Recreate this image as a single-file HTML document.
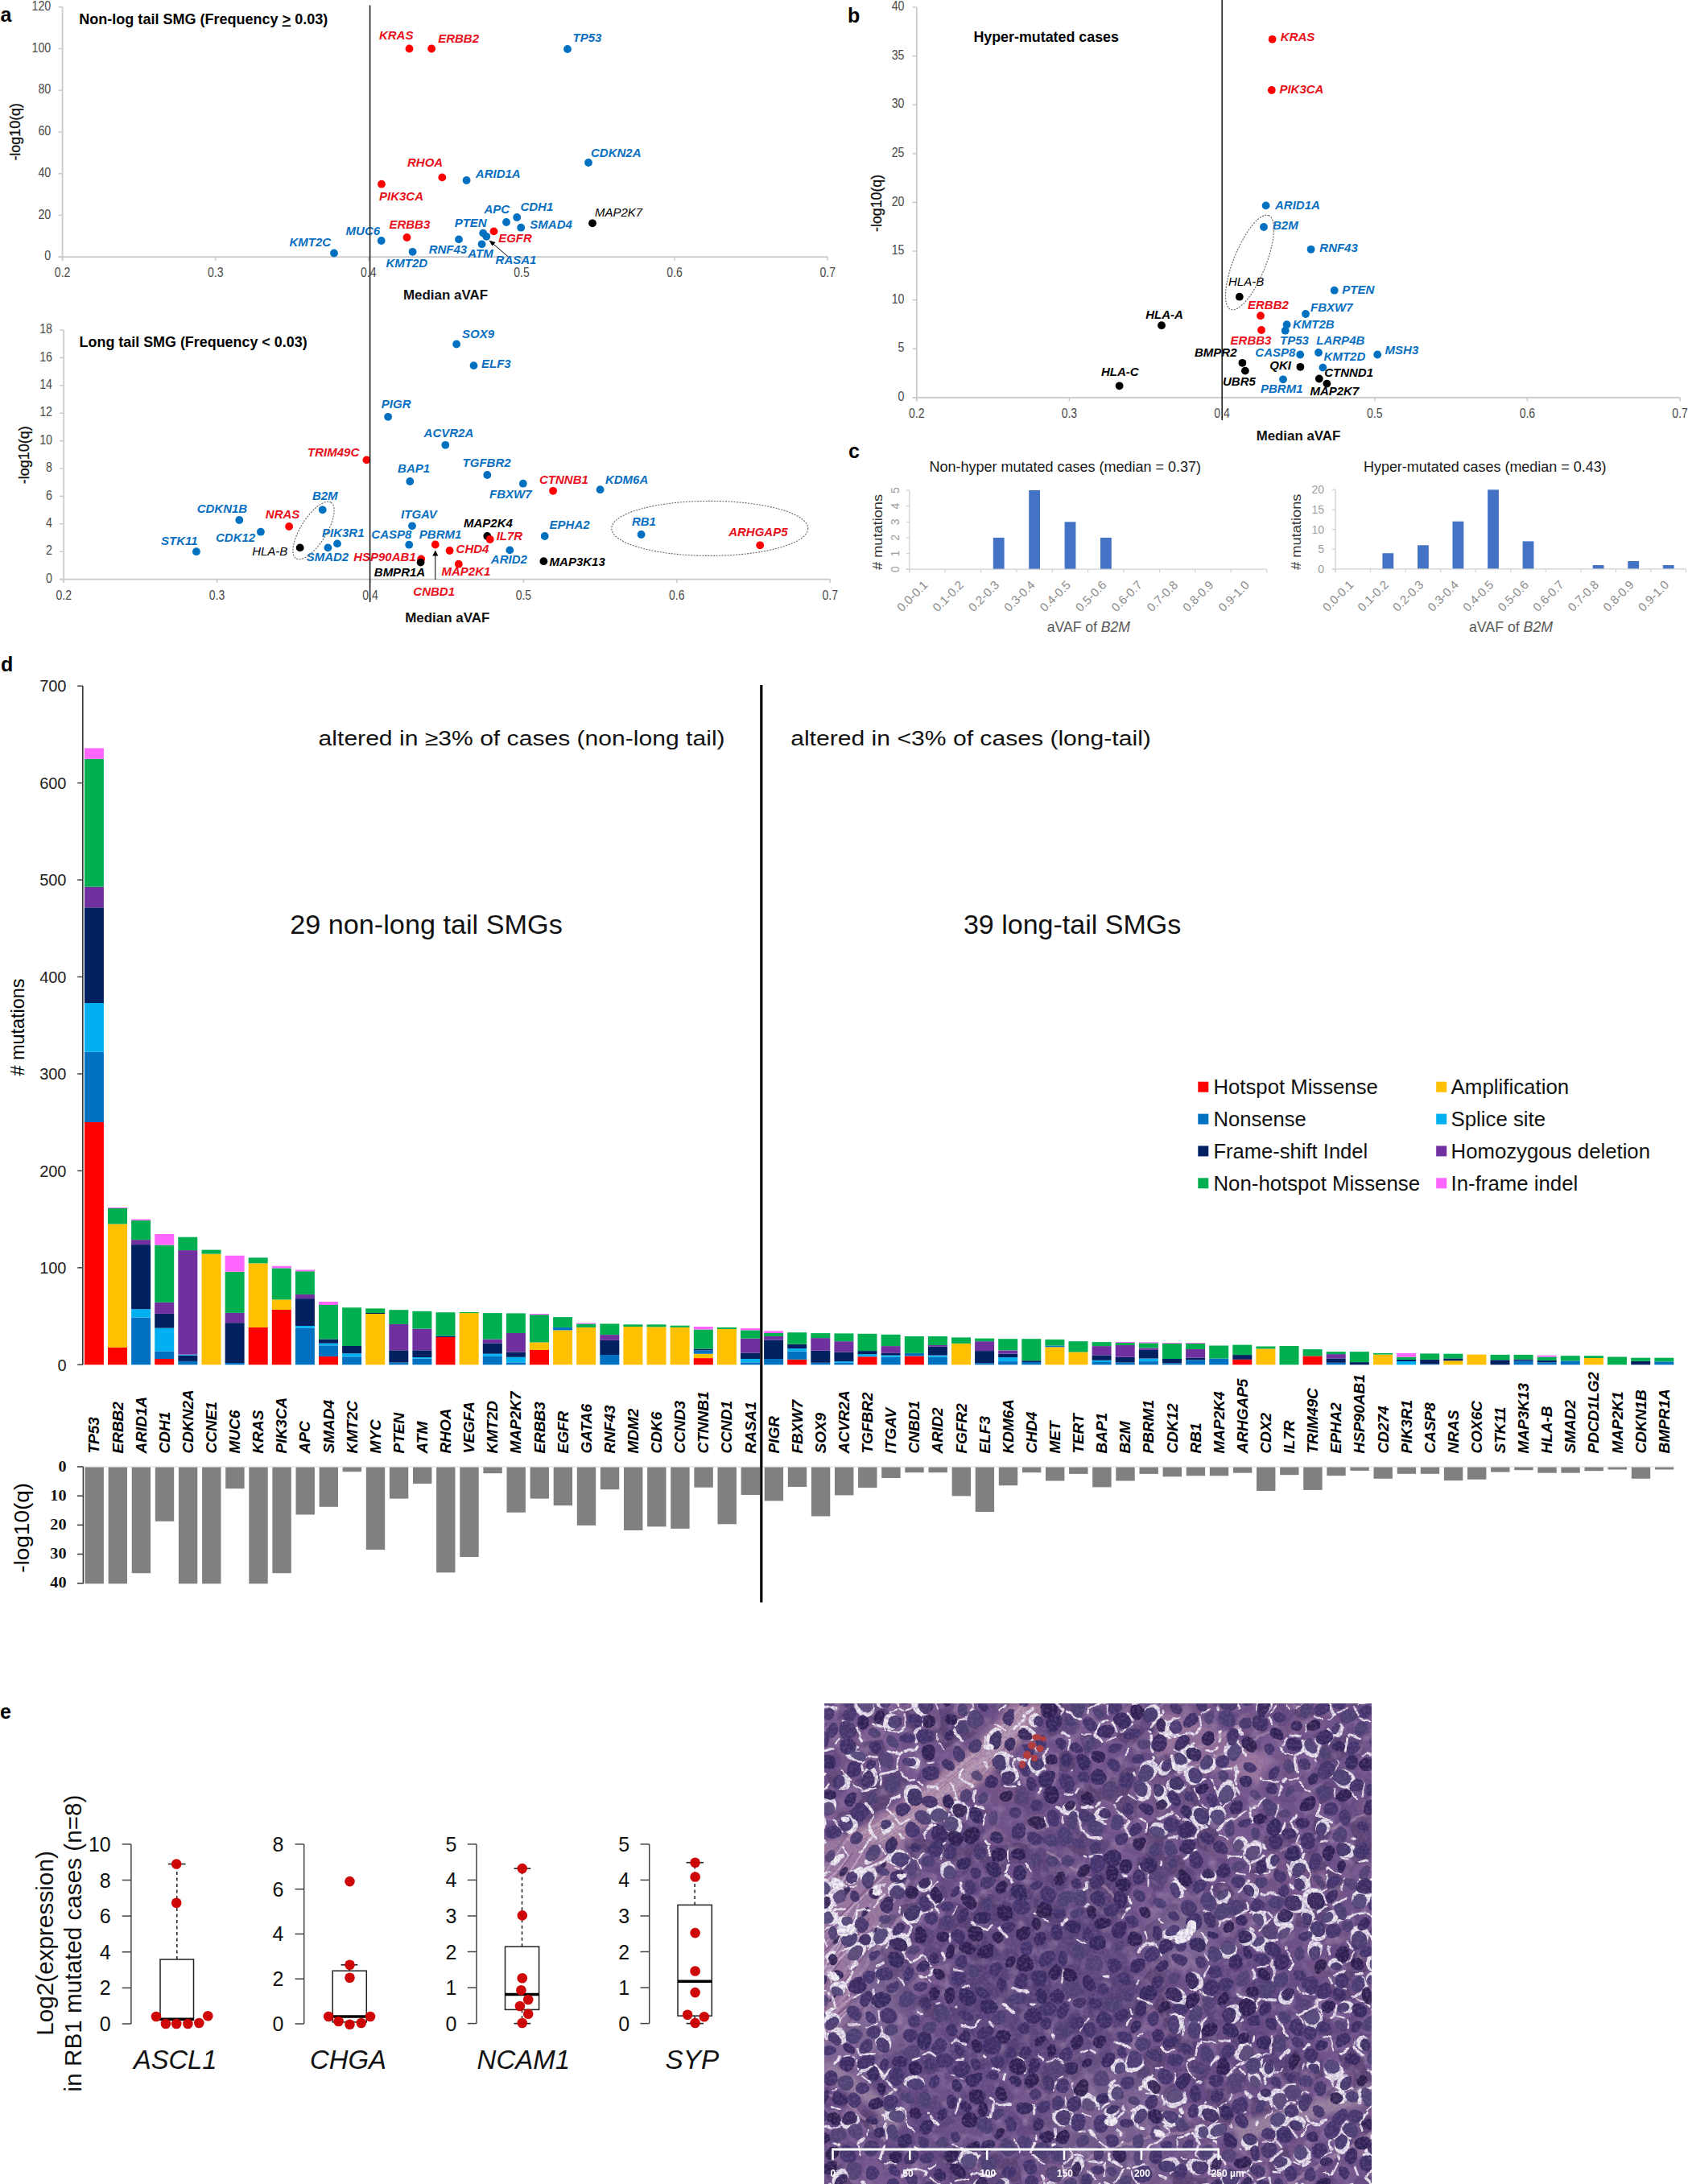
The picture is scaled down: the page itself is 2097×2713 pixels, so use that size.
<!DOCTYPE html>
<html><head><meta charset="utf-8"><title>Figure</title>
<style>
html,body{margin:0;padding:0;background:#fff;}
body{width:2097px;height:2713px;overflow:hidden;}
svg{display:block;}
</style></head><body>
<svg width="2097" height="2713" viewBox="0 0 2097 2713" font-family='"Liberation Sans", Arial, sans-serif'>
<rect width="2097" height="2713" fill="#fff"/>
<line x1="77.6" y1="8.8" x2="77.6" y2="323.6" stroke="#c8c8c8" stroke-width="1.7"/>
<line x1="72.6" y1="319.1" x2="77.6" y2="319.1" stroke="#c8c8c8" stroke-width="1.5"/>
<text x="63.2" y="323.3" font-size="16" fill="#4a4a4a" text-anchor="end" textLength="7.9" lengthAdjust="spacingAndGlyphs">0</text>
<line x1="72.6" y1="267.4" x2="77.6" y2="267.4" stroke="#c8c8c8" stroke-width="1.5"/>
<text x="63.2" y="271.6" font-size="16" fill="#4a4a4a" text-anchor="end" textLength="15.8" lengthAdjust="spacingAndGlyphs">20</text>
<line x1="72.6" y1="215.7" x2="77.6" y2="215.7" stroke="#c8c8c8" stroke-width="1.5"/>
<text x="63.2" y="219.9" font-size="16" fill="#4a4a4a" text-anchor="end" textLength="15.8" lengthAdjust="spacingAndGlyphs">40</text>
<line x1="72.6" y1="163.9" x2="77.6" y2="163.9" stroke="#c8c8c8" stroke-width="1.5"/>
<text x="63.2" y="168.1" font-size="16" fill="#4a4a4a" text-anchor="end" textLength="15.8" lengthAdjust="spacingAndGlyphs">60</text>
<line x1="72.6" y1="112.2" x2="77.6" y2="112.2" stroke="#c8c8c8" stroke-width="1.5"/>
<text x="63.2" y="116.4" font-size="16" fill="#4a4a4a" text-anchor="end" textLength="15.8" lengthAdjust="spacingAndGlyphs">80</text>
<line x1="72.6" y1="60.5" x2="77.6" y2="60.5" stroke="#c8c8c8" stroke-width="1.5"/>
<text x="63.2" y="64.7" font-size="16" fill="#4a4a4a" text-anchor="end" textLength="23.7" lengthAdjust="spacingAndGlyphs">100</text>
<line x1="72.6" y1="8.8" x2="77.6" y2="8.8" stroke="#c8c8c8" stroke-width="1.5"/>
<text x="63.2" y="13" font-size="16" fill="#4a4a4a" text-anchor="end" textLength="23.7" lengthAdjust="spacingAndGlyphs">120</text>
<line x1="72.6" y1="319.1" x2="1028.2" y2="319.1" stroke="#c8c8c8" stroke-width="1.7"/>
<line x1="77.6" y1="319.1" x2="77.6" y2="323.6" stroke="#c8c8c8" stroke-width="1.5"/>
<text x="77.6" y="343.8" font-size="16" fill="#4a4a4a" text-anchor="middle" textLength="19.5" lengthAdjust="spacingAndGlyphs">0.2</text>
<line x1="267.7" y1="319.1" x2="267.7" y2="323.6" stroke="#c8c8c8" stroke-width="1.5"/>
<text x="267.7" y="343.8" font-size="16" fill="#4a4a4a" text-anchor="middle" textLength="19.5" lengthAdjust="spacingAndGlyphs">0.3</text>
<line x1="457.8" y1="319.1" x2="457.8" y2="323.6" stroke="#c8c8c8" stroke-width="1.5"/>
<text x="457.8" y="343.8" font-size="16" fill="#4a4a4a" text-anchor="middle" textLength="19.5" lengthAdjust="spacingAndGlyphs">0.4</text>
<line x1="648" y1="319.1" x2="648" y2="323.6" stroke="#c8c8c8" stroke-width="1.5"/>
<text x="648" y="343.8" font-size="16" fill="#4a4a4a" text-anchor="middle" textLength="19.5" lengthAdjust="spacingAndGlyphs">0.5</text>
<line x1="838.1" y1="319.1" x2="838.1" y2="323.6" stroke="#c8c8c8" stroke-width="1.5"/>
<text x="838.1" y="343.8" font-size="16" fill="#4a4a4a" text-anchor="middle" textLength="19.5" lengthAdjust="spacingAndGlyphs">0.6</text>
<line x1="1028.2" y1="319.1" x2="1028.2" y2="323.6" stroke="#c8c8c8" stroke-width="1.5"/>
<text x="1028.2" y="343.8" font-size="16" fill="#4a4a4a" text-anchor="middle" textLength="19.5" lengthAdjust="spacingAndGlyphs">0.7</text>
<text x="98.3" y="30.3" font-size="17.5" fill="#000" font-weight="bold" textLength="309" lengthAdjust="spacingAndGlyphs">Non-log tail SMG (Frequency <tspan text-decoration="underline">&gt;</tspan> 0.03)</text>
<text x="25" y="163.8" font-size="17.5" fill="#111" text-anchor="middle" textLength="71.6" lengthAdjust="spacingAndGlyphs" transform="rotate(-90 25 163.8)" stroke="#111" stroke-width="0.3">-log10(q)</text>
<text x="500.9" y="372" font-size="17" fill="#111" font-weight="bold" textLength="105.2" lengthAdjust="spacingAndGlyphs">Median aVAF</text>
<text x="0.5" y="26.5" font-size="25" fill="#000" font-weight="bold">a</text>
<circle cx="508.5" cy="60.5" r="4.9" fill="#ff0000"/>
<text x="470.9" y="48.8" font-size="15" fill="#e8101a" font-weight="bold" font-style="italic">KRAS</text>
<circle cx="536.1" cy="60.5" r="4.9" fill="#ff0000"/>
<text x="544.2" y="52.7" font-size="15" fill="#e8101a" font-weight="bold" font-style="italic">ERBB2</text>
<circle cx="705" cy="61" r="4.9" fill="#0070c0"/>
<text x="711.6" y="52" font-size="15" fill="#0a6fbf" font-weight="bold" font-style="italic">TP53</text>
<circle cx="731" cy="202" r="4.9" fill="#0070c0"/>
<text x="734" y="194.8" font-size="15" fill="#0a6fbf" font-weight="bold" font-style="italic">CDKN2A</text>
<circle cx="549.3" cy="220.4" r="4.9" fill="#ff0000"/>
<text x="506" y="207.3" font-size="15" fill="#e8101a" font-weight="bold" font-style="italic">RHOA</text>
<circle cx="579.6" cy="224" r="4.9" fill="#0070c0"/>
<text x="590.8" y="220.9" font-size="15" fill="#0a6fbf" font-weight="bold" font-style="italic">ARID1A</text>
<circle cx="474" cy="228.7" r="4.9" fill="#ff0000"/>
<text x="471" y="248.8" font-size="15" fill="#e8101a" font-weight="bold" font-style="italic">PIK3CA</text>
<circle cx="629" cy="276" r="4.9" fill="#0070c0"/>
<text x="601.4" y="265.4" font-size="15" fill="#0a6fbf" font-weight="bold" font-style="italic">APC</text>
<circle cx="642.2" cy="270" r="4.9" fill="#0070c0"/>
<text x="646.4" y="261.8" font-size="15" fill="#0a6fbf" font-weight="bold" font-style="italic">CDH1</text>
<circle cx="647.2" cy="282.7" r="4.9" fill="#0070c0"/>
<text x="658.3" y="284.4" font-size="15" fill="#0a6fbf" font-weight="bold" font-style="italic">SMAD4</text>
<circle cx="736" cy="277.3" r="4.9" fill="#000000"/>
<text x="738.9" y="269" font-size="15" fill="#000" font-style="italic">MAP2K7</text>
<circle cx="600.2" cy="289.6" r="4.9" fill="#0070c0"/>
<circle cx="604.3" cy="293.8" r="4.9" fill="#0070c0"/>
<text x="564.7" y="282" font-size="15" fill="#0a6fbf" font-weight="bold" font-style="italic">PTEN</text>
<circle cx="613.5" cy="287.4" r="4.9" fill="#ff0000"/>
<text x="619.2" y="301" font-size="15" fill="#e8101a" font-weight="bold" font-style="italic">EGFR</text>
<circle cx="505.5" cy="295" r="4.9" fill="#ff0000"/>
<text x="483.4" y="284.4" font-size="15" fill="#e8101a" font-weight="bold" font-style="italic">ERBB3</text>
<circle cx="473.7" cy="299" r="4.9" fill="#0070c0"/>
<text x="429.6" y="291.5" font-size="15" fill="#0a6fbf" font-weight="bold" font-style="italic">MUC6</text>
<circle cx="570" cy="297.4" r="4.9" fill="#0070c0"/>
<text x="532.7" y="315.2" font-size="15" fill="#0a6fbf" font-weight="bold" font-style="italic">RNF43</text>
<circle cx="598.6" cy="303.3" r="4.9" fill="#0070c0"/>
<text x="581.3" y="320.4" font-size="15" fill="#0a6fbf" font-weight="bold" font-style="italic">ATM</text>
<text x="615.6" y="328.2" font-size="15" fill="#0a6fbf" font-weight="bold" font-style="italic">RASA1</text>
<circle cx="512.6" cy="312.8" r="4.9" fill="#0070c0"/>
<text x="479.4" y="331.8" font-size="15" fill="#0a6fbf" font-weight="bold" font-style="italic">KMT2D</text>
<circle cx="415" cy="314.5" r="4.9" fill="#0070c0"/>
<text x="359.5" y="306" font-size="15" fill="#0a6fbf" font-weight="bold" font-style="italic">KMT2C</text>
<line x1="631" y1="318.7" x2="611" y2="301.5" stroke="#000" stroke-width="1"/>
<polygon points="607.5,298.5 615.5,301 611.5,305.5" fill="#000"/>
<line x1="79.2" y1="410" x2="79.2" y2="724.1" stroke="#c8c8c8" stroke-width="1.7"/>
<line x1="74.2" y1="719.6" x2="79.2" y2="719.6" stroke="#c8c8c8" stroke-width="1.5"/>
<text x="65" y="723.8" font-size="16" fill="#4a4a4a" text-anchor="end" textLength="7.9" lengthAdjust="spacingAndGlyphs">0</text>
<line x1="74.2" y1="685.2" x2="79.2" y2="685.2" stroke="#c8c8c8" stroke-width="1.5"/>
<text x="65" y="689.4" font-size="16" fill="#4a4a4a" text-anchor="end" textLength="7.9" lengthAdjust="spacingAndGlyphs">2</text>
<line x1="74.2" y1="650.8" x2="79.2" y2="650.8" stroke="#c8c8c8" stroke-width="1.5"/>
<text x="65" y="655" font-size="16" fill="#4a4a4a" text-anchor="end" textLength="7.9" lengthAdjust="spacingAndGlyphs">4</text>
<line x1="74.2" y1="616.4" x2="79.2" y2="616.4" stroke="#c8c8c8" stroke-width="1.5"/>
<text x="65" y="620.6" font-size="16" fill="#4a4a4a" text-anchor="end" textLength="7.9" lengthAdjust="spacingAndGlyphs">6</text>
<line x1="74.2" y1="582" x2="79.2" y2="582" stroke="#c8c8c8" stroke-width="1.5"/>
<text x="65" y="586.2" font-size="16" fill="#4a4a4a" text-anchor="end" textLength="7.9" lengthAdjust="spacingAndGlyphs">8</text>
<line x1="74.2" y1="547.6" x2="79.2" y2="547.6" stroke="#c8c8c8" stroke-width="1.5"/>
<text x="65" y="551.8" font-size="16" fill="#4a4a4a" text-anchor="end" textLength="15.8" lengthAdjust="spacingAndGlyphs">10</text>
<line x1="74.2" y1="513.2" x2="79.2" y2="513.2" stroke="#c8c8c8" stroke-width="1.5"/>
<text x="65" y="517.4" font-size="16" fill="#4a4a4a" text-anchor="end" textLength="15.8" lengthAdjust="spacingAndGlyphs">12</text>
<line x1="74.2" y1="478.8" x2="79.2" y2="478.8" stroke="#c8c8c8" stroke-width="1.5"/>
<text x="65" y="483" font-size="16" fill="#4a4a4a" text-anchor="end" textLength="15.8" lengthAdjust="spacingAndGlyphs">14</text>
<line x1="74.2" y1="444.4" x2="79.2" y2="444.4" stroke="#c8c8c8" stroke-width="1.5"/>
<text x="65" y="448.6" font-size="16" fill="#4a4a4a" text-anchor="end" textLength="15.8" lengthAdjust="spacingAndGlyphs">16</text>
<line x1="74.2" y1="410" x2="79.2" y2="410" stroke="#c8c8c8" stroke-width="1.5"/>
<text x="65" y="414.2" font-size="16" fill="#4a4a4a" text-anchor="end" textLength="15.8" lengthAdjust="spacingAndGlyphs">18</text>
<line x1="74.2" y1="719.6" x2="1031.2" y2="719.6" stroke="#c8c8c8" stroke-width="1.7"/>
<line x1="79.2" y1="719.6" x2="79.2" y2="724.1" stroke="#c8c8c8" stroke-width="1.5"/>
<text x="79.2" y="745" font-size="16" fill="#4a4a4a" text-anchor="middle" textLength="19.5" lengthAdjust="spacingAndGlyphs">0.2</text>
<line x1="269.6" y1="719.6" x2="269.6" y2="724.1" stroke="#c8c8c8" stroke-width="1.5"/>
<text x="269.6" y="745" font-size="16" fill="#4a4a4a" text-anchor="middle" textLength="19.5" lengthAdjust="spacingAndGlyphs">0.3</text>
<line x1="460" y1="719.6" x2="460" y2="724.1" stroke="#c8c8c8" stroke-width="1.5"/>
<text x="460" y="745" font-size="16" fill="#4a4a4a" text-anchor="middle" textLength="19.5" lengthAdjust="spacingAndGlyphs">0.4</text>
<line x1="650.4" y1="719.6" x2="650.4" y2="724.1" stroke="#c8c8c8" stroke-width="1.5"/>
<text x="650.4" y="745" font-size="16" fill="#4a4a4a" text-anchor="middle" textLength="19.5" lengthAdjust="spacingAndGlyphs">0.5</text>
<line x1="840.8" y1="719.6" x2="840.8" y2="724.1" stroke="#c8c8c8" stroke-width="1.5"/>
<text x="840.8" y="745" font-size="16" fill="#4a4a4a" text-anchor="middle" textLength="19.5" lengthAdjust="spacingAndGlyphs">0.6</text>
<line x1="1031.2" y1="719.6" x2="1031.2" y2="724.1" stroke="#c8c8c8" stroke-width="1.5"/>
<text x="1031.2" y="745" font-size="16" fill="#4a4a4a" text-anchor="middle" textLength="19.5" lengthAdjust="spacingAndGlyphs">0.7</text>
<text x="98.6" y="431.2" font-size="17.5" fill="#000" font-weight="bold" textLength="283" lengthAdjust="spacingAndGlyphs">Long tail SMG (Frequency &lt; 0.03)</text>
<text x="36" y="565.3" font-size="17.5" fill="#111" text-anchor="middle" textLength="72" lengthAdjust="spacingAndGlyphs" transform="rotate(-90 36 565.3)" stroke="#111" stroke-width="0.3">-log10(q)</text>
<text x="503.2" y="773.2" font-size="17" fill="#111" font-weight="bold" textLength="105.2" lengthAdjust="spacingAndGlyphs">Median aVAF</text>
<circle cx="243.9" cy="685.2" r="4.9" fill="#0070c0"/>
<text x="200" y="677.3" font-size="15" fill="#0a6fbf" font-weight="bold" font-style="italic">STK11</text>
<circle cx="297.3" cy="646" r="4.9" fill="#0070c0"/>
<text x="244.7" y="636.5" font-size="15" fill="#0a6fbf" font-weight="bold" font-style="italic">CDKN1B</text>
<circle cx="323.9" cy="660.7" r="4.9" fill="#0070c0"/>
<text x="268" y="672.7" font-size="15" fill="#0a6fbf" font-weight="bold" font-style="italic">CDK12</text>
<circle cx="359.1" cy="654" r="4.9" fill="#ff0000"/>
<text x="329.8" y="644" font-size="15" fill="#e8101a" font-weight="bold" font-style="italic">NRAS</text>
<circle cx="400.7" cy="633.3" r="4.9" fill="#0070c0"/>
<text x="387.9" y="620.5" font-size="15" fill="#0a6fbf" font-weight="bold" font-style="italic">B2M</text>
<circle cx="372.7" cy="680.4" r="4.9" fill="#000000"/>
<text x="313.2" y="689.8" font-size="15" fill="#000" font-style="italic">HLA-B</text>
<circle cx="407.4" cy="680.4" r="4.9" fill="#0070c0"/>
<text x="380.7" y="697.2" font-size="15" fill="#0a6fbf" font-weight="bold" font-style="italic">SMAD2</text>
<circle cx="419" cy="675.4" r="4.9" fill="#0070c0"/>
<text x="400" y="666.6" font-size="15" fill="#0a6fbf" font-weight="bold" font-style="italic">PIK3R1</text>
<circle cx="455.4" cy="571.4" r="4.9" fill="#ff0000"/>
<text x="382.1" y="566.6" font-size="15" fill="#e8101a" font-weight="bold" font-style="italic">TRIM49C</text>
<circle cx="567.1" cy="427.5" r="4.9" fill="#0070c0"/>
<text x="574.1" y="420" font-size="15" fill="#0a6fbf" font-weight="bold" font-style="italic">SOX9</text>
<circle cx="588.5" cy="454.1" r="4.9" fill="#0070c0"/>
<text x="598" y="457.3" font-size="15" fill="#0a6fbf" font-weight="bold" font-style="italic">ELF3</text>
<circle cx="482.1" cy="517.8" r="4.9" fill="#0070c0"/>
<text x="473.8" y="506.6" font-size="15" fill="#0a6fbf" font-weight="bold" font-style="italic">PIGR</text>
<circle cx="553.3" cy="552.8" r="4.9" fill="#0070c0"/>
<text x="526.6" y="542.6" font-size="15" fill="#0a6fbf" font-weight="bold" font-style="italic">ACVR2A</text>
<circle cx="509.3" cy="598" r="4.9" fill="#0070c0"/>
<text x="494.1" y="587.4" font-size="15" fill="#0a6fbf" font-weight="bold" font-style="italic">BAP1</text>
<circle cx="605.3" cy="590" r="4.9" fill="#0070c0"/>
<text x="574.6" y="580" font-size="15" fill="#0a6fbf" font-weight="bold" font-style="italic">TGFBR2</text>
<circle cx="649.8" cy="600.7" r="4.9" fill="#0070c0"/>
<text x="608" y="618.6" font-size="15" fill="#0a6fbf" font-weight="bold" font-style="italic">FBXW7</text>
<circle cx="687.1" cy="609.8" r="4.9" fill="#ff0000"/>
<text x="670" y="600.5" font-size="15" fill="#e8101a" font-weight="bold" font-style="italic">CTNNB1</text>
<circle cx="745.6" cy="608.2" r="4.9" fill="#0070c0"/>
<text x="751.9" y="601.3" font-size="15" fill="#0a6fbf" font-weight="bold" font-style="italic">KDM6A</text>
<circle cx="512" cy="653.3" r="4.9" fill="#0070c0"/>
<text x="498.1" y="643.9" font-size="15" fill="#0a6fbf" font-weight="bold" font-style="italic">ITGAV</text>
<circle cx="605.3" cy="666" r="4.9" fill="#000000"/>
<text x="576" y="654.6" font-size="15" fill="#000" font-weight="bold" font-style="italic">MAP2K4</text>
<circle cx="608.7" cy="670" r="4.9" fill="#ff0000"/>
<text x="616.7" y="671.1" font-size="15" fill="#e8101a" font-weight="bold" font-style="italic">IL7R</text>
<circle cx="676.7" cy="666" r="4.9" fill="#0070c0"/>
<text x="682.6" y="657.3" font-size="15" fill="#0a6fbf" font-weight="bold" font-style="italic">EPHA2</text>
<circle cx="796.6" cy="664" r="4.9" fill="#0070c0"/>
<text x="784.9" y="652.8" font-size="15" fill="#0a6fbf" font-weight="bold" font-style="italic">RB1</text>
<circle cx="944.2" cy="677.3" r="4.9" fill="#ff0000"/>
<text x="905.2" y="665.6" font-size="15" fill="#e8101a" font-weight="bold" font-style="italic">ARHGAP5</text>
<circle cx="508.2" cy="676.7" r="4.9" fill="#0070c0"/>
<text x="461.3" y="668.7" font-size="15" fill="#0a6fbf" font-weight="bold" font-style="italic">CASP8</text>
<text x="520.8" y="668.7" font-size="15" fill="#0a6fbf" font-weight="bold" font-style="italic">PBRM1</text>
<circle cx="540.8" cy="676.5" r="4.9" fill="#ff0000"/>
<text x="513.3" y="740.4" font-size="15" fill="#e8101a" font-weight="bold" font-style="italic">CNBD1</text>
<circle cx="558.6" cy="684" r="4.9" fill="#ff0000"/>
<text x="566.6" y="687.4" font-size="15" fill="#e8101a" font-weight="bold" font-style="italic">CHD4</text>
<circle cx="633.3" cy="683.4" r="4.9" fill="#0070c0"/>
<text x="609.8" y="699.9" font-size="15" fill="#0a6fbf" font-weight="bold" font-style="italic">ARID2</text>
<circle cx="523.2" cy="694.4" r="4.9" fill="#ff0000"/>
<text x="439.2" y="697.2" font-size="15" fill="#e8101a" font-weight="bold" font-style="italic">HSP90AB1</text>
<circle cx="522.6" cy="698.6" r="4.9" fill="#000000"/>
<text x="464.8" y="715.9" font-size="15" fill="#000" font-weight="bold" font-style="italic">BMPR1A</text>
<circle cx="569.8" cy="700.7" r="4.9" fill="#ff0000"/>
<text x="548.5" y="715.4" font-size="15" fill="#e8101a" font-weight="bold" font-style="italic">MAP2K1</text>
<circle cx="675.4" cy="697.2" r="4.9" fill="#000000"/>
<text x="682.6" y="702.6" font-size="15" fill="#000" font-weight="bold" font-style="italic">MAP3K13</text>
<line x1="540.8" y1="720" x2="540.8" y2="689" stroke="#000" stroke-width="1"/>
<polygon points="540.8,683.5 537.3,690.5 544.3,690.5" fill="#000"/>
<ellipse cx="389.5" cy="659" rx="41" ry="16" fill="none" stroke="#666" stroke-width="1.1" stroke-dasharray="2,1.5" transform="rotate(-58 389.5 659)"/>
<ellipse cx="881.8" cy="656.4" rx="122" ry="34" fill="none" stroke="#666" stroke-width="1.1" stroke-dasharray="2,1.5"/>
<line x1="459.6" y1="6.5" x2="459.6" y2="748" stroke="#222" stroke-width="1.6"/>
<line x1="1138.8" y1="9" x2="1138.8" y2="498.3" stroke="#c8c8c8" stroke-width="1.7"/>
<line x1="1133.8" y1="493.8" x2="1138.8" y2="493.8" stroke="#c8c8c8" stroke-width="1.5"/>
<text x="1123.5" y="498" font-size="16" fill="#4a4a4a" text-anchor="end" textLength="7.9" lengthAdjust="spacingAndGlyphs">0</text>
<line x1="1133.8" y1="433.2" x2="1138.8" y2="433.2" stroke="#c8c8c8" stroke-width="1.5"/>
<text x="1123.5" y="437.4" font-size="16" fill="#4a4a4a" text-anchor="end" textLength="7.9" lengthAdjust="spacingAndGlyphs">5</text>
<line x1="1133.8" y1="372.6" x2="1138.8" y2="372.6" stroke="#c8c8c8" stroke-width="1.5"/>
<text x="1123.5" y="376.8" font-size="16" fill="#4a4a4a" text-anchor="end" textLength="15.8" lengthAdjust="spacingAndGlyphs">10</text>
<line x1="1133.8" y1="312" x2="1138.8" y2="312" stroke="#c8c8c8" stroke-width="1.5"/>
<text x="1123.5" y="316.2" font-size="16" fill="#4a4a4a" text-anchor="end" textLength="15.8" lengthAdjust="spacingAndGlyphs">15</text>
<line x1="1133.8" y1="251.4" x2="1138.8" y2="251.4" stroke="#c8c8c8" stroke-width="1.5"/>
<text x="1123.5" y="255.6" font-size="16" fill="#4a4a4a" text-anchor="end" textLength="15.8" lengthAdjust="spacingAndGlyphs">20</text>
<line x1="1133.8" y1="190.8" x2="1138.8" y2="190.8" stroke="#c8c8c8" stroke-width="1.5"/>
<text x="1123.5" y="195" font-size="16" fill="#4a4a4a" text-anchor="end" textLength="15.8" lengthAdjust="spacingAndGlyphs">25</text>
<line x1="1133.8" y1="130.2" x2="1138.8" y2="130.2" stroke="#c8c8c8" stroke-width="1.5"/>
<text x="1123.5" y="134.4" font-size="16" fill="#4a4a4a" text-anchor="end" textLength="15.8" lengthAdjust="spacingAndGlyphs">30</text>
<line x1="1133.8" y1="69.6" x2="1138.8" y2="69.6" stroke="#c8c8c8" stroke-width="1.5"/>
<text x="1123.5" y="73.8" font-size="16" fill="#4a4a4a" text-anchor="end" textLength="15.8" lengthAdjust="spacingAndGlyphs">35</text>
<line x1="1133.8" y1="9" x2="1138.8" y2="9" stroke="#c8c8c8" stroke-width="1.5"/>
<text x="1123.5" y="13.2" font-size="16" fill="#4a4a4a" text-anchor="end" textLength="15.8" lengthAdjust="spacingAndGlyphs">40</text>
<line x1="1133.8" y1="493.8" x2="2087" y2="493.8" stroke="#c8c8c8" stroke-width="1.7"/>
<line x1="1138.8" y1="493.8" x2="1138.8" y2="498.3" stroke="#c8c8c8" stroke-width="1.5"/>
<text x="1138.8" y="519.3" font-size="16" fill="#4a4a4a" text-anchor="middle" textLength="19.5" lengthAdjust="spacingAndGlyphs">0.2</text>
<line x1="1328.4" y1="493.8" x2="1328.4" y2="498.3" stroke="#c8c8c8" stroke-width="1.5"/>
<text x="1328.4" y="519.3" font-size="16" fill="#4a4a4a" text-anchor="middle" textLength="19.5" lengthAdjust="spacingAndGlyphs">0.3</text>
<line x1="1518.1" y1="493.8" x2="1518.1" y2="498.3" stroke="#c8c8c8" stroke-width="1.5"/>
<text x="1518.1" y="519.3" font-size="16" fill="#4a4a4a" text-anchor="middle" textLength="19.5" lengthAdjust="spacingAndGlyphs">0.4</text>
<line x1="1707.7" y1="493.8" x2="1707.7" y2="498.3" stroke="#c8c8c8" stroke-width="1.5"/>
<text x="1707.7" y="519.3" font-size="16" fill="#4a4a4a" text-anchor="middle" textLength="19.5" lengthAdjust="spacingAndGlyphs">0.5</text>
<line x1="1897.4" y1="493.8" x2="1897.4" y2="498.3" stroke="#c8c8c8" stroke-width="1.5"/>
<text x="1897.4" y="519.3" font-size="16" fill="#4a4a4a" text-anchor="middle" textLength="19.5" lengthAdjust="spacingAndGlyphs">0.6</text>
<line x1="2087" y1="493.8" x2="2087" y2="498.3" stroke="#c8c8c8" stroke-width="1.5"/>
<text x="2087" y="519.3" font-size="16" fill="#4a4a4a" text-anchor="middle" textLength="19.5" lengthAdjust="spacingAndGlyphs">0.7</text>
<text x="1053" y="27.5" font-size="25" fill="#000" font-weight="bold">b</text>
<text x="1209.4" y="52" font-size="17.5" fill="#000" font-weight="bold" textLength="180.6" lengthAdjust="spacingAndGlyphs">Hyper-mutated cases</text>
<text x="1094.8" y="252.4" font-size="17.5" fill="#111" text-anchor="middle" textLength="71.1" lengthAdjust="spacingAndGlyphs" transform="rotate(-90 1094.8 252.4)" stroke="#111" stroke-width="0.3">-log10(q)</text>
<text x="1560.7" y="547.3" font-size="17" fill="#111" font-weight="bold" textLength="104.5" lengthAdjust="spacingAndGlyphs">Median aVAF</text>
<circle cx="1580.6" cy="48.8" r="4.9" fill="#ff0000"/>
<text x="1590.8" y="51.2" font-size="15" fill="#e8101a" font-weight="bold" font-style="italic">KRAS</text>
<circle cx="1579.8" cy="112" r="4.9" fill="#ff0000"/>
<text x="1589.4" y="116" font-size="15" fill="#e8101a" font-weight="bold" font-style="italic">PIK3CA</text>
<circle cx="1572.6" cy="255.4" r="4.9" fill="#0070c0"/>
<text x="1584" y="260" font-size="15" fill="#0a6fbf" font-weight="bold" font-style="italic">ARID1A</text>
<circle cx="1570" cy="282" r="4.9" fill="#0070c0"/>
<text x="1581" y="285.3" font-size="15" fill="#0a6fbf" font-weight="bold" font-style="italic">B2M</text>
<circle cx="1628.6" cy="309.8" r="4.9" fill="#0070c0"/>
<text x="1639.3" y="313.2" font-size="15" fill="#0a6fbf" font-weight="bold" font-style="italic">RNF43</text>
<circle cx="1539.8" cy="368.7" r="4.9" fill="#000000"/>
<text x="1526" y="354.6" font-size="15" fill="#000" font-style="italic">HLA-B</text>
<circle cx="1657.7" cy="360.7" r="4.9" fill="#0070c0"/>
<text x="1667.3" y="364.7" font-size="15" fill="#0a6fbf" font-weight="bold" font-style="italic">PTEN</text>
<circle cx="1566" cy="392.2" r="4.9" fill="#ff0000"/>
<text x="1550" y="383.9" font-size="15" fill="#e8101a" font-weight="bold" font-style="italic">ERBB2</text>
<circle cx="1622" cy="390" r="4.9" fill="#0070c0"/>
<text x="1628" y="386.6" font-size="15" fill="#0a6fbf" font-weight="bold" font-style="italic">FBXW7</text>
<circle cx="1598.6" cy="403.2" r="4.9" fill="#0070c0"/>
<circle cx="1596.7" cy="410.7" r="4.9" fill="#0070c0"/>
<text x="1606" y="408" font-size="15" fill="#0a6fbf" font-weight="bold" font-style="italic">KMT2B</text>
<circle cx="1567" cy="410" r="4.9" fill="#ff0000"/>
<text x="1528.6" y="427.9" font-size="15" fill="#e8101a" font-weight="bold" font-style="italic">ERBB3</text>
<text x="1590" y="427.9" font-size="15" fill="#0a6fbf" font-weight="bold" font-style="italic">TP53</text>
<circle cx="1638" cy="438" r="4.9" fill="#0070c0"/>
<text x="1635.3" y="427.9" font-size="15" fill="#0a6fbf" font-weight="bold" font-style="italic">LARP4B</text>
<circle cx="1711.2" cy="440.5" r="4.9" fill="#0070c0"/>
<text x="1720.6" y="439.9" font-size="15" fill="#0a6fbf" font-weight="bold" font-style="italic">MSH3</text>
<circle cx="1615.2" cy="440.5" r="4.9" fill="#0070c0"/>
<text x="1559.3" y="442.5" font-size="15" fill="#0a6fbf" font-weight="bold" font-style="italic">CASP8</text>
<circle cx="1643.4" cy="456.6" r="4.9" fill="#0070c0"/>
<text x="1644.6" y="447.9" font-size="15" fill="#0a6fbf" font-weight="bold" font-style="italic">KMT2D</text>
<circle cx="1443" cy="404.2" r="4.9" fill="#000000"/>
<text x="1423.2" y="395.9" font-size="15" fill="#000" font-weight="bold" font-style="italic">HLA-A</text>
<circle cx="1390.6" cy="479.3" r="4.9" fill="#000000"/>
<text x="1368" y="467.3" font-size="15" fill="#000" font-weight="bold" font-style="italic">HLA-C</text>
<circle cx="1543.4" cy="450.8" r="4.9" fill="#000000"/>
<text x="1484" y="442.6" font-size="15" fill="#000" font-weight="bold" font-style="italic">BMPR2</text>
<circle cx="1546.9" cy="460.6" r="4.9" fill="#000000"/>
<text x="1519" y="478.5" font-size="15" fill="#000" font-weight="bold" font-style="italic">UBR5</text>
<circle cx="1615.4" cy="455.8" r="4.9" fill="#000000"/>
<text x="1577.3" y="458.8" font-size="15" fill="#000" font-weight="bold" font-style="italic">QKI</text>
<circle cx="1594" cy="471.3" r="4.9" fill="#0070c0"/>
<text x="1566" y="488" font-size="15" fill="#0a6fbf" font-weight="bold" font-style="italic">PBRM1</text>
<circle cx="1638.8" cy="470.5" r="4.9" fill="#000000"/>
<text x="1645.2" y="467.8" font-size="15" fill="#000" font-weight="bold" font-style="italic">CTNND1</text>
<circle cx="1648.4" cy="476.6" r="4.9" fill="#000000"/>
<text x="1627.4" y="491.3" font-size="15" fill="#000" font-weight="bold" font-style="italic">MAP2K7</text>
<ellipse cx="1552.5" cy="326" rx="63" ry="20" fill="none" stroke="#666" stroke-width="1.1" stroke-dasharray="2,1.5" transform="rotate(-68 1552.5 326)"/>
<line x1="1518.2" y1="0" x2="1518.2" y2="522" stroke="#222" stroke-width="1.6"/>
<text x="1054" y="568.5" font-size="25" fill="#000" font-weight="bold">c</text>
<rect x="1233.8" y="667.9" width="13.8" height="39.3" fill="#4472c4"/>
<rect x="1278.2" y="609" width="13.8" height="98.2" fill="#4472c4"/>
<rect x="1322.6" y="648.3" width="13.8" height="58.9" fill="#4472c4"/>
<rect x="1367" y="667.9" width="13.8" height="39.3" fill="#4472c4"/>
<line x1="1129.8" y1="609" x2="1129.8" y2="711.2" stroke="#d0d0d0" stroke-width="1.3"/>
<line x1="1125.8" y1="707.2" x2="1573.6" y2="707.2" stroke="#d0d0d0" stroke-width="1.3"/>
<line x1="1125.8" y1="707.2" x2="1129.8" y2="707.2" stroke="#d0d0d0" stroke-width="1.2"/>
<text x="1112" y="707.2" font-size="14" fill="#a0a0a0" text-anchor="middle" transform="rotate(-90 1112 707.2)" dy="5">0</text>
<line x1="1125.8" y1="687.6" x2="1129.8" y2="687.6" stroke="#d0d0d0" stroke-width="1.2"/>
<text x="1112" y="687.6" font-size="14" fill="#a0a0a0" text-anchor="middle" transform="rotate(-90 1112 687.6)" dy="5">1</text>
<line x1="1125.8" y1="667.9" x2="1129.8" y2="667.9" stroke="#d0d0d0" stroke-width="1.2"/>
<text x="1112" y="667.9" font-size="14" fill="#a0a0a0" text-anchor="middle" transform="rotate(-90 1112 667.9)" dy="5">2</text>
<line x1="1125.8" y1="648.3" x2="1129.8" y2="648.3" stroke="#d0d0d0" stroke-width="1.2"/>
<text x="1112" y="648.3" font-size="14" fill="#a0a0a0" text-anchor="middle" transform="rotate(-90 1112 648.3)" dy="5">3</text>
<line x1="1125.8" y1="628.6" x2="1129.8" y2="628.6" stroke="#d0d0d0" stroke-width="1.2"/>
<text x="1112" y="628.6" font-size="14" fill="#a0a0a0" text-anchor="middle" transform="rotate(-90 1112 628.6)" dy="5">4</text>
<line x1="1125.8" y1="609" x2="1129.8" y2="609" stroke="#d0d0d0" stroke-width="1.2"/>
<text x="1112" y="609" font-size="14" fill="#a0a0a0" text-anchor="middle" transform="rotate(-90 1112 609)" dy="5">5</text>
<line x1="1129.8" y1="707.2" x2="1129.8" y2="711.2" stroke="#d0d0d0" stroke-width="1.2"/>
<line x1="1174.2" y1="707.2" x2="1174.2" y2="711.2" stroke="#d0d0d0" stroke-width="1.2"/>
<line x1="1218.6" y1="707.2" x2="1218.6" y2="711.2" stroke="#d0d0d0" stroke-width="1.2"/>
<line x1="1262.9" y1="707.2" x2="1262.9" y2="711.2" stroke="#d0d0d0" stroke-width="1.2"/>
<line x1="1307.3" y1="707.2" x2="1307.3" y2="711.2" stroke="#d0d0d0" stroke-width="1.2"/>
<line x1="1351.7" y1="707.2" x2="1351.7" y2="711.2" stroke="#d0d0d0" stroke-width="1.2"/>
<line x1="1396.1" y1="707.2" x2="1396.1" y2="711.2" stroke="#d0d0d0" stroke-width="1.2"/>
<line x1="1440.5" y1="707.2" x2="1440.5" y2="711.2" stroke="#d0d0d0" stroke-width="1.2"/>
<line x1="1484.8" y1="707.2" x2="1484.8" y2="711.2" stroke="#d0d0d0" stroke-width="1.2"/>
<line x1="1529.2" y1="707.2" x2="1529.2" y2="711.2" stroke="#d0d0d0" stroke-width="1.2"/>
<line x1="1573.6" y1="707.2" x2="1573.6" y2="711.2" stroke="#d0d0d0" stroke-width="1.2"/>
<text x="1153.5" y="727.7" font-size="15" fill="#8c8c8c" text-anchor="end" transform="rotate(-45 1153.5 727.7)">0.0-0.1</text>
<text x="1197.9" y="727.7" font-size="15" fill="#8c8c8c" text-anchor="end" transform="rotate(-45 1197.9 727.7)">0.1-0.2</text>
<text x="1242.2" y="727.7" font-size="15" fill="#8c8c8c" text-anchor="end" transform="rotate(-45 1242.2 727.7)">0.2-0.3</text>
<text x="1286.6" y="727.7" font-size="15" fill="#8c8c8c" text-anchor="end" transform="rotate(-45 1286.6 727.7)">0.3-0.4</text>
<text x="1331" y="727.7" font-size="15" fill="#8c8c8c" text-anchor="end" transform="rotate(-45 1331 727.7)">0.4-0.5</text>
<text x="1375.4" y="727.7" font-size="15" fill="#8c8c8c" text-anchor="end" transform="rotate(-45 1375.4 727.7)">0.5-0.6</text>
<text x="1419.8" y="727.7" font-size="15" fill="#8c8c8c" text-anchor="end" transform="rotate(-45 1419.8 727.7)">0.6-0.7</text>
<text x="1464.1" y="727.7" font-size="15" fill="#8c8c8c" text-anchor="end" transform="rotate(-45 1464.1 727.7)">0.7-0.8</text>
<text x="1508.5" y="727.7" font-size="15" fill="#8c8c8c" text-anchor="end" transform="rotate(-45 1508.5 727.7)">0.8-0.9</text>
<text x="1552.9" y="727.7" font-size="15" fill="#8c8c8c" text-anchor="end" transform="rotate(-45 1552.9 727.7)">0.9-1.0</text>
<text x="1154.5" y="586.2" font-size="17.5" fill="#1a1a1a" textLength="337.5" lengthAdjust="spacingAndGlyphs">Non-hyper mutated cases (median = 0.37)</text>
<text x="1095.5" y="661" font-size="17" fill="#333" text-anchor="middle" textLength="94" lengthAdjust="spacingAndGlyphs" transform="rotate(-90 1095.5 661)"># mutations</text>
<text x="1300.7" y="784.7" font-size="18" fill="#595959" textLength="103.3" lengthAdjust="spacingAndGlyphs">aVAF of <tspan font-style="italic">B2M</tspan></text>
<rect x="1717.4" y="687.2" width="13.8" height="19.7" fill="#4472c4"/>
<rect x="1761" y="677.3" width="13.8" height="29.6" fill="#4472c4"/>
<rect x="1804.5" y="647.7" width="13.8" height="59.2" fill="#4472c4"/>
<rect x="1848.1" y="608.3" width="13.8" height="98.6" fill="#4472c4"/>
<rect x="1891.6" y="672.4" width="13.8" height="34.5" fill="#4472c4"/>
<rect x="1978.7" y="702" width="13.8" height="4.9" fill="#4472c4"/>
<rect x="2022.3" y="697" width="13.8" height="9.9" fill="#4472c4"/>
<rect x="2065.8" y="702" width="13.8" height="4.9" fill="#4472c4"/>
<line x1="1659" y1="608.3" x2="1659" y2="710.9" stroke="#d0d0d0" stroke-width="1.3"/>
<line x1="1655" y1="706.9" x2="2094.5" y2="706.9" stroke="#d0d0d0" stroke-width="1.3"/>
<line x1="1655" y1="706.9" x2="1659" y2="706.9" stroke="#d0d0d0" stroke-width="1.2"/>
<text x="1645" y="711.9" font-size="14" fill="#a0a0a0" text-anchor="end">0</text>
<line x1="1655" y1="682.2" x2="1659" y2="682.2" stroke="#d0d0d0" stroke-width="1.2"/>
<text x="1645" y="687.2" font-size="14" fill="#a0a0a0" text-anchor="end">5</text>
<line x1="1655" y1="657.6" x2="1659" y2="657.6" stroke="#d0d0d0" stroke-width="1.2"/>
<text x="1645" y="662.6" font-size="14" fill="#a0a0a0" text-anchor="end">10</text>
<line x1="1655" y1="633" x2="1659" y2="633" stroke="#d0d0d0" stroke-width="1.2"/>
<text x="1645" y="638" font-size="14" fill="#a0a0a0" text-anchor="end">15</text>
<line x1="1655" y1="608.3" x2="1659" y2="608.3" stroke="#d0d0d0" stroke-width="1.2"/>
<text x="1645" y="613.3" font-size="14" fill="#a0a0a0" text-anchor="end">20</text>
<line x1="1659" y1="706.9" x2="1659" y2="710.9" stroke="#d0d0d0" stroke-width="1.2"/>
<line x1="1702.5" y1="706.9" x2="1702.5" y2="710.9" stroke="#d0d0d0" stroke-width="1.2"/>
<line x1="1746.1" y1="706.9" x2="1746.1" y2="710.9" stroke="#d0d0d0" stroke-width="1.2"/>
<line x1="1789.7" y1="706.9" x2="1789.7" y2="710.9" stroke="#d0d0d0" stroke-width="1.2"/>
<line x1="1833.2" y1="706.9" x2="1833.2" y2="710.9" stroke="#d0d0d0" stroke-width="1.2"/>
<line x1="1876.8" y1="706.9" x2="1876.8" y2="710.9" stroke="#d0d0d0" stroke-width="1.2"/>
<line x1="1920.3" y1="706.9" x2="1920.3" y2="710.9" stroke="#d0d0d0" stroke-width="1.2"/>
<line x1="1963.8" y1="706.9" x2="1963.8" y2="710.9" stroke="#d0d0d0" stroke-width="1.2"/>
<line x1="2007.4" y1="706.9" x2="2007.4" y2="710.9" stroke="#d0d0d0" stroke-width="1.2"/>
<line x1="2050.9" y1="706.9" x2="2050.9" y2="710.9" stroke="#d0d0d0" stroke-width="1.2"/>
<line x1="2094.5" y1="706.9" x2="2094.5" y2="710.9" stroke="#d0d0d0" stroke-width="1.2"/>
<text x="1682.3" y="727.4" font-size="15" fill="#8c8c8c" text-anchor="end" transform="rotate(-45 1682.3 727.4)">0.0-0.1</text>
<text x="1725.8" y="727.4" font-size="15" fill="#8c8c8c" text-anchor="end" transform="rotate(-45 1725.8 727.4)">0.1-0.2</text>
<text x="1769.4" y="727.4" font-size="15" fill="#8c8c8c" text-anchor="end" transform="rotate(-45 1769.4 727.4)">0.2-0.3</text>
<text x="1812.9" y="727.4" font-size="15" fill="#8c8c8c" text-anchor="end" transform="rotate(-45 1812.9 727.4)">0.3-0.4</text>
<text x="1856.5" y="727.4" font-size="15" fill="#8c8c8c" text-anchor="end" transform="rotate(-45 1856.5 727.4)">0.4-0.5</text>
<text x="1900" y="727.4" font-size="15" fill="#8c8c8c" text-anchor="end" transform="rotate(-45 1900 727.4)">0.5-0.6</text>
<text x="1943.6" y="727.4" font-size="15" fill="#8c8c8c" text-anchor="end" transform="rotate(-45 1943.6 727.4)">0.6-0.7</text>
<text x="1987.1" y="727.4" font-size="15" fill="#8c8c8c" text-anchor="end" transform="rotate(-45 1987.1 727.4)">0.7-0.8</text>
<text x="2030.7" y="727.4" font-size="15" fill="#8c8c8c" text-anchor="end" transform="rotate(-45 2030.7 727.4)">0.8-0.9</text>
<text x="2074.2" y="727.4" font-size="15" fill="#8c8c8c" text-anchor="end" transform="rotate(-45 2074.2 727.4)">0.9-1.0</text>
<text x="1694" y="586.2" font-size="17.5" fill="#1a1a1a" textLength="301.6" lengthAdjust="spacingAndGlyphs">Hyper-mutated cases (median = 0.43)</text>
<text x="1616" y="660.8" font-size="17" fill="#333" text-anchor="middle" textLength="94.5" lengthAdjust="spacingAndGlyphs" transform="rotate(-90 1616 660.8)"># mutations</text>
<text x="1825" y="785" font-size="18" fill="#595959" textLength="104" lengthAdjust="spacingAndGlyphs">aVAF of <tspan font-style="italic">B2M</tspan></text>
<text x="1" y="834" font-size="25" fill="#000" font-weight="bold">d</text>
<line x1="102.8" y1="852.1" x2="102.8" y2="1695.3" stroke="#333" stroke-width="1.6"/>
<line x1="96.2" y1="1695.3" x2="102.8" y2="1695.3" stroke="#444" stroke-width="1.5"/>
<text x="82.5" y="1702.5" font-size="20" fill="#222" text-anchor="end">0</text>
<line x1="96.2" y1="1574.8" x2="102.8" y2="1574.8" stroke="#444" stroke-width="1.5"/>
<text x="82.5" y="1582" font-size="20" fill="#222" text-anchor="end">100</text>
<line x1="96.2" y1="1454.4" x2="102.8" y2="1454.4" stroke="#444" stroke-width="1.5"/>
<text x="82.5" y="1461.6" font-size="20" fill="#222" text-anchor="end">200</text>
<line x1="96.2" y1="1334" x2="102.8" y2="1334" stroke="#444" stroke-width="1.5"/>
<text x="82.5" y="1341.2" font-size="20" fill="#222" text-anchor="end">300</text>
<line x1="96.2" y1="1213.5" x2="102.8" y2="1213.5" stroke="#444" stroke-width="1.5"/>
<text x="82.5" y="1220.7" font-size="20" fill="#222" text-anchor="end">400</text>
<line x1="96.2" y1="1093" x2="102.8" y2="1093" stroke="#444" stroke-width="1.5"/>
<text x="82.5" y="1100.2" font-size="20" fill="#222" text-anchor="end">500</text>
<line x1="96.2" y1="972.6" x2="102.8" y2="972.6" stroke="#444" stroke-width="1.5"/>
<text x="82.5" y="979.8" font-size="20" fill="#222" text-anchor="end">600</text>
<line x1="96.2" y1="852.1" x2="102.8" y2="852.1" stroke="#444" stroke-width="1.5"/>
<text x="82.5" y="859.4" font-size="20" fill="#222" text-anchor="end">700</text>
<text x="30.3" y="1276" font-size="24" fill="#000" text-anchor="middle" textLength="121" lengthAdjust="spacingAndGlyphs" transform="rotate(-90 30.3 1276)"># mutations</text>
<rect x="104.9" y="1394" width="24" height="301.3" fill="#ff0000"/>
<rect x="104.9" y="1306.6" width="24" height="87.4" fill="#0070c0"/>
<rect x="104.9" y="1246" width="24" height="60.6" fill="#00b0f0"/>
<rect x="104.9" y="1127.3" width="24" height="118.7" fill="#002060"/>
<rect x="104.9" y="1101.5" width="24" height="25.8" fill="#7030a0"/>
<rect x="104.9" y="942.8" width="24" height="158.7" fill="#00b050"/>
<rect x="104.9" y="929.4" width="24" height="13.4" fill="#ff66ff"/>
<text x="123.4" y="1805.5" font-size="19" fill="#000" font-weight="bold" font-style="italic" transform="rotate(-90 123.4 1805.5)">TP53</text>
<rect x="105.5" y="1822.4" width="23.4" height="144.9" fill="#808080"/>
<rect x="134" y="1673.9" width="24" height="21.4" fill="#ff0000"/>
<rect x="134" y="1520.5" width="24" height="153.4" fill="#ffc000"/>
<rect x="134" y="1501" width="24" height="19.5" fill="#00b050"/>
<rect x="134" y="1500" width="24" height="1" fill="#ff66ff"/>
<text x="152.5" y="1805.5" font-size="19" fill="#000" font-weight="bold" font-style="italic" transform="rotate(-90 152.5 1805.5)">ERBB2</text>
<rect x="134.6" y="1822.4" width="23.4" height="144.9" fill="#808080"/>
<rect x="163.1" y="1636.6" width="24" height="58.7" fill="#0070c0"/>
<rect x="163.1" y="1626.2" width="24" height="10.4" fill="#00b0f0"/>
<rect x="163.1" y="1546.1" width="24" height="80.1" fill="#002060"/>
<rect x="163.1" y="1540.1" width="24" height="6" fill="#7030a0"/>
<rect x="163.1" y="1516.1" width="24" height="24" fill="#00b050"/>
<rect x="163.1" y="1514.6" width="24" height="1.5" fill="#ff66ff"/>
<text x="181.6" y="1805.5" font-size="19" fill="#000" font-weight="bold" font-style="italic" transform="rotate(-90 181.6 1805.5)">ARID1A</text>
<rect x="163.7" y="1822.4" width="23.4" height="131.8" fill="#808080"/>
<rect x="192.2" y="1688" width="24" height="7.3" fill="#ff0000"/>
<rect x="192.2" y="1678.4" width="24" height="9.6" fill="#0070c0"/>
<rect x="192.2" y="1649.7" width="24" height="28.7" fill="#00b0f0"/>
<rect x="192.2" y="1631.9" width="24" height="17.8" fill="#002060"/>
<rect x="192.2" y="1617.8" width="24" height="14.1" fill="#7030a0"/>
<rect x="192.2" y="1546.6" width="24" height="71.2" fill="#00b050"/>
<rect x="192.2" y="1533" width="24" height="13.6" fill="#ff66ff"/>
<text x="210.7" y="1805.5" font-size="19" fill="#000" font-weight="bold" font-style="italic" transform="rotate(-90 210.7 1805.5)">CDH1</text>
<rect x="192.8" y="1822.4" width="23.4" height="67.4" fill="#808080"/>
<rect x="221.3" y="1690.9" width="24" height="4.4" fill="#0070c0"/>
<rect x="221.3" y="1683.6" width="24" height="7.3" fill="#002060"/>
<rect x="221.3" y="1682.6" width="24" height="1" fill="#00b0f0"/>
<rect x="221.3" y="1553.1" width="24" height="129.5" fill="#7030a0"/>
<rect x="221.3" y="1536.7" width="24" height="16.4" fill="#00b050"/>
<text x="239.8" y="1805.5" font-size="19" fill="#000" font-weight="bold" font-style="italic" transform="rotate(-90 239.8 1805.5)">CDKN2A</text>
<rect x="221.9" y="1822.4" width="23.4" height="144.9" fill="#808080"/>
<rect x="250.5" y="1557.6" width="24" height="137.7" fill="#ffc000"/>
<rect x="250.5" y="1552.6" width="24" height="5" fill="#00b050"/>
<text x="269" y="1805.5" font-size="19" fill="#000" font-weight="bold" font-style="italic" transform="rotate(-90 269 1805.5)">CCNE1</text>
<rect x="251.1" y="1822.4" width="23.4" height="144.9" fill="#808080"/>
<rect x="279.6" y="1693" width="24" height="2.3" fill="#0070c0"/>
<rect x="279.6" y="1643.2" width="24" height="49.8" fill="#002060"/>
<rect x="279.6" y="1630.9" width="24" height="12.3" fill="#7030a0"/>
<rect x="279.6" y="1579.7" width="24" height="51.2" fill="#00b050"/>
<rect x="279.6" y="1559.7" width="24" height="20" fill="#ff66ff"/>
<text x="298.1" y="1805.5" font-size="19" fill="#000" font-weight="bold" font-style="italic" transform="rotate(-90 298.1 1805.5)">MUC6</text>
<rect x="280.2" y="1822.4" width="23.4" height="26.8" fill="#808080"/>
<rect x="308.7" y="1648.9" width="24" height="46.4" fill="#ff0000"/>
<rect x="308.7" y="1569.3" width="24" height="79.6" fill="#ffc000"/>
<rect x="308.7" y="1562.3" width="24" height="7" fill="#00b050"/>
<text x="327.2" y="1805.5" font-size="19" fill="#000" font-weight="bold" font-style="italic" transform="rotate(-90 327.2 1805.5)">KRAS</text>
<rect x="309.3" y="1822.4" width="23.4" height="144.9" fill="#808080"/>
<rect x="337.8" y="1627" width="24" height="68.3" fill="#ff0000"/>
<rect x="337.8" y="1614.4" width="24" height="12.6" fill="#ffc000"/>
<rect x="337.8" y="1575.3" width="24" height="39.1" fill="#00b050"/>
<rect x="337.8" y="1572.7" width="24" height="2.6" fill="#ff66ff"/>
<text x="356.3" y="1805.5" font-size="19" fill="#000" font-weight="bold" font-style="italic" transform="rotate(-90 356.3 1805.5)">PIK3CA</text>
<rect x="338.4" y="1822.4" width="23.4" height="131.8" fill="#808080"/>
<rect x="366.9" y="1649.7" width="24" height="45.6" fill="#0070c0"/>
<rect x="366.9" y="1647" width="24" height="2.7" fill="#00b0f0"/>
<rect x="366.9" y="1613.1" width="24" height="33.9" fill="#002060"/>
<rect x="366.9" y="1607.9" width="24" height="5.2" fill="#7030a0"/>
<rect x="366.9" y="1579.2" width="24" height="28.7" fill="#00b050"/>
<rect x="366.9" y="1577.4" width="24" height="1.8" fill="#ff66ff"/>
<text x="385.4" y="1805.5" font-size="19" fill="#000" font-weight="bold" font-style="italic" transform="rotate(-90 385.4 1805.5)">APC</text>
<rect x="367.5" y="1822.4" width="23.4" height="59.1" fill="#808080"/>
<rect x="396" y="1684.9" width="24" height="10.4" fill="#ff0000"/>
<rect x="396" y="1671.3" width="24" height="13.6" fill="#0070c0"/>
<rect x="396" y="1668.7" width="24" height="2.6" fill="#00b0f0"/>
<rect x="396" y="1663.5" width="24" height="5.2" fill="#002060"/>
<rect x="396" y="1621" width="24" height="42.5" fill="#00b050"/>
<rect x="396" y="1617" width="24" height="4" fill="#ff66ff"/>
<text x="414.5" y="1805.5" font-size="19" fill="#000" font-weight="bold" font-style="italic" transform="rotate(-90 414.5 1805.5)">SMAD4</text>
<rect x="396.6" y="1822.4" width="23.4" height="49.4" fill="#808080"/>
<rect x="425.1" y="1685.3" width="24" height="10" fill="#0070c0"/>
<rect x="425.1" y="1681.2" width="24" height="4.1" fill="#00b0f0"/>
<rect x="425.1" y="1672" width="24" height="9.2" fill="#002060"/>
<rect x="425.1" y="1624.3" width="24" height="47.7" fill="#00b050"/>
<text x="443.6" y="1805.5" font-size="19" fill="#000" font-weight="bold" font-style="italic" transform="rotate(-90 443.6 1805.5)">KMT2C</text>
<rect x="425.7" y="1822.4" width="23.4" height="5.8" fill="#808080"/>
<rect x="454.2" y="1632" width="24" height="63.3" fill="#ffc000"/>
<rect x="454.2" y="1631" width="24" height="1" fill="#002060"/>
<rect x="454.2" y="1625.4" width="24" height="5.6" fill="#00b050"/>
<text x="472.7" y="1805.5" font-size="19" fill="#000" font-weight="bold" font-style="italic" transform="rotate(-90 472.7 1805.5)">MYC</text>
<rect x="454.8" y="1822.4" width="23.4" height="102.7" fill="#808080"/>
<rect x="483.3" y="1692.4" width="24" height="2.9" fill="#0070c0"/>
<rect x="483.3" y="1677.3" width="24" height="15.1" fill="#002060"/>
<rect x="483.3" y="1645" width="24" height="32.3" fill="#7030a0"/>
<rect x="483.3" y="1627.2" width="24" height="17.8" fill="#00b050"/>
<text x="501.8" y="1805.5" font-size="19" fill="#000" font-weight="bold" font-style="italic" transform="rotate(-90 501.8 1805.5)">PTEN</text>
<rect x="483.9" y="1822.4" width="23.4" height="39.2" fill="#808080"/>
<rect x="512.4" y="1687.6" width="24" height="7.7" fill="#0070c0"/>
<rect x="512.4" y="1686" width="24" height="1.6" fill="#00b0f0"/>
<rect x="512.4" y="1677.3" width="24" height="8.7" fill="#002060"/>
<rect x="512.4" y="1650.6" width="24" height="26.7" fill="#7030a0"/>
<rect x="512.4" y="1628.8" width="24" height="21.8" fill="#00b050"/>
<text x="530.9" y="1805.5" font-size="19" fill="#000" font-weight="bold" font-style="italic" transform="rotate(-90 530.9 1805.5)">ATM</text>
<rect x="513" y="1822.4" width="23.4" height="20.7" fill="#808080"/>
<rect x="541.5" y="1661" width="24" height="34.3" fill="#ff0000"/>
<rect x="541.5" y="1659.5" width="24" height="1.5" fill="#002060"/>
<rect x="541.5" y="1630.2" width="24" height="29.3" fill="#00b050"/>
<text x="560" y="1805.5" font-size="19" fill="#000" font-weight="bold" font-style="italic" transform="rotate(-90 560 1805.5)">RHOA</text>
<rect x="542.1" y="1822.4" width="23.4" height="131" fill="#808080"/>
<rect x="570.7" y="1631.1" width="24" height="64.2" fill="#ffc000"/>
<rect x="570.7" y="1630" width="24" height="1.1" fill="#00b050"/>
<text x="589.2" y="1805.5" font-size="19" fill="#000" font-weight="bold" font-style="italic" transform="rotate(-90 589.2 1805.5)">VEGFA</text>
<rect x="571.3" y="1822.4" width="23.4" height="111.6" fill="#808080"/>
<rect x="599.8" y="1684.9" width="24" height="10.4" fill="#0070c0"/>
<rect x="599.8" y="1681.7" width="24" height="3.2" fill="#00b0f0"/>
<rect x="599.8" y="1668.4" width="24" height="13.3" fill="#002060"/>
<rect x="599.8" y="1663.6" width="24" height="4.8" fill="#7030a0"/>
<rect x="599.8" y="1631.1" width="24" height="32.5" fill="#00b050"/>
<text x="618.3" y="1805.5" font-size="19" fill="#000" font-weight="bold" font-style="italic" transform="rotate(-90 618.3 1805.5)">KMT2D</text>
<rect x="600.4" y="1822.4" width="23.4" height="7.8" fill="#808080"/>
<rect x="628.9" y="1692.4" width="24" height="2.9" fill="#0070c0"/>
<rect x="628.9" y="1685.8" width="24" height="6.6" fill="#00b0f0"/>
<rect x="628.9" y="1679.4" width="24" height="6.4" fill="#002060"/>
<rect x="628.9" y="1656" width="24" height="23.4" fill="#7030a0"/>
<rect x="628.9" y="1631.4" width="24" height="24.6" fill="#00b050"/>
<text x="647.4" y="1805.5" font-size="19" fill="#000" font-weight="bold" font-style="italic" transform="rotate(-90 647.4 1805.5)">MAP2K7</text>
<rect x="629.5" y="1822.4" width="23.4" height="56.4" fill="#808080"/>
<rect x="658" y="1677" width="24" height="18.3" fill="#ff0000"/>
<rect x="658" y="1667.5" width="24" height="9.5" fill="#ffc000"/>
<rect x="658" y="1633.2" width="24" height="34.3" fill="#00b050"/>
<rect x="658" y="1632" width="24" height="1.2" fill="#ff66ff"/>
<text x="676.5" y="1805.5" font-size="19" fill="#000" font-weight="bold" font-style="italic" transform="rotate(-90 676.5 1805.5)">ERBB3</text>
<rect x="658.6" y="1822.4" width="23.4" height="39.2" fill="#808080"/>
<rect x="687.1" y="1652.4" width="24" height="42.9" fill="#ffc000"/>
<rect x="687.1" y="1648.9" width="24" height="3.5" fill="#0070c0"/>
<rect x="687.1" y="1636.1" width="24" height="12.8" fill="#00b050"/>
<text x="705.6" y="1805.5" font-size="19" fill="#000" font-weight="bold" font-style="italic" transform="rotate(-90 705.6 1805.5)">EGFR</text>
<rect x="687.7" y="1822.4" width="23.4" height="47.8" fill="#808080"/>
<rect x="716.2" y="1648.9" width="24" height="46.4" fill="#ffc000"/>
<rect x="716.2" y="1644.4" width="24" height="4.5" fill="#00b050"/>
<rect x="716.2" y="1643.4" width="24" height="1" fill="#ff66ff"/>
<text x="734.7" y="1805.5" font-size="19" fill="#000" font-weight="bold" font-style="italic" transform="rotate(-90 734.7 1805.5)">GATA6</text>
<rect x="716.8" y="1822.4" width="23.4" height="72.5" fill="#808080"/>
<rect x="745.3" y="1683" width="24" height="12.3" fill="#0070c0"/>
<rect x="745.3" y="1664.9" width="24" height="18.1" fill="#002060"/>
<rect x="745.3" y="1658.1" width="24" height="6.8" fill="#7030a0"/>
<rect x="745.3" y="1644.4" width="24" height="13.7" fill="#00b050"/>
<text x="763.8" y="1805.5" font-size="19" fill="#000" font-weight="bold" font-style="italic" transform="rotate(-90 763.8 1805.5)">RNF43</text>
<rect x="745.9" y="1822.4" width="23.4" height="27.8" fill="#808080"/>
<rect x="774.4" y="1648" width="24" height="47.3" fill="#ffc000"/>
<rect x="774.4" y="1645.3" width="24" height="2.7" fill="#00b050"/>
<text x="792.9" y="1805.5" font-size="19" fill="#000" font-weight="bold" font-style="italic" transform="rotate(-90 792.9 1805.5)">MDM2</text>
<rect x="775" y="1822.4" width="23.4" height="78.6" fill="#808080"/>
<rect x="803.5" y="1648.3" width="24" height="47" fill="#ffc000"/>
<rect x="803.5" y="1645.3" width="24" height="3" fill="#00b050"/>
<text x="822" y="1805.5" font-size="19" fill="#000" font-weight="bold" font-style="italic" transform="rotate(-90 822 1805.5)">CDK6</text>
<rect x="804.1" y="1822.4" width="23.4" height="74" fill="#808080"/>
<rect x="832.6" y="1648.9" width="24" height="46.4" fill="#ffc000"/>
<rect x="832.6" y="1646.7" width="24" height="2.2" fill="#00b050"/>
<text x="851.1" y="1805.5" font-size="19" fill="#000" font-weight="bold" font-style="italic" transform="rotate(-90 851.1 1805.5)">CCND3</text>
<rect x="833.2" y="1822.4" width="23.4" height="76.5" fill="#808080"/>
<rect x="861.8" y="1687.1" width="24" height="8.2" fill="#ff0000"/>
<rect x="861.8" y="1681.7" width="24" height="5.4" fill="#ffc000"/>
<rect x="861.8" y="1677.3" width="24" height="4.4" fill="#0070c0"/>
<rect x="861.8" y="1675.5" width="24" height="1.8" fill="#002060"/>
<rect x="861.8" y="1651.5" width="24" height="24" fill="#00b050"/>
<rect x="861.8" y="1648" width="24" height="3.5" fill="#ff66ff"/>
<text x="880.3" y="1805.5" font-size="19" fill="#000" font-weight="bold" font-style="italic" transform="rotate(-90 880.3 1805.5)">CTNNB1</text>
<rect x="862.4" y="1822.4" width="23.4" height="25.3" fill="#808080"/>
<rect x="890.9" y="1651" width="24" height="44.3" fill="#ffc000"/>
<rect x="890.9" y="1648.9" width="24" height="2.1" fill="#00b050"/>
<text x="909.4" y="1805.5" font-size="19" fill="#000" font-weight="bold" font-style="italic" transform="rotate(-90 909.4 1805.5)">CCND1</text>
<rect x="891.5" y="1822.4" width="23.4" height="70.9" fill="#808080"/>
<rect x="920" y="1692.4" width="24" height="2.9" fill="#0070c0"/>
<rect x="920" y="1688" width="24" height="4.4" fill="#00b0f0"/>
<rect x="920" y="1680.5" width="24" height="7.5" fill="#002060"/>
<rect x="920" y="1662.7" width="24" height="17.8" fill="#7030a0"/>
<rect x="920" y="1652.4" width="24" height="10.3" fill="#00b050"/>
<rect x="920" y="1650.1" width="24" height="2.3" fill="#ff66ff"/>
<text x="938.5" y="1805.5" font-size="19" fill="#000" font-weight="bold" font-style="italic" transform="rotate(-90 938.5 1805.5)">RASA1</text>
<rect x="920.6" y="1822.4" width="23.4" height="34.6" fill="#808080"/>
<rect x="949.1" y="1688" width="24" height="7.3" fill="#0070c0"/>
<rect x="949.1" y="1664.5" width="24" height="23.5" fill="#002060"/>
<rect x="949.1" y="1660" width="24" height="4.5" fill="#7030a0"/>
<rect x="949.1" y="1656" width="24" height="4" fill="#00b050"/>
<rect x="949.1" y="1653.3" width="24" height="2.7" fill="#ff66ff"/>
<text x="967.6" y="1805.5" font-size="19" fill="#000" font-weight="bold" font-style="italic" transform="rotate(-90 967.6 1805.5)">PIGR</text>
<rect x="949.7" y="1822.4" width="23.4" height="42" fill="#808080"/>
<rect x="978.2" y="1688.8" width="24" height="6.5" fill="#ff0000"/>
<rect x="978.2" y="1678.6" width="24" height="10.2" fill="#0070c0"/>
<rect x="978.2" y="1675.1" width="24" height="3.5" fill="#00b0f0"/>
<rect x="978.2" y="1669.7" width="24" height="5.4" fill="#002060"/>
<rect x="978.2" y="1655.2" width="24" height="14.5" fill="#00b050"/>
<text x="996.7" y="1805.5" font-size="19" fill="#000" font-weight="bold" font-style="italic" transform="rotate(-90 996.7 1805.5)">FBXW7</text>
<rect x="978.8" y="1822.4" width="23.4" height="24.6" fill="#808080"/>
<rect x="1007.3" y="1692.8" width="24" height="2.5" fill="#0070c0"/>
<rect x="1007.3" y="1677.7" width="24" height="15.1" fill="#002060"/>
<rect x="1007.3" y="1662.1" width="24" height="15.6" fill="#7030a0"/>
<rect x="1007.3" y="1656.1" width="24" height="6" fill="#00b050"/>
<text x="1025.8" y="1805.5" font-size="19" fill="#000" font-weight="bold" font-style="italic" transform="rotate(-90 1025.8 1805.5)">SOX9</text>
<rect x="1007.9" y="1822.4" width="23.4" height="61.1" fill="#808080"/>
<rect x="1036.4" y="1692.8" width="24" height="2.5" fill="#0070c0"/>
<rect x="1036.4" y="1691.1" width="24" height="1.7" fill="#00b0f0"/>
<rect x="1036.4" y="1679.5" width="24" height="11.6" fill="#002060"/>
<rect x="1036.4" y="1666.2" width="24" height="13.3" fill="#7030a0"/>
<rect x="1036.4" y="1656.4" width="24" height="9.8" fill="#00b050"/>
<text x="1054.9" y="1805.5" font-size="19" fill="#000" font-weight="bold" font-style="italic" transform="rotate(-90 1054.9 1805.5)">ACVR2A</text>
<rect x="1037" y="1822.4" width="23.4" height="35" fill="#808080"/>
<rect x="1065.5" y="1685.2" width="24" height="10.1" fill="#ff0000"/>
<rect x="1065.5" y="1682.2" width="24" height="3" fill="#00b0f0"/>
<rect x="1065.5" y="1678.1" width="24" height="4.1" fill="#002060"/>
<rect x="1065.5" y="1656.8" width="24" height="21.3" fill="#00b050"/>
<text x="1084" y="1805.5" font-size="19" fill="#000" font-weight="bold" font-style="italic" transform="rotate(-90 1084 1805.5)">TGFBR2</text>
<rect x="1066.1" y="1822.4" width="23.4" height="25.7" fill="#808080"/>
<rect x="1094.6" y="1685.7" width="24" height="9.6" fill="#0070c0"/>
<rect x="1094.6" y="1683.6" width="24" height="2.1" fill="#00b0f0"/>
<rect x="1094.6" y="1680.9" width="24" height="2.7" fill="#002060"/>
<rect x="1094.6" y="1672.1" width="24" height="8.8" fill="#7030a0"/>
<rect x="1094.6" y="1657.8" width="24" height="14.3" fill="#00b050"/>
<text x="1113.1" y="1805.5" font-size="19" fill="#000" font-weight="bold" font-style="italic" transform="rotate(-90 1113.1 1805.5)">ITGAV</text>
<rect x="1095.2" y="1822.4" width="23.4" height="13.6" fill="#808080"/>
<rect x="1123.8" y="1684.5" width="24" height="10.8" fill="#ff0000"/>
<rect x="1123.8" y="1680.9" width="24" height="3.6" fill="#0070c0"/>
<rect x="1123.8" y="1660" width="24" height="20.9" fill="#00b050"/>
<text x="1142.2" y="1805.5" font-size="19" fill="#000" font-weight="bold" font-style="italic" transform="rotate(-90 1142.2 1805.5)">CNBD1</text>
<rect x="1124.3" y="1822.4" width="23.4" height="6.8" fill="#808080"/>
<rect x="1152.9" y="1685.7" width="24" height="9.6" fill="#0070c0"/>
<rect x="1152.9" y="1683.6" width="24" height="2.1" fill="#00b0f0"/>
<rect x="1152.9" y="1672.8" width="24" height="10.8" fill="#002060"/>
<rect x="1152.9" y="1671" width="24" height="1.8" fill="#7030a0"/>
<rect x="1152.9" y="1660" width="24" height="11" fill="#00b050"/>
<text x="1171.4" y="1805.5" font-size="19" fill="#000" font-weight="bold" font-style="italic" transform="rotate(-90 1171.4 1805.5)">ARID2</text>
<rect x="1153.5" y="1822.4" width="23.4" height="6.8" fill="#808080"/>
<rect x="1182" y="1668.9" width="24" height="26.4" fill="#ffc000"/>
<rect x="1182" y="1661.4" width="24" height="7.5" fill="#00b050"/>
<text x="1200.5" y="1805.5" font-size="19" fill="#000" font-weight="bold" font-style="italic" transform="rotate(-90 1200.5 1805.5)">FGFR2</text>
<rect x="1182.6" y="1822.4" width="23.4" height="36" fill="#808080"/>
<rect x="1211.1" y="1693.2" width="24" height="2.1" fill="#0070c0"/>
<rect x="1211.1" y="1678.1" width="24" height="15.1" fill="#002060"/>
<rect x="1211.1" y="1666.2" width="24" height="11.9" fill="#7030a0"/>
<rect x="1211.1" y="1662.6" width="24" height="3.6" fill="#00b050"/>
<text x="1229.6" y="1805.5" font-size="19" fill="#000" font-weight="bold" font-style="italic" transform="rotate(-90 1229.6 1805.5)">ELF3</text>
<rect x="1211.7" y="1822.4" width="23.4" height="55.6" fill="#808080"/>
<rect x="1240.2" y="1691.1" width="24" height="4.2" fill="#0070c0"/>
<rect x="1240.2" y="1686.1" width="24" height="5" fill="#00b0f0"/>
<rect x="1240.2" y="1681.7" width="24" height="4.4" fill="#002060"/>
<rect x="1240.2" y="1677.4" width="24" height="4.3" fill="#7030a0"/>
<rect x="1240.2" y="1663.2" width="24" height="14.2" fill="#00b050"/>
<text x="1258.7" y="1805.5" font-size="19" fill="#000" font-weight="bold" font-style="italic" transform="rotate(-90 1258.7 1805.5)">KDM6A</text>
<rect x="1240.8" y="1822.4" width="23.4" height="22.9" fill="#808080"/>
<rect x="1269.3" y="1692" width="24" height="3.3" fill="#0070c0"/>
<rect x="1269.3" y="1690.2" width="24" height="1.8" fill="#002060"/>
<rect x="1269.3" y="1663.2" width="24" height="27" fill="#00b050"/>
<text x="1287.8" y="1805.5" font-size="19" fill="#000" font-weight="bold" font-style="italic" transform="rotate(-90 1287.8 1805.5)">CHD4</text>
<rect x="1269.9" y="1822.4" width="23.4" height="6.8" fill="#808080"/>
<rect x="1298.4" y="1673.3" width="24" height="22" fill="#ffc000"/>
<rect x="1298.4" y="1671.5" width="24" height="1.8" fill="#0070c0"/>
<rect x="1298.4" y="1663.9" width="24" height="7.6" fill="#00b050"/>
<text x="1316.9" y="1805.5" font-size="19" fill="#000" font-weight="bold" font-style="italic" transform="rotate(-90 1316.9 1805.5)">MET</text>
<rect x="1299" y="1822.4" width="23.4" height="17.1" fill="#808080"/>
<rect x="1327.5" y="1679.5" width="24" height="15.8" fill="#ffc000"/>
<rect x="1327.5" y="1666.2" width="24" height="13.3" fill="#00b050"/>
<text x="1346" y="1805.5" font-size="19" fill="#000" font-weight="bold" font-style="italic" transform="rotate(-90 1346 1805.5)">TERT</text>
<rect x="1328.1" y="1822.4" width="23.4" height="8.5" fill="#808080"/>
<rect x="1356.6" y="1692" width="24" height="3.3" fill="#0070c0"/>
<rect x="1356.6" y="1689.8" width="24" height="2.2" fill="#00b0f0"/>
<rect x="1356.6" y="1683.4" width="24" height="6.4" fill="#002060"/>
<rect x="1356.6" y="1672.1" width="24" height="11.3" fill="#7030a0"/>
<rect x="1356.6" y="1667.1" width="24" height="5" fill="#00b050"/>
<text x="1375.1" y="1805.5" font-size="19" fill="#000" font-weight="bold" font-style="italic" transform="rotate(-90 1375.1 1805.5)">BAP1</text>
<rect x="1357.2" y="1822.4" width="23.4" height="25" fill="#808080"/>
<rect x="1385.7" y="1692.3" width="24" height="3" fill="#0070c0"/>
<rect x="1385.7" y="1685.7" width="24" height="6.6" fill="#002060"/>
<rect x="1385.7" y="1671" width="24" height="14.7" fill="#7030a0"/>
<rect x="1385.7" y="1668" width="24" height="3" fill="#00b050"/>
<rect x="1385.7" y="1667" width="24" height="1" fill="#ff66ff"/>
<text x="1404.2" y="1805.5" font-size="19" fill="#000" font-weight="bold" font-style="italic" transform="rotate(-90 1404.2 1805.5)">B2M</text>
<rect x="1386.3" y="1822.4" width="23.4" height="17.1" fill="#808080"/>
<rect x="1414.9" y="1691.1" width="24" height="4.2" fill="#0070c0"/>
<rect x="1414.9" y="1687.5" width="24" height="3.6" fill="#00b0f0"/>
<rect x="1414.9" y="1676.9" width="24" height="10.6" fill="#002060"/>
<rect x="1414.9" y="1674.5" width="24" height="2.4" fill="#7030a0"/>
<rect x="1414.9" y="1668.3" width="24" height="6.2" fill="#00b050"/>
<rect x="1414.9" y="1667.3" width="24" height="1" fill="#ff66ff"/>
<text x="1433.4" y="1805.5" font-size="19" fill="#000" font-weight="bold" font-style="italic" transform="rotate(-90 1433.4 1805.5)">PBRM1</text>
<rect x="1415.5" y="1822.4" width="23.4" height="8.5" fill="#808080"/>
<rect x="1444" y="1693.4" width="24" height="1.9" fill="#0070c0"/>
<rect x="1444" y="1688" width="24" height="5.4" fill="#002060"/>
<rect x="1444" y="1668.9" width="24" height="19.1" fill="#00b050"/>
<rect x="1444" y="1668" width="24" height="0.9" fill="#ff66ff"/>
<text x="1462.5" y="1805.5" font-size="19" fill="#000" font-weight="bold" font-style="italic" transform="rotate(-90 1462.5 1805.5)">CDK12</text>
<rect x="1444.6" y="1822.4" width="23.4" height="11.9" fill="#808080"/>
<rect x="1473.1" y="1689.3" width="24" height="6" fill="#0070c0"/>
<rect x="1473.1" y="1686.6" width="24" height="2.7" fill="#002060"/>
<rect x="1473.1" y="1676" width="24" height="10.6" fill="#7030a0"/>
<rect x="1473.1" y="1668.9" width="24" height="7.1" fill="#00b050"/>
<rect x="1473.1" y="1668" width="24" height="0.9" fill="#ff66ff"/>
<text x="1491.6" y="1805.5" font-size="19" fill="#000" font-weight="bold" font-style="italic" transform="rotate(-90 1491.6 1805.5)">RB1</text>
<rect x="1473.7" y="1822.4" width="23.4" height="10.9" fill="#808080"/>
<rect x="1502.2" y="1687.5" width="24" height="7.8" fill="#0070c0"/>
<rect x="1502.2" y="1671.5" width="24" height="16" fill="#00b050"/>
<text x="1520.7" y="1805.5" font-size="19" fill="#000" font-weight="bold" font-style="italic" transform="rotate(-90 1520.7 1805.5)">MAP2K4</text>
<rect x="1502.8" y="1822.4" width="23.4" height="10.9" fill="#808080"/>
<rect x="1531.3" y="1688.8" width="24" height="6.5" fill="#ff0000"/>
<rect x="1531.3" y="1683.1" width="24" height="5.7" fill="#002060"/>
<rect x="1531.3" y="1670.6" width="24" height="12.5" fill="#00b050"/>
<text x="1549.8" y="1805.5" font-size="19" fill="#000" font-weight="bold" font-style="italic" transform="rotate(-90 1549.8 1805.5)">ARHGAP5</text>
<rect x="1531.9" y="1822.4" width="23.4" height="7.3" fill="#808080"/>
<rect x="1560.4" y="1675.5" width="24" height="19.8" fill="#ffc000"/>
<rect x="1560.4" y="1672.5" width="24" height="3" fill="#00b050"/>
<text x="1578.9" y="1805.5" font-size="19" fill="#000" font-weight="bold" font-style="italic" transform="rotate(-90 1578.9 1805.5)">CDX2</text>
<rect x="1561" y="1822.4" width="23.4" height="29.6" fill="#808080"/>
<rect x="1589.5" y="1672" width="24" height="23.3" fill="#00b050"/>
<text x="1608" y="1805.5" font-size="19" fill="#000" font-weight="bold" font-style="italic" transform="rotate(-90 1608 1805.5)">IL7R</text>
<rect x="1590.1" y="1822.4" width="23.4" height="9.8" fill="#808080"/>
<rect x="1618.6" y="1684.4" width="24" height="10.9" fill="#ff0000"/>
<rect x="1618.6" y="1676.1" width="24" height="8.3" fill="#00b050"/>
<text x="1637.1" y="1805.5" font-size="19" fill="#000" font-weight="bold" font-style="italic" transform="rotate(-90 1637.1 1805.5)">TRIM49C</text>
<rect x="1619.2" y="1822.4" width="23.4" height="28.5" fill="#808080"/>
<rect x="1647.7" y="1692.8" width="24" height="2.5" fill="#0070c0"/>
<rect x="1647.7" y="1687.4" width="24" height="5.4" fill="#002060"/>
<rect x="1647.7" y="1682.1" width="24" height="5.3" fill="#7030a0"/>
<rect x="1647.7" y="1679.1" width="24" height="3" fill="#00b050"/>
<text x="1666.2" y="1805.5" font-size="19" fill="#000" font-weight="bold" font-style="italic" transform="rotate(-90 1666.2 1805.5)">EPHA2</text>
<rect x="1648.3" y="1822.4" width="23.4" height="10.8" fill="#808080"/>
<rect x="1676.8" y="1692.1" width="24" height="3.2" fill="#002060"/>
<rect x="1676.8" y="1679.1" width="24" height="13" fill="#00b050"/>
<text x="1695.3" y="1805.5" font-size="19" fill="#000" font-weight="bold" font-style="italic" transform="rotate(-90 1695.3 1805.5)">HSP90AB1</text>
<rect x="1677.4" y="1822.4" width="23.4" height="4.5" fill="#808080"/>
<rect x="1706" y="1682.6" width="24" height="12.7" fill="#ffc000"/>
<rect x="1706" y="1680.9" width="24" height="1.7" fill="#00b050"/>
<text x="1724.5" y="1805.5" font-size="19" fill="#000" font-weight="bold" font-style="italic" transform="rotate(-90 1724.5 1805.5)">CD274</text>
<rect x="1706.5" y="1822.4" width="23.4" height="14.4" fill="#808080"/>
<rect x="1735.1" y="1691" width="24" height="4.3" fill="#00b0f0"/>
<rect x="1735.1" y="1688.9" width="24" height="2.1" fill="#002060"/>
<rect x="1735.1" y="1685.7" width="24" height="3.2" fill="#00b050"/>
<rect x="1735.1" y="1680.9" width="24" height="4.8" fill="#ff66ff"/>
<text x="1753.6" y="1805.5" font-size="19" fill="#000" font-weight="bold" font-style="italic" transform="rotate(-90 1753.6 1805.5)">PIK3R1</text>
<rect x="1735.7" y="1822.4" width="23.4" height="8.4" fill="#808080"/>
<rect x="1764.2" y="1694.5" width="24" height="0.8" fill="#0070c0"/>
<rect x="1764.2" y="1688.9" width="24" height="5.6" fill="#002060"/>
<rect x="1764.2" y="1681.4" width="24" height="7.5" fill="#00b050"/>
<text x="1782.7" y="1805.5" font-size="19" fill="#000" font-weight="bold" font-style="italic" transform="rotate(-90 1782.7 1805.5)">CASP8</text>
<rect x="1764.8" y="1822.4" width="23.4" height="8.4" fill="#808080"/>
<rect x="1793.3" y="1690.3" width="24" height="5" fill="#ffc000"/>
<rect x="1793.3" y="1687.4" width="24" height="2.9" fill="#002060"/>
<rect x="1793.3" y="1681.7" width="24" height="5.7" fill="#00b050"/>
<text x="1811.8" y="1805.5" font-size="19" fill="#000" font-weight="bold" font-style="italic" transform="rotate(-90 1811.8 1805.5)">NRAS</text>
<rect x="1793.9" y="1822.4" width="23.4" height="16.8" fill="#808080"/>
<rect x="1822.4" y="1682.6" width="24" height="12.7" fill="#ffc000"/>
<text x="1840.9" y="1805.5" font-size="19" fill="#000" font-weight="bold" font-style="italic" transform="rotate(-90 1840.9 1805.5)">COX6C</text>
<rect x="1823" y="1822.4" width="23.4" height="15.4" fill="#808080"/>
<rect x="1851.5" y="1689.3" width="24" height="6" fill="#002060"/>
<rect x="1851.5" y="1682.9" width="24" height="6.4" fill="#00b050"/>
<text x="1870" y="1805.5" font-size="19" fill="#000" font-weight="bold" font-style="italic" transform="rotate(-90 1870 1805.5)">STK11</text>
<rect x="1852.1" y="1822.4" width="23.4" height="6.2" fill="#808080"/>
<rect x="1880.6" y="1690.4" width="24" height="4.9" fill="#0070c0"/>
<rect x="1880.6" y="1688.5" width="24" height="1.9" fill="#002060"/>
<rect x="1880.6" y="1682.9" width="24" height="5.6" fill="#00b050"/>
<text x="1899.1" y="1805.5" font-size="19" fill="#000" font-weight="bold" font-style="italic" transform="rotate(-90 1899.1 1805.5)">MAP3K13</text>
<rect x="1881.2" y="1822.4" width="23.4" height="3.8" fill="#808080"/>
<rect x="1909.7" y="1692.3" width="24" height="3" fill="#0070c0"/>
<rect x="1909.7" y="1689.9" width="24" height="2.4" fill="#002060"/>
<rect x="1909.7" y="1685.5" width="24" height="4.4" fill="#00b050"/>
<rect x="1909.7" y="1683.7" width="24" height="1.8" fill="#ff66ff"/>
<text x="1928.2" y="1805.5" font-size="19" fill="#000" font-weight="bold" font-style="italic" transform="rotate(-90 1928.2 1805.5)">HLA-B</text>
<rect x="1910.3" y="1822.4" width="23.4" height="7.3" fill="#808080"/>
<rect x="1938.8" y="1690.4" width="24" height="4.9" fill="#0070c0"/>
<rect x="1938.8" y="1684.2" width="24" height="6.2" fill="#00b050"/>
<text x="1957.3" y="1805.5" font-size="19" fill="#000" font-weight="bold" font-style="italic" transform="rotate(-90 1957.3 1805.5)">SMAD2</text>
<rect x="1939.4" y="1822.4" width="23.4" height="7.3" fill="#808080"/>
<rect x="1967.9" y="1687" width="24" height="8.3" fill="#ffc000"/>
<rect x="1967.9" y="1684.2" width="24" height="2.8" fill="#00b050"/>
<text x="1986.4" y="1805.5" font-size="19" fill="#000" font-weight="bold" font-style="italic" transform="rotate(-90 1986.4 1805.5)">PDCD1LG2</text>
<rect x="1968.5" y="1822.4" width="23.4" height="4.8" fill="#808080"/>
<rect x="1997" y="1685.5" width="24" height="9.8" fill="#00b050"/>
<text x="2015.5" y="1805.5" font-size="19" fill="#000" font-weight="bold" font-style="italic" transform="rotate(-90 2015.5 1805.5)">MAP2K1</text>
<rect x="1997.6" y="1822.4" width="23.4" height="3.1" fill="#808080"/>
<rect x="2026.2" y="1690.8" width="24" height="4.5" fill="#002060"/>
<rect x="2026.2" y="1686.7" width="24" height="4.1" fill="#00b050"/>
<text x="2044.7" y="1805.5" font-size="19" fill="#000" font-weight="bold" font-style="italic" transform="rotate(-90 2044.7 1805.5)">CDKN1B</text>
<rect x="2026.8" y="1822.4" width="23.4" height="14.4" fill="#808080"/>
<rect x="2055.3" y="1691.4" width="24" height="3.9" fill="#0070c0"/>
<rect x="2055.3" y="1686.7" width="24" height="4.7" fill="#00b050"/>
<text x="2073.8" y="1805.5" font-size="19" fill="#000" font-weight="bold" font-style="italic" transform="rotate(-90 2073.8 1805.5)">BMPR1A</text>
<rect x="2055.9" y="1822.4" width="23.4" height="3.1" fill="#808080"/>
<line x1="103.4" y1="1822" x2="103.4" y2="1967.3" stroke="#333" stroke-width="1.5"/>
<line x1="103.4" y1="1822" x2="2080" y2="1822" stroke="#d8d8d8" stroke-width="1"/>
<line x1="96" y1="1822" x2="103.4" y2="1822" stroke="#333" stroke-width="1.5"/>
<text x="82.5" y="1827.5" font-size="18.5" fill="#111" font-weight="bold" text-anchor="end" textLength="10" lengthAdjust="spacingAndGlyphs" font-family='"Liberation Serif", "Times New Roman", serif'>0</text>
<line x1="96" y1="1858.2" x2="103.4" y2="1858.2" stroke="#333" stroke-width="1.5"/>
<text x="82.5" y="1863.7" font-size="18.5" fill="#111" font-weight="bold" text-anchor="end" textLength="20.2" lengthAdjust="spacingAndGlyphs" font-family='"Liberation Serif", "Times New Roman", serif'>10</text>
<line x1="96" y1="1894.4" x2="103.4" y2="1894.4" stroke="#333" stroke-width="1.5"/>
<text x="82.5" y="1899.9" font-size="18.5" fill="#111" font-weight="bold" text-anchor="end" textLength="20.2" lengthAdjust="spacingAndGlyphs" font-family='"Liberation Serif", "Times New Roman", serif'>20</text>
<line x1="96" y1="1930.6" x2="103.4" y2="1930.6" stroke="#333" stroke-width="1.5"/>
<text x="82.5" y="1936.1" font-size="18.5" fill="#111" font-weight="bold" text-anchor="end" textLength="20.2" lengthAdjust="spacingAndGlyphs" font-family='"Liberation Serif", "Times New Roman", serif'>30</text>
<line x1="96" y1="1966.8" x2="103.4" y2="1966.8" stroke="#333" stroke-width="1.5"/>
<text x="82.5" y="1972.3" font-size="18.5" fill="#111" font-weight="bold" text-anchor="end" textLength="20.2" lengthAdjust="spacingAndGlyphs" font-family='"Liberation Serif", "Times New Roman", serif'>40</text>
<text x="36" y="1897.8" font-size="25" fill="#000" text-anchor="middle" textLength="112" lengthAdjust="spacingAndGlyphs" transform="rotate(-90 36 1897.8)">-log10(q)</text>
<line x1="945.8" y1="851" x2="945.8" y2="1990.5" stroke="#000" stroke-width="3.2"/>
<text x="395.6" y="926.1" font-size="26" fill="#111" textLength="505" lengthAdjust="spacingAndGlyphs">altered in ≥3% of cases (non-long tail)</text>
<text x="982.2" y="926.1" font-size="26" fill="#111" textLength="447.7" lengthAdjust="spacingAndGlyphs">altered in &lt;3% of cases (long-tail)</text>
<text x="360.2" y="1159.8" font-size="33" fill="#111" textLength="338.6" lengthAdjust="spacingAndGlyphs">29 non-long tail SMGs</text>
<text x="1196.9" y="1159.8" font-size="33" fill="#111" textLength="270.4" lengthAdjust="spacingAndGlyphs">39 long-tail SMGs</text>
<rect x="1488.3" y="1343.7" width="13" height="13" fill="#ff0000"/>
<text x="1507.5" y="1359" font-size="25" fill="#111" textLength="204.3" lengthAdjust="spacingAndGlyphs">Hotspot Missense</text>
<rect x="1488.3" y="1383.6" width="13" height="13" fill="#0070c0"/>
<text x="1507.5" y="1398.9" font-size="25" fill="#111" textLength="115.3" lengthAdjust="spacingAndGlyphs">Nonsense</text>
<rect x="1488.3" y="1423.4" width="13" height="13" fill="#002060"/>
<text x="1507.5" y="1438.7" font-size="25" fill="#111" textLength="191.7" lengthAdjust="spacingAndGlyphs">Frame-shift Indel</text>
<rect x="1488.3" y="1463.3" width="13" height="13" fill="#00b050"/>
<text x="1507.5" y="1478.6" font-size="25" fill="#111" textLength="256.5" lengthAdjust="spacingAndGlyphs">Non-hotspot Missense</text>
<rect x="1784.2" y="1343.7" width="13" height="13" fill="#ffc000"/>
<text x="1802.6" y="1359" font-size="25" fill="#111" textLength="146.6" lengthAdjust="spacingAndGlyphs">Amplification</text>
<rect x="1784.2" y="1383.6" width="13" height="13" fill="#00b0f0"/>
<text x="1802.6" y="1398.9" font-size="25" fill="#111" textLength="117.5" lengthAdjust="spacingAndGlyphs">Splice site</text>
<rect x="1784.2" y="1423.4" width="13" height="13" fill="#7030a0"/>
<text x="1802.6" y="1438.7" font-size="25" fill="#111" textLength="247.4" lengthAdjust="spacingAndGlyphs">Homozygous deletion</text>
<rect x="1784.2" y="1463.3" width="13" height="13" fill="#ff66ff"/>
<text x="1802.6" y="1478.6" font-size="25" fill="#111" textLength="157.7" lengthAdjust="spacingAndGlyphs">In-frame indel</text>
<text x="0" y="2134.8" font-size="25" fill="#000" font-weight="bold">e</text>
<text x="66" y="2414" font-size="30" fill="#111" text-anchor="middle" textLength="229.6" lengthAdjust="spacingAndGlyphs" transform="rotate(-90 66 2414)">Log2(expression)</text>
<text x="101" y="2414" font-size="30" fill="#111" text-anchor="middle" textLength="368.8" lengthAdjust="spacingAndGlyphs" transform="rotate(-90 101 2414)">in RB1 mutated cases (n=8)</text>
<line x1="162.9" y1="2290.9" x2="162.9" y2="2514" stroke="#444" stroke-width="1.5"/>
<line x1="151.7" y1="2514" x2="162.9" y2="2514" stroke="#444" stroke-width="1.5"/>
<text x="137.7" y="2523" font-size="25" fill="#111" text-anchor="end">0</text>
<line x1="151.7" y1="2469.4" x2="162.9" y2="2469.4" stroke="#444" stroke-width="1.5"/>
<text x="137.7" y="2478.4" font-size="25" fill="#111" text-anchor="end">2</text>
<line x1="151.7" y1="2424.8" x2="162.9" y2="2424.8" stroke="#444" stroke-width="1.5"/>
<text x="137.7" y="2433.8" font-size="25" fill="#111" text-anchor="end">4</text>
<line x1="151.7" y1="2380.1" x2="162.9" y2="2380.1" stroke="#444" stroke-width="1.5"/>
<text x="137.7" y="2389.1" font-size="25" fill="#111" text-anchor="end">6</text>
<line x1="151.7" y1="2335.5" x2="162.9" y2="2335.5" stroke="#444" stroke-width="1.5"/>
<text x="137.7" y="2344.5" font-size="25" fill="#111" text-anchor="end">8</text>
<line x1="151.7" y1="2290.9" x2="162.9" y2="2290.9" stroke="#444" stroke-width="1.5"/>
<text x="137.7" y="2299.9" font-size="25" fill="#111" text-anchor="end">10</text>
<line x1="219.8" y1="2434" x2="219.8" y2="2315.5" stroke="#222" stroke-width="1.5" stroke-dasharray="4,3.5"/>
<line x1="208.8" y1="2315.5" x2="230.5" y2="2315.5" stroke="#222" stroke-width="1.6"/>
<rect x="199" y="2434" width="41.5" height="75.5" fill="none" stroke="#222" stroke-width="1.5"/>
<line x1="199" y1="2508.3" x2="240.5" y2="2508.3" stroke="#000" stroke-width="3.4"/>
<circle cx="219.2" cy="2315.5" r="6.3" fill="#cc0000" fill-opacity="0.97"/>
<circle cx="219.2" cy="2363.8" r="6.3" fill="#cc0000" fill-opacity="0.97"/>
<circle cx="194" cy="2505" r="6.3" fill="#cc0000" fill-opacity="0.97"/>
<circle cx="205.9" cy="2514" r="6.3" fill="#cc0000" fill-opacity="0.97"/>
<circle cx="219.2" cy="2514" r="6.3" fill="#cc0000" fill-opacity="0.97"/>
<circle cx="233.4" cy="2514" r="6.3" fill="#cc0000" fill-opacity="0.97"/>
<circle cx="247.3" cy="2513" r="6.3" fill="#cc0000" fill-opacity="0.97"/>
<circle cx="258.3" cy="2504.2" r="6.3" fill="#cc0000" fill-opacity="0.97"/>
<text x="165.9" y="2570.3" font-size="34" fill="#111" font-style="italic" textLength="103.6" lengthAdjust="spacingAndGlyphs">ASCL1</text>
<line x1="377.7" y1="2290.9" x2="377.7" y2="2514" stroke="#444" stroke-width="1.5"/>
<line x1="366.5" y1="2514" x2="377.7" y2="2514" stroke="#444" stroke-width="1.5"/>
<text x="352.5" y="2523" font-size="25" fill="#111" text-anchor="end">0</text>
<line x1="366.5" y1="2458.2" x2="377.7" y2="2458.2" stroke="#444" stroke-width="1.5"/>
<text x="352.5" y="2467.2" font-size="25" fill="#111" text-anchor="end">2</text>
<line x1="366.5" y1="2402.4" x2="377.7" y2="2402.4" stroke="#444" stroke-width="1.5"/>
<text x="352.5" y="2411.4" font-size="25" fill="#111" text-anchor="end">4</text>
<line x1="366.5" y1="2346.7" x2="377.7" y2="2346.7" stroke="#444" stroke-width="1.5"/>
<text x="352.5" y="2355.7" font-size="25" fill="#111" text-anchor="end">6</text>
<line x1="366.5" y1="2290.9" x2="377.7" y2="2290.9" stroke="#444" stroke-width="1.5"/>
<text x="352.5" y="2299.9" font-size="25" fill="#111" text-anchor="end">8</text>
<line x1="434.2" y1="2448.2" x2="434.2" y2="2440.8" stroke="#222" stroke-width="1.5" stroke-dasharray="4,3.5"/>
<line x1="423.6" y1="2440.8" x2="444.3" y2="2440.8" stroke="#222" stroke-width="1.6"/>
<rect x="413.2" y="2448.2" width="42.1" height="63.7" fill="none" stroke="#222" stroke-width="1.5"/>
<line x1="413.2" y1="2505" x2="455.3" y2="2505" stroke="#000" stroke-width="3.4"/>
<circle cx="434.5" cy="2337.1" r="6.3" fill="#cc0000" fill-opacity="0.97"/>
<circle cx="434.5" cy="2440.8" r="6.3" fill="#cc0000" fill-opacity="0.97"/>
<circle cx="434.5" cy="2456.8" r="6.3" fill="#cc0000" fill-opacity="0.97"/>
<circle cx="408.2" cy="2505" r="6.3" fill="#cc0000" fill-opacity="0.97"/>
<circle cx="420.6" cy="2511" r="6.3" fill="#cc0000" fill-opacity="0.97"/>
<circle cx="434.5" cy="2514.8" r="6.3" fill="#cc0000" fill-opacity="0.97"/>
<circle cx="448.8" cy="2513" r="6.3" fill="#cc0000" fill-opacity="0.97"/>
<circle cx="460" cy="2505" r="6.3" fill="#cc0000" fill-opacity="0.97"/>
<text x="385" y="2570.3" font-size="34" fill="#111" font-style="italic" textLength="94.9" lengthAdjust="spacingAndGlyphs">CHGA</text>
<line x1="592" y1="2290.9" x2="592" y2="2513.6" stroke="#444" stroke-width="1.5"/>
<line x1="580.8" y1="2513.6" x2="592" y2="2513.6" stroke="#444" stroke-width="1.5"/>
<text x="567.4" y="2522.6" font-size="25" fill="#111" text-anchor="end">0</text>
<line x1="580.8" y1="2469.1" x2="592" y2="2469.1" stroke="#444" stroke-width="1.5"/>
<text x="567.4" y="2478.1" font-size="25" fill="#111" text-anchor="end">1</text>
<line x1="580.8" y1="2424.5" x2="592" y2="2424.5" stroke="#444" stroke-width="1.5"/>
<text x="567.4" y="2433.5" font-size="25" fill="#111" text-anchor="end">2</text>
<line x1="580.8" y1="2380" x2="592" y2="2380" stroke="#444" stroke-width="1.5"/>
<text x="567.4" y="2389" font-size="25" fill="#111" text-anchor="end">3</text>
<line x1="580.8" y1="2335.4" x2="592" y2="2335.4" stroke="#444" stroke-width="1.5"/>
<text x="567.4" y="2344.4" font-size="25" fill="#111" text-anchor="end">4</text>
<line x1="580.8" y1="2290.9" x2="592" y2="2290.9" stroke="#444" stroke-width="1.5"/>
<text x="567.4" y="2299.9" font-size="25" fill="#111" text-anchor="end">5</text>
<line x1="648.5" y1="2418.2" x2="648.5" y2="2321.1" stroke="#222" stroke-width="1.5" stroke-dasharray="4,3.5"/>
<line x1="638.5" y1="2321.1" x2="659.2" y2="2321.1" stroke="#222" stroke-width="1.6"/>
<line x1="648.5" y1="2496.4" x2="648.5" y2="2513.6" stroke="#222" stroke-width="1.5" stroke-dasharray="4,3.5"/>
<line x1="638.5" y1="2513.6" x2="659.2" y2="2513.6" stroke="#222" stroke-width="1.6"/>
<rect x="627.5" y="2418.2" width="42.1" height="78.2" fill="none" stroke="#222" stroke-width="1.5"/>
<line x1="627.5" y1="2477.5" x2="669.6" y2="2477.5" stroke="#000" stroke-width="3.4"/>
<circle cx="648.8" cy="2321.1" r="6.3" fill="#cc0000" fill-opacity="0.97"/>
<circle cx="648.8" cy="2379.4" r="6.3" fill="#cc0000" fill-opacity="0.97"/>
<circle cx="648.8" cy="2457.3" r="6.3" fill="#cc0000" fill-opacity="0.97"/>
<circle cx="647.4" cy="2472.2" r="6.3" fill="#cc0000" fill-opacity="0.97"/>
<circle cx="656.2" cy="2484" r="6.3" fill="#cc0000" fill-opacity="0.97"/>
<circle cx="645.9" cy="2492" r="6.3" fill="#cc0000" fill-opacity="0.97"/>
<circle cx="656.2" cy="2501.8" r="6.3" fill="#cc0000" fill-opacity="0.97"/>
<circle cx="648.8" cy="2513" r="6.3" fill="#cc0000" fill-opacity="0.97"/>
<text x="592.6" y="2570.3" font-size="34" fill="#111" font-style="italic" textLength="115.4" lengthAdjust="spacingAndGlyphs">NCAM1</text>
<line x1="806.7" y1="2290.9" x2="806.7" y2="2513.6" stroke="#444" stroke-width="1.5"/>
<line x1="795.5" y1="2513.6" x2="806.7" y2="2513.6" stroke="#444" stroke-width="1.5"/>
<text x="782.1" y="2522.6" font-size="25" fill="#111" text-anchor="end">0</text>
<line x1="795.5" y1="2469.1" x2="806.7" y2="2469.1" stroke="#444" stroke-width="1.5"/>
<text x="782.1" y="2478.1" font-size="25" fill="#111" text-anchor="end">1</text>
<line x1="795.5" y1="2424.5" x2="806.7" y2="2424.5" stroke="#444" stroke-width="1.5"/>
<text x="782.1" y="2433.5" font-size="25" fill="#111" text-anchor="end">2</text>
<line x1="795.5" y1="2380" x2="806.7" y2="2380" stroke="#444" stroke-width="1.5"/>
<text x="782.1" y="2389" font-size="25" fill="#111" text-anchor="end">3</text>
<line x1="795.5" y1="2335.4" x2="806.7" y2="2335.4" stroke="#444" stroke-width="1.5"/>
<text x="782.1" y="2344.4" font-size="25" fill="#111" text-anchor="end">4</text>
<line x1="795.5" y1="2290.9" x2="806.7" y2="2290.9" stroke="#444" stroke-width="1.5"/>
<text x="782.1" y="2299.9" font-size="25" fill="#111" text-anchor="end">5</text>
<line x1="863.1" y1="2366.4" x2="863.1" y2="2313.7" stroke="#222" stroke-width="1.5" stroke-dasharray="4,3.5"/>
<line x1="852.6" y1="2313.7" x2="874" y2="2313.7" stroke="#222" stroke-width="1.6"/>
<line x1="863.1" y1="2504.1" x2="863.1" y2="2513.6" stroke="#222" stroke-width="1.5" stroke-dasharray="4,3.5"/>
<line x1="852.6" y1="2513.6" x2="874" y2="2513.6" stroke="#222" stroke-width="1.6"/>
<rect x="842" y="2366.4" width="42.3" height="137.7" fill="none" stroke="#222" stroke-width="1.5"/>
<line x1="842" y1="2461.2" x2="884.3" y2="2461.2" stroke="#000" stroke-width="3.4"/>
<circle cx="863.6" cy="2313.7" r="6.3" fill="#cc0000" fill-opacity="0.97"/>
<circle cx="863.6" cy="2331.5" r="6.3" fill="#cc0000" fill-opacity="0.97"/>
<circle cx="863.6" cy="2401.1" r="6.3" fill="#cc0000" fill-opacity="0.97"/>
<circle cx="863.6" cy="2448.5" r="6.3" fill="#cc0000" fill-opacity="0.97"/>
<circle cx="863.6" cy="2475.1" r="6.3" fill="#cc0000" fill-opacity="0.97"/>
<circle cx="854.1" cy="2502.7" r="6.3" fill="#cc0000" fill-opacity="0.97"/>
<circle cx="874.8" cy="2505.3" r="6.3" fill="#cc0000" fill-opacity="0.97"/>
<circle cx="863.6" cy="2513" r="6.3" fill="#cc0000" fill-opacity="0.97"/>
<text x="826.6" y="2570.3" font-size="34" fill="#111" font-style="italic" textLength="66.6" lengthAdjust="spacingAndGlyphs">SYP</text>
<defs><clipPath id="hclip"><rect x="1024" y="2116" width="680" height="597"/></clipPath><filter id="grain" x="0" y="0" width="100%" height="100%"><feTurbulence type="fractalNoise" baseFrequency="0.3" numOctaves="2" seed="5" result="t"/><feColorMatrix in="t" type="matrix" values="0 0 0 0 0.2  0 0 0 0 0.12  0 0 0 0 0.35  2.4 0 0 0 -1.0"/></filter><filter id="grainp" x="0" y="0" width="100%" height="100%"><feTurbulence type="fractalNoise" baseFrequency="0.06" numOctaves="3" seed="8" result="t"/><feColorMatrix in="t" type="matrix" values="0 0 0 0 0.62  0 0 0 0 0.45  0 0 0 0 0.62  0 3.0 0 0 -1.45"/></filter><filter id="wob" x="-5%" y="-5%" width="110%" height="110%"><feTurbulence type="fractalNoise" baseFrequency="0.05" numOctaves="1" seed="4" result="n"/><feDisplacementMap in="SourceGraphic" in2="n" scale="8" xChannelSelector="R" yChannelSelector="G" result="d"/><feGaussianBlur in="d" stdDeviation="0.6"/></filter><filter id="wob2" x="-5%" y="-5%" width="110%" height="110%"><feTurbulence type="fractalNoise" baseFrequency="0.08" numOctaves="2" seed="6" result="n"/><feDisplacementMap in="SourceGraphic" in2="n" scale="6" xChannelSelector="R" yChannelSelector="G" result="d"/><feGaussianBlur in="d" stdDeviation="0.5"/></filter><filter id="b07"><feGaussianBlur stdDeviation="0.7"/></filter><filter id="b3"><feGaussianBlur stdDeviation="3"/></filter><filter id="b10"><feGaussianBlur stdDeviation="14"/></filter></defs>
<g clip-path="url(#hclip)">
<rect x="1024" y="2116" width="680" height="597" fill="#634a80"/>
<g filter="url(#wob)"><path d="M1319,2465 L1340,2460 L1345,2447 L1342,2442 L1335,2439 L1321,2445 L1318,2464 Z" fill="#5c4478"/><path d="M1671,2409 L1662,2387 L1662,2387 L1682,2378 L1682,2378 L1684,2398 L1672,2410 Z" fill="#6e5186"/><path d="M1357,2476 L1367,2454 L1370,2453 L1379,2457 L1386,2472 L1386,2474 L1372,2483 Z" fill="#654a80"/><path d="M1150,2418 L1130,2408 L1122,2426 L1129,2437 L1132,2438 L1146,2429 Z" fill="#77588c"/><path d="M1467,2619 L1447,2614 L1444,2603 L1447,2595 L1458,2590 L1471,2598 L1472,2612 Z" fill="#5a4272"/><path d="M1578,2551 L1581,2529 L1594,2524 L1600,2529 L1602,2547 L1591,2557 Z" fill="#5a4272"/><path d="M1015,2725 L1030,2712 L1044,2723 L1019,2764 Z" fill="#77588c"/><path d="M1710,2530 L1719,2521 L1714,2503 L1705,2498 L1693,2508 L1696,2526 Z" fill="#77588c"/><path d="M1433,2183 L1452,2177 L1461,2200 L1446,2209 L1440,2207 L1432,2187 Z" fill="#5a4272"/><path d="M1061,2217 L1043,2197 L1028,2205 L1029,2216 L1045,2228 Z" fill="#5a4272"/><path d="M1166,2125 L1167,2125 L1183,2122 L1191,2111 L1182,2098 L1162,2104 L1161,2110 Z" fill="#654a80"/><path d="M1327,2383 L1346,2388 L1347,2388 L1347,2368 L1333,2365 L1327,2370 Z" fill="#77588c"/><path d="M1607,2440 L1624,2440 L1625,2438 L1623,2418 L1607,2413 L1599,2419 L1598,2421 Z" fill="#6e5186"/><path d="M1456,2410 L1473,2400 L1478,2403 L1476,2425 L1460,2424 Z" fill="#654a80"/><path d="M1494,2397 L1491,2375 L1471,2381 L1468,2390 L1473,2400 L1478,2403 L1491,2400 Z" fill="#5a4272"/><path d="M1526,2308 L1528,2307 L1526,2286 L1514,2279 L1500,2301 L1503,2308 L1510,2311 Z" fill="#735284"/><path d="M1173,2290 L1174,2289 L1178,2276 L1171,2266 L1158,2266 L1151,2273 L1149,2282 L1150,2284 Z" fill="#6e5186"/><path d="M1053,2599 L1039,2594 L1044,2575 L1065,2577 L1059,2596 Z" fill="#77588c"/><path d="M1285,2626 L1274,2637 L1274,2642 L1286,2653 L1307,2639 L1305,2631 Z" fill="#5c4478"/><path d="M1294,2701 L1268,2702 L1266,2708 L1274,2721 L1294,2723 L1298,2712 Z" fill="#77588c"/><path d="M1159,2669 L1142,2672 L1142,2693 L1150,2699 L1168,2686 L1167,2676 Z" fill="#654a80"/><path d="M1355,2722 L1352,2766 L1331,2723 L1341,2714 Z" fill="#5c4478"/><path d="M1287,2152 L1271,2137 L1273,2130 L1286,2121 L1300,2134 L1298,2151 Z" fill="#654a80"/><path d="M1193,2136 L1184,2146 L1193,2163 L1197,2164 L1212,2152 L1200,2136 Z" fill="#5a4272"/><path d="M1255,2712 L1238,2700 L1230,2704 L1231,2723 L1241,2728 L1249,2725 Z" fill="#5c4478"/><path d="M1540,2165 L1547,2181 L1562,2181 L1567,2158 L1557,2153 L1545,2156 Z" fill="#654a80"/><path d="M1184,2146 L1169,2145 L1164,2151 L1164,2163 L1173,2174 L1174,2174 L1193,2163 Z" fill="#5a4272"/><path d="M1051,2618 L1053,2599 L1039,2594 L1033,2596 L1032,2617 L1044,2621 Z" fill="#654a80"/><path d="M1129,2468 L1125,2468 L1113,2453 L1114,2450 L1129,2437 L1132,2438 L1141,2455 Z" fill="#5c4478"/><path d="M1332,2200 L1316,2201 L1312,2217 L1321,2229 L1336,2228 L1340,2222 Z" fill="#654a80"/><path d="M1517,2168 L1516,2170 L1536,2193 L1547,2181 L1540,2165 Z" fill="#654a80"/><path d="M1472,2177 L1454,2174 L1454,2159 L1475,2152 L1483,2155 L1485,2163 Z" fill="#5a4272"/><path d="M1291,2228 L1303,2244 L1313,2243 L1321,2229 L1312,2217 L1294,2222 Z" fill="#6e5186"/><path d="M1206,2705 L1182,2711 L1178,2717 L1191,2731 L1208,2725 Z" fill="#654a80"/><path d="M1599,2291 L1590,2278 L1574,2280 L1569,2291 L1573,2299 L1592,2300 Z" fill="#5a4272"/><path d="M1640,2242 L1657,2234 L1659,2221 L1652,2214 L1646,2213 L1629,2226 Z" fill="#5a4272"/><path d="M1199,2601 L1195,2603 L1172,2597 L1175,2578 L1179,2577 L1198,2583 L1202,2595 Z" fill="#6e5186"/><path d="M1223,2274 L1250,2268 L1255,2289 L1253,2292 L1230,2294 L1223,2285 Z" fill="#735284"/><path d="M1068,2158 L1043,2159 L1042,2137 L1062,2141 L1068,2155 Z" fill="#735284"/><path d="M1427,2233 L1414,2237 L1413,2257 L1425,2264 L1437,2259 L1431,2235 Z" fill="#77588c"/><path d="M1442,2317 L1426,2328 L1427,2343 L1431,2348 L1443,2347 L1455,2332 Z" fill="#5c4478"/><path d="M1341,2714 L1331,2723 L1323,2722 L1317,2711 L1323,2700 L1340,2705 Z" fill="#6e5186"/><path d="M1357,2476 L1367,2454 L1345,2447 L1340,2460 L1347,2476 L1352,2478 Z" fill="#6e5186"/><path d="M1612,2210 L1613,2209 L1634,2195 L1646,2213 L1629,2226 L1620,2224 Z" fill="#6e5186"/><path d="M1122,2672 L1121,2688 L1096,2688 L1093,2684 L1100,2665 L1101,2664 L1110,2664 Z" fill="#5c4478"/><path d="M1603,2264 L1612,2251 L1608,2241 L1591,2237 L1583,2256 L1596,2266 Z" fill="#6e5186"/><path d="M1125,2573 L1130,2560 L1144,2556 L1149,2577 L1147,2580 L1127,2579 Z" fill="#654a80"/><path d="M1688,2203 L1697,2207 L1697,2209 L1692,2233 L1687,2236 L1673,2219 L1681,2204 Z" fill="#6e5186"/><path d="M1680,2659 L1692,2648 L1703,2653 L1705,2660 L1695,2675 L1693,2676 L1679,2665 Z" fill="#735284"/><path d="M1456,2364 L1440,2382 L1426,2363 L1431,2348 L1443,2347 Z" fill="#654a80"/><path d="M1079,2128 L1069,2127 L1063,2120 L1067,2104 L1077,2097 L1087,2107 L1088,2118 Z" fill="#77588c"/><path d="M1707,2261 L1687,2253 L1684,2243 L1687,2236 L1692,2233 L1709,2235 L1716,2243 Z" fill="#735284"/><path d="M1512,2274 L1503,2269 L1504,2248 L1519,2243 L1520,2244 L1528,2258 Z" fill="#6e5186"/><path d="M1615,2475 L1605,2492 L1589,2490 L1585,2485 L1588,2472 L1605,2464 L1613,2468 Z" fill="#6e5186"/><path d="M1196,2197 L1192,2209 L1213,2220 L1216,2220 L1229,2198 L1222,2186 L1208,2187 Z" fill="#6e5186"/><path d="M1515,2150 L1513,2148 L1515,2126 L1540,2127 L1534,2144 Z" fill="#654a80"/><path d="M1157,2463 L1153,2456 L1159,2443 L1176,2439 L1177,2440 L1181,2447 L1177,2463 L1172,2466 Z" fill="#77588c"/><path d="M1615,2475 L1605,2492 L1613,2503 L1613,2503 L1635,2492 L1636,2485 L1632,2479 Z" fill="#654a80"/><path d="M1196,2672 L1217,2678 L1215,2699 L1207,2702 L1191,2685 Z" fill="#6e5186"/><path d="M1140,2112 L1135,2096 L1146,2068 L1162,2104 L1161,2110 Z" fill="#5c4478"/><path d="M1184,2378 L1190,2392 L1200,2394 L1207,2389 L1209,2375 L1190,2366 Z" fill="#5a4272"/><path d="M1258,2470 L1255,2453 L1263,2449 L1278,2452 L1282,2469 L1278,2475 Z" fill="#654a80"/><path d="M1108,2320 L1101,2309 L1080,2319 L1092,2340 L1099,2343 L1101,2341 Z" fill="#5c4478"/><path d="M1508,2480 L1515,2473 L1512,2461 L1496,2455 L1489,2472 L1492,2476 Z" fill="#5c4478"/><path d="M1117,2122 L1104,2127 L1088,2118 L1087,2107 L1109,2100 L1113,2104 Z" fill="#6e5186"/><path d="M1021,2669 L1013,2666 L997,2683 L1016,2695 L1017,2695 L1024,2683 Z" fill="#77588c"/><path d="M1502,2702 L1516,2701 L1526,2722 L1523,2727 L1502,2723 L1499,2704 Z" fill="#735284"/><path d="M1020,2515 L1029,2498 L1005,2489 L986,2495 L1014,2516 Z" fill="#735284"/><path d="M1365,2568 L1352,2580 L1344,2578 L1338,2557 L1341,2552 L1353,2546 L1362,2551 Z" fill="#5c4478"/><path d="M1671,2571 L1663,2551 L1658,2549 L1644,2557 L1643,2559 L1645,2579 L1655,2585 Z" fill="#77588c"/><path d="M1530,2601 L1526,2611 L1512,2618 L1498,2611 L1499,2595 L1523,2593 Z" fill="#5a4272"/><path d="M1649,2321 L1649,2321 L1669,2332 L1680,2326 L1683,2315 L1679,2309 L1661,2308 Z" fill="#6e5186"/><path d="M1507,2660 L1490,2663 L1484,2678 L1500,2685 L1513,2676 L1514,2668 L1512,2662 Z" fill="#77588c"/><path d="M1636,2376 L1648,2368 L1642,2350 L1628,2348 L1620,2356 L1621,2368 Z" fill="#6e5186"/><path d="M1585,2660 L1567,2661 L1560,2641 L1562,2637 L1571,2634 L1587,2644 Z" fill="#735284"/><path d="M1419,2508 L1407,2505 L1403,2493 L1414,2482 L1431,2490 L1431,2493 Z" fill="#5a4272"/><path d="M1427,2149 L1445,2126 L1453,2134 L1451,2156 L1430,2152 Z" fill="#5a4272"/><path d="M1273,2575 L1293,2576 L1296,2573 L1298,2562 L1290,2552 L1273,2561 Z" fill="#6e5186"/><path d="M1440,2384 L1423,2393 L1406,2370 L1426,2363 L1440,2382 Z" fill="#77588c"/><path d="M1597,2144 L1606,2130 L1621,2138 L1622,2156 L1620,2158 L1601,2155 Z" fill="#735284"/><path d="M1540,2126 L1553,2126 L1562,2109 L1544,2097 L1534,2108 Z" fill="#6e5186"/><path d="M1426,2412 L1436,2415 L1449,2407 L1445,2388 L1440,2384 L1423,2393 L1422,2396 Z" fill="#5a4272"/><path d="M1154,2550 L1163,2555 L1179,2549 L1181,2537 L1168,2527 L1160,2531 Z" fill="#77588c"/><path d="M1354,2504 L1355,2505 L1371,2497 L1372,2483 L1357,2476 L1352,2478 L1352,2503 Z" fill="#5c4478"/><path d="M1656,2263 L1656,2264 L1677,2271 L1687,2253 L1684,2243 L1667,2244 Z" fill="#654a80"/><path d="M1024,2289 L1016,2299 L958,2277 L993,2269 L1021,2279 Z" fill="#735284"/><path d="M1502,2207 L1480,2218 L1492,2236 L1510,2220 L1510,2219 L1503,2207 Z" fill="#654a80"/><path d="M1636,2298 L1649,2321 L1661,2308 L1657,2291 L1650,2287 L1641,2289 Z" fill="#654a80"/><path d="M1308,2626 L1323,2619 L1325,2604 L1309,2599 L1302,2602 L1301,2604 Z" fill="#6e5186"/><path d="M1651,2662 L1667,2648 L1680,2659 L1679,2665 L1662,2677 L1655,2672 Z" fill="#654a80"/><path d="M1599,2635 L1598,2639 L1612,2657 L1615,2657 L1627,2637 L1622,2629 L1618,2627 Z" fill="#735284"/><path d="M1205,2243 L1190,2237 L1182,2215 L1192,2209 L1213,2220 L1209,2241 Z" fill="#654a80"/><path d="M1311,2491 L1309,2506 L1294,2504 L1288,2491 L1303,2485 Z" fill="#654a80"/><path d="M1351,2308 L1347,2306 L1352,2283 L1375,2285 L1377,2291 L1370,2304 Z" fill="#5c4478"/><path d="M1603,2715 L1598,2722 L1605,2757 L1628,2720 L1614,2711 Z" fill="#654a80"/><path d="M1318,2128 L1321,2124 L1322,2124 L1342,2136 L1340,2154 L1330,2156 L1320,2152 Z" fill="#5c4478"/><path d="M1030,2645 L1024,2641 L1017,2642 L1010,2661 L1013,2666 L1021,2669 L1033,2661 Z" fill="#654a80"/><path d="M1020,2541 L1027,2537 L1041,2544 L1043,2554 L1036,2565 L1022,2567 L1016,2559 Z" fill="#77588c"/><path d="M1400,2301 L1406,2283 L1423,2279 L1428,2286 L1423,2303 L1412,2308 Z" fill="#6e5186"/><path d="M1585,2117 L1589,2115 L1581,2069 L1562,2109 Z" fill="#5a4272"/><path d="M1084,2372 L1114,2379 L1104,2396 L1085,2393 L1081,2373 Z" fill="#5a4272"/><path d="M1028,2619 L1024,2641 L1017,2642 L998,2631 L1014,2616 Z" fill="#77588c"/><path d="M1462,2364 L1471,2381 L1468,2390 L1445,2388 L1440,2384 L1440,2382 L1456,2364 Z" fill="#5a4272"/><path d="M1473,2511 L1469,2528 L1451,2525 L1444,2516 L1447,2508 L1455,2503 L1471,2508 Z" fill="#5a4272"/><path d="M1581,2721 L1598,2722 L1603,2715 L1591,2699 L1579,2698 L1576,2702 Z" fill="#654a80"/><path d="M1334,2198 L1355,2197 L1354,2219 L1340,2222 L1332,2200 Z" fill="#654a80"/><path d="M1503,2207 L1510,2198 L1535,2196 L1537,2201 L1533,2217 L1510,2219 Z" fill="#77588c"/><path d="M1196,2331 L1185,2313 L1198,2297 L1199,2297 L1200,2297 L1211,2313 Z" fill="#5a4272"/><path d="M1501,2416 L1495,2426 L1504,2439 L1520,2437 L1521,2434 L1512,2416 Z" fill="#6e5186"/><path d="M1434,2578 L1447,2595 L1458,2590 L1461,2573 L1445,2565 L1435,2570 Z" fill="#6e5186"/><path d="M1285,2615 L1269,2602 L1273,2597 L1292,2592 L1302,2602 L1301,2604 Z" fill="#77588c"/><path d="M1676,2148 L1658,2131 L1657,2131 L1647,2138 L1647,2144 L1657,2159 L1674,2156 L1676,2155 Z" fill="#6e5186"/><path d="M1671,2571 L1663,2551 L1681,2543 L1694,2554 L1695,2568 L1682,2574 Z" fill="#5a4272"/><path d="M1421,2645 L1430,2663 L1423,2671 L1404,2670 L1397,2661 L1398,2655 L1414,2644 Z" fill="#654a80"/><path d="M1354,2504 L1340,2524 L1335,2524 L1325,2510 L1333,2500 L1352,2503 Z" fill="#5a4272"/><path d="M1594,2522 L1613,2503 L1605,2492 L1589,2490 L1584,2501 Z" fill="#6e5186"/><path d="M1510,2220 L1519,2243 L1520,2244 L1540,2229 L1533,2217 L1510,2219 Z" fill="#6e5186"/><path d="M1659,2710 L1671,2716 L1659,2770 L1641,2727 Z" fill="#6e5186"/><path d="M1700,2445 L1718,2452 L1744,2441 L1715,2423 L1699,2438 Z" fill="#5c4478"/><path d="M1416,2595 L1416,2592 L1405,2574 L1385,2583 L1384,2585 L1400,2600 Z" fill="#5c4478"/><path d="M1352,2123 L1367,2115 L1354,2085 L1341,2109 Z" fill="#5a4272"/><path d="M1597,2144 L1606,2130 L1605,2125 L1596,2117 L1589,2115 L1585,2117 L1577,2134 L1579,2142 Z" fill="#654a80"/><path d="M1598,2210 L1586,2186 L1571,2190 L1566,2208 L1567,2210 L1593,2214 Z" fill="#77588c"/><path d="M1255,2615 L1261,2605 L1247,2586 L1228,2595 L1229,2607 L1235,2613 Z" fill="#654a80"/><path d="M1115,2199 L1117,2179 L1100,2174 L1090,2183 L1095,2204 Z" fill="#6e5186"/><path d="M1365,2568 L1362,2551 L1378,2544 L1387,2558 L1379,2573 Z" fill="#5c4478"/><path d="M1615,2550 L1626,2539 L1617,2527 L1600,2529 L1602,2547 Z" fill="#6e5186"/><path d="M1672,2410 L1684,2398 L1700,2402 L1705,2410 L1684,2424 L1684,2424 Z" fill="#654a80"/><path d="M1708,2139 L1688,2135 L1676,2148 L1676,2155 L1692,2161 L1707,2150 L1709,2143 Z" fill="#654a80"/><path d="M1159,2443 L1146,2429 L1150,2418 L1156,2415 L1168,2421 L1176,2439 Z" fill="#5c4478"/><path d="M1225,2566 L1221,2573 L1205,2572 L1198,2558 L1205,2551 L1222,2552 L1225,2556 Z" fill="#5a4272"/><path d="M1629,2452 L1624,2440 L1607,2440 L1601,2448 L1605,2464 L1613,2468 Z" fill="#6e5186"/><path d="M1239,2333 L1232,2351 L1220,2352 L1215,2338 L1223,2326 Z" fill="#77588c"/><path d="M1627,2666 L1615,2657 L1612,2657 L1598,2670 L1606,2685 L1616,2690 L1628,2685 Z" fill="#735284"/><path d="M1160,2652 L1137,2649 L1133,2644 L1154,2625 L1168,2644 Z" fill="#654a80"/><path d="M1427,2233 L1429,2215 L1412,2209 L1401,2229 L1414,2237 Z" fill="#6e5186"/><path d="M1406,2426 L1398,2407 L1378,2407 L1376,2426 L1400,2432 Z" fill="#6e5186"/><path d="M1444,2125 L1428,2117 L1429,2104 L1440,2095 L1455,2110 Z" fill="#77588c"/><path d="M1406,2426 L1414,2425 L1426,2412 L1422,2396 L1402,2400 L1398,2407 Z" fill="#6e5186"/><path d="M1515,2126 L1513,2148 L1493,2145 L1490,2131 L1507,2120 L1511,2121 Z" fill="#6e5186"/><path d="M1406,2370 L1403,2351 L1378,2347 L1378,2360 L1397,2374 Z" fill="#5a4272"/><path d="M1696,2704 L1687,2704 L1683,2693 L1693,2676 L1695,2675 L1710,2685 L1709,2693 Z" fill="#6e5186"/><path d="M1651,2418 L1645,2412 L1647,2393 L1662,2387 L1671,2409 Z" fill="#735284"/><path d="M1238,2203 L1229,2198 L1216,2220 L1236,2229 L1244,2218 Z" fill="#735284"/><path d="M1466,2680 L1452,2706 L1437,2702 L1435,2695 L1448,2678 L1463,2677 Z" fill="#6e5186"/><path d="M1082,2601 L1097,2606 L1110,2596 L1099,2581 L1083,2589 Z" fill="#654a80"/><path d="M1018,2200 L1028,2205 L1029,2216 L1015,2234 L1004,2215 L1018,2201 Z" fill="#654a80"/><path d="M1249,2328 L1239,2333 L1223,2326 L1221,2315 L1228,2309 L1251,2318 Z" fill="#5a4272"/><path d="M1359,2246 L1361,2260 L1375,2267 L1386,2248 L1385,2240 L1368,2236 Z" fill="#77588c"/><path d="M1301,2329 L1303,2339 L1314,2348 L1325,2345 L1331,2326 L1317,2321 Z" fill="#5c4478"/><path d="M1288,2442 L1298,2446 L1311,2439 L1310,2418 L1308,2417 L1290,2423 L1286,2431 Z" fill="#654a80"/><path d="M1471,2448 L1477,2444 L1480,2429 L1476,2425 L1460,2424 L1452,2432 L1457,2444 Z" fill="#77588c"/><path d="M1612,2251 L1608,2241 L1620,2224 L1629,2226 L1640,2242 L1637,2255 L1633,2257 Z" fill="#77588c"/><path d="M1530,2601 L1526,2611 L1535,2626 L1553,2623 L1555,2605 L1554,2604 L1546,2598 Z" fill="#77588c"/><path d="M1218,2677 L1217,2678 L1215,2699 L1230,2704 L1238,2700 L1245,2683 L1238,2675 Z" fill="#5a4272"/><path d="M1640,2168 L1633,2184 L1636,2189 L1662,2187 L1662,2186 L1652,2167 Z" fill="#5a4272"/><path d="M1179,2549 L1163,2555 L1168,2574 L1175,2578 L1179,2577 L1187,2559 Z" fill="#654a80"/><path d="M1596,2360 L1607,2351 L1620,2356 L1621,2368 L1610,2378 L1596,2368 Z" fill="#6e5186"/><path d="M1592,2170 L1593,2178 L1586,2186 L1571,2190 L1562,2181 L1567,2158 L1570,2156 Z" fill="#77588c"/><path d="M1309,2532 L1290,2550 L1277,2534 L1286,2521 L1307,2528 Z" fill="#654a80"/><path d="M1707,2150 L1720,2170 L1706,2180 L1695,2177 L1692,2161 Z" fill="#6e5186"/><path d="M1365,2568 L1352,2580 L1360,2594 L1376,2594 L1384,2585 L1385,2583 L1379,2573 Z" fill="#654a80"/><path d="M1362,2551 L1353,2546 L1352,2537 L1366,2521 L1381,2525 L1382,2536 L1378,2544 Z" fill="#6e5186"/><path d="M1135,2122 L1123,2126 L1125,2146 L1136,2150 L1146,2144 L1147,2131 Z" fill="#5a4272"/><path d="M1405,2171 L1403,2172 L1397,2183 L1400,2195 L1409,2200 L1432,2187 L1433,2183 L1431,2181 Z" fill="#654a80"/><path d="M1729,2707 L1770,2699 L1718,2679 L1710,2685 L1709,2693 Z" fill="#5c4478"/><path d="M1684,2398 L1682,2378 L1697,2376 L1707,2382 L1700,2402 Z" fill="#654a80"/><path d="M1553,2316 L1544,2306 L1551,2289 L1569,2291 L1573,2299 L1571,2305 Z" fill="#6e5186"/><path d="M1324,2415 L1335,2439 L1342,2442 L1354,2425 L1351,2416 L1337,2409 L1327,2411 Z" fill="#5c4478"/><path d="M1305,2466 L1318,2464 L1319,2465 L1327,2485 L1327,2485 L1311,2491 L1303,2485 L1304,2466 Z" fill="#77588c"/><path d="M1006,2532 L1020,2541 L1016,2559 L961,2545 Z" fill="#5a4272"/><path d="M1338,2557 L1320,2562 L1321,2578 L1334,2584 L1344,2578 Z" fill="#5a4272"/><path d="M1278,2475 L1282,2469 L1304,2466 L1303,2485 L1288,2491 L1280,2488 Z" fill="#5a4272"/><path d="M1553,2623 L1562,2637 L1571,2634 L1581,2620 L1578,2612 L1555,2605 Z" fill="#5a4272"/><path d="M1297,2689 L1279,2676 L1288,2659 L1307,2666 L1302,2686 Z" fill="#5a4272"/><path d="M1644,2557 L1628,2539 L1639,2529 L1653,2531 L1658,2549 Z" fill="#77588c"/><path d="M1548,2577 L1566,2575 L1572,2580 L1572,2588 L1554,2604 L1546,2598 Z" fill="#735284"/><path d="M1471,2508 L1455,2503 L1456,2488 L1469,2484 L1477,2495 Z" fill="#5c4478"/><path d="M1150,2699 L1151,2702 L1174,2718 L1178,2717 L1182,2711 L1177,2691 L1168,2686 Z" fill="#654a80"/><path d="M1470,2308 L1489,2295 L1500,2301 L1503,2308 L1486,2325 L1473,2318 Z" fill="#6e5186"/><path d="M1469,2467 L1471,2448 L1477,2444 L1496,2454 L1496,2455 L1489,2472 L1473,2472 Z" fill="#654a80"/><path d="M1523,2580 L1505,2569 L1494,2587 L1499,2595 L1523,2593 Z" fill="#735284"/><path d="M1712,2122 L1736,2113 L1703,2083 L1703,2114 Z" fill="#5a4272"/><path d="M1176,2357 L1173,2340 L1192,2336 L1198,2352 L1190,2365 Z" fill="#654a80"/><path d="M1287,2152 L1271,2137 L1256,2150 L1268,2166 L1282,2163 Z" fill="#6e5186"/><path d="M1167,2676 L1168,2686 L1177,2691 L1191,2685 L1196,2672 L1194,2667 L1182,2665 Z" fill="#5a4272"/><path d="M1692,2452 L1700,2445 L1718,2452 L1711,2471 L1699,2468 Z" fill="#6e5186"/><path d="M1046,2694 L1030,2707 L1017,2695 L1024,2683 L1042,2684 L1047,2691 Z" fill="#5c4478"/><path d="M1114,2379 L1115,2379 L1132,2392 L1129,2405 L1108,2406 L1104,2396 Z" fill="#77588c"/><path d="M1699,2356 L1697,2376 L1682,2378 L1682,2378 L1672,2358 L1686,2351 Z" fill="#6e5186"/><path d="M1272,2290 L1255,2289 L1250,2268 L1250,2266 L1273,2262 L1278,2273 Z" fill="#6e5186"/><path d="M1099,2581 L1099,2580 L1109,2569 L1125,2573 L1127,2579 L1122,2593 L1114,2596 L1110,2596 Z" fill="#5c4478"/><path d="M1056,2661 L1045,2666 L1042,2684 L1047,2691 L1070,2681 L1065,2664 Z" fill="#654a80"/><path d="M1304,2387 L1320,2389 L1327,2411 L1324,2415 L1310,2418 L1308,2417 L1299,2396 L1303,2387 Z" fill="#654a80"/><path d="M1373,2686 L1370,2710 L1381,2716 L1398,2693 L1378,2683 Z" fill="#5a4272"/><path d="M1521,2407 L1513,2392 L1515,2387 L1530,2381 L1538,2397 L1532,2407 Z" fill="#77588c"/><path d="M1713,2605 L1738,2612 L1713,2633 L1699,2624 L1698,2621 Z" fill="#735284"/><path d="M1430,2152 L1451,2156 L1454,2159 L1454,2174 L1452,2177 L1433,2183 L1431,2181 Z" fill="#735284"/><path d="M1389,2156 L1403,2172 L1397,2183 L1377,2182 L1370,2168 L1370,2166 Z" fill="#6e5186"/><path d="M1309,2532 L1317,2538 L1324,2537 L1335,2524 L1325,2510 L1313,2511 L1307,2528 Z" fill="#5c4478"/><path d="M1344,2273 L1338,2275 L1319,2268 L1321,2253 L1339,2250 Z" fill="#5c4478"/><path d="M1562,2423 L1552,2443 L1556,2447 L1579,2441 L1580,2435 L1569,2422 Z" fill="#6e5186"/><path d="M1553,2246 L1552,2247 L1534,2259 L1528,2258 L1520,2244 L1540,2229 L1543,2230 Z" fill="#6e5186"/><path d="M1065,2664 L1070,2681 L1074,2685 L1093,2684 L1100,2665 L1077,2654 Z" fill="#6e5186"/><path d="M1560,2498 L1561,2487 L1566,2482 L1585,2485 L1589,2490 L1584,2501 L1571,2507 Z" fill="#6e5186"/><path d="M1543,2230 L1540,2229 L1533,2217 L1537,2201 L1566,2208 L1567,2210 L1566,2213 Z" fill="#77588c"/><path d="M1042,2124 L1019,2118 L1012,2122 L1013,2129 L1026,2141 L1042,2137 Z" fill="#77588c"/><path d="M1378,2136 L1379,2134 L1399,2125 L1408,2140 L1389,2153 Z" fill="#77588c"/><path d="M1074,2531 L1065,2540 L1051,2533 L1049,2519 L1051,2515 L1069,2515 L1072,2517 Z" fill="#5a4272"/><path d="M1266,2385 L1257,2412 L1257,2413 L1280,2409 L1283,2401 L1271,2384 Z" fill="#77588c"/><path d="M1146,2325 L1163,2328 L1169,2313 L1169,2312 L1149,2301 L1139,2309 Z" fill="#654a80"/><path d="M1535,2626 L1529,2639 L1530,2643 L1540,2649 L1560,2641 L1562,2637 L1553,2623 Z" fill="#80608f"/><path d="M1049,2185 L1047,2186 L1035,2172 L1036,2167 L1043,2159 L1068,2158 L1071,2164 L1071,2165 Z" fill="#735284"/><path d="M1562,2244 L1573,2233 L1566,2213 L1543,2230 L1553,2246 Z" fill="#77588c"/><path d="M1301,2272 L1296,2254 L1303,2244 L1313,2243 L1321,2253 L1319,2268 L1311,2273 Z" fill="#6e5186"/><path d="M1599,2317 L1579,2323 L1577,2328 L1581,2341 L1602,2337 L1604,2332 L1599,2317 Z" fill="#735284"/><path d="M1241,2430 L1222,2440 L1225,2458 L1229,2460 L1250,2451 Z" fill="#654a80"/><path d="M1555,2687 L1549,2699 L1542,2700 L1531,2691 L1542,2670 L1543,2671 Z" fill="#77588c"/><path d="M1514,2279 L1500,2301 L1489,2295 L1485,2284 L1490,2272 L1503,2269 L1512,2274 Z" fill="#5a4272"/><path d="M1570,2156 L1567,2158 L1557,2153 L1554,2128 L1577,2134 L1579,2142 Z" fill="#735284"/><path d="M1160,2531 L1168,2527 L1169,2515 L1155,2504 L1150,2505 L1142,2522 L1143,2524 Z" fill="#6e5186"/><path d="M1664,2684 L1683,2693 L1687,2704 L1681,2713 L1671,2716 L1659,2710 L1654,2701 Z" fill="#77588c"/><path d="M1682,2378 L1672,2358 L1672,2358 L1653,2369 L1662,2387 Z" fill="#6e5186"/><path d="M1195,2332 L1192,2336 L1173,2340 L1166,2336 L1163,2328 L1169,2313 L1185,2313 L1196,2331 Z" fill="#654a80"/><path d="M1249,2328 L1259,2339 L1274,2338 L1283,2326 L1274,2314 L1253,2315 L1251,2318 Z" fill="#6e5186"/><path d="M1283,2326 L1295,2325 L1301,2329 L1303,2339 L1284,2360 L1284,2360 L1283,2359 L1274,2338 Z" fill="#654a80"/><path d="M1641,2289 L1650,2287 L1656,2264 L1656,2263 L1637,2255 L1633,2257 L1628,2274 Z" fill="#5a4272"/><path d="M1386,2472 L1412,2465 L1415,2461 L1399,2443 L1379,2457 Z" fill="#5c4478"/><path d="M1073,2496 L1069,2515 L1051,2515 L1041,2494 L1056,2484 L1058,2484 Z" fill="#6e5186"/><path d="M1467,2262 L1457,2252 L1457,2249 L1469,2239 L1486,2244 L1481,2261 Z" fill="#6e5186"/><path d="M1149,2577 L1168,2574 L1175,2578 L1172,2597 L1166,2603 L1149,2595 L1147,2580 Z" fill="#77588c"/><path d="M1283,2326 L1295,2325 L1298,2300 L1293,2296 L1279,2297 L1274,2314 Z" fill="#5c4478"/><path d="M1370,2453 L1372,2429 L1354,2425 L1342,2442 L1345,2447 L1367,2454 Z" fill="#77588c"/><path d="M1513,2556 L1536,2562 L1537,2542 L1531,2536 L1515,2534 L1511,2538 Z" fill="#735284"/><path d="M1609,2612 L1619,2599 L1627,2599 L1637,2608 L1622,2629 L1618,2627 Z" fill="#654a80"/><path d="M1575,2375 L1579,2380 L1596,2368 L1596,2360 L1578,2349 L1572,2353 Z" fill="#654a80"/><path d="M1295,2178 L1299,2197 L1315,2200 L1316,2179 L1305,2172 Z" fill="#77588c"/><path d="M1286,2203 L1266,2213 L1258,2192 L1261,2185 L1262,2184 L1276,2187 Z" fill="#77588c"/><path d="M1162,2368 L1150,2352 L1147,2352 L1136,2363 L1146,2379 L1162,2370 Z" fill="#5a4272"/><path d="M1679,2116 L1676,2104 L1656,2103 L1648,2110 L1657,2131 L1658,2131 Z" fill="#6e5186"/><path d="M1095,2204 L1092,2219 L1071,2226 L1061,2217 L1072,2200 Z" fill="#5a4272"/><path d="M1123,2286 L1116,2276 L1118,2266 L1133,2258 L1151,2273 L1149,2282 Z" fill="#654a80"/><path d="M1609,2391 L1587,2390 L1586,2410 L1599,2419 L1607,2413 L1610,2393 Z" fill="#6e5186"/><path d="M1398,2693 L1399,2692 L1404,2695 L1412,2713 L1397,2723 L1384,2721 L1381,2716 Z" fill="#5a4272"/><path d="M1340,2222 L1336,2228 L1342,2245 L1359,2246 L1368,2236 L1363,2223 L1354,2219 Z" fill="#5a4272"/><path d="M1508,2480 L1515,2473 L1537,2477 L1538,2479 L1534,2489 L1512,2497 Z" fill="#5a4272"/><path d="M1237,2241 L1246,2247 L1250,2266 L1250,2268 L1223,2274 L1221,2270 L1225,2248 Z" fill="#6e5186"/><path d="M1651,2427 L1649,2430 L1625,2438 L1623,2418 L1634,2411 L1645,2412 L1651,2418 Z" fill="#6e5186"/><path d="M1198,2448 L1209,2434 L1192,2426 L1177,2440 L1181,2447 Z" fill="#77588c"/><path d="M1621,2302 L1636,2298 L1641,2289 L1628,2274 L1614,2279 L1610,2289 Z" fill="#654a80"/><path d="M1598,2210 L1612,2210 L1620,2224 L1608,2241 L1591,2237 L1589,2235 L1593,2214 Z" fill="#654a80"/><path d="M1128,2642 L1126,2642 L1100,2636 L1099,2634 L1098,2626 L1118,2617 L1125,2621 Z" fill="#77588c"/><path d="M1523,2339 L1532,2328 L1526,2308 L1510,2311 L1514,2338 Z" fill="#654a80"/><path d="M1517,2168 L1516,2170 L1508,2175 L1498,2174 L1485,2163 L1483,2155 L1493,2145 L1513,2148 L1515,2150 Z" fill="#735284"/><path d="M1303,2387 L1299,2396 L1283,2401 L1271,2384 L1282,2375 Z" fill="#654a80"/><path d="M1463,2107 L1472,2044 L1489,2104 L1476,2116 Z" fill="#5a4272"/><path d="M1273,2561 L1290,2552 L1290,2550 L1277,2534 L1266,2536 L1264,2555 Z" fill="#654a80"/><path d="M1163,2489 L1155,2504 L1150,2505 L1136,2495 L1140,2480 L1150,2478 Z" fill="#5a4272"/><path d="M1400,2301 L1400,2301 L1377,2291 L1375,2285 L1378,2276 L1398,2272 L1406,2283 Z" fill="#6e5186"/><path d="M1249,2328 L1259,2339 L1253,2360 L1242,2361 L1232,2351 L1239,2333 Z" fill="#6e5186"/><path d="M1406,2573 L1399,2558 L1407,2545 L1421,2552 L1424,2562 Z" fill="#6e5186"/><path d="M1255,2615 L1235,2613 L1230,2630 L1236,2639 L1243,2639 L1257,2622 Z" fill="#6e5186"/><path d="M1049,2185 L1071,2165 L1079,2180 L1070,2193 Z" fill="#6e5186"/><path d="M1355,2505 L1366,2521 L1381,2525 L1387,2519 L1382,2502 L1371,2497 Z" fill="#654a80"/><path d="M1492,2476 L1489,2472 L1473,2472 L1469,2484 L1477,2495 L1489,2492 Z" fill="#77588c"/><path d="M1255,2418 L1257,2413 L1280,2409 L1290,2423 L1286,2431 L1265,2430 Z" fill="#6e5186"/><path d="M1555,2687 L1543,2671 L1566,2663 L1571,2684 Z" fill="#735284"/><path d="M1394,2329 L1388,2318 L1400,2301 L1400,2301 L1412,2308 L1413,2318 L1403,2331 Z" fill="#77588c"/><path d="M1352,2179 L1370,2168 L1377,2182 L1370,2195 L1357,2195 Z" fill="#77588c"/><path d="M1681,2482 L1683,2481 L1704,2494 L1705,2498 L1693,2508 L1678,2505 L1680,2482 Z" fill="#654a80"/><path d="M1348,2177 L1341,2154 L1340,2154 L1330,2156 L1326,2175 L1335,2182 Z" fill="#77588c"/><path d="M1651,2457 L1650,2457 L1649,2430 L1651,2427 L1672,2440 L1673,2446 Z" fill="#654a80"/><path d="M1599,2291 L1590,2278 L1596,2266 L1603,2264 L1614,2279 L1610,2289 Z" fill="#5a4272"/><path d="M1640,2242 L1637,2255 L1656,2263 L1667,2244 L1657,2234 Z" fill="#77588c"/><path d="M1427,2622 L1426,2640 L1421,2645 L1414,2644 L1404,2624 L1419,2616 Z" fill="#5a4272"/><path d="M1043,2122 L1044,2105 L1048,2101 L1067,2104 L1063,2120 Z" fill="#5a4272"/><path d="M1117,2726 L1134,2772 L1146,2729 L1142,2721 L1123,2717 Z" fill="#77588c"/><path d="M1683,2532 L1696,2526 L1693,2508 L1678,2505 L1675,2508 L1675,2524 Z" fill="#654a80"/><path d="M1211,2528 L1223,2536 L1234,2531 L1236,2519 L1225,2509 L1219,2508 L1210,2518 Z" fill="#6e5186"/><path d="M1552,2335 L1552,2329 L1532,2328 L1523,2339 L1535,2353 L1536,2353 Z" fill="#77588c"/><path d="M1427,2622 L1444,2618 L1447,2614 L1444,2603 L1420,2601 L1419,2616 Z" fill="#77588c"/><path d="M1192,2472 L1177,2463 L1181,2447 L1198,2448 L1205,2466 Z" fill="#654a80"/><path d="M1246,2489 L1225,2509 L1236,2519 L1255,2516 L1261,2502 Z" fill="#6e5186"/><path d="M1683,2481 L1704,2494 L1713,2474 L1711,2471 L1699,2468 Z" fill="#735284"/><path d="M1354,2348 L1353,2364 L1347,2368 L1333,2365 L1332,2351 L1351,2345 Z" fill="#6e5186"/><path d="M1469,2529 L1469,2528 L1451,2525 L1442,2542 L1448,2550 L1462,2547 Z" fill="#5a4272"/><path d="M1304,2387 L1309,2365 L1284,2360 L1284,2360 L1282,2375 L1303,2387 Z" fill="#5a4272"/><path d="M1330,2668 L1334,2675 L1321,2690 L1302,2686 L1307,2666 L1311,2663 Z" fill="#5c4478"/><path d="M1229,2460 L1237,2479 L1215,2488 L1208,2466 L1225,2458 Z" fill="#5c4478"/><path d="M1291,2228 L1303,2244 L1296,2254 L1277,2254 L1274,2244 L1285,2230 Z" fill="#654a80"/><path d="M1551,2442 L1530,2451 L1538,2474 L1558,2460 L1556,2447 L1552,2443 Z" fill="#77588c"/><path d="M1221,2315 L1211,2313 L1200,2297 L1223,2285 L1230,2294 L1228,2309 Z" fill="#5a4272"/><path d="M1596,2360 L1607,2351 L1602,2337 L1581,2341 L1578,2349 Z" fill="#735284"/><path d="M1042,2124 L1019,2118 L1026,2099 L1044,2105 L1043,2122 Z" fill="#654a80"/><path d="M1373,2686 L1350,2684 L1349,2696 L1367,2711 L1370,2710 Z" fill="#735284"/><path d="M1705,2410 L1711,2413 L1732,2396 L1709,2381 L1707,2382 L1700,2402 Z" fill="#5a4272"/><path d="M1133,2644 L1137,2649 L1136,2667 L1122,2672 L1110,2664 L1126,2642 L1128,2642 Z" fill="#654a80"/><path d="M1452,2224 L1446,2209 L1461,2200 L1469,2201 L1476,2217 L1468,2225 Z" fill="#6e5186"/><path d="M1630,2109 L1630,2108 L1648,2110 L1657,2131 L1647,2138 L1632,2131 Z" fill="#735284"/><path d="M1090,2554 L1087,2551 L1066,2552 L1064,2555 L1067,2576 L1087,2565 Z" fill="#5c4478"/><path d="M1090,2554 L1087,2551 L1087,2537 L1096,2529 L1115,2538 L1116,2539 L1115,2544 L1106,2553 Z" fill="#6e5186"/><path d="M1045,2249 L1042,2241 L1045,2228 L1061,2217 L1061,2217 L1071,2226 L1071,2237 L1052,2250 Z" fill="#77588c"/><path d="M1487,2586 L1471,2598 L1472,2612 L1496,2613 L1498,2611 L1499,2595 L1494,2587 Z" fill="#654a80"/><path d="M1265,2502 L1285,2519 L1286,2521 L1277,2534 L1266,2536 L1262,2533 L1255,2516 L1261,2502 Z" fill="#654a80"/><path d="M1641,2458 L1650,2457 L1651,2457 L1656,2467 L1653,2481 L1636,2485 L1632,2479 Z" fill="#6e5186"/><path d="M1187,2494 L1185,2506 L1194,2517 L1210,2518 L1219,2508 L1212,2494 L1189,2492 Z" fill="#5c4478"/><path d="M1059,2712 L1070,2711 L1080,2718 L1073,2758 L1050,2723 Z" fill="#6e5186"/><path d="M1321,2445 L1335,2439 L1324,2415 L1310,2418 L1311,2439 Z" fill="#6e5186"/><path d="M1399,2125 L1379,2134 L1373,2116 L1387,2105 L1400,2111 L1401,2114 Z" fill="#6e5186"/><path d="M1423,2279 L1425,2264 L1437,2259 L1442,2260 L1450,2282 L1444,2287 L1428,2286 Z" fill="#5a4272"/><path d="M1187,2627 L1195,2603 L1172,2597 L1166,2603 L1165,2611 Z" fill="#77588c"/><path d="M1409,2200 L1412,2209 L1401,2229 L1396,2230 L1384,2208 L1400,2195 Z" fill="#5a4272"/><path d="M1294,2701 L1268,2702 L1264,2683 L1268,2678 L1279,2676 L1297,2689 Z" fill="#6e5186"/><path d="M1355,2197 L1357,2195 L1370,2195 L1379,2207 L1363,2223 L1354,2219 Z" fill="#77588c"/><path d="M1384,2642 L1363,2656 L1354,2646 L1355,2630 L1366,2622 L1366,2622 L1384,2637 Z" fill="#77588c"/><path d="M1431,2235 L1447,2232 L1457,2249 L1457,2252 L1442,2260 L1437,2259 Z" fill="#735284"/><path d="M1321,2578 L1313,2582 L1309,2599 L1325,2604 L1331,2600 L1334,2584 Z" fill="#77588c"/><path d="M1168,2421 L1181,2412 L1180,2400 L1165,2395 L1159,2398 L1156,2415 Z" fill="#654a80"/><path d="M1435,2570 L1424,2562 L1421,2552 L1433,2540 L1442,2542 L1448,2550 L1445,2565 Z" fill="#5a4272"/><path d="M1137,2174 L1121,2176 L1117,2179 L1115,2199 L1130,2211 L1137,2210 L1147,2191 Z" fill="#77588c"/><path d="M1304,2387 L1320,2389 L1327,2383 L1327,2370 L1311,2364 L1309,2365 Z" fill="#5a4272"/><path d="M1406,2426 L1414,2425 L1429,2442 L1429,2448 L1420,2459 L1415,2461 L1399,2443 L1400,2432 Z" fill="#77588c"/><path d="M1562,2244 L1578,2258 L1583,2256 L1591,2237 L1589,2235 L1573,2233 Z" fill="#735284"/><path d="M1245,2484 L1237,2479 L1215,2488 L1212,2494 L1219,2508 L1225,2509 L1246,2489 Z" fill="#654a80"/><path d="M1609,2612 L1619,2599 L1610,2589 L1597,2591 L1593,2597 L1602,2611 Z" fill="#6e5186"/><path d="M1167,2727 L1146,2729 L1142,2721 L1151,2702 L1174,2718 Z" fill="#5c4478"/><path d="M1036,2260 L1045,2249 L1042,2241 L1015,2235 L1013,2238 L1014,2251 L1029,2262 Z" fill="#77588c"/><path d="M1293,2296 L1297,2275 L1278,2273 L1272,2290 L1279,2297 Z" fill="#6e5186"/><path d="M1298,2151 L1300,2134 L1318,2128 L1320,2152 L1307,2156 Z" fill="#5a4272"/><path d="M1548,2577 L1566,2575 L1567,2554 L1563,2552 L1538,2565 L1538,2567 Z" fill="#77588c"/><path d="M1180,2253 L1171,2266 L1158,2266 L1157,2250 L1166,2242 L1179,2251 Z" fill="#77588c"/><path d="M1414,2237 L1401,2229 L1396,2230 L1385,2240 L1386,2248 L1402,2261 L1413,2257 Z" fill="#5a4272"/><path d="M1340,2705 L1323,2700 L1321,2690 L1334,2675 L1346,2679 L1350,2684 L1349,2696 Z" fill="#5a4272"/><path d="M1344,2274 L1352,2283 L1347,2306 L1342,2307 L1327,2296 L1338,2275 L1344,2273 Z" fill="#5a4272"/><path d="M1507,2660 L1503,2640 L1491,2635 L1484,2638 L1480,2650 L1490,2663 Z" fill="#6e5186"/><path d="M1134,2336 L1146,2325 L1163,2328 L1166,2336 L1150,2352 L1147,2352 Z" fill="#77588c"/><path d="M1121,2688 L1096,2688 L1098,2704 L1120,2707 L1127,2694 Z" fill="#6e5186"/><path d="M1269,2602 L1261,2605 L1247,2586 L1249,2575 L1271,2577 L1273,2597 Z" fill="#77588c"/><path d="M1514,2668 L1541,2669 L1542,2670 L1531,2691 L1524,2692 L1513,2676 Z" fill="#735284"/><path d="M1020,2177 L1035,2172 L1047,2186 L1043,2197 L1028,2205 L1018,2200 Z" fill="#654a80"/><path d="M1220,2352 L1217,2355 L1214,2371 L1234,2378 L1242,2361 L1232,2351 Z" fill="#5a4272"/><path d="M1515,2514 L1542,2512 L1544,2516 L1531,2536 L1515,2534 Z" fill="#735284"/><path d="M1523,2339 L1535,2353 L1525,2364 L1513,2364 L1505,2347 L1507,2342 L1514,2338 Z" fill="#5a4272"/><path d="M1261,2219 L1260,2239 L1246,2247 L1237,2241 L1236,2229 L1244,2218 Z" fill="#735284"/><path d="M1469,2467 L1471,2448 L1457,2444 L1447,2454 L1450,2467 Z" fill="#654a80"/><path d="M1657,2234 L1667,2244 L1684,2243 L1687,2236 L1673,2219 L1659,2221 Z" fill="#654a80"/><path d="M1511,2538 L1515,2534 L1515,2514 L1508,2504 L1502,2505 L1494,2513 L1492,2536 Z" fill="#5a4272"/><path d="M1170,2487 L1187,2494 L1185,2506 L1169,2515 L1155,2504 L1163,2489 Z" fill="#5a4272"/><path d="M1375,2285 L1352,2283 L1344,2274 L1361,2260 L1375,2267 L1378,2276 Z" fill="#654a80"/><path d="M1125,2363 L1119,2367 L1100,2352 L1099,2343 L1101,2341 L1123,2342 Z" fill="#735284"/><path d="M1113,2453 L1092,2467 L1111,2484 L1125,2468 Z" fill="#5c4478"/><path d="M1504,2439 L1520,2437 L1526,2450 L1512,2461 L1496,2455 L1496,2454 Z" fill="#654a80"/><path d="M1522,2105 L1515,2089 L1497,2106 L1507,2120 L1511,2121 Z" fill="#5a4272"/><path d="M1268,2678 L1259,2654 L1255,2654 L1240,2665 L1238,2675 L1245,2683 L1264,2683 Z" fill="#5c4478"/><path d="M1327,2485 L1333,2500 L1352,2503 L1352,2478 L1347,2476 L1327,2485 Z" fill="#77588c"/><path d="M1701,2311 L1710,2318 L1710,2329 L1705,2335 L1688,2335 L1680,2326 L1683,2315 Z" fill="#77588c"/><path d="M1437,2702 L1424,2717 L1412,2713 L1404,2695 L1425,2688 L1435,2695 Z" fill="#77588c"/><path d="M1274,2721 L1265,2737 L1249,2725 L1255,2712 L1266,2708 Z" fill="#654a80"/><path d="M1115,2199 L1130,2211 L1119,2230 L1106,2236 L1092,2219 L1095,2204 L1095,2204 Z" fill="#5a4272"/><path d="M1598,2210 L1612,2210 L1613,2209 L1608,2182 L1593,2178 L1586,2186 Z" fill="#735284"/><path d="M1169,2312 L1169,2313 L1185,2313 L1198,2297 L1174,2289 L1173,2290 Z" fill="#5a4272"/><path d="M1098,2145 L1104,2127 L1088,2118 L1079,2128 L1085,2141 Z" fill="#5a4272"/><path d="M1646,2659 L1640,2640 L1627,2637 L1615,2657 L1627,2666 Z" fill="#6e5186"/><path d="M1360,2594 L1357,2601 L1366,2622 L1366,2622 L1380,2610 L1376,2594 Z" fill="#5c4478"/><path d="M1309,2532 L1290,2550 L1290,2552 L1298,2562 L1314,2558 L1317,2538 Z" fill="#654a80"/><path d="M1445,2639 L1453,2645 L1468,2624 L1467,2619 L1447,2614 L1444,2618 Z" fill="#735284"/><path d="M1513,2364 L1507,2373 L1492,2374 L1486,2357 L1505,2347 Z" fill="#6e5186"/><path d="M1455,2332 L1443,2347 L1456,2364 L1462,2364 L1476,2353 L1476,2349 L1456,2332 Z" fill="#77588c"/><path d="M1227,2106 L1238,2073 L1256,2104 L1255,2116 L1237,2126 Z" fill="#5c4478"/><path d="M1195,2332 L1192,2336 L1198,2352 L1217,2355 L1220,2352 L1215,2338 Z" fill="#654a80"/><path d="M1706,2352 L1716,2356 L1732,2339 L1710,2329 L1705,2335 Z" fill="#5a4272"/><path d="M1140,2169 L1137,2174 L1121,2176 L1116,2152 L1125,2146 L1136,2150 Z" fill="#6e5186"/><path d="M1462,2282 L1467,2262 L1457,2252 L1442,2260 L1450,2282 Z" fill="#6e5186"/><path d="M1591,2557 L1602,2547 L1615,2550 L1620,2564 L1617,2572 L1616,2573 L1593,2567 Z" fill="#5a4272"/><path d="M1140,2112 L1135,2096 L1113,2104 L1117,2122 L1123,2126 L1135,2122 Z" fill="#735284"/><path d="M1241,2430 L1222,2440 L1212,2434 L1214,2415 L1225,2409 L1243,2425 Z" fill="#5c4478"/><path d="M1572,2580 L1590,2573 L1593,2567 L1591,2557 L1578,2551 L1567,2554 L1566,2575 Z" fill="#5c4478"/><path d="M1406,2543 L1410,2530 L1397,2517 L1387,2519 L1381,2525 L1382,2536 Z" fill="#6e5186"/><path d="M1159,2669 L1142,2672 L1136,2667 L1137,2649 L1160,2652 Z" fill="#77588c"/><path d="M1225,2566 L1221,2573 L1223,2591 L1228,2595 L1247,2586 L1249,2575 L1249,2575 Z" fill="#6e5186"/><path d="M1211,2528 L1202,2540 L1186,2535 L1194,2517 L1210,2518 Z" fill="#5a4272"/><path d="M1682,2283 L1701,2285 L1705,2289 L1701,2311 L1683,2315 L1679,2309 L1681,2285 Z" fill="#5a4272"/><path d="M1134,2336 L1146,2325 L1139,2309 L1132,2308 L1121,2321 L1129,2336 Z" fill="#5c4478"/><path d="M1454,2649 L1462,2655 L1463,2677 L1448,2678 L1434,2664 Z" fill="#654a80"/><path d="M1068,2633 L1078,2646 L1099,2634 L1098,2626 L1098,2626 L1073,2620 L1069,2623 Z" fill="#5a4272"/><path d="M1513,2392 L1494,2397 L1491,2375 L1492,2374 L1507,2373 L1515,2387 Z" fill="#5a4272"/><path d="M1450,2467 L1447,2454 L1429,2448 L1420,2459 L1443,2477 L1443,2477 Z" fill="#5a4272"/><path d="M1662,2187 L1663,2192 L1681,2204 L1688,2203 L1690,2182 L1671,2179 L1662,2186 Z" fill="#6e5186"/><path d="M1528,2307 L1526,2286 L1543,2279 L1544,2279 L1551,2289 L1544,2306 Z" fill="#6e5186"/><path d="M1688,2615 L1672,2618 L1675,2635 L1689,2639 L1699,2624 L1698,2621 Z" fill="#6e5186"/><path d="M1569,2422 L1580,2435 L1598,2421 L1599,2419 L1586,2410 L1576,2411 Z" fill="#6e5186"/><path d="M1669,2598 L1670,2617 L1653,2621 L1645,2609 L1657,2590 Z" fill="#5a4272"/><path d="M1601,2155 L1620,2158 L1617,2177 L1608,2182 L1593,2178 L1592,2170 Z" fill="#654a80"/><path d="M1192,2472 L1189,2492 L1212,2494 L1215,2488 L1208,2466 L1205,2466 Z" fill="#654a80"/><path d="M1074,2685 L1070,2711 L1080,2718 L1092,2715 L1098,2704 L1096,2688 L1093,2684 Z" fill="#77588c"/><path d="M1211,2528 L1202,2540 L1205,2551 L1222,2552 L1223,2536 Z" fill="#654a80"/><path d="M1295,2325 L1298,2300 L1315,2299 L1317,2321 L1301,2329 Z" fill="#5c4478"/><path d="M1703,2114 L1703,2083 L1696,2065 L1676,2104 L1679,2116 L1683,2118 Z" fill="#5a4272"/><path d="M1437,2702 L1424,2717 L1425,2721 L1446,2739 L1460,2716 L1452,2706 Z" fill="#735284"/><path d="M1484,2556 L1476,2561 L1462,2547 L1469,2529 L1489,2538 Z" fill="#5a4272"/><path d="M1480,2218 L1476,2217 L1468,2225 L1469,2239 L1486,2244 L1491,2241 L1492,2236 Z" fill="#5a4272"/><path d="M1049,2185 L1047,2186 L1043,2197 L1061,2217 L1061,2217 L1072,2200 L1070,2193 Z" fill="#735284"/><path d="M1628,2685 L1616,2690 L1614,2711 L1628,2720 L1628,2720 L1640,2698 L1632,2687 Z" fill="#6e5186"/><path d="M1241,2430 L1250,2451 L1255,2453 L1263,2449 L1265,2430 L1255,2418 L1243,2425 Z" fill="#5c4478"/><path d="M1162,2370 L1146,2379 L1143,2387 L1159,2398 L1165,2395 L1169,2380 Z" fill="#77588c"/><path d="M1406,2370 L1406,2370 L1423,2393 L1422,2396 L1402,2400 L1393,2382 L1397,2374 Z" fill="#6e5186"/><path d="M1608,2182 L1617,2177 L1633,2184 L1636,2189 L1634,2195 L1613,2209 Z" fill="#77588c"/><path d="M1114,2450 L1099,2437 L1102,2423 L1122,2426 L1129,2437 Z" fill="#5a4272"/><path d="M1020,2177 L1035,2172 L1036,2167 L1023,2152 L1006,2156 L1012,2174 Z" fill="#77588c"/><path d="M1207,2702 L1206,2705 L1208,2725 L1217,2732 L1231,2723 L1230,2704 L1215,2699 Z" fill="#5c4478"/><path d="M1454,2649 L1462,2655 L1480,2650 L1484,2638 L1468,2624 L1453,2645 Z" fill="#5a4272"/><path d="M1243,2425 L1225,2409 L1227,2397 L1236,2391 L1257,2412 L1257,2413 L1255,2418 Z" fill="#77588c"/><path d="M1490,2663 L1480,2650 L1462,2655 L1463,2677 L1466,2680 L1476,2683 L1484,2678 Z" fill="#6e5186"/><path d="M1373,2686 L1350,2684 L1346,2679 L1363,2658 L1378,2672 L1378,2683 Z" fill="#5a4272"/><path d="M1253,2360 L1261,2382 L1266,2385 L1271,2384 L1282,2375 L1284,2360 L1283,2359 Z" fill="#77588c"/><path d="M1350,2336 L1332,2325 L1342,2307 L1347,2306 L1351,2308 L1358,2326 Z" fill="#6e5186"/><path d="M1045,2640 L1030,2645 L1024,2641 L1028,2619 L1032,2617 L1044,2621 Z" fill="#654a80"/><path d="M1532,2407 L1539,2418 L1553,2415 L1558,2399 L1553,2395 L1538,2397 Z" fill="#5c4478"/><path d="M1180,2253 L1199,2264 L1200,2265 L1195,2273 L1178,2276 L1171,2266 Z" fill="#5c4478"/><path d="M1599,2291 L1610,2289 L1621,2302 L1619,2309 L1599,2317 L1599,2317 L1592,2300 Z" fill="#654a80"/><path d="M1305,2172 L1316,2179 L1326,2175 L1330,2156 L1320,2152 L1307,2156 Z" fill="#6e5186"/><path d="M1625,2395 L1634,2411 L1645,2412 L1647,2393 L1636,2384 Z" fill="#654a80"/><path d="M1500,2685 L1502,2702 L1499,2704 L1482,2704 L1476,2683 L1484,2678 Z" fill="#77588c"/><path d="M1414,2425 L1429,2442 L1443,2430 L1436,2415 L1426,2412 Z" fill="#654a80"/><path d="M1599,2317 L1604,2332 L1626,2331 L1628,2327 L1619,2309 Z" fill="#735284"/><path d="M1705,2289 L1760,2295 L1710,2318 L1701,2311 Z" fill="#6e5186"/><path d="M1230,2630 L1216,2630 L1210,2650 L1217,2653 L1227,2652 L1236,2639 Z" fill="#6e5186"/><path d="M1258,2192 L1261,2185 L1244,2175 L1228,2178 L1222,2186 L1229,2198 L1238,2203 Z" fill="#5a4272"/><path d="M1682,2574 L1695,2568 L1700,2570 L1708,2586 L1706,2593 L1689,2598 L1683,2593 Z" fill="#5a4272"/><path d="M1597,2144 L1579,2142 L1570,2156 L1592,2170 L1601,2155 Z" fill="#77588c"/><path d="M1514,2338 L1507,2342 L1487,2327 L1486,2325 L1503,2308 L1510,2311 Z" fill="#6e5186"/><path d="M1205,2243 L1199,2264 L1200,2265 L1221,2270 L1225,2248 L1209,2241 Z" fill="#654a80"/><path d="M1088,2416 L1101,2420 L1108,2406 L1104,2396 L1085,2393 L1082,2398 Z" fill="#80608f"/><path d="M1192,2426 L1191,2417 L1202,2408 L1214,2415 L1212,2434 L1209,2434 Z" fill="#654a80"/><path d="M1457,2444 L1452,2432 L1443,2430 L1429,2442 L1429,2448 L1447,2454 Z" fill="#5a4272"/><path d="M1537,2424 L1551,2442 L1530,2451 L1526,2450 L1520,2437 L1521,2434 Z" fill="#654a80"/><path d="M1562,2244 L1578,2258 L1571,2271 L1558,2267 L1552,2247 L1553,2246 Z" fill="#654a80"/><path d="M1467,2133 L1475,2152 L1483,2155 L1493,2145 L1490,2131 L1477,2121 Z" fill="#77588c"/><path d="M1033,2464 L1028,2447 L1022,2444 L1020,2445 L1009,2462 L1019,2473 L1027,2473 Z" fill="#735284"/><path d="M1351,2129 L1366,2140 L1360,2154 L1341,2154 L1340,2154 L1342,2136 Z" fill="#77588c"/><path d="M1711,2719 L1696,2704 L1709,2693 L1729,2707 L1715,2719 Z" fill="#5a4272"/><path d="M1508,2480 L1512,2497 L1508,2504 L1502,2505 L1489,2492 L1492,2476 Z" fill="#5a4272"/><path d="M1075,2423 L1073,2439 L1061,2447 L1060,2447 L1050,2439 L1046,2423 L1065,2416 Z" fill="#5a4272"/><path d="M1010,2602 L974,2589 L1018,2575 L1023,2593 Z" fill="#735284"/><path d="M1376,2317 L1370,2304 L1377,2291 L1400,2301 L1388,2318 Z" fill="#77588c"/><path d="M1159,2669 L1160,2652 L1168,2644 L1173,2644 L1182,2665 L1167,2676 Z" fill="#6e5186"/><path d="M1225,2566 L1249,2575 L1252,2560 L1243,2549 L1225,2556 Z" fill="#654a80"/><path d="M1596,2117 L1608,2099 L1585,2042 L1581,2069 L1589,2115 Z" fill="#5a4272"/><path d="M1354,2348 L1378,2347 L1379,2343 L1370,2327 L1358,2326 L1350,2336 L1351,2345 Z" fill="#5a4272"/><path d="M1516,2701 L1524,2692 L1531,2691 L1542,2700 L1535,2719 L1526,2722 Z" fill="#654a80"/><path d="M1400,2432 L1399,2443 L1379,2457 L1370,2453 L1372,2429 L1376,2426 Z" fill="#6e5186"/><path d="M1228,2595 L1229,2607 L1212,2616 L1199,2601 L1202,2595 L1223,2591 Z" fill="#6e5186"/><path d="M1209,2123 L1233,2136 L1237,2126 L1227,2106 L1206,2113 Z" fill="#654a80"/><path d="M1446,2307 L1444,2287 L1450,2282 L1462,2282 L1463,2284 L1465,2304 Z" fill="#77588c"/><path d="M1051,2618 L1053,2599 L1059,2596 L1075,2607 L1073,2620 L1069,2623 Z" fill="#6e5186"/><path d="M1173,2644 L1187,2635 L1188,2629 L1187,2627 L1165,2611 L1154,2624 L1154,2625 L1168,2644 Z" fill="#5c4478"/><path d="M1305,2466 L1318,2464 L1321,2445 L1311,2439 L1298,2446 Z" fill="#6e5186"/><path d="M1663,2551 L1681,2543 L1683,2532 L1675,2524 L1656,2528 L1653,2531 L1658,2549 Z" fill="#6e5186"/><path d="M1592,2621 L1581,2620 L1578,2612 L1584,2599 L1593,2597 L1602,2611 Z" fill="#735284"/><path d="M1703,2653 L1715,2642 L1737,2653 L1719,2666 L1705,2660 Z" fill="#6e5186"/><path d="M1051,2643 L1056,2661 L1045,2666 L1033,2661 L1030,2645 L1045,2640 Z" fill="#6e5186"/><path d="M1122,2517 L1142,2522 L1150,2505 L1136,2495 L1121,2500 L1119,2510 Z" fill="#654a80"/><path d="M1650,2287 L1656,2264 L1677,2271 L1682,2283 L1681,2285 L1657,2291 Z" fill="#77588c"/><path d="M1378,2407 L1375,2403 L1383,2386 L1393,2382 L1402,2400 L1398,2407 Z" fill="#6e5186"/><path d="M1150,2478 L1140,2480 L1129,2468 L1141,2455 L1153,2456 L1157,2463 Z" fill="#77588c"/><path d="M1309,2365 L1311,2364 L1314,2348 L1303,2339 L1284,2360 Z" fill="#6e5186"/><path d="M1466,2680 L1452,2706 L1460,2716 L1473,2716 L1482,2704 L1476,2683 Z" fill="#5a4272"/><path d="M1544,2516 L1542,2512 L1543,2509 L1560,2498 L1571,2507 L1567,2522 L1559,2526 Z" fill="#6e5186"/><path d="M1036,2260 L1045,2249 L1052,2250 L1068,2268 L1050,2280 Z" fill="#5a4272"/><path d="M1610,2393 L1607,2413 L1623,2418 L1634,2411 L1625,2395 Z" fill="#6e5186"/><path d="M1209,2241 L1225,2248 L1237,2241 L1236,2229 L1216,2220 L1213,2220 Z" fill="#6e5186"/><path d="M1553,2376 L1553,2395 L1558,2399 L1564,2398 L1580,2383 L1579,2380 L1575,2375 Z" fill="#6e5186"/><path d="M1363,2658 L1363,2656 L1354,2646 L1335,2650 L1330,2668 L1334,2675 L1346,2679 Z" fill="#5a4272"/><path d="M1504,2566 L1505,2569 L1494,2587 L1487,2586 L1473,2568 L1476,2561 L1484,2556 Z" fill="#5a4272"/><path d="M1292,2592 L1293,2576 L1296,2573 L1313,2582 L1309,2599 L1302,2602 Z" fill="#5a4272"/><path d="M1682,2283 L1701,2285 L1708,2264 L1707,2261 L1687,2253 L1677,2271 Z" fill="#5a4272"/><path d="M1496,2613 L1498,2611 L1512,2618 L1514,2633 L1503,2640 L1491,2635 Z" fill="#735284"/><path d="M1102,2308 L1089,2284 L1116,2276 L1123,2286 L1122,2295 Z" fill="#77588c"/><path d="M1601,2448 L1605,2464 L1588,2472 L1580,2461 L1584,2448 Z" fill="#735284"/><path d="M1098,2704 L1092,2715 L1103,2726 L1117,2726 L1123,2717 L1120,2707 Z" fill="#77588c"/><path d="M1253,2360 L1242,2361 L1234,2378 L1236,2388 L1261,2382 L1253,2360 Z" fill="#5c4478"/><path d="M1426,2640 L1445,2639 L1453,2645 L1454,2649 L1434,2664 L1430,2663 L1421,2645 Z" fill="#6e5186"/><path d="M1277,2254 L1273,2262 L1250,2266 L1246,2247 L1260,2239 L1274,2244 Z" fill="#6e5186"/><path d="M1227,2652 L1240,2665 L1238,2675 L1218,2677 L1217,2653 Z" fill="#6e5186"/><path d="M1543,2509 L1560,2498 L1561,2487 L1538,2479 L1534,2489 Z" fill="#5c4478"/><path d="M1354,2348 L1353,2364 L1368,2371 L1378,2360 L1378,2347 L1378,2347 Z" fill="#5c4478"/><path d="M1400,2600 L1384,2585 L1376,2594 L1380,2610 L1395,2614 Z" fill="#735284"/><path d="M1032,2617 L1033,2596 L1023,2593 L1010,2602 L1014,2616 L1028,2619 Z" fill="#654a80"/><path d="M1020,2177 L1018,2200 L1018,2201 L987,2187 L1012,2174 Z" fill="#735284"/><path d="M1265,2502 L1285,2519 L1294,2504 L1288,2491 L1280,2488 Z" fill="#6e5186"/><path d="M1079,2469 L1061,2447 L1073,2439 L1087,2443 L1091,2467 L1086,2470 Z" fill="#654a80"/><path d="M1538,2479 L1537,2477 L1538,2474 L1558,2460 L1564,2464 L1566,2482 L1561,2487 Z" fill="#5c4478"/><path d="M1432,2187 L1440,2207 L1429,2215 L1412,2209 L1409,2200 Z" fill="#77588c"/><path d="M1245,2484 L1237,2479 L1229,2460 L1250,2451 L1255,2453 L1258,2470 Z" fill="#5c4478"/><path d="M1147,2131 L1146,2144 L1164,2151 L1169,2145 L1167,2125 L1166,2125 Z" fill="#735284"/><path d="M1659,2221 L1673,2219 L1681,2204 L1663,2192 L1652,2214 Z" fill="#654a80"/><path d="M1376,2426 L1372,2429 L1354,2425 L1351,2416 L1364,2401 L1375,2403 L1378,2407 Z" fill="#654a80"/><path d="M1335,2650 L1354,2646 L1355,2630 L1343,2624 L1333,2627 L1328,2642 Z" fill="#6e5186"/><path d="M1628,2327 L1648,2322 L1648,2345 L1642,2350 L1628,2348 L1626,2331 Z" fill="#735284"/><path d="M1199,2297 L1195,2273 L1200,2265 L1221,2270 L1223,2274 L1223,2285 L1200,2297 Z" fill="#5c4478"/><path d="M1513,2676 L1524,2692 L1516,2701 L1502,2702 L1500,2685 Z" fill="#77588c"/><path d="M1619,2599 L1610,2589 L1616,2573 L1617,2572 L1634,2583 L1627,2599 Z" fill="#735284"/><path d="M1245,2484 L1258,2470 L1278,2475 L1280,2488 L1265,2502 L1261,2502 L1246,2489 Z" fill="#5c4478"/><path d="M1502,2207 L1486,2192 L1498,2174 L1508,2175 L1510,2198 L1503,2207 Z" fill="#5a4272"/><path d="M1560,2709 L1576,2702 L1581,2721 L1573,2730 L1559,2719 Z" fill="#654a80"/><path d="M1289,2204 L1294,2222 L1312,2217 L1316,2201 L1315,2200 L1299,2197 Z" fill="#77588c"/><path d="M1499,2704 L1482,2704 L1473,2716 L1478,2725 L1497,2728 L1502,2723 Z" fill="#5a4272"/><path d="M1093,2514 L1091,2497 L1085,2493 L1073,2496 L1069,2515 L1072,2517 Z" fill="#77588c"/><path d="M1086,2470 L1091,2467 L1092,2467 L1111,2484 L1111,2489 L1091,2497 L1085,2493 Z" fill="#6e5186"/><path d="M1311,2273 L1319,2268 L1338,2275 L1327,2296 L1317,2297 Z" fill="#654a80"/><path d="M1140,2112 L1161,2110 L1166,2125 L1147,2131 L1135,2122 Z" fill="#77588c"/><path d="M1098,2145 L1085,2141 L1068,2155 L1068,2158 L1071,2164 L1096,2161 L1101,2150 Z" fill="#80608f"/><path d="M1473,2318 L1486,2325 L1487,2327 L1476,2349 L1456,2332 Z" fill="#5c4478"/><path d="M1257,2622 L1274,2637 L1274,2642 L1259,2654 L1255,2654 L1243,2639 Z" fill="#654a80"/><path d="M1607,2351 L1620,2356 L1628,2348 L1626,2331 L1604,2332 L1602,2337 Z" fill="#77588c"/><path d="M1094,2515 L1119,2510 L1121,2500 L1111,2489 L1091,2497 L1093,2514 Z" fill="#6e5186"/><path d="M1446,2307 L1444,2287 L1428,2286 L1423,2303 L1442,2312 Z" fill="#5a4272"/><path d="M1423,2148 L1416,2142 L1408,2140 L1389,2153 L1389,2156 L1403,2172 L1405,2171 Z" fill="#5a4272"/><path d="M1352,2580 L1344,2578 L1334,2584 L1331,2600 L1343,2606 L1357,2601 L1360,2594 Z" fill="#77588c"/><path d="M1423,2279 L1425,2264 L1413,2257 L1402,2261 L1398,2272 L1406,2283 Z" fill="#77588c"/><path d="M1368,2236 L1385,2240 L1396,2230 L1384,2208 L1379,2207 L1363,2223 Z" fill="#5a4272"/><path d="M1697,2207 L1711,2194 L1748,2205 L1715,2218 L1697,2209 Z" fill="#6e5186"/><path d="M1320,2389 L1327,2411 L1337,2409 L1346,2388 L1327,2383 Z" fill="#5c4478"/><path d="M1504,2566 L1484,2556 L1489,2538 L1492,2536 L1511,2538 L1513,2556 Z" fill="#6e5186"/><path d="M1323,2700 L1321,2690 L1302,2686 L1297,2689 L1294,2701 L1298,2712 L1317,2711 Z" fill="#735284"/><path d="M1132,2308 L1122,2295 L1123,2286 L1149,2282 L1150,2284 L1149,2301 L1139,2309 Z" fill="#5a4272"/><path d="M1214,2371 L1234,2378 L1236,2388 L1236,2391 L1227,2397 L1207,2389 L1209,2375 Z" fill="#5c4478"/><path d="M1598,2670 L1606,2685 L1591,2699 L1579,2698 L1575,2687 L1596,2669 Z" fill="#5a4272"/><path d="M1024,2289 L1046,2293 L1050,2280 L1036,2260 L1029,2262 L1021,2279 Z" fill="#654a80"/><path d="M1288,2442 L1298,2446 L1305,2466 L1304,2466 L1282,2469 L1278,2452 Z" fill="#5c4478"/><path d="M1193,2136 L1183,2122 L1191,2111 L1203,2110 L1206,2113 L1209,2123 L1200,2136 Z" fill="#735284"/><path d="M1398,2622 L1395,2614 L1380,2610 L1366,2622 L1384,2637 Z" fill="#5a4272"/><path d="M1430,2663 L1423,2671 L1425,2688 L1435,2695 L1448,2678 L1434,2664 Z" fill="#6e5186"/><path d="M1627,2599 L1637,2608 L1645,2609 L1657,2590 L1655,2585 L1645,2579 L1634,2583 Z" fill="#77588c"/><path d="M1676,2155 L1674,2156 L1671,2179 L1690,2182 L1695,2177 L1692,2161 Z" fill="#5c4478"/><path d="M1662,2677 L1679,2665 L1693,2676 L1683,2693 L1664,2684 Z" fill="#6e5186"/><path d="M1169,2380 L1165,2395 L1180,2400 L1190,2392 L1184,2378 Z" fill="#5a4272"/><path d="M1700,2570 L1717,2562 L1719,2547 L1711,2540 L1694,2554 L1695,2568 Z" fill="#6e5186"/><path d="M1478,2192 L1472,2177 L1454,2174 L1452,2177 L1461,2200 L1469,2201 Z" fill="#5a4272"/><path d="M1067,2576 L1064,2555 L1043,2554 L1036,2565 L1044,2575 L1065,2577 L1067,2576 Z" fill="#6e5186"/><path d="M1190,2237 L1179,2251 L1166,2242 L1166,2221 L1177,2215 L1182,2215 Z" fill="#77588c"/><path d="M1051,2533 L1041,2544 L1027,2537 L1029,2524 L1049,2519 Z" fill="#77588c"/><path d="M1634,2583 L1645,2579 L1643,2559 L1620,2564 L1617,2572 Z" fill="#5a4272"/><path d="M1655,2672 L1662,2677 L1664,2684 L1654,2701 L1640,2698 L1632,2687 Z" fill="#654a80"/><path d="M1079,2469 L1061,2447 L1060,2447 L1051,2463 L1056,2484 L1058,2484 Z" fill="#77588c"/><path d="M1203,2651 L1210,2650 L1217,2653 L1218,2677 L1217,2678 L1196,2672 L1194,2667 Z" fill="#6e5186"/><path d="M1423,2148 L1416,2142 L1423,2119 L1428,2117 L1444,2125 L1445,2126 L1427,2149 Z" fill="#654a80"/><path d="M1447,2508 L1431,2493 L1431,2490 L1443,2477 L1443,2477 L1456,2488 L1455,2503 Z" fill="#5a4272"/><path d="M1039,2493 L1029,2498 L1005,2489 L1019,2473 L1027,2473 Z" fill="#5a4272"/><path d="M1196,2197 L1192,2209 L1182,2215 L1177,2215 L1163,2189 L1173,2174 L1174,2174 Z" fill="#77588c"/><path d="M1510,2220 L1519,2243 L1504,2248 L1491,2241 L1492,2236 Z" fill="#654a80"/><path d="M1156,2415 L1159,2398 L1143,2387 L1132,2392 L1129,2405 L1130,2408 L1150,2418 Z" fill="#5c4478"/><path d="M1286,2121 L1289,2114 L1306,2111 L1321,2124 L1318,2128 L1300,2134 Z" fill="#5a4272"/><path d="M1447,2508 L1431,2493 L1419,2508 L1425,2521 L1444,2516 Z" fill="#77588c"/><path d="M1666,2643 L1675,2635 L1672,2618 L1670,2617 L1653,2621 L1650,2632 Z" fill="#6e5186"/><path d="M1406,2370 L1406,2370 L1426,2363 L1431,2348 L1427,2343 L1408,2343 L1403,2351 Z" fill="#77588c"/><path d="M1453,2134 L1467,2133 L1477,2121 L1476,2116 L1463,2107 L1455,2110 L1444,2125 L1445,2126 Z" fill="#735284"/><path d="M1205,2572 L1198,2583 L1202,2595 L1223,2591 L1221,2573 Z" fill="#6e5186"/><path d="M1182,2665 L1194,2667 L1203,2651 L1187,2635 L1173,2644 Z" fill="#77588c"/><path d="M1082,2601 L1075,2607 L1059,2596 L1065,2577 L1067,2576 L1083,2589 Z" fill="#654a80"/><path d="M1341,2552 L1324,2537 L1335,2524 L1340,2524 L1352,2537 L1353,2546 Z" fill="#77588c"/><path d="M1149,2577 L1168,2574 L1163,2555 L1154,2550 L1147,2552 L1144,2556 Z" fill="#5a4272"/><path d="M1574,2280 L1569,2291 L1551,2289 L1544,2279 L1558,2267 L1571,2271 Z" fill="#77588c"/><path d="M1127,2694 L1120,2707 L1123,2717 L1142,2721 L1151,2702 L1150,2699 L1142,2693 Z" fill="#6e5186"/><path d="M1051,2643 L1056,2661 L1065,2664 L1077,2654 L1078,2646 L1068,2633 Z" fill="#77588c"/><path d="M1335,2650 L1330,2668 L1311,2663 L1311,2642 L1328,2642 Z" fill="#654a80"/><path d="M1334,2198 L1335,2182 L1326,2175 L1316,2179 L1315,2200 L1316,2201 L1332,2200 Z" fill="#5a4272"/><path d="M1170,2487 L1187,2494 L1189,2492 L1192,2472 L1177,2463 L1172,2466 Z" fill="#6e5186"/><path d="M1071,2237 L1086,2253 L1102,2246 L1106,2236 L1092,2219 L1071,2226 Z" fill="#5a4272"/><path d="M1465,2304 L1463,2284 L1485,2284 L1489,2295 L1470,2308 Z" fill="#6e5186"/><path d="M1395,2490 L1386,2474 L1386,2472 L1412,2465 L1414,2482 L1403,2493 Z" fill="#5c4478"/><path d="M1323,2722 L1301,2747 L1294,2723 L1298,2712 L1317,2711 Z" fill="#654a80"/><path d="M1253,2315 L1253,2292 L1255,2289 L1272,2290 L1279,2297 L1274,2314 Z" fill="#5a4272"/><path d="M1115,2538 L1122,2517 L1119,2510 L1094,2515 L1096,2529 Z" fill="#6e5186"/><path d="M1125,2146 L1123,2126 L1117,2122 L1104,2127 L1098,2145 L1101,2150 L1116,2152 Z" fill="#77588c"/><path d="M1641,2458 L1650,2457 L1649,2430 L1625,2438 L1624,2440 L1629,2452 Z" fill="#735284"/><path d="M1673,2446 L1672,2440 L1684,2424 L1684,2424 L1699,2438 L1700,2445 L1692,2452 L1680,2453 Z" fill="#5a4272"/><path d="M1375,2403 L1383,2386 L1369,2376 L1357,2390 L1364,2401 Z" fill="#5a4272"/><path d="M1138,2613 L1138,2602 L1122,2593 L1114,2596 L1118,2617 L1125,2621 Z" fill="#654a80"/><path d="M1548,2577 L1546,2598 L1530,2601 L1523,2593 L1523,2580 L1538,2567 Z" fill="#5a4272"/><path d="M1588,2472 L1580,2461 L1564,2464 L1566,2482 L1585,2485 Z" fill="#654a80"/><path d="M1249,2575 L1249,2575 L1271,2577 L1273,2575 L1273,2561 L1264,2555 L1252,2560 Z" fill="#6e5186"/><path d="M1234,2531 L1244,2542 L1262,2533 L1255,2516 L1236,2519 Z" fill="#77588c"/><path d="M1047,2399 L1039,2390 L1041,2373 L1052,2370 L1065,2374 L1059,2397 Z" fill="#6e5186"/><path d="M1579,2323 L1571,2305 L1553,2316 L1553,2328 L1577,2328 Z" fill="#5a4272"/><path d="M1532,2328 L1552,2329 L1553,2328 L1553,2316 L1544,2306 L1528,2307 L1526,2308 Z" fill="#6e5186"/><path d="M1514,2279 L1526,2286 L1543,2279 L1534,2259 L1528,2258 L1512,2274 Z" fill="#77588c"/><path d="M1425,2521 L1424,2525 L1410,2530 L1397,2517 L1407,2505 L1419,2508 Z" fill="#6e5186"/><path d="M1538,2567 L1538,2565 L1536,2562 L1513,2556 L1504,2566 L1505,2569 L1523,2580 Z" fill="#6e5186"/><path d="M1705,2498 L1704,2494 L1713,2474 L1748,2483 L1714,2503 Z" fill="#654a80"/><path d="M1706,2593 L1689,2598 L1688,2615 L1698,2621 L1713,2605 Z" fill="#735284"/><path d="M1545,2156 L1557,2153 L1554,2128 L1553,2126 L1540,2126 L1540,2127 L1534,2144 Z" fill="#735284"/><path d="M1640,2698 L1628,2720 L1641,2727 L1659,2710 L1654,2701 Z" fill="#654a80"/><path d="M1068,2155 L1062,2141 L1069,2127 L1079,2128 L1085,2141 Z" fill="#6e5186"/><path d="M1164,2151 L1146,2144 L1136,2150 L1140,2169 L1164,2163 Z" fill="#5a4272"/><path d="M1521,2407 L1512,2416 L1501,2416 L1491,2400 L1494,2397 L1513,2392 Z" fill="#654a80"/><path d="M1423,2119 L1428,2117 L1429,2104 L1413,2094 L1400,2111 L1401,2114 Z" fill="#654a80"/><path d="M1118,2266 L1102,2246 L1086,2253 L1078,2269 L1085,2282 L1089,2284 L1116,2276 Z" fill="#77588c"/><path d="M1634,2516 L1643,2504 L1635,2492 L1613,2503 L1621,2515 Z" fill="#6e5186"/><path d="M1487,2586 L1471,2598 L1458,2590 L1461,2573 L1473,2568 Z" fill="#654a80"/><path d="M1266,2213 L1258,2192 L1238,2203 L1244,2218 L1261,2219 L1265,2216 Z" fill="#5c4478"/><path d="M1087,2537 L1074,2531 L1065,2540 L1066,2552 L1087,2551 Z" fill="#735284"/><path d="M1605,2125 L1596,2117 L1608,2099 L1629,2105 L1630,2108 L1630,2109 Z" fill="#735284"/><path d="M1423,2671 L1425,2688 L1404,2695 L1399,2692 L1404,2670 Z" fill="#654a80"/><path d="M1462,2364 L1471,2381 L1491,2375 L1492,2374 L1486,2357 L1476,2353 Z" fill="#735284"/><path d="M1580,2435 L1598,2421 L1607,2440 L1601,2448 L1584,2448 L1579,2441 Z" fill="#654a80"/><path d="M1075,2423 L1088,2416 L1101,2420 L1102,2423 L1099,2437 L1087,2443 L1073,2439 Z" fill="#5a4272"/><path d="M1661,2488 L1658,2504 L1675,2508 L1678,2505 L1680,2482 Z" fill="#77588c"/><path d="M1555,2687 L1549,2699 L1560,2709 L1576,2702 L1579,2698 L1575,2687 L1571,2684 Z" fill="#735284"/><path d="M1550,2374 L1530,2381 L1525,2364 L1535,2353 L1536,2353 L1549,2364 Z" fill="#5a4272"/><path d="M1116,2539 L1137,2538 L1147,2552 L1144,2556 L1130,2560 L1115,2544 Z" fill="#5c4478"/><path d="M1154,2625 L1133,2644 L1128,2642 L1125,2621 L1138,2613 L1154,2624 Z" fill="#654a80"/><path d="M1502,2207 L1486,2192 L1478,2192 L1469,2201 L1476,2217 L1480,2218 Z" fill="#735284"/><path d="M1614,2279 L1628,2274 L1633,2257 L1612,2251 L1603,2264 Z" fill="#6e5186"/><path d="M1322,2124 L1321,2124 L1306,2111 L1315,2085 L1331,2112 Z" fill="#5a4272"/><path d="M1012,2122 L1019,2118 L1026,2099 L1020,2084 L993,2113 Z" fill="#77588c"/><path d="M1572,2580 L1572,2588 L1584,2599 L1593,2597 L1597,2591 L1590,2573 Z" fill="#6e5186"/><path d="M1082,2601 L1075,2607 L1073,2620 L1098,2626 L1097,2606 Z" fill="#654a80"/><path d="M1571,2190 L1562,2181 L1547,2181 L1536,2193 L1535,2196 L1537,2201 L1566,2208 Z" fill="#654a80"/><path d="M1489,2538 L1469,2529 L1469,2528 L1473,2511 L1494,2513 L1492,2536 Z" fill="#6e5186"/><path d="M1671,2571 L1655,2585 L1657,2590 L1669,2598 L1683,2593 L1682,2574 Z" fill="#735284"/><path d="M1683,2532 L1696,2526 L1710,2530 L1711,2540 L1694,2554 L1681,2543 Z" fill="#654a80"/><path d="M1051,2643 L1068,2633 L1069,2623 L1051,2618 L1044,2621 L1045,2640 Z" fill="#735284"/><path d="M1622,2629 L1637,2608 L1645,2609 L1653,2621 L1650,2632 L1640,2640 L1627,2637 Z" fill="#77588c"/><path d="M1446,2307 L1465,2304 L1470,2308 L1473,2318 L1456,2332 L1455,2332 L1442,2317 L1442,2312 Z" fill="#5a4272"/><path d="M1295,2178 L1299,2197 L1289,2204 L1286,2203 L1276,2187 L1290,2177 Z" fill="#6e5186"/><path d="M1599,2635 L1598,2639 L1587,2644 L1571,2634 L1581,2620 L1592,2621 Z" fill="#6e5186"/><path d="M1549,2364 L1536,2353 L1552,2335 L1565,2352 Z" fill="#6e5186"/><path d="M1067,2343 L1070,2316 L1062,2308 L1055,2307 L1035,2327 L1040,2337 L1053,2345 Z" fill="#5a4272"/><path d="M1571,2684 L1575,2687 L1596,2669 L1585,2660 L1567,2661 L1566,2663 Z" fill="#735284"/><path d="M1427,2233 L1429,2215 L1440,2207 L1446,2209 L1452,2224 L1447,2232 L1431,2235 Z" fill="#735284"/><path d="M1268,2678 L1259,2654 L1274,2642 L1286,2653 L1288,2659 L1279,2676 Z" fill="#654a80"/><path d="M1110,2664 L1101,2664 L1100,2636 L1126,2642 Z" fill="#654a80"/><path d="M1261,2185 L1244,2175 L1250,2150 L1256,2150 L1268,2166 L1262,2184 Z" fill="#6e5186"/><path d="M1404,2624 L1398,2622 L1384,2637 L1384,2642 L1398,2655 L1414,2644 Z" fill="#6e5186"/><path d="M1491,2400 L1478,2403 L1476,2425 L1480,2429 L1495,2426 L1501,2416 Z" fill="#654a80"/><path d="M1203,2651 L1210,2650 L1216,2630 L1210,2624 L1188,2629 L1187,2635 Z" fill="#77588c"/><path d="M1101,2309 L1080,2319 L1070,2316 L1062,2308 L1085,2282 L1089,2284 L1102,2308 Z" fill="#6e5186"/><path d="M1512,2662 L1530,2643 L1540,2649 L1541,2669 L1514,2668 Z" fill="#654a80"/><path d="M1683,2593 L1689,2598 L1688,2615 L1672,2618 L1670,2617 L1669,2598 Z" fill="#654a80"/><path d="M1616,2690 L1614,2711 L1603,2715 L1591,2699 L1606,2685 Z" fill="#654a80"/><path d="M1556,2540 L1559,2526 L1544,2516 L1531,2536 L1537,2542 Z" fill="#5c4478"/><path d="M1507,2660 L1503,2640 L1514,2633 L1529,2639 L1530,2643 L1512,2662 Z" fill="#735284"/><path d="M1558,2399 L1553,2415 L1562,2423 L1569,2422 L1576,2411 L1564,2398 Z" fill="#77588c"/><path d="M1366,2140 L1360,2154 L1370,2166 L1389,2156 L1389,2153 L1378,2136 Z" fill="#77588c"/><path d="M1632,2157 L1640,2168 L1652,2167 L1657,2159 L1647,2144 Z" fill="#654a80"/><path d="M1442,2312 L1423,2303 L1412,2308 L1413,2318 L1426,2328 L1442,2317 Z" fill="#5a4272"/><path d="M1379,2343 L1394,2329 L1388,2318 L1376,2317 L1370,2327 Z" fill="#5c4478"/><path d="M1264,2683 L1245,2683 L1238,2700 L1255,2712 L1266,2708 L1268,2702 Z" fill="#5a4272"/><path d="M1553,2376 L1553,2395 L1538,2397 L1530,2381 L1530,2381 L1550,2374 Z" fill="#77588c"/><path d="M1384,2642 L1363,2656 L1363,2658 L1378,2672 L1397,2661 L1398,2655 Z" fill="#6e5186"/><path d="M1164,2163 L1140,2169 L1137,2174 L1147,2191 L1163,2189 L1173,2174 Z" fill="#6e5186"/><path d="M1651,2427 L1672,2440 L1684,2424 L1672,2410 L1671,2409 L1651,2418 Z" fill="#654a80"/><path d="M1162,2368 L1150,2352 L1166,2336 L1173,2340 L1176,2357 Z" fill="#5c4478"/><path d="M1420,2601 L1444,2603 L1447,2595 L1434,2578 L1416,2592 L1416,2595 Z" fill="#6e5186"/><path d="M1407,2545 L1421,2552 L1433,2540 L1424,2525 L1410,2530 L1406,2543 Z" fill="#77588c"/><path d="M1295,2178 L1305,2172 L1307,2156 L1298,2151 L1287,2152 L1282,2163 L1290,2177 Z" fill="#6e5186"/><path d="M1676,2148 L1658,2131 L1679,2116 L1683,2118 L1688,2135 Z" fill="#654a80"/><path d="M1084,2372 L1100,2352 L1119,2367 L1115,2379 L1114,2379 Z" fill="#77588c"/><path d="M1205,2551 L1202,2540 L1186,2535 L1181,2537 L1179,2549 L1187,2559 L1198,2558 Z" fill="#5c4478"/><path d="M1490,2272 L1503,2269 L1504,2248 L1491,2241 L1486,2244 L1481,2261 Z" fill="#5a4272"/><path d="M1540,2126 L1534,2108 L1522,2105 L1511,2121 L1515,2126 L1540,2127 Z" fill="#77588c"/><path d="M1656,2467 L1675,2470 L1680,2453 L1673,2446 L1651,2457 Z" fill="#5a4272"/><path d="M1286,2203 L1266,2213 L1265,2216 L1285,2230 L1291,2228 L1294,2222 L1289,2204 Z" fill="#654a80"/><path d="M1467,2619 L1472,2612 L1496,2613 L1491,2635 L1484,2638 L1468,2624 Z" fill="#77588c"/><path d="M1424,2717 L1425,2721 L1410,2744 L1397,2723 L1412,2713 Z" fill="#77588c"/><path d="M1016,2376 L1039,2372 L1041,2373 L1039,2390 L1021,2397 L1014,2385 Z" fill="#77588c"/><path d="M1197,2164 L1208,2187 L1222,2186 L1228,2178 L1221,2152 L1212,2152 Z" fill="#6e5186"/><path d="M1656,2528 L1654,2506 L1643,2504 L1634,2516 L1639,2529 L1653,2531 Z" fill="#5a4272"/><path d="M1567,2554 L1563,2552 L1556,2540 L1559,2526 L1567,2522 L1581,2529 L1578,2551 Z" fill="#654a80"/><path d="M1463,2284 L1485,2284 L1490,2272 L1481,2261 L1467,2262 L1462,2282 Z" fill="#6e5186"/><path d="M1572,2353 L1578,2349 L1581,2341 L1577,2328 L1553,2328 L1552,2329 L1552,2335 L1565,2352 Z" fill="#735284"/><path d="M1617,2527 L1600,2529 L1594,2524 L1594,2522 L1613,2503 L1613,2503 L1621,2515 Z" fill="#6e5186"/><path d="M1596,2368 L1610,2378 L1609,2391 L1587,2390 L1580,2383 L1579,2380 Z" fill="#77588c"/><path d="M1476,2561 L1462,2547 L1448,2550 L1445,2565 L1461,2573 L1473,2568 Z" fill="#654a80"/><path d="M1705,2660 L1719,2666 L1718,2679 L1710,2685 L1695,2675 Z" fill="#77588c"/><path d="M1427,2622 L1444,2618 L1445,2639 L1426,2640 Z" fill="#5a4272"/><path d="M1285,2615 L1269,2602 L1261,2605 L1255,2615 L1257,2622 L1274,2637 L1285,2626 Z" fill="#77588c"/><path d="M1370,2195 L1377,2182 L1397,2183 L1400,2195 L1384,2208 L1379,2207 Z" fill="#6e5186"/><path d="M1379,2573 L1385,2583 L1405,2574 L1406,2573 L1399,2558 L1387,2558 Z" fill="#6e5186"/><path d="M1125,2363 L1119,2367 L1115,2379 L1132,2392 L1143,2387 L1146,2379 L1136,2363 Z" fill="#5a4272"/><path d="M1579,2441 L1556,2447 L1558,2460 L1564,2464 L1580,2461 L1584,2448 Z" fill="#654a80"/><path d="M1051,2463 L1033,2464 L1027,2473 L1039,2493 L1041,2494 L1056,2484 Z" fill="#5c4478"/><path d="M1116,2152 L1101,2150 L1096,2161 L1100,2174 L1117,2179 L1121,2176 Z" fill="#77588c"/><path d="M1084,2372 L1100,2352 L1099,2343 L1092,2340 L1072,2347 L1076,2371 L1081,2373 Z" fill="#77588c"/><path d="M1033,2596 L1039,2594 L1044,2575 L1036,2565 L1022,2567 L1018,2575 L1023,2593 Z" fill="#77588c"/><path d="M1154,2624 L1165,2611 L1166,2603 L1149,2595 L1138,2602 L1138,2613 Z" fill="#5c4478"/><path d="M1129,2468 L1125,2468 L1111,2484 L1111,2489 L1121,2500 L1136,2495 L1140,2480 Z" fill="#5c4478"/><path d="M1015,2725 L1001,2714 L1016,2695 L1017,2695 L1030,2707 L1030,2712 Z" fill="#6e5186"/><path d="M1711,2719 L1696,2737 L1681,2713 L1687,2704 L1696,2704 Z" fill="#654a80"/><path d="M1642,2350 L1648,2345 L1666,2348 L1672,2358 L1653,2369 L1648,2368 Z" fill="#735284"/><path d="M1327,2485 L1333,2500 L1325,2510 L1313,2511 L1309,2506 L1311,2491 Z" fill="#654a80"/><path d="M1387,2519 L1382,2502 L1395,2490 L1403,2493 L1407,2505 L1397,2517 Z" fill="#5c4478"/><path d="M1675,2470 L1681,2482 L1683,2481 L1699,2468 L1692,2452 L1680,2453 Z" fill="#654a80"/><path d="M1621,2302 L1636,2298 L1649,2321 L1649,2321 L1648,2322 L1628,2327 L1619,2309 Z" fill="#5a4272"/><path d="M1046,2423 L1041,2418 L1028,2418 L1022,2425 L1022,2444 L1028,2447 L1050,2439 Z" fill="#654a80"/><path d="M959,2419 L1020,2403 L1028,2418 L1022,2425 Z" fill="#77588c"/><path d="M1504,2439 L1495,2426 L1480,2429 L1477,2444 L1496,2454 Z" fill="#654a80"/><path d="M1378,2276 L1375,2267 L1386,2248 L1402,2261 L1398,2272 Z" fill="#77588c"/><path d="M1517,2168 L1540,2165 L1545,2156 L1534,2144 L1515,2150 Z" fill="#654a80"/><path d="M1606,2130 L1621,2138 L1632,2131 L1630,2109 L1605,2125 Z" fill="#5a4272"/><path d="M1298,2300 L1293,2296 L1297,2275 L1301,2272 L1311,2273 L1317,2297 L1315,2299 Z" fill="#654a80"/><path d="M1122,2672 L1121,2688 L1127,2694 L1142,2693 L1142,2672 L1136,2667 Z" fill="#6e5186"/><path d="M1590,2573 L1597,2591 L1610,2589 L1616,2573 L1593,2567 Z" fill="#5a4272"/><path d="M1378,2347 L1378,2347 L1403,2351 L1408,2343 L1403,2331 L1394,2329 L1379,2343 Z" fill="#5c4478"/><path d="M1066,2552 L1064,2555 L1043,2554 L1041,2544 L1051,2533 L1065,2540 Z" fill="#77588c"/><path d="M1024,2289 L1016,2299 L1015,2308 L1027,2326 L1035,2327 L1055,2307 L1046,2293 Z" fill="#6e5186"/><path d="M1193,2136 L1183,2122 L1167,2125 L1169,2145 L1184,2146 Z" fill="#5a4272"/><path d="M1322,2124 L1342,2136 L1351,2129 L1352,2123 L1341,2109 L1331,2112 Z" fill="#5c4478"/><path d="M1116,2539 L1137,2538 L1143,2524 L1142,2522 L1122,2517 L1115,2538 Z" fill="#6e5186"/><path d="M1508,2504 L1515,2514 L1542,2512 L1543,2509 L1534,2489 L1512,2497 Z" fill="#6e5186"/><path d="M1207,2389 L1227,2397 L1225,2409 L1214,2415 L1202,2408 L1200,2394 Z" fill="#5a4272"/><path d="M1397,2374 L1393,2382 L1383,2386 L1369,2376 L1368,2371 L1378,2360 Z" fill="#5a4272"/><path d="M1452,2224 L1468,2225 L1469,2239 L1457,2249 L1447,2232 Z" fill="#654a80"/><path d="M1297,2275 L1278,2273 L1273,2262 L1277,2254 L1296,2254 L1301,2272 Z" fill="#735284"/><path d="M1598,2639 L1587,2644 L1585,2660 L1596,2669 L1598,2670 L1612,2657 Z" fill="#654a80"/><path d="M1074,2685 L1070,2711 L1059,2712 L1046,2694 L1047,2691 L1070,2681 Z" fill="#6e5186"/><path d="M1315,2299 L1317,2297 L1327,2296 L1342,2307 L1332,2325 L1331,2326 L1317,2321 Z" fill="#6e5186"/><path d="M1343,2624 L1343,2606 L1331,2600 L1325,2604 L1323,2619 L1333,2627 Z" fill="#6e5186"/><path d="M1657,2291 L1681,2285 L1679,2309 L1661,2308 Z" fill="#6e5186"/><path d="M1543,2671 L1542,2670 L1541,2669 L1540,2649 L1560,2641 L1567,2661 L1566,2663 Z" fill="#6e5186"/><path d="M1609,2391 L1610,2378 L1621,2368 L1636,2376 L1636,2384 L1625,2395 L1610,2393 Z" fill="#5a4272"/><path d="M1469,2467 L1450,2467 L1443,2477 L1456,2488 L1469,2484 L1473,2472 Z" fill="#735284"/><path d="M1646,2659 L1640,2640 L1650,2632 L1666,2643 L1667,2648 L1651,2662 Z" fill="#77588c"/><path d="M1419,2616 L1420,2601 L1416,2595 L1400,2600 L1395,2614 L1398,2622 L1404,2624 Z" fill="#6e5186"/><path d="M1158,2266 L1151,2273 L1133,2258 L1137,2247 L1143,2244 L1157,2250 Z" fill="#6e5186"/><path d="M1686,2351 L1672,2358 L1672,2358 L1666,2348 L1669,2332 L1680,2326 L1688,2335 Z" fill="#6e5186"/><path d="M1050,2439 L1028,2447 L1033,2464 L1051,2463 L1060,2447 Z" fill="#6e5186"/><path d="M1453,2134 L1467,2133 L1475,2152 L1454,2159 L1451,2156 Z" fill="#77588c"/><path d="M1280,2409 L1290,2423 L1308,2417 L1299,2396 L1283,2401 Z" fill="#6e5186"/><path d="M1273,2130 L1255,2116 L1256,2104 L1283,2098 L1289,2114 L1286,2121 Z" fill="#654a80"/><path d="M1351,2129 L1366,2140 L1378,2136 L1379,2134 L1373,2116 L1367,2115 L1352,2123 Z" fill="#654a80"/><path d="M1397,2661 L1378,2672 L1378,2683 L1398,2693 L1399,2692 L1404,2670 Z" fill="#5a4272"/><path d="M1553,2376 L1575,2375 L1572,2353 L1565,2352 L1549,2364 L1550,2374 Z" fill="#654a80"/><path d="M1653,2481 L1636,2485 L1635,2492 L1643,2504 L1654,2506 L1658,2504 L1661,2488 Z" fill="#77588c"/><path d="M1451,2525 L1442,2542 L1433,2540 L1424,2525 L1425,2521 L1444,2516 Z" fill="#6e5186"/><path d="M1130,2408 L1129,2405 L1108,2406 L1101,2420 L1102,2423 L1122,2426 Z" fill="#5a4272"/><path d="M1692,2648 L1703,2653 L1715,2642 L1713,2633 L1699,2624 L1689,2639 Z" fill="#5a4272"/><path d="M1549,2699 L1560,2709 L1559,2719 L1549,2725 L1535,2719 L1542,2700 Z" fill="#77588c"/><path d="M1338,2557 L1320,2562 L1314,2558 L1317,2538 L1324,2537 L1341,2552 Z" fill="#77588c"/><path d="M1090,2183 L1079,2180 L1071,2165 L1071,2164 L1096,2161 L1100,2174 Z" fill="#5a4272"/><path d="M1290,2177 L1276,2187 L1262,2184 L1268,2166 L1282,2163 Z" fill="#6e5186"/><path d="M1236,2639 L1227,2652 L1240,2665 L1255,2654 L1243,2639 Z" fill="#6e5186"/><path d="M1632,2131 L1647,2138 L1647,2144 L1632,2157 L1622,2156 L1621,2138 Z" fill="#77588c"/><path d="M1052,2370 L1041,2373 L1039,2372 L1031,2356 L1040,2337 L1053,2345 Z" fill="#80608f"/><path d="M1059,2712 L1046,2694 L1030,2707 L1030,2712 L1044,2723 L1050,2723 Z" fill="#5a4272"/><path d="M1477,2121 L1490,2131 L1507,2120 L1497,2106 L1489,2104 L1476,2116 Z" fill="#735284"/><path d="M1592,2300 L1573,2299 L1571,2305 L1579,2323 L1599,2317 Z" fill="#735284"/><path d="M1567,2522 L1581,2529 L1594,2524 L1594,2522 L1584,2501 L1571,2507 Z" fill="#735284"/><path d="M1434,2578 L1416,2592 L1405,2574 L1406,2573 L1424,2562 L1435,2570 Z" fill="#5a4272"/><path d="M1042,2124 L1042,2137 L1042,2137 L1062,2141 L1069,2127 L1063,2120 L1043,2122 Z" fill="#654a80"/><path d="M1355,2630 L1366,2622 L1357,2601 L1343,2606 L1343,2624 Z" fill="#6e5186"/><path d="M1127,2579 L1122,2593 L1138,2602 L1149,2595 L1147,2580 Z" fill="#654a80"/><path d="M1507,2342 L1487,2327 L1476,2349 L1476,2353 L1486,2357 L1505,2347 Z" fill="#654a80"/><path d="M1530,2381 L1530,2381 L1525,2364 L1513,2364 L1507,2373 L1515,2387 Z" fill="#77588c"/><path d="M1521,2407 L1512,2416 L1521,2434 L1537,2424 L1539,2418 L1532,2407 Z" fill="#654a80"/><path d="M1636,2376 L1648,2368 L1653,2369 L1662,2387 L1662,2387 L1647,2393 L1636,2384 Z" fill="#5a4272"/><path d="M1191,2685 L1177,2691 L1182,2711 L1206,2705 L1207,2702 Z" fill="#5a4272"/><path d="M1159,2443 L1153,2456 L1141,2455 L1132,2438 L1146,2429 Z" fill="#77588c"/><path d="M1699,2356 L1697,2376 L1707,2382 L1709,2381 L1720,2366 L1716,2356 L1706,2352 Z" fill="#654a80"/><path d="M1626,2539 L1617,2527 L1621,2515 L1634,2516 L1639,2529 L1628,2539 Z" fill="#6e5186"/><path d="M1125,2363 L1123,2342 L1129,2336 L1134,2336 L1147,2352 L1136,2363 Z" fill="#6e5186"/><path d="M1336,2228 L1321,2229 L1313,2243 L1321,2253 L1339,2250 L1342,2245 Z" fill="#654a80"/><path d="M1198,2558 L1187,2559 L1179,2577 L1198,2583 L1205,2572 Z" fill="#5c4478"/><path d="M1205,2466 L1208,2466 L1225,2458 L1222,2440 L1212,2434 L1209,2434 L1198,2448 Z" fill="#5a4272"/><path d="M1431,2490 L1414,2482 L1412,2465 L1415,2461 L1420,2459 L1443,2477 Z" fill="#654a80"/><path d="M1684,2424 L1705,2410 L1711,2413 L1715,2423 L1699,2438 Z" fill="#654a80"/><path d="M1688,2203 L1697,2207 L1711,2194 L1706,2180 L1695,2177 L1690,2182 Z" fill="#77588c"/><path d="M1371,2497 L1382,2502 L1395,2490 L1386,2474 L1372,2483 Z" fill="#5a4272"/><path d="M1243,2549 L1244,2542 L1262,2533 L1266,2536 L1264,2555 L1252,2560 Z" fill="#5a4272"/><path d="M1307,2528 L1286,2521 L1285,2519 L1294,2504 L1309,2506 L1313,2511 Z" fill="#77588c"/><path d="M1200,2136 L1209,2123 L1233,2136 L1234,2140 L1221,2152 L1212,2152 Z" fill="#735284"/><path d="M1033,2661 L1021,2669 L1024,2683 L1042,2684 L1045,2666 Z" fill="#6e5186"/><path d="M1360,2154 L1341,2154 L1348,2177 L1352,2179 L1370,2168 L1370,2166 Z" fill="#5c4478"/><path d="M1562,2109 L1562,2109 L1585,2117 L1577,2134 L1554,2128 L1553,2126 Z" fill="#77588c"/><path d="M1047,2399 L1039,2390 L1021,2397 L1020,2403 L1028,2418 L1041,2418 Z" fill="#5a4272"/><path d="M1049,2519 L1051,2515 L1041,2494 L1039,2493 L1029,2498 L1020,2515 L1029,2524 Z" fill="#6e5186"/><path d="M1700,2570 L1717,2562 L1743,2578 L1708,2586 Z" fill="#77588c"/><path d="M1185,2506 L1194,2517 L1186,2535 L1181,2537 L1168,2527 L1169,2515 Z" fill="#654a80"/><path d="M1516,2170 L1508,2175 L1510,2198 L1535,2196 L1536,2193 Z" fill="#654a80"/><path d="M1169,2312 L1149,2301 L1150,2284 L1173,2290 Z" fill="#5a4272"/><path d="M1075,2423 L1088,2416 L1082,2398 L1066,2403 L1065,2416 Z" fill="#6e5186"/><path d="M1225,2556 L1222,2552 L1223,2536 L1234,2531 L1244,2542 L1243,2549 Z" fill="#654a80"/><path d="M1403,2331 L1413,2318 L1426,2328 L1427,2343 L1408,2343 Z" fill="#654a80"/><path d="M1708,2139 L1712,2122 L1703,2114 L1683,2118 L1688,2135 Z" fill="#654a80"/><path d="M1328,2642 L1333,2627 L1323,2619 L1308,2626 L1305,2631 L1307,2639 L1311,2642 Z" fill="#5a4272"/><path d="M1573,2233 L1589,2235 L1593,2214 L1567,2210 L1566,2213 Z" fill="#6e5186"/><path d="M1314,2348 L1311,2364 L1327,2370 L1333,2365 L1332,2351 L1325,2345 Z" fill="#77588c"/><path d="M1351,2345 L1332,2351 L1325,2345 L1331,2326 L1332,2325 L1350,2336 Z" fill="#6e5186"/><path d="M1151,2220 L1137,2210 L1130,2211 L1119,2230 L1137,2247 L1143,2244 Z" fill="#654a80"/><path d="M1334,2198 L1335,2182 L1348,2177 L1352,2179 L1357,2195 L1355,2197 Z" fill="#654a80"/><path d="M1319,2465 L1340,2460 L1347,2476 L1327,2485 Z" fill="#5c4478"/><path d="M1052,2250 L1071,2237 L1086,2253 L1078,2269 L1068,2268 Z" fill="#5a4272"/><path d="M1353,2364 L1347,2368 L1347,2388 L1357,2390 L1369,2376 L1368,2371 Z" fill="#6e5186"/><path d="M1265,2430 L1286,2431 L1288,2442 L1278,2452 L1263,2449 Z" fill="#77588c"/><path d="M1106,2553 L1115,2544 L1130,2560 L1125,2573 L1109,2569 Z" fill="#5c4478"/><path d="M1090,2554 L1106,2553 L1109,2569 L1099,2580 L1087,2565 Z" fill="#5c4478"/><path d="M1271,2137 L1256,2150 L1250,2150 L1234,2140 L1233,2136 L1237,2126 L1255,2116 L1273,2130 Z" fill="#6e5186"/><path d="M1667,2648 L1680,2659 L1692,2648 L1689,2639 L1675,2635 L1666,2643 Z" fill="#6e5186"/><path d="M1526,2611 L1535,2626 L1529,2639 L1514,2633 L1512,2618 Z" fill="#5a4272"/><path d="M1021,2279 L993,2269 L1014,2251 L1029,2262 Z" fill="#654a80"/><path d="M1320,2562 L1314,2558 L1298,2562 L1296,2573 L1313,2582 L1321,2578 Z" fill="#5a4272"/><path d="M1646,2213 L1634,2195 L1636,2189 L1662,2187 L1663,2192 L1652,2214 Z" fill="#654a80"/><path d="M1162,2368 L1176,2357 L1190,2365 L1190,2366 L1184,2378 L1169,2380 L1162,2370 Z" fill="#654a80"/><path d="M1273,2597 L1271,2577 L1273,2575 L1293,2576 L1292,2592 Z" fill="#5c4478"/><path d="M1697,2209 L1692,2233 L1709,2235 L1715,2218 Z" fill="#654a80"/><path d="M1251,2318 L1253,2315 L1253,2292 L1230,2294 L1228,2309 Z" fill="#5c4478"/><path d="M1699,2356 L1686,2351 L1688,2335 L1705,2335 L1706,2352 Z" fill="#5a4272"/><path d="M1641,2458 L1632,2479 L1615,2475 L1613,2468 L1629,2452 Z" fill="#6e5186"/><path d="M1656,2528 L1654,2506 L1658,2504 L1675,2508 L1675,2524 Z" fill="#654a80"/><path d="M1235,2613 L1229,2607 L1212,2616 L1210,2624 L1216,2630 L1230,2630 Z" fill="#6e5186"/><path d="M1622,2156 L1632,2157 L1640,2168 L1633,2184 L1617,2177 L1620,2158 Z" fill="#6e5186"/><path d="M1079,2469 L1058,2484 L1073,2496 L1085,2493 L1086,2470 Z" fill="#654a80"/><path d="M1486,2192 L1498,2174 L1485,2163 L1472,2177 L1478,2192 Z" fill="#77588c"/><path d="M1259,2339 L1253,2360 L1253,2360 L1283,2359 L1274,2338 Z" fill="#5a4272"/><path d="M1011,2366 L1016,2376 L1039,2372 L1031,2356 L1017,2356 Z" fill="#6e5186"/><path d="M1358,2326 L1351,2308 L1370,2304 L1376,2317 L1370,2327 Z" fill="#77588c"/><path d="M1502,2505 L1494,2513 L1473,2511 L1471,2508 L1477,2495 L1489,2492 Z" fill="#77588c"/><path d="M1620,2564 L1643,2559 L1644,2557 L1628,2539 L1626,2539 L1615,2550 Z" fill="#735284"/><path d="M1174,2289 L1178,2276 L1195,2273 L1199,2297 L1198,2297 Z" fill="#5c4478"/><path d="M1045,2228 L1042,2241 L1015,2235 L1015,2234 L1029,2216 Z" fill="#6e5186"/><path d="M1163,2189 L1177,2215 L1166,2221 L1151,2220 L1137,2210 L1147,2191 Z" fill="#654a80"/><path d="M1110,2596 L1114,2596 L1118,2617 L1098,2626 L1098,2626 L1097,2606 Z" fill="#6e5186"/><path d="M1590,2278 L1574,2280 L1571,2271 L1578,2258 L1583,2256 L1596,2266 Z" fill="#654a80"/><path d="M1456,2410 L1449,2407 L1436,2415 L1443,2430 L1452,2432 L1460,2424 Z" fill="#5c4478"/><path d="M1076,2371 L1072,2347 L1067,2343 L1053,2345 L1052,2370 L1065,2374 Z" fill="#5a4272"/><path d="M1095,2204 L1095,2204 L1072,2200 L1070,2193 L1079,2180 L1090,2183 Z" fill="#77588c"/><path d="M1066,2403 L1059,2397 L1065,2374 L1076,2371 L1081,2373 L1085,2393 L1082,2398 Z" fill="#77588c"/><path d="M1083,2589 L1067,2576 L1067,2576 L1087,2565 L1099,2580 L1099,2581 Z" fill="#5c4478"/><path d="M1347,2388 L1357,2390 L1364,2401 L1351,2416 L1337,2409 L1346,2388 Z" fill="#654a80"/><path d="M1354,2504 L1340,2524 L1352,2537 L1366,2521 L1355,2505 Z" fill="#654a80"/><path d="M1223,2326 L1215,2338 L1195,2332 L1196,2331 L1211,2313 L1221,2315 Z" fill="#6e5186"/><path d="M1646,2659 L1627,2666 L1628,2685 L1632,2687 L1655,2672 L1651,2662 Z" fill="#6e5186"/><path d="M1378,2544 L1382,2536 L1406,2543 L1407,2545 L1399,2558 L1387,2558 Z" fill="#77588c"/><path d="M1456,2410 L1449,2407 L1445,2388 L1468,2390 L1473,2400 Z" fill="#654a80"/><path d="M1534,2259 L1552,2247 L1558,2267 L1544,2279 L1543,2279 Z" fill="#77588c"/><path d="M1266,2385 L1257,2412 L1236,2391 L1236,2388 L1261,2382 Z" fill="#6e5186"/><path d="M1017,2356 L1031,2356 L1040,2337 L1035,2327 L1027,2326 L1009,2338 Z" fill="#77588c"/><path d="M1234,2140 L1221,2152 L1228,2178 L1244,2175 L1250,2150 Z" fill="#654a80"/><path d="M1113,2453 L1092,2467 L1091,2467 L1087,2443 L1099,2437 L1114,2450 Z" fill="#5a4272"/><path d="M1572,2588 L1584,2599 L1578,2612 L1555,2605 L1554,2604 Z" fill="#77588c"/><path d="M1359,2246 L1361,2260 L1344,2274 L1344,2273 L1339,2250 L1342,2245 Z" fill="#5c4478"/><path d="M1065,2416 L1066,2403 L1059,2397 L1047,2399 L1041,2418 L1046,2423 Z" fill="#6e5186"/><path d="M1649,2321 L1669,2332 L1666,2348 L1648,2345 L1648,2322 Z" fill="#5a4272"/><path d="M1129,2336 L1121,2321 L1108,2320 L1101,2341 L1123,2342 Z" fill="#5c4478"/><path d="M1408,2140 L1399,2125 L1401,2114 L1423,2119 L1416,2142 Z" fill="#77588c"/><path d="M1176,2439 L1177,2440 L1192,2426 L1191,2417 L1181,2412 L1168,2421 Z" fill="#654a80"/><path d="M1423,2148 L1405,2171 L1431,2181 L1430,2152 L1427,2149 Z" fill="#77588c"/><path d="M1652,2167 L1662,2186 L1671,2179 L1674,2156 L1657,2159 Z" fill="#5a4272"/><path d="M1046,2293 L1055,2307 L1062,2308 L1085,2282 L1078,2269 L1068,2268 L1050,2280 Z" fill="#735284"/><path d="M1006,2532 L1014,2516 L1020,2515 L1029,2524 L1027,2537 L1020,2541 Z" fill="#5c4478"/><path d="M1026,2141 L1013,2129 L1000,2152 L1006,2156 L1023,2152 Z" fill="#654a80"/><path d="M1166,2242 L1166,2221 L1151,2220 L1143,2244 L1157,2250 Z" fill="#5a4272"/><path d="M1512,2461 L1526,2450 L1530,2451 L1538,2474 L1537,2477 L1515,2473 Z" fill="#654a80"/><path d="M1188,2629 L1210,2624 L1212,2616 L1199,2601 L1195,2603 L1187,2627 Z" fill="#5c4478"/><path d="M1121,2321 L1108,2320 L1101,2309 L1102,2308 L1122,2295 L1132,2308 Z" fill="#77588c"/><path d="M1181,2412 L1180,2400 L1190,2392 L1200,2394 L1202,2408 L1191,2417 Z" fill="#77588c"/><path d="M1311,2642 L1307,2639 L1286,2653 L1288,2659 L1307,2666 L1311,2663 Z" fill="#654a80"/><path d="M1564,2398 L1576,2411 L1586,2410 L1587,2390 L1580,2383 Z" fill="#5a4272"/><path d="M1656,2467 L1653,2481 L1661,2488 L1680,2482 L1681,2482 L1675,2470 Z" fill="#5a4272"/><path d="M1072,2347 L1092,2340 L1080,2319 L1070,2316 L1067,2343 Z" fill="#6e5186"/><path d="M1205,2243 L1199,2264 L1180,2253 L1179,2251 L1190,2237 Z" fill="#6e5186"/><path d="M1285,2615 L1301,2604 L1308,2626 L1305,2631 L1285,2626 Z" fill="#654a80"/><path d="M1265,2216 L1285,2230 L1274,2244 L1260,2239 L1261,2219 Z" fill="#5a4272"/><path d="M1077,2654 L1100,2665 L1101,2664 L1100,2636 L1099,2634 L1078,2646 Z" fill="#5c4478"/><path d="M1367,2711 L1349,2696 L1340,2705 L1341,2714 L1355,2722 Z" fill="#5c4478"/><path d="M1118,2266 L1102,2246 L1106,2236 L1119,2230 L1137,2247 L1133,2258 Z" fill="#6e5186"/><path d="M1137,2538 L1143,2524 L1160,2531 L1154,2550 L1147,2552 Z" fill="#654a80"/><path d="M1190,2365 L1198,2352 L1217,2355 L1214,2371 L1209,2375 L1190,2366 Z" fill="#77588c"/><path d="M1193,2163 L1174,2174 L1196,2197 L1208,2187 L1197,2164 Z" fill="#77588c"/><path d="M1087,2537 L1074,2531 L1072,2517 L1093,2514 L1094,2515 L1096,2529 Z" fill="#77588c"/><path d="M1599,2635 L1618,2627 L1609,2612 L1602,2611 L1592,2621 Z" fill="#735284"/><path d="M1562,2423 L1552,2443 L1551,2442 L1537,2424 L1539,2418 L1553,2415 Z" fill="#654a80"/><path d="M1036,2167 L1023,2152 L1026,2141 L1042,2137 L1042,2137 L1043,2159 Z" fill="#77588c"/><path d="M1170,2487 L1172,2466 L1157,2463 L1150,2478 L1163,2489 Z" fill="#654a80"/><path d="M1556,2540 L1537,2542 L1536,2562 L1538,2565 L1563,2552 Z" fill="#5a4272"/></g>
<g filter="url(#b10)">
<circle cx="1060" cy="2500" r="70" fill="#8a789f" opacity="0.55"/>
<circle cx="1050" cy="2380" r="60" fill="#9a88a8" opacity="0.55"/>
<circle cx="1470" cy="2405" r="40" fill="#9c8eb0" opacity="0.50"/>
<circle cx="1380" cy="2640" r="80" fill="#85709a" opacity="0.50"/>
<circle cx="1300" cy="2460" r="120" fill="#4a3c6e" opacity="0.45"/>
<circle cx="1560" cy="2520" r="90" fill="#503f76" opacity="0.35"/>
<circle cx="1180" cy="2600" r="80" fill="#52427a" opacity="0.35"/>
</g>
<rect x="1024" y="2116" width="680" height="597" filter="url(#grainp)" opacity="0.35"/>
<g filter="url(#b3)">
<path d="M1024,2294 C1075,2268 1118,2242 1162,2207 C1200,2177 1234,2148 1256,2116 L1302,2116 C1275,2162 1235,2203 1194,2236 C1143,2276 1092,2310 1024,2348 Z" fill="#a9829f"/>
<path d="M1024,2350 C1060,2335 1095,2318 1125,2300 L1130,2312 C1095,2336 1060,2360 1024,2380 Z" fill="#a88aa6"/>
<path d="M1024,2560 C1060,2575 1100,2600 1120,2640 L1110,2650 C1085,2615 1055,2595 1024,2585 Z" fill="#98809f"/>
<path d="M1440,2125 C1500,2140 1540,2160 1575,2185 L1565,2215 C1530,2200 1490,2190 1435,2175 Z" fill="#9c789e"/>
<ellipse cx="1500" cy="2175" rx="45" ry="28" fill="#8e6c96" opacity="0.8"/>
<path d="M1530,2640 C1590,2620 1650,2605 1704,2590 L1704,2612 C1650,2625 1590,2645 1540,2665 Z" fill="#9a829f"/>
</g>
<g fill="none" stroke="#c4aec4" stroke-width="1.2" opacity="0.7" filter="url(#b07)"><path d="M1024,2337 C1075,2311 1120,2285 1165,2250 C1205,2220 1240,2187 1275,2147" /><path d="M1024,2303 C1075,2277 1120,2251 1165,2216 C1205,2186 1240,2153 1275,2113" /><path d="M1024,2318 C1075,2292 1120,2266 1165,2231 C1205,2201 1240,2168 1275,2128" /><path d="M1024,2309 C1075,2283 1120,2257 1165,2222 C1205,2192 1240,2159 1275,2119" /><path d="M1024,2329 C1075,2303 1120,2277 1165,2242 C1205,2212 1240,2179 1275,2139" /><path d="M1024,2320 C1075,2294 1120,2268 1165,2233 C1205,2203 1240,2170 1275,2130" /><path d="M1024,2325 C1075,2299 1120,2273 1165,2238 C1205,2208 1240,2175 1275,2135" /><path d="M1024,2305 C1075,2279 1120,2253 1165,2218 C1205,2188 1240,2155 1275,2115" /><path d="M1024,2326 C1075,2300 1120,2274 1165,2239 C1205,2209 1240,2176 1275,2136" /><path d="M1024,2325 C1075,2299 1120,2273 1165,2238 C1205,2208 1240,2175 1275,2135" /><path d="M1024,2302 C1075,2276 1120,2250 1165,2215 C1205,2185 1240,2152 1275,2112" /><path d="M1024,2321 C1075,2295 1120,2269 1165,2234 C1205,2204 1240,2171 1275,2131" /><path d="M1024,2313 C1075,2287 1120,2261 1165,2226 C1205,2196 1240,2163 1275,2123" /><path d="M1024,2316 C1075,2290 1120,2264 1165,2229 C1205,2199 1240,2166 1275,2126" /><path d="M1024,2301 C1075,2275 1120,2249 1165,2214 C1205,2184 1240,2151 1275,2111" /><path d="M1024,2322 C1075,2296 1120,2270 1165,2235 C1205,2205 1240,2172 1275,2132" /></g>
<path d="M1018,2285 L1125,2290 L1105,2360 L1080,2420 L1058,2480 L1040,2530 L1018,2540 Z" fill="#9b7a9f" filter="url(#b3)"/>
<g fill="none" opacity="0.8" clip-path="url(#hclip)" filter="url(#b07)"><path d="M1024,2446 Q1052,2406 1067,2365" stroke="#cdb0cf" stroke-width="1.9"/><path d="M1024,2516 Q1040,2494 1060,2480" stroke="#cdb0cf" stroke-width="2.4"/><path d="M1024,2434 Q1043,2412 1048,2400" stroke="#cdb0cf" stroke-width="1.3"/><path d="M1024,2443 Q1047,2419 1080,2395" stroke="#cdb0cf" stroke-width="2.5"/><path d="M1024,2402 Q1055,2372 1101,2329" stroke="#cdb0cf" stroke-width="2.0"/><path d="M1024,2490 Q1060,2452 1087,2409" stroke="#7e567f" stroke-width="2.0"/><path d="M1024,2446 Q1071,2415 1106,2375" stroke="#cdb0cf" stroke-width="1.6"/><path d="M1024,2338 Q1038,2329 1054,2307" stroke="#cdb0cf" stroke-width="2.4"/><path d="M1024,2443 Q1053,2421 1080,2383" stroke="#7e567f" stroke-width="2.5"/><path d="M1024,2446 Q1038,2413 1059,2386" stroke="#cdb0cf" stroke-width="2.4"/><path d="M1024,2535 Q1050,2519 1075,2491" stroke="#7e567f" stroke-width="2.4"/><path d="M1024,2512 Q1044,2486 1050,2475" stroke="#7e567f" stroke-width="1.4"/><path d="M1024,2501 Q1055,2481 1070,2450" stroke="#cdb0cf" stroke-width="1.2"/><path d="M1024,2454 Q1057,2405 1082,2365" stroke="#cdb0cf" stroke-width="1.8"/><path d="M1024,2401 Q1064,2358 1095,2330" stroke="#7e567f" stroke-width="1.7"/><path d="M1024,2365 Q1036,2330 1060,2301" stroke="#7e567f" stroke-width="1.4"/><path d="M1024,2529 Q1037,2516 1052,2500" stroke="#cdb0cf" stroke-width="2.3"/><path d="M1024,2314 Q1042,2294 1051,2281" stroke="#7e567f" stroke-width="1.3"/><path d="M1024,2520 Q1037,2509 1055,2493" stroke="#cdb0cf" stroke-width="1.6"/><path d="M1024,2432 Q1041,2413 1058,2396" stroke="#cdb0cf" stroke-width="2.3"/><path d="M1024,2372 Q1056,2330 1102,2304" stroke="#7e567f" stroke-width="1.3"/><path d="M1024,2329 Q1046,2291 1065,2269" stroke="#cdb0cf" stroke-width="1.4"/><path d="M1024,2359 Q1059,2329 1080,2283" stroke="#cdb0cf" stroke-width="1.9"/><path d="M1024,2424 Q1042,2409 1048,2389" stroke="#7e567f" stroke-width="1.7"/><path d="M1024,2472 Q1030,2455 1045,2434" stroke="#7e567f" stroke-width="1.4"/><path d="M1024,2514 Q1055,2494 1077,2465" stroke="#7e567f" stroke-width="2.4"/><path d="M1024,2416 Q1049,2385 1062,2363" stroke="#cdb0cf" stroke-width="1.4"/><path d="M1024,2456 Q1045,2432 1068,2406" stroke="#cdb0cf" stroke-width="2.2"/><path d="M1024,2508 Q1045,2484 1070,2468" stroke="#7e567f" stroke-width="2.0"/><path d="M1024,2497 Q1048,2452 1082,2406" stroke="#7e567f" stroke-width="1.9"/></g>
<g fill="#f3eef5" filter="url(#wob2)"><ellipse cx="1040" cy="2310" rx="10" ry="5" transform="rotate(-45 1040 2310)"/><ellipse cx="1062" cy="2330" rx="14" ry="7" transform="rotate(-45 1062 2330)"/><ellipse cx="1035" cy="2360" rx="9" ry="6" transform="rotate(-45 1035 2360)"/><ellipse cx="1050" cy="2395" rx="12" ry="7" transform="rotate(-45 1050 2395)"/><ellipse cx="1080" cy="2310" rx="8" ry="4" transform="rotate(-45 1080 2310)"/><ellipse cx="1032" cy="2430" rx="8" ry="5" transform="rotate(-45 1032 2430)"/><ellipse cx="1060" cy="2440" rx="7" ry="4" transform="rotate(-45 1060 2440)"/><ellipse cx="1045" cy="2470" rx="9" ry="4" transform="rotate(-45 1045 2470)"/><ellipse cx="1090" cy="2345" rx="7" ry="4" transform="rotate(-45 1090 2345)"/><ellipse cx="1030" cy="2500" rx="6" ry="4" transform="rotate(-45 1030 2500)"/></g>
<g fill="#2e2050" opacity="0.9" filter="url(#b07)"><ellipse cx="1050" cy="2350" rx="8.2" ry="3.9" transform="rotate(-43 1050 2350)"/><ellipse cx="1075" cy="2375" rx="7.2" ry="3.3" transform="rotate(-56 1075 2375)"/><ellipse cx="1040" cy="2410" rx="7.1" ry="2.8" transform="rotate(-44 1040 2410)"/><ellipse cx="1085" cy="2400" rx="6.7" ry="3.2" transform="rotate(-56 1085 2400)"/><ellipse cx="1065" cy="2460" rx="7.1" ry="4.0" transform="rotate(-43 1065 2460)"/><ellipse cx="1035" cy="2480" rx="8.5" ry="2.7" transform="rotate(-46 1035 2480)"/><ellipse cx="1095" cy="2320" rx="8.6" ry="3.1" transform="rotate(-47 1095 2320)"/><ellipse cx="1048" cy="2325" rx="7.0" ry="3.8" transform="rotate(-50 1048 2325)"/></g>
<g fill="none" stroke="#f3eef6" stroke-linecap="round" opacity="0.95" filter="url(#wob2)"><path d="M1077.7,2098.4 L1085.2,2105.1" stroke-width="2.7"/><path d="M1001.1,2685.6 L1011.2,2692.0" stroke-width="2.1"/><path d="M1012.8,2666.1 L1019.2,2668.7" stroke-width="2.9"/><path d="M1075.7,2097.9 L1069.4,2102.3" stroke-width="1.8"/><path d="M1029.3,2099.6 L1042.2,2104.0" stroke-width="1.9"/><path d="M1048.2,2100.9 L1043.8,2104.5" stroke-width="2.6"/><path d="M1671.7,2716.1 L1679.8,2713.3" stroke-width="3.3"/><path d="M1655.5,2102.9 L1650.4,2107.9" stroke-width="3.4"/><path d="M1643.1,2109.5 L1631.8,2108.5" stroke-width="2.1"/><path d="M1041.8,2721.5 L1031.2,2713.3" stroke-width="2.0"/><path d="M1004.3,2716.5 L1014.2,2724.0" stroke-width="3.5"/><path d="M996.4,2115.0 L1010.5,2121.4" stroke-width="2.9"/><path d="M1014.0,2089.9 L997.1,2108.3" stroke-width="3.2"/><path d="M1014.8,2130.9 L1024.2,2139.5" stroke-width="2.6"/><path d="M1064.8,2122.1 L1067.7,2125.9" stroke-width="2.9"/><path d="M1056.2,2140.2 L1046.5,2138.2" stroke-width="3.7"/><path d="M1022.6,2118.9 L1038.7,2122.8" stroke-width="3.7"/><path d="M1087.8,2220.6 L1071.5,2225.4" stroke-width="2.3"/><path d="M1105.6,2236.7 L1102.6,2244.6" stroke-width="1.7"/><path d="M1084.1,2251.3 L1074.5,2240.5" stroke-width="3.7"/><path d="M1739.7,2438.7 L1720.7,2426.9" stroke-width="3.0"/><path d="M1719.0,2627.5 L1734.5,2615.0" stroke-width="2.0"/><path d="M1716.8,2642.7 L1737.2,2652.7" stroke-width="2.5"/><path d="M1722.8,2663.3 L1736.0,2653.7" stroke-width="2.5"/><path d="M1717.2,2679.7 L1711.0,2684.0" stroke-width="2.4"/><path d="M1718.5,2665.9 L1705.3,2660.0" stroke-width="2.6"/><path d="M1697.1,2672.3 L1702.8,2663.0" stroke-width="2.1"/><path d="M1704.7,2659.6 L1702.9,2653.6" stroke-width="3.1"/><path d="M1741.0,2442.4 L1724.0,2449.2" stroke-width="3.7"/><path d="M1745.2,2482.1 L1713.5,2474.5" stroke-width="3.1"/><path d="M1414.1,2094.5 L1427.1,2102.9" stroke-width="3.1"/><path d="M1382.9,2108.2 L1376.6,2113.4" stroke-width="2.0"/><path d="M1367.4,2114.8 L1371.7,2116.0" stroke-width="1.9"/><path d="M1671.4,2358.2 L1655.6,2367.3" stroke-width="3.2"/><path d="M1672.1,2357.8 L1672.1,2357.8" stroke-width="2.2"/><path d="M1661.8,2386.8 L1679.8,2378.9" stroke-width="3.6"/><path d="M1689.9,2334.8 L1703.8,2334.5" stroke-width="2.8"/><path d="M1687.9,2338.0 L1686.3,2349.6" stroke-width="3.1"/><path d="M1687.6,2351.6 L1698.1,2355.4" stroke-width="3.4"/><path d="M1705.4,2352.7 L1700.1,2355.4" stroke-width="3.4"/><path d="M1666.3,2347.0 L1669.0,2333.5" stroke-width="1.9"/><path d="M1727.1,2336.9 L1714.1,2330.8" stroke-width="2.5"/><path d="M1709.6,2329.7 L1705.8,2333.9" stroke-width="2.7"/><path d="M1695.6,2375.9 L1682.5,2378.1" stroke-width="2.7"/><path d="M1716.5,2357.6 L1719.0,2363.6" stroke-width="3.7"/><path d="M1704.8,2380.2 L1698.6,2376.8" stroke-width="2.4"/><path d="M1687.7,2313.6 L1698.9,2311.5" stroke-width="2.8"/><path d="M1656.7,2130.0 L1650.0,2113.8" stroke-width="3.7"/><path d="M1657.4,2130.7 L1658.1,2130.7" stroke-width="3.8"/><path d="M1661.7,2128.4 L1673.2,2120.5" stroke-width="2.0"/><path d="M1647.8,2345.4 L1643.7,2349.0" stroke-width="2.4"/><path d="M1646.7,2364.2 L1643.0,2352.3" stroke-width="2.8"/><path d="M1440.2,2382.2 L1440.1,2383.5" stroke-width="2.8"/><path d="M1242.7,2727.6 L1248.5,2725.4" stroke-width="3.2"/><path d="M1230.9,2703.6 L1236.8,2700.7" stroke-width="3.3"/><path d="M1093.0,2215.2 L1094.6,2206.0" stroke-width="2.5"/><path d="M1070.5,2225.5 L1061.5,2217.7" stroke-width="2.0"/><path d="M1042.6,2159.9 L1038.0,2164.9" stroke-width="2.2"/><path d="M1085.1,2141.6 L1096.6,2144.7" stroke-width="2.2"/><path d="M1070.3,2162.8 L1068.2,2158.6" stroke-width="3.4"/><path d="M1068.5,2155.5 L1068.3,2157.4" stroke-width="2.3"/><path d="M1100.1,2148.9 L1098.6,2145.9" stroke-width="2.7"/><path d="M1102.7,2131.9 L1098.5,2144.2" stroke-width="3.4"/><path d="M1063.6,2145.3 L1067.3,2152.9" stroke-width="2.6"/><path d="M1109.1,2100.5 L1112.0,2103.1" stroke-width="3.3"/><path d="M1105.3,2127.0 L1114.2,2123.3" stroke-width="1.9"/><path d="M1113.5,2106.5 L1116.1,2118.9" stroke-width="2.6"/><path d="M1135.9,2093.1 L1144.6,2071.2" stroke-width="1.7"/><path d="M1045.1,2199.4 L1056.4,2212.6" stroke-width="2.2"/><path d="M1015.4,2233.2 L1028.7,2216.2" stroke-width="2.1"/><path d="M1017.6,2200.5 L1017.7,2200.5" stroke-width="2.2"/><path d="M1017.8,2199.8 L1019.4,2181.0" stroke-width="1.7"/><path d="M986.9,2187.1 L1008.4,2175.6" stroke-width="3.5"/><path d="M1004.2,2214.9 L1013.6,2204.8" stroke-width="2.8"/><path d="M1025.0,2203.9 L1018.5,2200.9" stroke-width="3.8"/><path d="M1034.8,2171.9 L1020.7,2176.7" stroke-width="3.4"/><path d="M1085.2,2254.9 L1078.4,2268.6" stroke-width="1.9"/><path d="M1061.1,2217.5 L1060.7,2217.4" stroke-width="2.1"/><path d="M1040.2,2377.8 L1039.2,2388.9" stroke-width="3.8"/><path d="M1040.3,2373.0 L1039.1,2372.3" stroke-width="1.9"/><path d="M1038.3,2372.4 L1022.9,2374.9" stroke-width="2.8"/><path d="M1036.3,2391.0 L1023.2,2396.0" stroke-width="2.0"/><path d="M982.9,2271.6 L963.3,2275.8" stroke-width="2.4"/><path d="M1700.8,2403.1 L1703.9,2408.7" stroke-width="2.9"/><path d="M1706.7,2695.3 L1697.2,2702.9" stroke-width="2.9"/><path d="M1711.1,2694.2 L1727.0,2705.3" stroke-width="2.0"/><path d="M1696.5,2705.2 L1707.3,2716.1" stroke-width="3.7"/><path d="M1714.6,2719.4 L1711.4,2719.4" stroke-width="3.2"/><path d="M1710.1,2685.2 L1709.6,2691.3" stroke-width="3.7"/><path d="M1683.3,2693.1 L1686.8,2702.3" stroke-width="3.0"/><path d="M1695.4,2675.1 L1692.9,2675.5" stroke-width="2.4"/><path d="M1718.9,2519.7 L1714.7,2505.7" stroke-width="2.2"/><path d="M1710.4,2479.0 L1704.9,2491.6" stroke-width="1.8"/><path d="M1704.2,2495.0 L1705.1,2497.7" stroke-width="1.7"/><path d="M1714.4,2450.5 L1704.8,2447.0" stroke-width="3.1"/><path d="M1699.2,2439.3 L1699.5,2444.7" stroke-width="3.6"/><path d="M1718.4,2521.7 L1710.9,2529.3" stroke-width="3.0"/><path d="M1716.9,2545.4 L1713.1,2541.6" stroke-width="3.4"/><path d="M1733.1,2580.0 L1716.2,2583.9" stroke-width="3.6"/><path d="M1707.4,2584.6 L1700.4,2570.6" stroke-width="2.7"/><path d="M1698.2,2624.5 L1690.2,2636.9" stroke-width="3.4"/><path d="M1689.4,2640.4 L1691.1,2646.3" stroke-width="3.3"/><path d="M1377.2,2128.9 L1373.9,2118.9" stroke-width="1.7"/><path d="M1722.0,2197.4 L1741.1,2203.3" stroke-width="2.5"/><path d="M1692.0,2231.1 L1696.0,2215.1" stroke-width="1.7"/><path d="M1662.7,2190.7 L1661.7,2187.4" stroke-width="2.5"/><path d="M1694.9,2177.3 L1690.9,2180.8" stroke-width="1.7"/><path d="M1696.4,2177.0 L1704.5,2179.2" stroke-width="2.2"/><path d="M1673.8,2219.7 L1686.1,2234.8" stroke-width="2.6"/><path d="M1657.0,2158.9 L1652.0,2167.3" stroke-width="2.6"/><path d="M1656.8,2158.1 L1649.8,2148.0" stroke-width="3.4"/><path d="M1640.3,2168.0 L1634.8,2160.1" stroke-width="3.3"/><path d="M1673.8,2159.6 L1671.3,2176.3" stroke-width="2.7"/><path d="M1634.0,2182.2 L1640.3,2168.6" stroke-width="2.6"/><path d="M1633.5,2184.9 L1634.8,2187.6" stroke-width="1.9"/><path d="M1703.1,2087.9 L1703.4,2108.2" stroke-width="2.0"/><path d="M1687.4,2117.4 L1700.9,2114.4" stroke-width="1.7"/><path d="M1735.4,2113.5 L1717.0,2120.2" stroke-width="2.3"/><path d="M1513.0,2090.9 L1500.3,2102.8" stroke-width="2.6"/><path d="M1535.2,2196.0 L1535.7,2193.7" stroke-width="1.6"/><path d="M1530.6,2196.6 L1516.2,2197.9" stroke-width="2.5"/><path d="M1508.7,2180.5 L1509.3,2193.0" stroke-width="1.9"/><path d="M1509.2,2174.2 L1513.9,2171.2" stroke-width="2.1"/><path d="M1617.5,2175.7 L1619.0,2163.4" stroke-width="3.3"/><path d="M1585.4,2504.6 L1593.5,2520.6" stroke-width="2.7"/><path d="M1071.1,2711.3 L1078.9,2716.7" stroke-width="3.5"/><path d="M1138.1,2719.9 L1127.7,2718.1" stroke-width="1.7"/><path d="M1339.0,2410.0 L1348.6,2414.8" stroke-width="2.4"/><path d="M1056.3,2344.7 L1062.5,2343.5" stroke-width="2.1"/><path d="M1065.5,2373.7 L1073.8,2371.8" stroke-width="3.7"/><path d="M1041.2,2373.0 L1049.9,2370.2" stroke-width="2.5"/><path d="M1036.9,2367.9 L1032.5,2359.0" stroke-width="3.6"/><path d="M1043.1,2339.5 L1051.6,2344.8" stroke-width="1.6"/><path d="M1018.5,2472.9 L1007.2,2486.6" stroke-width="2.3"/><path d="M933.7,2421.0 L957.6,2419.0" stroke-width="3.8"/><path d="M1020.7,2404.5 L1027.7,2417.1" stroke-width="1.6"/><path d="M1019.9,2402.3 L1020.7,2398.6" stroke-width="2.6"/><path d="M1042.6,2412.4 L1046.3,2401.2" stroke-width="1.6"/><path d="M1064.2,2376.1 L1060.2,2391.4" stroke-width="2.8"/><path d="M1056.4,2397.3 L1048.4,2398.4" stroke-width="3.3"/><path d="M1028.6,2449.9 L1032.4,2462.4" stroke-width="1.9"/><path d="M1018.9,2472.8 L1025.8,2472.8" stroke-width="1.7"/><path d="M1029.8,2497.9 L1039.4,2493.5" stroke-width="2.4"/><path d="M1028.5,2475.1 L1039.0,2492.6" stroke-width="3.4"/><path d="M1155.4,2705.5 L1173.0,2717.7" stroke-width="2.1"/><path d="M1172.1,2720.7 L1168.7,2725.5" stroke-width="2.1"/><path d="M1195.9,2582.4 L1181.8,2578.0" stroke-width="2.1"/><path d="M1038.5,2594.0 L1034.2,2595.8" stroke-width="2.0"/><path d="M1077.4,2182.2 L1071.7,2190.7" stroke-width="1.7"/><path d="M1065.3,2170.0 L1053.4,2181.5" stroke-width="3.0"/><path d="M1072.0,2199.8 L1070.0,2193.2" stroke-width="3.1"/><path d="M1116.5,2181.7 L1115.5,2195.7" stroke-width="2.5"/><path d="M1115.2,2178.7 L1103.3,2175.0" stroke-width="3.7"/><path d="M1090.9,2187.2 L1094.1,2199.4" stroke-width="1.8"/><path d="M1095.3,2203.7 L1114.9,2199.0" stroke-width="3.1"/><path d="M1080.2,2180.4 L1088.3,2182.7" stroke-width="3.2"/><path d="M1094.9,2204.0 L1095.2,2203.7" stroke-width="3.7"/><path d="M1106.8,2235.5 L1117.2,2231.1" stroke-width="3.7"/><path d="M1128.9,2210.3 L1119.7,2202.6" stroke-width="3.0"/><path d="M1130.3,2211.4 L1135.4,2210.6" stroke-width="3.5"/><path d="M1140.6,2213.2 L1147.0,2217.6" stroke-width="2.4"/><path d="M1047.0,2275.7 L1036.2,2260.3" stroke-width="1.6"/><path d="M1021.7,2281.1 L1024.3,2288.5" stroke-width="3.2"/><path d="M1063.2,2270.6 L1054.3,2276.7" stroke-width="3.7"/><path d="M1078.9,2269.6 L1084.4,2281.0" stroke-width="3.7"/><path d="M1068.0,2301.0 L1083.6,2283.6" stroke-width="2.6"/><path d="M1052.6,2302.9 L1047.0,2294.2" stroke-width="2.3"/><path d="M1033.3,2326.9 L1028.9,2326.1" stroke-width="2.0"/><path d="M1023.9,2320.8 L1016.4,2309.6" stroke-width="3.2"/><path d="M1028.1,2355.6 L1018.4,2355.9" stroke-width="2.3"/><path d="M1026.5,2326.3 L1010.9,2336.5" stroke-width="2.9"/><path d="M1014.9,2373.1 L1012.0,2367.9" stroke-width="3.2"/><path d="M1614.8,2501.9 L1635.2,2492.6" stroke-width="2.9"/><path d="M1613.6,2503.8 L1619.8,2512.8" stroke-width="2.0"/><path d="M1643.1,2504.1 L1635.9,2493.2" stroke-width="1.7"/><path d="M1612.6,2502.6 L1612.9,2502.7" stroke-width="3.2"/><path d="M1599.2,2528.6 L1595.2,2524.7" stroke-width="3.6"/><path d="M1594.2,2522.0 L1594.0,2523.1" stroke-width="2.8"/><path d="M1698.6,2467.8 L1693.8,2456.2" stroke-width="1.9"/><path d="M1701.1,2492.2 L1686.4,2483.4" stroke-width="2.1"/><path d="M1698.4,2468.0 L1683.5,2481.1" stroke-width="3.4"/><path d="M1692.4,2552.9 L1681.9,2543.8" stroke-width="3.5"/><path d="M1681.5,2540.7 L1682.6,2534.9" stroke-width="1.7"/><path d="M1654.6,2505.9 L1657.9,2504.0" stroke-width="2.8"/><path d="M1660.9,2504.5 L1671.4,2506.8" stroke-width="1.9"/><path d="M1675.0,2508.5 L1674.7,2519.9" stroke-width="2.7"/><path d="M1642.3,2529.3 L1652.8,2530.8" stroke-width="2.0"/><path d="M1690.1,2597.5 L1705.3,2593.1" stroke-width="2.8"/><path d="M1689.0,2598.7 L1688.4,2612.6" stroke-width="3.5"/><path d="M1698.4,2621.0 L1712.8,2605.5" stroke-width="2.5"/><path d="M1711.7,2602.1 L1707.5,2595.0" stroke-width="2.7"/><path d="M1738.2,2611.9 L1720.3,2606.8" stroke-width="3.3"/><path d="M1707.7,2586.9 L1706.7,2591.1" stroke-width="3.3"/><path d="M1627.5,2539.0 L1626.0,2539.0" stroke-width="3.4"/><path d="M1675.9,2545.5 L1664.8,2550.7" stroke-width="2.9"/><path d="M1653.4,2531.2 L1657.4,2548.5" stroke-width="1.7"/><path d="M1278.6,2099.2 L1258.9,2103.6" stroke-width="1.9"/><path d="M1240.2,2077.9 L1252.9,2098.8" stroke-width="3.8"/><path d="M1182.7,2099.5 L1190.3,2110.2" stroke-width="3.2"/><path d="M1104.0,2150.7 L1114.8,2152.0" stroke-width="2.3"/><path d="M1116.9,2178.9 L1119.5,2176.7" stroke-width="2.7"/><path d="M1117.0,2122.4 L1122.2,2125.0" stroke-width="1.9"/><path d="M1123.7,2129.7 L1125.1,2145.1" stroke-width="2.7"/><path d="M1116.3,2151.8 L1125.1,2145.7" stroke-width="2.7"/><path d="M1123.2,2175.4 L1135.9,2173.9" stroke-width="3.5"/><path d="M1152.8,2220.3 L1164.2,2221.2" stroke-width="3.5"/><path d="M1151.3,2190.3 L1159.9,2189.2" stroke-width="2.0"/><path d="M1715.4,2244.8 L1707.4,2259.8" stroke-width="1.7"/><path d="M1711.4,2237.1 L1715.3,2241.7" stroke-width="2.3"/><path d="M1680.9,2285.0 L1682.0,2283.5" stroke-width="3.6"/><path d="M1648.3,2338.5 L1648.1,2328.5" stroke-width="2.5"/><path d="M1664.6,2329.1 L1650.2,2321.7" stroke-width="2.1"/><path d="M1648.0,2321.7 L1648.7,2321.1" stroke-width="3.6"/><path d="M1616.7,2177.6 L1609.2,2181.3" stroke-width="2.8"/><path d="M1611.6,2201.2 L1608.7,2183.4" stroke-width="3.0"/><path d="M1658.6,2221.0 L1657.0,2232.5" stroke-width="1.8"/><path d="M1662.9,2192.4 L1654.9,2208.9" stroke-width="1.7"/><path d="M1654.4,2262.9 L1637.9,2255.5" stroke-width="3.2"/><path d="M1637.2,2255.0 L1639.5,2242.1" stroke-width="3.3"/><path d="M1688.6,2134.9 L1702.6,2138.0" stroke-width="2.4"/><path d="M1688.6,2159.8 L1677.8,2155.2" stroke-width="3.0"/><path d="M1683.0,2119.7 L1686.5,2131.0" stroke-width="2.0"/><path d="M1674.9,2155.9 L1676.0,2155.0" stroke-width="3.8"/><path d="M1650.1,2136.1 L1656.0,2131.5" stroke-width="1.8"/><path d="M1502.4,2123.1 L1493.5,2128.8" stroke-width="1.8"/><path d="M1490.5,2132.0 L1492.1,2142.3" stroke-width="2.1"/><path d="M1492.4,2145.7 L1484.4,2153.7" stroke-width="2.7"/><path d="M1481.9,2154.6 L1476.7,2152.9" stroke-width="2.2"/><path d="M1440.6,2096.3 L1451.4,2106.6" stroke-width="2.9"/><path d="M1461.9,2107.5 L1457.3,2108.9" stroke-width="2.0"/><path d="M1584.3,2118.8 L1579.0,2129.0" stroke-width="1.8"/><path d="M1545.8,2098.1 L1557.1,2105.6" stroke-width="3.4"/><path d="M1511.5,2121.2 L1514.4,2125.0" stroke-width="3.0"/><path d="M1535.5,2111.2 L1539.1,2123.1" stroke-width="2.9"/><path d="M1473.8,2152.6 L1459.5,2157.5" stroke-width="3.1"/><path d="M1458.3,2174.7 L1470.3,2176.6" stroke-width="2.0"/><path d="M1482.2,2165.5 L1473.5,2175.7" stroke-width="2.7"/><path d="M1535.6,2146.0 L1542.9,2154.2" stroke-width="3.6"/><path d="M1515.1,2152.5 L1516.2,2163.5" stroke-width="3.3"/><path d="M1546.9,2180.7 L1541.6,2168.7" stroke-width="2.7"/><path d="M1506.4,2174.6 L1498.6,2174.3" stroke-width="2.7"/><path d="M1411.4,2206.6 L1409.6,2201.5" stroke-width="2.0"/><path d="M1460.6,2198.4 L1453.9,2181.5" stroke-width="2.6"/><path d="M1432.0,2185.9 L1432.6,2183.1" stroke-width="2.5"/><path d="M1463.6,2200.5 L1467.4,2201.2" stroke-width="2.4"/><path d="M1473.2,2179.1 L1476.9,2188.3" stroke-width="2.4"/><path d="M1473.5,2219.3 L1469.1,2223.7" stroke-width="1.6"/><path d="M1622.9,2113.4 L1610.5,2121.3" stroke-width="1.6"/><path d="M1644.0,2136.7 L1632.6,2131.6" stroke-width="1.9"/><path d="M1622.2,2150.8 L1621.6,2141.9" stroke-width="2.3"/><path d="M1630.2,2108.5 L1630.1,2108.7" stroke-width="3.3"/><path d="M1597.3,2118.0 L1602.8,2123.3" stroke-width="1.8"/><path d="M1569.9,2482.9 L1584.4,2484.6" stroke-width="3.7"/><path d="M1556.5,2448.7 L1557.8,2456.6" stroke-width="3.8"/><path d="M1599.9,2424.4 L1606.3,2438.6" stroke-width="2.3"/><path d="M1584.1,2447.8 L1580.2,2442.8" stroke-width="2.4"/><path d="M1602.1,2447.0 L1606.9,2440.6" stroke-width="2.8"/><path d="M1579.3,2440.4 L1579.7,2436.0" stroke-width="2.7"/><path d="M1598.5,2418.7 L1598.3,2420.2" stroke-width="2.7"/><path d="M1580.6,2459.8 L1583.9,2449.3" stroke-width="2.5"/><path d="M1563.0,2445.2 L1576.3,2442.1" stroke-width="1.9"/><path d="M1414.5,2461.2 L1412.3,2464.9" stroke-width="2.5"/><path d="M1440.7,2384.2 L1444.6,2387.8" stroke-width="2.0"/><path d="M1434.3,2414.8 L1427.6,2412.9" stroke-width="3.0"/><path d="M1422.6,2400.0 L1424.5,2407.8" stroke-width="2.8"/><path d="M1436.2,2415.4 L1442.9,2430.3" stroke-width="2.3"/><path d="M1424.1,2413.8 L1414.2,2424.8" stroke-width="3.5"/><path d="M1414.8,2482.4 L1430.6,2489.6" stroke-width="3.2"/><path d="M1537.2,2477.0 L1537.8,2479.1" stroke-width="2.3"/><path d="M1566.4,2482.5 L1562.1,2485.8" stroke-width="3.0"/><path d="M1557.0,2485.3 L1538.9,2479.8" stroke-width="2.7"/><path d="M1496.7,2428.1 L1501.4,2435.3" stroke-width="1.8"/><path d="M1496.4,2452.7 L1502.2,2442.1" stroke-width="2.3"/><path d="M1496.0,2454.8 L1495.8,2454.2" stroke-width="3.8"/><path d="M1525.0,2431.2 L1534.3,2425.6" stroke-width="1.8"/><path d="M1229.5,2293.4 L1223.8,2286.6" stroke-width="2.5"/><path d="M1319.6,2264.0 L1320.4,2257.6" stroke-width="2.5"/><path d="M1322.2,2253.1 L1337.2,2250.1" stroke-width="3.0"/><path d="M1339.2,2252.2 L1343.6,2272.8" stroke-width="3.5"/><path d="M1351.8,2282.1 L1345.1,2274.3" stroke-width="2.7"/><path d="M1343.8,2273.4 L1344.3,2273.5" stroke-width="1.9"/><path d="M1289.1,2114.0 L1301.2,2112.2" stroke-width="2.1"/><path d="M1293.4,2222.7 L1291.1,2227.1" stroke-width="2.9"/><path d="M1386.8,2248.3 L1399.8,2259.3" stroke-width="1.7"/><path d="M1402.1,2261.3 L1399.0,2269.5" stroke-width="2.9"/><path d="M1353.4,2282.8 L1368.4,2284.3" stroke-width="3.6"/><path d="M1373.6,2266.1 L1362.2,2260.2" stroke-width="3.1"/><path d="M1414.7,2258.3 L1422.3,2262.6" stroke-width="2.7"/><path d="M1415.7,2236.0 L1424.0,2233.8" stroke-width="3.7"/><path d="M1385.9,2245.6 L1385.0,2240.8" stroke-width="1.7"/><path d="M1387.0,2238.1 L1393.7,2231.9" stroke-width="2.6"/><path d="M1401.7,2229.6 L1411.8,2235.5" stroke-width="2.2"/><path d="M1456.8,2251.4 L1457.1,2250.1" stroke-width="3.5"/><path d="M1456.2,2252.2 L1442.4,2259.2" stroke-width="3.6"/><path d="M1441.3,2259.5 L1438.1,2258.8" stroke-width="3.4"/><path d="M1347.8,2306.5 L1350.3,2307.6" stroke-width="2.3"/><path d="M1369.6,2303.8 L1354.3,2307.0" stroke-width="2.1"/><path d="M1485.5,2245.3 L1481.3,2258.6" stroke-width="3.3"/><path d="M1459.5,2254.7 L1466.1,2260.9" stroke-width="1.7"/><path d="M1478.1,2261.1 L1470.4,2261.6" stroke-width="2.4"/><path d="M1494.0,2242.5 L1500.1,2246.2" stroke-width="1.7"/><path d="M1503.7,2250.6 L1502.9,2265.6" stroke-width="3.0"/><path d="M1499.1,2269.7 L1492.0,2271.2" stroke-width="3.3"/><path d="M1483.3,2263.9 L1488.5,2269.8" stroke-width="3.1"/><path d="M1451.6,2282.1 L1459.6,2282.4" stroke-width="2.6"/><path d="M1489.5,2273.0 L1485.3,2282.2" stroke-width="3.4"/><path d="M1482.8,2283.5 L1468.1,2283.6" stroke-width="2.5"/><path d="M1462.1,2282.5 L1463.0,2283.3" stroke-width="3.2"/><path d="M1503.4,2373.1 L1495.6,2373.7" stroke-width="2.6"/><path d="M1505.3,2348.0 L1512.6,2362.9" stroke-width="2.4"/><path d="M1505.5,2345.8 L1506.8,2342.5" stroke-width="2.9"/><path d="M1103.2,2396.1 L1085.3,2393.2" stroke-width="1.8"/><path d="M1106.5,2403.3 L1104.0,2397.0" stroke-width="2.4"/><path d="M1129.2,2403.2 L1131.6,2392.7" stroke-width="2.7"/><path d="M1119.9,2382.4 L1130.5,2391.3" stroke-width="2.9"/><path d="M1098.4,2353.2 L1085.8,2369.4" stroke-width="2.0"/><path d="M1116.1,2376.6 L1118.5,2368.9" stroke-width="2.5"/><path d="M1093.7,2340.3 L1099.2,2342.4" stroke-width="2.3"/><path d="M1077.7,2371.7 L1080.6,2372.8" stroke-width="2.9"/><path d="M1105.7,2410.0 L1101.1,2419.9" stroke-width="2.1"/><path d="M1122.0,2425.9 L1129.3,2409.1" stroke-width="3.7"/><path d="M1185.3,2535.0 L1181.8,2536.5" stroke-width="2.3"/><path d="M1027.7,2501.2 L1020.3,2514.5" stroke-width="3.4"/><path d="M1059.8,2397.8 L1065.5,2402.4" stroke-width="1.6"/><path d="M1037.2,2463.5 L1050.1,2463.4" stroke-width="3.1"/><path d="M1055.0,2479.3 L1051.3,2463.4" stroke-width="2.3"/><path d="M1058.2,2445.7 L1052.8,2441.5" stroke-width="1.9"/><path d="M1047.1,2422.5 L1064.0,2416.1" stroke-width="1.9"/><path d="M1067.5,2417.6 L1072.7,2421.8" stroke-width="1.8"/><path d="M1086.9,2416.3 L1077.8,2421.8" stroke-width="1.7"/><path d="M1097.2,2438.1 L1089.4,2442.1" stroke-width="3.4"/><path d="M1051.4,2463.2 L1059.0,2449.6" stroke-width="3.5"/><path d="M1065.6,2404.6 L1065.1,2414.6" stroke-width="2.1"/><path d="M1325.8,2383.9 L1320.5,2389.0" stroke-width="3.5"/><path d="M1241.8,2396.7 L1250.9,2406.0" stroke-width="3.5"/><path d="M1226.5,2397.3 L1207.4,2388.9" stroke-width="3.1"/><path d="M1178.6,2717.0 L1189.8,2729.6" stroke-width="3.1"/><path d="M1179.5,2715.0 L1181.7,2711.4" stroke-width="2.5"/><path d="M1187.7,2709.3 L1204.3,2705.1" stroke-width="2.0"/><path d="M1213.7,2699.1 L1207.5,2702.0" stroke-width="2.8"/><path d="M1228.5,2703.8 L1216.1,2699.2" stroke-width="3.3"/><path d="M1180.0,2689.4 L1190.7,2685.0" stroke-width="2.4"/><path d="M1217.4,2678.4 L1218.2,2677.6" stroke-width="2.9"/><path d="M1161.5,2554.1 L1154.6,2550.8" stroke-width="3.0"/><path d="M1139.7,2497.7 L1146.0,2502.0" stroke-width="2.1"/><path d="M1150.7,2701.9 L1150.1,2698.6" stroke-width="2.7"/><path d="M1162.8,2689.2 L1154.6,2695.2" stroke-width="3.0"/><path d="M1042.9,2665.1 L1036.0,2662.5" stroke-width="2.8"/><path d="M1024.0,2641.2 L1030.1,2644.5" stroke-width="3.6"/><path d="M1189.2,2558.9 L1197.5,2558.4" stroke-width="2.7"/><path d="M1187.3,2535.0 L1199.9,2539.4" stroke-width="3.0"/><path d="M1233.2,2516.4 L1228.2,2511.7" stroke-width="3.1"/><path d="M1217.5,2509.4 L1210.4,2517.3" stroke-width="2.8"/><path d="M1196.2,2516.7 L1208.9,2518.1" stroke-width="3.2"/><path d="M1300.3,2743.7 L1294.4,2725.0" stroke-width="2.1"/><path d="M1290.6,2722.8 L1275.2,2720.8" stroke-width="3.4"/><path d="M1627.7,2719.5 L1627.6,2719.5" stroke-width="3.6"/><path d="M1658.0,2503.7 L1660.2,2491.2" stroke-width="2.8"/><path d="M1682.7,2481.4 L1681.2,2481.5" stroke-width="3.6"/><path d="M1635.6,2491.3 L1636.2,2485.8" stroke-width="3.1"/><path d="M1636.7,2485.4 L1651.0,2481.3" stroke-width="2.2"/><path d="M1625.3,2718.1 L1617.9,2713.5" stroke-width="3.7"/><path d="M1598.3,2721.3 L1601.6,2716.3" stroke-width="3.5"/><path d="M1611.3,2712.2 L1603.0,2714.6" stroke-width="2.6"/><path d="M1652.8,2700.7 L1643.3,2698.9" stroke-width="2.0"/><path d="M1654.7,2700.4 L1662.1,2687.2" stroke-width="2.3"/><path d="M1676.0,2666.9 L1662.9,2676.3" stroke-width="1.9"/><path d="M1663.3,2682.2 L1662.4,2678.8" stroke-width="3.8"/><path d="M1625.3,2539.6 L1618.5,2546.5" stroke-width="2.9"/><path d="M1659.5,2592.3 L1665.7,2596.2" stroke-width="2.4"/><path d="M1656.6,2590.4 L1655.8,2586.7" stroke-width="2.6"/><path d="M1657.6,2583.3 L1668.6,2573.7" stroke-width="2.9"/><path d="M1669.5,2597.9 L1681.2,2594.1" stroke-width="1.8"/><path d="M1646.2,2579.6 L1655.4,2585.1" stroke-width="2.8"/><path d="M1221.7,2265.1 L1224.1,2253.3" stroke-width="2.3"/><path d="M1222.7,2157.6 L1226.2,2171.7" stroke-width="2.5"/><path d="M1249.2,2149.5 L1235.1,2141.4" stroke-width="2.3"/><path d="M1221.7,2107.7 L1210.3,2111.6" stroke-width="2.6"/><path d="M1206.5,2113.0 L1208.5,2120.6" stroke-width="1.9"/><path d="M1235.4,2079.8 L1227.3,2104.8" stroke-width="1.6"/><path d="M1250.5,2118.3 L1241.5,2123.7" stroke-width="2.2"/><path d="M1137.6,2173.4 L1139.8,2169.7" stroke-width="3.2"/><path d="M1136.8,2152.1 L1139.4,2164.5" stroke-width="3.6"/><path d="M1612.7,2208.8 L1612.4,2209.4" stroke-width="2.5"/><path d="M1627.5,2225.3 L1620.7,2223.8" stroke-width="2.2"/><path d="M1618.9,2221.2 L1614.6,2213.5" stroke-width="2.4"/><path d="M1554.0,2289.6 L1565.3,2290.7" stroke-width="1.7"/><path d="M1642.3,2350.2 L1630.4,2348.0" stroke-width="3.6"/><path d="M1628.1,2347.0 L1626.0,2331.9" stroke-width="3.0"/><path d="M1626.0,2331.0 L1627.9,2327.8" stroke-width="2.4"/><path d="M1674.4,2309.0 L1666.4,2308.2" stroke-width="2.7"/><path d="M1565.9,2208.3 L1566.5,2210.2" stroke-width="2.5"/><path d="M1568.6,2210.6 L1588.4,2213.6" stroke-width="2.1"/><path d="M1594.0,2213.1 L1597.0,2210.6" stroke-width="3.5"/><path d="M1536.8,2200.5 L1535.5,2197.0" stroke-width="3.7"/><path d="M1606.4,2181.1 L1594.7,2178.1" stroke-width="1.7"/><path d="M1611.0,2209.6 L1601.4,2210.0" stroke-width="1.7"/><path d="M1589.9,2231.3 L1591.8,2219.3" stroke-width="2.9"/><path d="M1453.9,2158.5 L1451.4,2155.9" stroke-width="3.4"/><path d="M1464.5,2133.3 L1456.5,2133.5" stroke-width="2.0"/><path d="M1444.4,2125.2 L1444.7,2126.3" stroke-width="3.3"/><path d="M1593.4,2167.1 L1598.9,2158.3" stroke-width="2.7"/><path d="M1577.1,2135.3 L1579.2,2142.0" stroke-width="2.5"/><path d="M1592.8,2176.1 L1591.9,2170.7" stroke-width="3.2"/><path d="M1615.5,2157.0 L1602.8,2155.1" stroke-width="3.0"/><path d="M1400.5,2128.3 L1406.2,2136.6" stroke-width="3.5"/><path d="M1491.3,2235.6 L1482.7,2221.9" stroke-width="2.3"/><path d="M1484.0,2216.2 L1497.3,2209.3" stroke-width="2.7"/><path d="M1509.9,2219.6 L1509.8,2220.1" stroke-width="1.9"/><path d="M1508.5,2216.8 L1504.6,2209.9" stroke-width="1.9"/><path d="M1505.5,2247.9 L1515.1,2244.6" stroke-width="3.4"/><path d="M1517.3,2239.7 L1509.8,2220.6" stroke-width="2.9"/><path d="M1535.2,2220.2 L1539.8,2228.0" stroke-width="3.2"/><path d="M1536.2,2231.8 L1520.5,2243.4" stroke-width="2.4"/><path d="M1536.7,2202.0 L1533.5,2215.2" stroke-width="2.8"/><path d="M1554.5,2415.9 L1561.5,2422.5" stroke-width="3.7"/><path d="M1585.5,2409.7 L1577.3,2411.1" stroke-width="3.1"/><path d="M1574.8,2413.1 L1569.7,2421.6" stroke-width="3.5"/><path d="M1567.2,2422.7 L1563.1,2423.3" stroke-width="2.0"/><path d="M1683.3,2424.7 L1673.8,2437.5" stroke-width="1.7"/><path d="M1681.0,2421.1 L1674.3,2412.6" stroke-width="2.7"/><path d="M1651.1,2417.9 L1650.7,2426.8" stroke-width="2.7"/><path d="M1661.6,2387.0 L1661.5,2387.2" stroke-width="3.7"/><path d="M1632.2,2412.1 L1625.0,2416.9" stroke-width="2.5"/><path d="M1670.5,2447.5 L1656.1,2454.4" stroke-width="3.3"/><path d="M1672.4,2469.9 L1658.7,2467.4" stroke-width="1.6"/><path d="M1651.0,2457.7 L1655.0,2464.6" stroke-width="2.2"/><path d="M1692.1,2452.5 L1683.7,2453.0" stroke-width="3.7"/><path d="M1631.8,2479.3 L1618.4,2475.4" stroke-width="3.0"/><path d="M1612.8,2468.4 L1614.9,2473.7" stroke-width="1.9"/><path d="M1635.5,2384.8 L1627.6,2392.4" stroke-width="2.1"/><path d="M1646.9,2368.5 L1637.2,2374.9" stroke-width="3.0"/><path d="M1626.9,2348.8 L1621.7,2354.0" stroke-width="3.8"/><path d="M1633.0,2408.3 L1626.1,2396.5" stroke-width="1.7"/><path d="M1590.8,2390.4 L1603.2,2390.8" stroke-width="2.0"/><path d="M1533.4,2259.1 L1529.1,2258.1" stroke-width="2.9"/><path d="M1526.9,2258.7 L1512.7,2273.2" stroke-width="3.7"/><path d="M1524.1,2284.7 L1514.8,2279.5" stroke-width="1.9"/><path d="M1553.0,2249.9 L1556.6,2263.5" stroke-width="2.8"/><path d="M1548.3,2249.8 L1534.1,2259.3" stroke-width="2.2"/><path d="M1405.1,2507.3 L1398.9,2514.7" stroke-width="2.7"/><path d="M1406.1,2501.4 L1404.2,2495.9" stroke-width="2.0"/><path d="M1385.6,2537.1 L1404.6,2542.7" stroke-width="3.2"/><path d="M1420.8,2526.0 L1412.3,2529.7" stroke-width="2.0"/><path d="M1312.4,2585.7 L1309.4,2598.2" stroke-width="1.8"/><path d="M1315.4,2581.1 L1319.1,2579.4" stroke-width="2.0"/><path d="M1332.0,2595.8 L1333.1,2587.3" stroke-width="1.7"/><path d="M1313.1,2558.5 L1300.1,2561.5" stroke-width="2.0"/><path d="M1314.4,2558.3 L1319.7,2562.0" stroke-width="2.3"/><path d="M1307.6,2528.7 L1308.7,2531.5" stroke-width="3.7"/><path d="M1295.6,2559.2 L1290.6,2552.7" stroke-width="2.8"/><path d="M1376.7,2455.8 L1373.1,2454.2" stroke-width="3.4"/><path d="M1342.7,2520.9 L1351.6,2507.4" stroke-width="2.2"/><path d="M1560.9,2488.4 L1560.3,2497.0" stroke-width="3.0"/><path d="M1422.2,2725.4 L1413.6,2738.1" stroke-width="3.8"/><path d="M1413.7,2713.2 L1423.4,2716.7" stroke-width="3.5"/><path d="M1482.5,2725.7 L1492.3,2727.4" stroke-width="3.1"/><path d="M1477.8,2724.3 L1473.5,2717.6" stroke-width="2.2"/><path d="M1499.2,2412.8 L1491.7,2400.9" stroke-width="2.9"/><path d="M1102.8,2247.5 L1116.3,2264.0" stroke-width="2.4"/><path d="M1131.0,2259.2 L1118.4,2265.2" stroke-width="2.2"/><path d="M1088.8,2283.6 L1085.0,2282.1" stroke-width="2.3"/><path d="M1157.7,2248.8 L1164.7,2243.7" stroke-width="1.9"/><path d="M1156.7,2250.5 L1157.7,2262.1" stroke-width="1.6"/><path d="M1160.7,2266.4 L1167.6,2266.4" stroke-width="3.0"/><path d="M1173.2,2262.8 L1179.1,2254.1" stroke-width="3.3"/><path d="M1152.1,2271.8 L1157.8,2266.7" stroke-width="3.5"/><path d="M1344.3,2244.9 L1356.6,2245.9" stroke-width="3.5"/><path d="M1319.6,2251.7 L1313.6,2244.2" stroke-width="3.6"/><path d="M1322.2,2228.9 L1332.0,2228.0" stroke-width="2.9"/><path d="M1365.7,2239.1 L1360.9,2244.1" stroke-width="3.0"/><path d="M1326.7,2173.2 L1329.4,2159.9" stroke-width="1.7"/><path d="M1375.1,2163.3 L1385.1,2157.9" stroke-width="1.9"/><path d="M1367.8,2163.5 L1360.1,2153.9" stroke-width="3.5"/><path d="M1361.2,2151.4 L1366.2,2140.7" stroke-width="2.7"/><path d="M1387.6,2150.3 L1381.2,2140.1" stroke-width="3.6"/><path d="M1375.1,2137.1 L1369.1,2139.4" stroke-width="2.7"/><path d="M1398.6,2180.3 L1402.0,2173.1" stroke-width="2.3"/><path d="M1343.7,2154.3 L1355.0,2154.0" stroke-width="1.6"/><path d="M1407.0,2141.0 L1393.2,2150.8" stroke-width="2.1"/><path d="M1341.4,2135.5 L1325.5,2126.0" stroke-width="3.4"/><path d="M1338.9,2109.8 L1333.8,2110.9" stroke-width="3.5"/><path d="M1352.1,2123.7 L1351.4,2128.0" stroke-width="2.5"/><path d="M1350.7,2091.4 L1344.3,2103.2" stroke-width="3.0"/><path d="M1366.7,2114.8 L1352.4,2122.5" stroke-width="2.3"/><path d="M1307.4,2112.5 L1320.1,2123.9" stroke-width="2.8"/><path d="M1329.1,2155.6 L1320.1,2151.9" stroke-width="3.0"/><path d="M1320.2,2124.9 L1318.4,2127.7" stroke-width="2.2"/><path d="M1398.1,2272.1 L1403.5,2280.0" stroke-width="3.0"/><path d="M1424.9,2265.8 L1423.7,2275.3" stroke-width="2.7"/><path d="M1442.3,2315.6 L1442.3,2312.0" stroke-width="3.4"/><path d="M1472.3,2345.7 L1459.7,2335.0" stroke-width="3.7"/><path d="M1426.5,2341.8 L1426.4,2330.2" stroke-width="2.1"/><path d="M1484.7,2298.5 L1471.3,2307.7" stroke-width="3.7"/><path d="M1416.0,2319.9 L1424.4,2326.3" stroke-width="3.1"/><path d="M1550.9,2290.6 L1544.0,2305.5" stroke-width="2.3"/><path d="M1541.5,2305.7 L1528.7,2306.6" stroke-width="2.4"/><path d="M1603.0,2340.0 L1605.7,2347.5" stroke-width="3.6"/><path d="M1577.2,2385.4 L1564.6,2398.3" stroke-width="2.6"/><path d="M1122.4,2426.5 L1128.3,2436.2" stroke-width="1.7"/><path d="M1122.7,2465.3 L1116.2,2457.0" stroke-width="2.2"/><path d="M1087.9,2446.8 L1090.9,2464.2" stroke-width="2.3"/><path d="M1028.7,2526.7 L1027.8,2533.4" stroke-width="3.5"/><path d="M1020.6,2565.0 L1017.0,2559.8" stroke-width="1.8"/><path d="M1037.2,2563.4 L1042.4,2555.1" stroke-width="3.8"/><path d="M1059.6,2482.9 L1073.2,2473.1" stroke-width="2.3"/><path d="M1085.3,2489.6 L1085.8,2471.1" stroke-width="2.6"/><path d="M1055.5,2515.2 L1067.6,2514.6" stroke-width="3.4"/><path d="M1297.6,2258.8 L1301.0,2270.0" stroke-width="2.5"/><path d="M1327.2,2484.7 L1327.1,2485.0" stroke-width="2.8"/><path d="M1320.5,2446.4 L1318.0,2462.4" stroke-width="2.3"/><path d="M1152.7,2550.5 L1147.8,2552.0" stroke-width="2.7"/><path d="M1048.4,2554.7 L1062.3,2555.3" stroke-width="1.8"/><path d="M1065.1,2543.2 L1065.9,2548.6" stroke-width="2.6"/><path d="M1121.5,2705.0 L1125.4,2696.9" stroke-width="3.1"/><path d="M1148.8,2697.7 L1142.4,2693.6" stroke-width="1.9"/><path d="M1140.2,2693.4 L1126.9,2694.5" stroke-width="3.1"/><path d="M1098.6,2687.6 L1113.9,2687.9" stroke-width="1.6"/><path d="M1065.1,2577.4 L1066.3,2576.6" stroke-width="2.0"/><path d="M1064.2,2558.7 L1066.2,2570.9" stroke-width="2.0"/><path d="M1066.8,2576.1 L1067.0,2575.6" stroke-width="3.3"/><path d="M1100.6,2656.7 L1100.4,2637.8" stroke-width="2.6"/><path d="M1077.8,2646.5 L1077.2,2653.5" stroke-width="1.7"/><path d="M1094.0,2681.8 L1099.4,2666.1" stroke-width="3.4"/><path d="M1068.7,2677.5 L1065.1,2664.6" stroke-width="1.9"/><path d="M1074.3,2656.5 L1066.2,2663.3" stroke-width="3.3"/><path d="M1265.4,2556.0 L1270.6,2559.4" stroke-width="1.9"/><path d="M1273.2,2564.0 L1273.1,2575.4" stroke-width="2.8"/><path d="M1247.2,2583.7 L1249.1,2576.3" stroke-width="2.3"/><path d="M1260.8,2658.4 L1266.6,2673.7" stroke-width="1.8"/><path d="M1287.6,2658.0 L1286.6,2653.6" stroke-width="2.5"/><path d="M1285.9,2662.3 L1280.0,2673.7" stroke-width="2.9"/><path d="M1572.8,2703.7 L1562.9,2707.8" stroke-width="2.0"/><path d="M1576.9,2705.3 L1580.9,2718.9" stroke-width="3.2"/><path d="M1574.3,2728.4 L1580.8,2721.4" stroke-width="3.2"/><path d="M1558.9,2717.3 L1559.8,2711.6" stroke-width="2.2"/><path d="M1581.7,2698.0 L1590.9,2698.8" stroke-width="2.3"/><path d="M1548.9,2724.5 L1536.5,2719.4" stroke-width="3.8"/><path d="M1558.1,2707.0 L1549.9,2700.2" stroke-width="1.7"/><path d="M1542.4,2700.4 L1547.6,2699.5" stroke-width="2.3"/><path d="M1607.3,2685.6 L1613.8,2688.6" stroke-width="1.8"/><path d="M1674.2,2636.1 L1668.2,2641.7" stroke-width="3.1"/><path d="M1676.7,2656.7 L1667.0,2648.7" stroke-width="3.3"/><path d="M1666.5,2644.4 L1666.5,2647.7" stroke-width="1.7"/><path d="M1560.4,2639.5 L1561.8,2636.7" stroke-width="3.8"/><path d="M1569.2,2661.0 L1585.0,2659.6" stroke-width="1.7"/><path d="M1586.3,2646.3 L1585.2,2658.6" stroke-width="3.0"/><path d="M1579.0,2683.0 L1593.5,2670.9" stroke-width="3.2"/><path d="M1647.2,2634.1 L1640.0,2639.3" stroke-width="3.6"/><path d="M1639.4,2639.5 L1628.7,2637.3" stroke-width="3.6"/><path d="M1627.0,2636.6 L1622.4,2629.2" stroke-width="2.5"/><path d="M1587.8,2643.5 L1594.8,2640.2" stroke-width="3.2"/><path d="M1586.2,2660.5 L1592.6,2666.4" stroke-width="2.7"/><path d="M1611.1,2656.0 L1600.7,2643.0" stroke-width="3.1"/><path d="M1212.0,2224.3 L1209.4,2236.6" stroke-width="3.3"/><path d="M1208.7,2218.2 L1195.0,2210.9" stroke-width="3.7"/><path d="M1182.0,2215.2 L1189.6,2235.7" stroke-width="2.2"/><path d="M1222.2,2246.3 L1211.8,2242.3" stroke-width="3.7"/><path d="M1181.0,2248.7 L1189.1,2238.4" stroke-width="2.8"/><path d="M1200.7,2259.6 L1204.3,2245.5" stroke-width="2.5"/><path d="M1248.4,2178.0 L1256.5,2182.9" stroke-width="3.2"/><path d="M1172.6,2173.8 L1166.0,2165.7" stroke-width="1.7"/><path d="M1137.7,2149.7 L1142.9,2146.2" stroke-width="3.5"/><path d="M1163.9,2161.9 L1164.2,2152.6" stroke-width="2.3"/><path d="M1648.3,2287.2 L1642.8,2288.7" stroke-width="3.2"/><path d="M1610.0,2253.4 L1603.8,2263.5" stroke-width="3.8"/><path d="M1588.9,2242.3 L1583.8,2255.5" stroke-width="2.8"/><path d="M1595.9,2266.1 L1590.4,2277.8" stroke-width="3.3"/><path d="M1605.1,2266.3 L1612.0,2275.4" stroke-width="2.8"/><path d="M1571.3,2234.1 L1562.5,2243.2" stroke-width="2.8"/><path d="M1553.6,2245.4 L1559.5,2244.5" stroke-width="2.3"/><path d="M1552.5,2246.8 L1553.1,2245.5" stroke-width="3.0"/><path d="M1431.0,2175.3 L1430.1,2156.7" stroke-width="3.5"/><path d="M1429.2,2151.6 L1427.5,2150.0" stroke-width="2.9"/><path d="M1432.5,2182.7 L1431.5,2181.4" stroke-width="2.8"/><path d="M1442.4,2129.4 L1430.5,2144.3" stroke-width="3.2"/><path d="M1570.5,2305.6 L1556.2,2314.0" stroke-width="2.6"/><path d="M1553.1,2317.6 L1553.0,2324.8" stroke-width="2.0"/><path d="M1559.5,2328.2 L1576.2,2328.3" stroke-width="2.0"/><path d="M1577.3,2326.8 L1578.4,2324.4" stroke-width="2.5"/><path d="M1570.1,2292.7 L1572.5,2297.3" stroke-width="2.7"/><path d="M1545.0,2306.6 L1553.1,2315.7" stroke-width="3.5"/><path d="M1459.5,2487.0 L1465.8,2484.8" stroke-width="2.3"/><path d="M1542.6,2508.9 L1542.1,2511.4" stroke-width="2.8"/><path d="M1572.6,2631.2 L1579.1,2622.1" stroke-width="1.7"/><path d="M1580.0,2617.8 L1578.0,2612.5" stroke-width="2.3"/><path d="M1529.7,2642.0 L1528.8,2639.9" stroke-width="3.5"/><path d="M1547.5,2623.4 L1539.3,2624.8" stroke-width="2.4"/><path d="M1419.5,2565.0 L1407.8,2571.8" stroke-width="2.6"/><path d="M1458.3,2588.2 L1460.1,2576.0" stroke-width="2.1"/><path d="M1442.6,2566.2 L1434.9,2569.8" stroke-width="2.4"/><path d="M1442.6,2542.9 L1447.9,2549.2" stroke-width="3.6"/><path d="M1416.8,2591.8 L1432.9,2578.6" stroke-width="3.0"/><path d="M1505.6,2724.0 L1519.0,2726.3" stroke-width="3.5"/><path d="M1523.5,2726.0 L1525.1,2723.6" stroke-width="2.9"/><path d="M1516.1,2701.3 L1502.7,2701.9" stroke-width="2.3"/><path d="M1448.5,2705.2 L1439.4,2702.4" stroke-width="3.1"/><path d="M1411.5,2710.9 L1406.3,2699.3" stroke-width="2.2"/><path d="M1408.6,2693.7 L1420.7,2689.3" stroke-width="2.7"/><path d="M1454.9,2701.1 L1461.8,2687.3" stroke-width="2.3"/><path d="M1474.4,2682.2 L1467.3,2680.1" stroke-width="1.9"/><path d="M1515.4,2387.2 L1513.4,2392.1" stroke-width="2.0"/><path d="M1517.5,2386.3 L1528.8,2381.8" stroke-width="2.6"/><path d="M1514.7,2363.7 L1523.6,2363.9" stroke-width="3.1"/><path d="M1554.4,2395.7 L1557.1,2398.0" stroke-width="3.5"/><path d="M1150.4,2275.0 L1149.4,2281.4" stroke-width="2.7"/><path d="M1117.8,2278.5 L1121.4,2283.4" stroke-width="3.1"/><path d="M1092.3,2289.6 L1099.0,2303.0" stroke-width="2.1"/><path d="M1080.4,2318.7 L1101.2,2309.5" stroke-width="2.7"/><path d="M1099.5,2342.5 L1101.0,2341.3" stroke-width="2.3"/><path d="M1332.2,2199.7 L1333.2,2198.7" stroke-width="1.7"/><path d="M1336.1,2227.3 L1339.4,2223.0" stroke-width="2.5"/><path d="M1282.7,2123.1 L1275.6,2127.6" stroke-width="3.8"/><path d="M1259.5,2147.3 L1270.6,2137.8" stroke-width="3.4"/><path d="M1272.3,2131.6 L1271.8,2134.8" stroke-width="3.6"/><path d="M1400.4,2330.6 L1396.0,2329.8" stroke-width="3.3"/><path d="M1347.8,2367.6 L1352.7,2364.1" stroke-width="2.6"/><path d="M1516.2,2338.3 L1521.1,2338.5" stroke-width="1.6"/><path d="M1527.2,2307.0 L1526.5,2307.8" stroke-width="3.7"/><path d="M1547.5,2329.0 L1536.1,2327.9" stroke-width="2.6"/><path d="M1538.5,2350.3 L1551.0,2336.7" stroke-width="2.3"/><path d="M1578.9,2349.5 L1593.1,2358.1" stroke-width="2.7"/><path d="M1579.7,2382.6 L1579.3,2380.7" stroke-width="2.6"/><path d="M1233.7,2392.1 L1228.3,2396.4" stroke-width="2.0"/><path d="M1276.5,2474.4 L1259.0,2470.4" stroke-width="3.7"/><path d="M1259.4,2501.0 L1246.5,2489.0" stroke-width="3.8"/><path d="M1285.8,2490.6 L1280.8,2488.5" stroke-width="3.4"/><path d="M1283.5,2375.6 L1301.7,2386.5" stroke-width="2.2"/><path d="M1230.5,2628.4 L1234.5,2613.1" stroke-width="3.6"/><path d="M1238.3,2613.0 L1255.3,2614.6" stroke-width="3.3"/><path d="M1219.0,2630.2 L1227.9,2630.0" stroke-width="1.9"/><path d="M1229.4,2607.2 L1234.2,2612.2" stroke-width="3.3"/><path d="M1143.1,2556.3 L1132.9,2559.0" stroke-width="2.6"/><path d="M1091.4,2498.2 L1092.7,2510.5" stroke-width="2.0"/><path d="M1076.2,2516.8 L1089.8,2514.6" stroke-width="1.8"/><path d="M1068.3,2551.5 L1087.0,2551.3" stroke-width="2.8"/><path d="M1094.9,2518.0 L1096.0,2526.2" stroke-width="2.4"/><path d="M1193.1,2608.1 L1187.5,2625.0" stroke-width="3.2"/><path d="M1140.4,2670.4 L1136.8,2667.3" stroke-width="3.2"/><path d="M1107.0,2571.3 L1099.1,2579.5" stroke-width="3.7"/><path d="M1097.5,2578.1 L1087.5,2565.7" stroke-width="3.6"/><path d="M1068.8,2574.6 L1082.7,2567.6" stroke-width="3.6"/><path d="M1124.9,2621.9 L1127.8,2641.7" stroke-width="1.7"/><path d="M1128.4,2642.1 L1131.8,2643.4" stroke-width="3.3"/><path d="M1153.9,2624.5 L1153.9,2625.2" stroke-width="2.2"/><path d="M1118.9,2617.3 L1123.2,2619.8" stroke-width="3.1"/><path d="M1097.7,2627.2 L1098.4,2632.9" stroke-width="2.2"/><path d="M1101.7,2624.3 L1114.8,2618.6" stroke-width="3.7"/><path d="M1135.9,2648.2 L1132.8,2643.8" stroke-width="2.0"/><path d="M1064.7,2635.6 L1053.8,2641.8" stroke-width="2.5"/><path d="M1097.6,2626.1 L1097.6,2626.1" stroke-width="2.7"/><path d="M1033.2,2617.4 L1043.6,2620.6" stroke-width="2.9"/><path d="M1031.2,2644.3 L1044.9,2640.0" stroke-width="1.9"/><path d="M1099.1,2604.2 L1107.4,2597.8" stroke-width="2.5"/><path d="M1107.9,2592.8 L1101.6,2584.9" stroke-width="2.4"/><path d="M1113.2,2596.3 L1110.9,2595.8" stroke-width="3.8"/><path d="M1098.8,2580.2 L1098.7,2581.1" stroke-width="3.3"/><path d="M1071.0,2579.6 L1082.1,2587.9" stroke-width="2.5"/><path d="M1242.6,2572.1 L1232.5,2568.6" stroke-width="2.1"/><path d="M1221.6,2552.6 L1224.0,2555.1" stroke-width="3.2"/><path d="M1284.8,2625.8 L1284.6,2615.5" stroke-width="3.0"/><path d="M1323.7,2616.1 L1324.5,2604.4" stroke-width="1.6"/><path d="M1281.5,2677.3 L1296.3,2688.0" stroke-width="2.5"/><path d="M1294.7,2720.6 L1297.7,2712.2" stroke-width="2.6"/><path d="M1296.8,2709.5 L1294.4,2702.8" stroke-width="3.5"/><path d="M1559.9,2665.3 L1549.0,2668.7" stroke-width="3.6"/><path d="M1566.6,2684.7 L1556.3,2686.4" stroke-width="1.9"/><path d="M1541.1,2669.1 L1541.7,2669.9" stroke-width="3.2"/><path d="M1550.0,2697.3 L1554.6,2688.2" stroke-width="2.4"/><path d="M1638.6,2682.3 L1652.8,2673.6" stroke-width="1.9"/><path d="M1653.8,2669.6 L1651.3,2663.3" stroke-width="3.5"/><path d="M1618.1,2689.0 L1627.3,2685.7" stroke-width="3.8"/><path d="M1625.5,2639.5 L1616.4,2653.7" stroke-width="2.3"/><path d="M1666.3,2648.6 L1651.3,2661.1" stroke-width="2.8"/><path d="M1625.7,2599.3 L1621.3,2599.4" stroke-width="1.8"/><path d="M1619.8,2564.8 L1617.7,2569.7" stroke-width="2.1"/><path d="M1615.9,2623.0 L1611.8,2616.1" stroke-width="2.2"/><path d="M1603.3,2611.5 L1607.7,2611.8" stroke-width="2.5"/><path d="M1600.6,2612.5 L1592.1,2621.0" stroke-width="3.3"/><path d="M1618.8,2599.6 L1611.5,2609.3" stroke-width="1.7"/><path d="M1608.4,2589.4 L1598.2,2590.8" stroke-width="3.6"/><path d="M1593.3,2596.3 L1595.8,2592.5" stroke-width="3.0"/><path d="M1595.1,2600.3 L1599.3,2607.2" stroke-width="1.8"/><path d="M1579.4,2608.3 L1583.4,2600.3" stroke-width="3.0"/><path d="M1247.3,2218.6 L1260.3,2219.3" stroke-width="2.6"/><path d="M1244.1,2199.7 L1253.9,2194.3" stroke-width="1.8"/><path d="M1258.7,2192.3 L1264.9,2209.7" stroke-width="2.7"/><path d="M1265.4,2215.6 L1265.9,2213.7" stroke-width="3.4"/><path d="M1223.8,2189.5 L1227.1,2195.7" stroke-width="3.2"/><path d="M1260.3,2186.3 L1258.7,2191.0" stroke-width="3.0"/><path d="M1263.7,2184.6 L1274.2,2186.4" stroke-width="3.7"/><path d="M1277.7,2189.9 L1284.7,2200.6" stroke-width="2.3"/><path d="M1298.0,2197.5 L1288.6,2203.6" stroke-width="3.2"/><path d="M1287.9,2203.4 L1286.9,2203.1" stroke-width="2.1"/><path d="M1161.8,2112.9 L1165.2,2121.9" stroke-width="1.6"/><path d="M1155.9,2110.3 L1143.4,2111.5" stroke-width="2.1"/><path d="M1145.6,2130.2 L1135.9,2122.6" stroke-width="2.4"/><path d="M1135.0,2120.9 L1139.7,2112.1" stroke-width="3.0"/><path d="M1135.5,2098.3 L1138.9,2108.9" stroke-width="2.8"/><path d="M1145.8,2142.9 L1146.4,2134.8" stroke-width="1.9"/><path d="M1125.4,2124.8 L1133.9,2121.9" stroke-width="2.4"/><path d="M1191.7,2208.6 L1195.4,2198.1" stroke-width="3.1"/><path d="M1195.8,2163.5 L1193.4,2163.1" stroke-width="3.1"/><path d="M1192.9,2162.3 L1185.4,2148.0" stroke-width="3.0"/><path d="M1186.6,2143.7 L1192.3,2136.7" stroke-width="2.3"/><path d="M1197.8,2135.9 L1194.1,2135.9" stroke-width="2.3"/><path d="M1208.7,2123.6 L1200.2,2135.2" stroke-width="3.8"/><path d="M1610.9,2290.0 L1618.7,2299.2" stroke-width="2.6"/><path d="M1619.4,2307.6 L1620.8,2303.7" stroke-width="3.3"/><path d="M1599.3,2317.2 L1598.6,2316.8" stroke-width="3.4"/><path d="M1614.0,2279.8 L1610.4,2288.8" stroke-width="2.0"/><path d="M1603.1,2329.8 L1599.9,2318.8" stroke-width="3.7"/><path d="M1627.1,2324.4 L1621.4,2314.2" stroke-width="3.7"/><path d="M1349.8,2547.4 L1344.1,2550.2" stroke-width="2.7"/><path d="M1455.2,2502.6 L1470.2,2507.4" stroke-width="2.4"/><path d="M1469.1,2526.9 L1472.0,2515.9" stroke-width="2.5"/><path d="M1527.6,2535.7 L1515.7,2534.2" stroke-width="2.7"/><path d="M1450.1,2549.3 L1459.5,2547.2" stroke-width="2.4"/><path d="M1541.1,2541.7 L1553.3,2539.9" stroke-width="2.5"/><path d="M1538.4,2565.3 L1563.4,2551.8" stroke-width="2.7"/><path d="M1558.2,2529.7 L1557.0,2535.6" stroke-width="2.7"/><path d="M1335.0,2601.9 L1340.9,2604.9" stroke-width="2.1"/><path d="M1325.9,2621.0 L1332.0,2625.6" stroke-width="1.8"/><path d="M1358.3,2604.4 L1365.4,2620.0" stroke-width="2.5"/><path d="M1345.4,2625.1 L1353.0,2629.0" stroke-width="1.8"/><path d="M1311.2,2656.8 L1311.1,2645.1" stroke-width="3.6"/><path d="M1307.6,2665.1 L1310.4,2663.5" stroke-width="3.0"/><path d="M1332.7,2673.8 L1330.8,2670.4" stroke-width="3.1"/><path d="M1332.4,2676.7 L1322.7,2688.1" stroke-width="2.0"/><path d="M1333.0,2627.6 L1329.3,2639.1" stroke-width="2.7"/><path d="M1348.6,2647.5 L1339.6,2649.1" stroke-width="2.4"/><path d="M1513.5,2629.5 L1512.5,2619.2" stroke-width="2.8"/><path d="M1514.9,2616.3 L1523.6,2611.7" stroke-width="1.7"/><path d="M1468.1,2623.5 L1467.2,2619.3" stroke-width="3.7"/><path d="M1511.8,2634.4 L1505.2,2638.6" stroke-width="2.4"/><path d="M1497.7,2611.5 L1496.1,2612.8" stroke-width="3.0"/><path d="M1471.3,2599.7 L1472.0,2611.5" stroke-width="3.5"/><path d="M1446.6,2614.0 L1444.0,2603.9" stroke-width="3.3"/><path d="M1485.0,2676.1 L1490.2,2663.2" stroke-width="2.3"/><path d="M1485.4,2678.3 L1498.0,2683.9" stroke-width="2.4"/><path d="M1510.6,2661.8 L1508.2,2660.5" stroke-width="3.3"/><path d="M1462.5,2658.1 L1462.8,2670.8" stroke-width="2.0"/><path d="M1463.6,2654.9 L1477.0,2650.6" stroke-width="2.9"/><path d="M1480.5,2650.9 L1490.2,2662.3" stroke-width="3.4"/><path d="M1501.5,2699.1 L1500.1,2687.2" stroke-width="3.1"/><path d="M1522.0,2689.2 L1515.3,2678.8" stroke-width="3.2"/><path d="M1369.8,2619.1 L1377.6,2612.2" stroke-width="3.0"/><path d="M1321.1,2690.4 L1323.4,2699.6" stroke-width="1.9"/><path d="M1301.1,2711.8 L1312.1,2711.0" stroke-width="2.6"/><path d="M1318.6,2708.3 L1322.2,2701.7" stroke-width="2.8"/><path d="M1307.6,2740.1 L1320.9,2724.7" stroke-width="3.6"/><path d="M1334.5,2675.7 L1345.0,2678.4" stroke-width="2.1"/><path d="M1362.5,2655.7 L1362.6,2657.5" stroke-width="2.3"/><path d="M1360.9,2653.8 L1354.2,2646.7" stroke-width="3.7"/><path d="M1352.1,2698.0 L1362.5,2707.0" stroke-width="1.8"/><path d="M1356.7,2720.0 L1365.5,2712.0" stroke-width="1.8"/><path d="M1380.7,2715.2 L1371.8,2711.0" stroke-width="3.4"/><path d="M1383.9,2711.9 L1396.6,2694.6" stroke-width="1.9"/><path d="M1371.1,2703.4 L1373.1,2686.7" stroke-width="2.1"/><path d="M1394.4,2690.9 L1380.7,2684.4" stroke-width="3.4"/><path d="M1400.4,2693.2 L1404.0,2695.0" stroke-width="2.2"/><path d="M1353.0,2684.5 L1369.3,2686.1" stroke-width="3.3"/><path d="M1365.9,2660.9 L1375.8,2670.1" stroke-width="2.6"/><path d="M1377.9,2674.7 L1377.7,2681.7" stroke-width="3.3"/><path d="M1172.0,2296.2 L1169.0,2310.4" stroke-width="1.6"/><path d="M1174.1,2289.5 L1173.6,2289.8" stroke-width="3.3"/><path d="M1149.5,2282.6 L1150.3,2284.0" stroke-width="1.6"/><path d="M1147.4,2302.0 L1140.8,2307.7" stroke-width="2.1"/><path d="M1138.0,2309.0 L1133.6,2308.4" stroke-width="2.2"/><path d="M1139.7,2310.6 L1144.3,2321.1" stroke-width="1.9"/><path d="M1111.5,2320.0 L1117.4,2320.8" stroke-width="1.9"/><path d="M1129.5,2311.4 L1122.4,2319.8" stroke-width="3.3"/><path d="M1302.9,2173.2 L1296.0,2177.5" stroke-width="2.5"/><path d="M1283.1,2160.0 L1285.8,2154.8" stroke-width="2.4"/><path d="M1283.6,2166.1 L1288.1,2174.3" stroke-width="2.6"/><path d="M1297.9,2191.2 L1295.5,2180.4" stroke-width="3.7"/><path d="M1403.3,2355.1 L1405.0,2365.2" stroke-width="3.3"/><path d="M1398.8,2373.7 L1404.3,2371.1" stroke-width="3.6"/><path d="M1393.0,2382.0 L1396.4,2376.1" stroke-width="1.8"/><path d="M1350.1,2338.0 L1350.6,2343.0" stroke-width="2.7"/><path d="M1337.4,2349.1 L1350.6,2345.3" stroke-width="3.4"/><path d="M1566.9,2352.5 L1571.2,2353.1" stroke-width="3.1"/><path d="M1572.1,2375.5 L1553.7,2376.4" stroke-width="3.3"/><path d="M1549.0,2363.9 L1549.8,2372.7" stroke-width="2.7"/><path d="M1577.3,2349.7 L1573.7,2352.1" stroke-width="2.3"/><path d="M1578.9,2379.6 L1575.6,2376.3" stroke-width="3.2"/><path d="M1534.7,2379.3 L1548.2,2374.2" stroke-width="2.4"/><path d="M1180.2,2401.6 L1181.4,2411.8" stroke-width="2.8"/><path d="M1188.9,2492.5 L1187.3,2493.7" stroke-width="2.8"/><path d="M1273.8,2314.5 L1281.0,2323.7" stroke-width="1.8"/><path d="M1252.8,2296.9 L1253.1,2311.0" stroke-width="1.8"/><path d="M1165.1,2337.4 L1154.0,2348.7" stroke-width="1.9"/><path d="M1188.7,2368.1 L1183.8,2378.1" stroke-width="1.7"/><path d="M1173.8,2358.7 L1162.6,2367.3" stroke-width="1.7"/><path d="M1167.1,2376.8 L1162.2,2370.5" stroke-width="2.9"/><path d="M1193.4,2338.8 L1197.6,2351.7" stroke-width="2.8"/><path d="M1152.1,2354.7 L1161.8,2367.6" stroke-width="3.0"/><path d="M1146.3,2378.4 L1158.1,2371.7" stroke-width="2.5"/><path d="M1195.2,2671.1 L1193.9,2667.9" stroke-width="3.6"/><path d="M1592.5,2568.7 L1590.9,2572.0" stroke-width="2.5"/><path d="M1587.6,2574.2 L1575.1,2579.0" stroke-width="2.4"/><path d="M1576.6,2551.1 L1568.3,2553.2" stroke-width="1.7"/><path d="M1567.1,2558.0 L1566.5,2572.3" stroke-width="3.6"/><path d="M1601.7,2547.3 L1591.4,2556.3" stroke-width="3.4"/><path d="M1572.0,2587.5 L1572.1,2581.1" stroke-width="3.3"/><path d="M1580.9,2529.4 L1578.4,2549.0" stroke-width="2.4"/><path d="M1564.0,2552.0 L1566.4,2553.1" stroke-width="1.8"/><path d="M1353.7,2546.6 L1360.4,2550.1" stroke-width="2.5"/><path d="M1378.1,2591.4 L1383.7,2585.7" stroke-width="3.1"/><path d="M1494.1,2476.7 L1505.9,2479.2" stroke-width="3.7"/><path d="M1478.2,2494.8 L1488.3,2492.6" stroke-width="2.0"/><path d="M1479.2,2511.8 L1489.7,2512.4" stroke-width="3.5"/><path d="M1493.7,2512.4 L1500.3,2506.6" stroke-width="2.5"/><path d="M1489.5,2472.9 L1491.1,2475.2" stroke-width="1.6"/><path d="M1473.0,2567.1 L1475.2,2561.8" stroke-width="1.7"/><path d="M1473.2,2567.9 L1484.0,2582.5" stroke-width="1.7"/><path d="M1492.8,2587.4 L1487.1,2586.5" stroke-width="3.2"/><path d="M1494.7,2536.1 L1510.0,2537.7" stroke-width="1.8"/><path d="M1492.3,2535.9 L1489.0,2537.6" stroke-width="3.1"/><path d="M1488.9,2538.2 L1485.3,2552.1" stroke-width="2.8"/><path d="M1512.4,2555.9 L1505.9,2564.5" stroke-width="3.4"/><path d="M1493.4,2513.8 L1492.6,2529.8" stroke-width="2.5"/><path d="M1477.9,2559.5 L1483.1,2556.3" stroke-width="3.8"/><path d="M1524.7,2578.3 L1536.3,2568.3" stroke-width="2.7"/><path d="M1541.0,2569.8 L1547.2,2577.0" stroke-width="2.4"/><path d="M1553.9,2603.7 L1547.3,2599.3" stroke-width="3.5"/><path d="M1526.0,2610.3 L1529.5,2602.0" stroke-width="1.7"/><path d="M1382.6,2669.4 L1396.3,2661.5" stroke-width="1.8"/><path d="M1129.8,2437.3 L1132.1,2437.7" stroke-width="3.1"/><path d="M1148.1,2431.2 L1156.1,2440.4" stroke-width="2.3"/><path d="M1170.3,2425.9 L1173.5,2434.2" stroke-width="2.9"/><path d="M1135.5,2435.8 L1144.9,2430.1" stroke-width="3.3"/><path d="M1151.8,2455.8 L1142.3,2454.9" stroke-width="2.8"/><path d="M1154.0,2452.9 L1158.0,2444.6" stroke-width="2.9"/><path d="M1250.8,2318.2 L1249.6,2325.9" stroke-width="2.6"/><path d="M1229.8,2296.6 L1228.8,2305.8" stroke-width="3.0"/><path d="M1252.7,2315.7 L1251.0,2317.6" stroke-width="3.1"/><path d="M1257.8,2337.9 L1250.3,2329.6" stroke-width="3.7"/><path d="M1156.6,2628.9 L1164.6,2639.9" stroke-width="3.8"/><path d="M1190.4,2666.5 L1183.2,2664.9" stroke-width="2.1"/><path d="M1416.4,2592.9 L1416.2,2594.5" stroke-width="3.7"/><path d="M1439.2,2602.2 L1424.0,2600.9" stroke-width="2.9"/><path d="M1393.9,2651.3 L1387.5,2645.4" stroke-width="3.2"/><path d="M1395.4,2615.7 L1397.2,2619.8" stroke-width="3.5"/><path d="M1384.7,2636.2 L1396.7,2623.4" stroke-width="3.1"/><path d="M1435.5,2662.5 L1453.7,2649.4" stroke-width="3.2"/><path d="M1424.9,2669.4 L1429.2,2664.4" stroke-width="3.2"/><path d="M1432.8,2663.6 L1431.1,2663.5" stroke-width="1.7"/><path d="M1465.3,2628.4 L1457.5,2638.9" stroke-width="3.7"/><path d="M1453.2,2645.7 L1454.0,2648.4" stroke-width="1.8"/><path d="M1185.5,2447.0 L1196.2,2448.1" stroke-width="2.8"/><path d="M1203.9,2466.5 L1194.9,2470.8" stroke-width="2.5"/><path d="M1163.7,2488.6 L1168.2,2487.0" stroke-width="2.7"/><path d="M1153.9,2458.0 L1156.3,2461.6" stroke-width="1.7"/><path d="M1452.3,2644.4 L1446.9,2640.0" stroke-width="3.2"/><path d="M1413.3,2641.7 L1406.3,2627.9" stroke-width="3.1"/><path d="M1414.5,2644.0 L1420.2,2644.7" stroke-width="3.0"/><path d="M1405.5,2622.9 L1416.1,2617.5" stroke-width="3.7"/><path d="M1420.3,2616.6 L1426.2,2621.1" stroke-width="2.7"/></g>
<g fill="none" stroke="#a888aa" opacity="0.75" filter="url(#wob2)"><path d="M1024,2490 C1050,2450 1080,2400 1130,2335" stroke-width="3.9"/><path d="M1024,2520 C1055,2470 1090,2420 1120,2380" stroke-width="5.2"/><path d="M1453,2192 C1490,2170 1530,2150 1568,2131" stroke-width="5.0"/><path d="M1460,2205 C1500,2185 1540,2170 1580,2150" stroke-width="3.2"/><path d="M1590,2300 C1630,2280 1670,2265 1704,2250" stroke-width="3.2"/><path d="M1290,2713 C1330,2690 1380,2665 1430,2655 C1460,2650 1490,2645 1520,2640" stroke-width="3.4"/><path d="M1600,2713 C1640,2690 1680,2665 1704,2650" stroke-width="5.2"/><path d="M1024,2600 C1050,2610 1080,2630 1100,2660" stroke-width="3.9"/><path d="M1300,2300 C1330,2320 1360,2330 1390,2360" stroke-width="3.1"/></g>
<g fill="#f3eef6" opacity="0.93" filter="url(#wob)"><ellipse cx="1460.5" cy="2607.6" rx="13.3" ry="10.4" transform="rotate(150 1460.5 2607.6)"/><ellipse cx="1445.8" cy="2196.0" rx="9.7" ry="8.1" transform="rotate(93 1445.8 2196.0)"/><ellipse cx="1047.5" cy="2214.6" rx="10.6" ry="8.9" transform="rotate(125 1047.5 2214.6)"/><ellipse cx="1285.4" cy="2136.2" rx="9.8" ry="7.8" transform="rotate(88 1285.4 2136.2)"/><ellipse cx="1245.7" cy="2714.8" rx="9.5" ry="7.9" transform="rotate(114 1245.7 2714.8)"/><ellipse cx="1530.7" cy="2172.3" rx="13.2" ry="10.2" transform="rotate(109 1530.7 2172.3)"/><ellipse cx="1073.9" cy="2119.4" rx="13.0" ry="11.4" transform="rotate(21 1073.9 2119.4)"/><ellipse cx="1512.4" cy="2253.9" rx="12.5" ry="10.7" transform="rotate(63 1512.4 2253.9)"/><ellipse cx="1597.7" cy="2480.0" rx="11.0" ry="8.7" transform="rotate(156 1597.7 2480.0)"/><ellipse cx="1203.6" cy="2681.5" rx="12.1" ry="11.2" transform="rotate(134 1203.6 2681.5)"/><ellipse cx="1148.1" cy="2098.7" rx="12.7" ry="8.8" transform="rotate(139 1148.1 2098.7)"/><ellipse cx="1098.3" cy="2112.0" rx="10.3" ry="8.0" transform="rotate(120 1098.3 2112.0)"/><ellipse cx="1657.7" cy="2571.6" rx="12.2" ry="10.6" transform="rotate(14 1657.7 2571.6)"/><ellipse cx="1631.4" cy="2358.9" rx="13.4" ry="11.9" transform="rotate(24 1631.4 2358.9)"/><ellipse cx="1446.8" cy="2146.5" rx="10.9" ry="8.3" transform="rotate(83 1446.8 2146.5)"/><ellipse cx="1462.2" cy="2733.0" rx="13.0" ry="11.3" transform="rotate(178 1462.2 2733.0)"/><ellipse cx="1003.4" cy="2287.8" rx="11.3" ry="10.5" transform="rotate(19 1003.4 2287.8)"/><ellipse cx="1667.3" cy="2664.1" rx="10.3" ry="9.3" transform="rotate(132 1667.3 2664.1)"/><ellipse cx="1611.9" cy="2636.3" rx="10.3" ry="7.9" transform="rotate(8 1611.9 2636.3)"/><ellipse cx="1462.3" cy="2513.0" rx="13.5" ry="9.7" transform="rotate(96 1462.3 2513.0)"/><ellipse cx="1663.6" cy="2149.0" rx="9.6" ry="6.8" transform="rotate(113 1663.6 2149.0)"/><ellipse cx="1523.5" cy="2225.1" rx="13.4" ry="10.4" transform="rotate(121 1523.5 2225.1)"/><ellipse cx="1709.1" cy="2436.7" rx="12.4" ry="10.5" transform="rotate(170 1709.1 2436.7)"/><ellipse cx="1688.9" cy="2405.2" rx="13.5" ry="12.3" transform="rotate(108 1688.9 2405.2)"/><ellipse cx="1617.7" cy="2676.6" rx="10.9" ry="10.3" transform="rotate(5 1617.7 2676.6)"/><ellipse cx="1419.9" cy="2223.2" rx="12.3" ry="9.0" transform="rotate(71 1419.9 2223.2)"/><ellipse cx="1454.1" cy="2688.6" rx="13.3" ry="9.8" transform="rotate(13 1454.1 2688.6)"/><ellipse cx="1368.3" cy="2253.3" rx="10.7" ry="7.7" transform="rotate(10 1368.3 2253.3)"/><ellipse cx="1609.7" cy="2364.8" rx="12.8" ry="11.2" transform="rotate(27 1609.7 2364.8)"/><ellipse cx="1558.0" cy="2297.9" rx="12.1" ry="9.9" transform="rotate(111 1558.0 2297.9)"/><ellipse cx="1370.6" cy="2727.4" rx="10.6" ry="7.6" transform="rotate(172 1370.6 2727.4)"/><ellipse cx="1558.3" cy="2581.6" rx="10.3" ry="7.4" transform="rotate(60 1558.3 2581.6)"/><ellipse cx="1003.1" cy="2321.9" rx="12.0" ry="9.5" transform="rotate(111 1003.1 2321.9)"/><ellipse cx="1484.7" cy="2461.3" rx="11.7" ry="9.7" transform="rotate(57 1484.7 2461.3)"/><ellipse cx="1275.7" cy="2154.0" rx="12.1" ry="8.6" transform="rotate(28 1275.7 2154.0)"/><ellipse cx="1705.7" cy="2455.6" rx="9.5" ry="7.7" transform="rotate(142 1705.7 2455.6)"/><ellipse cx="1690.7" cy="2358.9" rx="11.7" ry="9.9" transform="rotate(164 1690.7 2358.9)"/><ellipse cx="1177.0" cy="2322.1" rx="10.9" ry="9.4" transform="rotate(11 1177.0 2322.1)"/><ellipse cx="1643.2" cy="2269.9" rx="11.2" ry="8.6" transform="rotate(118 1643.2 2269.9)"/><ellipse cx="1538.4" cy="2729.4" rx="11.5" ry="10.8" transform="rotate(58 1538.4 2729.4)"/><ellipse cx="1080.3" cy="2207.3" rx="12.9" ry="10.5" transform="rotate(101 1080.3 2207.3)"/><ellipse cx="1597.5" cy="2397.1" rx="9.9" ry="7.4" transform="rotate(135 1597.5 2397.1)"/><ellipse cx="1634.0" cy="2422.1" rx="10.5" ry="9.0" transform="rotate(82 1634.0 2422.1)"/><ellipse cx="1111.3" cy="2626.7" rx="11.2" ry="10.1" transform="rotate(12 1111.3 2626.7)"/><ellipse cx="1409.0" cy="2562.5" rx="12.8" ry="11.2" transform="rotate(120 1409.0 2562.5)"/><ellipse cx="1063.0" cy="2182.4" rx="11.1" ry="7.9" transform="rotate(21 1063.0 2182.4)"/><ellipse cx="1657.9" cy="2439.7" rx="9.7" ry="7.0" transform="rotate(158 1657.9 2439.7)"/><ellipse cx="1416.7" cy="2624.6" rx="11.5" ry="8.9" transform="rotate(132 1416.7 2624.6)"/><ellipse cx="1002.2" cy="2250.7" rx="12.4" ry="10.3" transform="rotate(139 1002.2 2250.7)"/><ellipse cx="1460.0" cy="2218.1" rx="10.6" ry="9.9" transform="rotate(13 1460.0 2218.1)"/><ellipse cx="1097.2" cy="2536.9" rx="12.8" ry="9.3" transform="rotate(61 1097.2 2536.9)"/><ellipse cx="1439.2" cy="2272.0" rx="11.7" ry="8.3" transform="rotate(31 1439.2 2272.0)"/><ellipse cx="1446.2" cy="2240.1" rx="9.6" ry="9.0" transform="rotate(141 1446.2 2240.1)"/><ellipse cx="1133.9" cy="2189.9" rx="10.3" ry="7.7" transform="rotate(23 1133.9 2189.9)"/><ellipse cx="1027.9" cy="2242.4" rx="11.6" ry="10.0" transform="rotate(148 1027.9 2242.4)"/><ellipse cx="1163.9" cy="2253.0" rx="13.1" ry="11.6" transform="rotate(4 1163.9 2253.0)"/><ellipse cx="1338.0" cy="2690.2" rx="12.0" ry="8.9" transform="rotate(105 1338.0 2690.2)"/><ellipse cx="1491.7" cy="2648.3" rx="9.9" ry="8.9" transform="rotate(120 1491.7 2648.3)"/><ellipse cx="1149.1" cy="2341.7" rx="9.5" ry="8.6" transform="rotate(156 1149.1 2341.7)"/><ellipse cx="1520.1" cy="2357.0" rx="11.0" ry="7.9" transform="rotate(147 1520.1 2357.0)"/><ellipse cx="1114.2" cy="2347.9" rx="11.4" ry="10.6" transform="rotate(141 1114.2 2347.9)"/><ellipse cx="1509.0" cy="2103.2" rx="10.8" ry="10.1" transform="rotate(146 1509.0 2103.2)"/><ellipse cx="1166.9" cy="2094.5" rx="10.8" ry="8.0" transform="rotate(69 1166.9 2094.5)"/><ellipse cx="1452.4" cy="2631.6" rx="13.0" ry="9.0" transform="rotate(29 1452.4 2631.6)"/><ellipse cx="1462.7" cy="2346.1" rx="11.7" ry="8.2" transform="rotate(74 1462.7 2346.1)"/><ellipse cx="1683.4" cy="2730.6" rx="10.7" ry="8.5" transform="rotate(175 1683.4 2730.6)"/><ellipse cx="1575.5" cy="2569.8" rx="11.2" ry="8.3" transform="rotate(97 1575.5 2569.8)"/><ellipse cx="1540.3" cy="2290.5" rx="9.6" ry="8.9" transform="rotate(33 1540.3 2290.5)"/><ellipse cx="1664.7" cy="2605.7" rx="10.0" ry="9.4" transform="rotate(93 1664.7 2605.7)"/><ellipse cx="1695.1" cy="2106.3" rx="10.3" ry="9.3" transform="rotate(1 1695.1 2106.3)"/><ellipse cx="1710.5" cy="2729.9" rx="9.7" ry="8.0" transform="rotate(23 1710.5 2729.9)"/><ellipse cx="1217.1" cy="2719.3" rx="12.5" ry="10.3" transform="rotate(94 1217.1 2719.3)"/><ellipse cx="1549.0" cy="2407.3" rx="10.8" ry="9.7" transform="rotate(160 1549.0 2407.3)"/><ellipse cx="1185.9" cy="2267.3" rx="12.4" ry="10.5" transform="rotate(71 1185.9 2267.3)"/><ellipse cx="1635.8" cy="2400.4" rx="12.3" ry="10.7" transform="rotate(167 1635.8 2400.4)"/><ellipse cx="1487.0" cy="2691.0" rx="12.5" ry="10.1" transform="rotate(2 1487.0 2691.0)"/><ellipse cx="1612.9" cy="2318.8" rx="11.9" ry="10.4" transform="rotate(116 1612.9 2318.8)"/><ellipse cx="1244.5" cy="2186.4" rx="11.6" ry="10.3" transform="rotate(70 1244.5 2186.4)"/><ellipse cx="1502.4" cy="2329.3" rx="10.7" ry="7.5" transform="rotate(23 1502.4 2329.3)"/><ellipse cx="1099.3" cy="2404.9" rx="12.5" ry="9.0" transform="rotate(136 1099.3 2404.9)"/><ellipse cx="1064.2" cy="2423.9" rx="12.6" ry="9.6" transform="rotate(130 1064.2 2423.9)"/><ellipse cx="1594.5" cy="2102.5" rx="10.3" ry="7.2" transform="rotate(97 1594.5 2102.5)"/><ellipse cx="1526.7" cy="2708.7" rx="12.9" ry="11.6" transform="rotate(160 1526.7 2708.7)"/><ellipse cx="1587.2" cy="2606.5" rx="13.1" ry="9.9" transform="rotate(83 1587.2 2606.5)"/><ellipse cx="1055.0" cy="2265.3" rx="11.5" ry="9.7" transform="rotate(71 1055.0 2265.3)"/><ellipse cx="1564.8" cy="2382.3" rx="11.0" ry="7.9" transform="rotate(57 1564.8 2382.3)"/><ellipse cx="1500.2" cy="2624.1" rx="12.5" ry="10.0" transform="rotate(10 1500.2 2624.1)"/><ellipse cx="1384.7" cy="2599.1" rx="10.2" ry="9.5" transform="rotate(97 1384.7 2599.1)"/><ellipse cx="1426.3" cy="2200.1" rx="13.2" ry="11.4" transform="rotate(122 1426.3 2200.1)"/><ellipse cx="1669.7" cy="2209.6" rx="13.4" ry="11.7" transform="rotate(24 1669.7 2209.6)"/><ellipse cx="1507.6" cy="2686.0" rx="11.4" ry="7.9" transform="rotate(110 1507.6 2686.0)"/><ellipse cx="1001.4" cy="2299.3" rx="12.6" ry="9.8" transform="rotate(89 1001.4 2299.3)"/><ellipse cx="1500.7" cy="2192.7" rx="11.7" ry="10.2" transform="rotate(144 1500.7 2192.7)"/><ellipse cx="1494.8" cy="2718.5" rx="11.3" ry="7.9" transform="rotate(164 1494.8 2718.5)"/><ellipse cx="1145.1" cy="2120.3" rx="11.8" ry="10.9" transform="rotate(23 1145.1 2120.3)"/><ellipse cx="1618.4" cy="2339.6" rx="9.9" ry="7.8" transform="rotate(85 1618.4 2339.6)"/><ellipse cx="1593.7" cy="2687.7" rx="10.7" ry="8.6" transform="rotate(165 1593.7 2687.7)"/><ellipse cx="1380.7" cy="2623.2" rx="11.0" ry="7.7" transform="rotate(164 1380.7 2623.2)"/><ellipse cx="1464.3" cy="2190.9" rx="11.0" ry="9.6" transform="rotate(47 1464.3 2190.9)"/><ellipse cx="1042.0" cy="2529.1" rx="11.5" ry="9.4" transform="rotate(49 1042.0 2529.1)"/><ellipse cx="1631.5" cy="2566.9" rx="10.0" ry="8.8" transform="rotate(28 1631.5 2566.9)"/><ellipse cx="1431.0" cy="2129.1" rx="12.2" ry="10.9" transform="rotate(121 1431.0 2129.1)"/><ellipse cx="1107.1" cy="2139.1" rx="10.5" ry="9.9" transform="rotate(14 1107.1 2139.1)"/><ellipse cx="1047.2" cy="2386.9" rx="9.8" ry="8.0" transform="rotate(179 1047.2 2386.9)"/><ellipse cx="1715.4" cy="2483.8" rx="9.9" ry="7.7" transform="rotate(37 1715.4 2483.8)"/><ellipse cx="1413.4" cy="2107.8" rx="10.9" ry="7.8" transform="rotate(149 1413.4 2107.8)"/><ellipse cx="1101.7" cy="2270.1" rx="9.6" ry="7.4" transform="rotate(136 1101.7 2270.1)"/><ellipse cx="1631.4" cy="2508.8" rx="12.0" ry="10.4" transform="rotate(152 1631.4 2508.8)"/><ellipse cx="1253.7" cy="2204.3" rx="11.5" ry="10.3" transform="rotate(6 1253.7 2204.3)"/><ellipse cx="1277.6" cy="2735.4" rx="11.0" ry="9.9" transform="rotate(6 1277.6 2735.4)"/><ellipse cx="1672.8" cy="2493.8" rx="10.6" ry="8.0" transform="rotate(165 1672.8 2493.8)"/><ellipse cx="1481.0" cy="2205.0" rx="11.8" ry="10.1" transform="rotate(60 1481.0 2205.0)"/><ellipse cx="1669.3" cy="2587.1" rx="10.9" ry="8.7" transform="rotate(118 1669.3 2587.1)"/><ellipse cx="997.9" cy="2172.5" rx="11.2" ry="8.0" transform="rotate(67 997.9 2172.5)"/><ellipse cx="1692.8" cy="2537.5" rx="9.7" ry="8.1" transform="rotate(81 1692.8 2537.5)"/><ellipse cx="1056.0" cy="2634.1" rx="11.4" ry="10.2" transform="rotate(143 1056.0 2634.1)"/><ellipse cx="1286.6" cy="2192.3" rx="10.9" ry="9.3" transform="rotate(53 1286.6 2192.3)"/><ellipse cx="1590.0" cy="2634.4" rx="12.6" ry="10.0" transform="rotate(155 1590.0 2634.4)"/><ellipse cx="1555.0" cy="2348.7" rx="10.1" ry="8.7" transform="rotate(57 1555.0 2348.7)"/><ellipse cx="1441.9" cy="2226.9" rx="10.0" ry="8.9" transform="rotate(91 1441.9 2226.9)"/><ellipse cx="1510.3" cy="2646.7" rx="13.3" ry="9.7" transform="rotate(150 1510.3 2646.7)"/><ellipse cx="1567.3" cy="2414.5" rx="10.7" ry="7.5" transform="rotate(150 1567.3 2414.5)"/><ellipse cx="1429.9" cy="2589.4" rx="11.9" ry="9.0" transform="rotate(53 1429.9 2589.4)"/><ellipse cx="1489.6" cy="2256.0" rx="12.1" ry="10.3" transform="rotate(42 1489.6 2256.0)"/><ellipse cx="1032.1" cy="2383.2" rx="10.1" ry="9.2" transform="rotate(150 1032.1 2383.2)"/><ellipse cx="1594.5" cy="2383.1" rx="12.5" ry="9.6" transform="rotate(162 1594.5 2383.1)"/><ellipse cx="1707.5" cy="2674.9" rx="12.7" ry="9.5" transform="rotate(44 1707.5 2674.9)"/><ellipse cx="1388.8" cy="2566.2" rx="9.7" ry="8.4" transform="rotate(133 1388.8 2566.2)"/><ellipse cx="1133.8" cy="2378.6" rx="12.7" ry="11.3" transform="rotate(136 1133.8 2378.6)"/><ellipse cx="1041.6" cy="2469.9" rx="10.9" ry="7.8" transform="rotate(17 1041.6 2469.9)"/><ellipse cx="1721.5" cy="2152.3" rx="12.8" ry="9.1" transform="rotate(75 1721.5 2152.3)"/><ellipse cx="1531.2" cy="2502.5" rx="11.5" ry="10.8" transform="rotate(119 1531.2 2502.5)"/><ellipse cx="1562.5" cy="2733.6" rx="12.4" ry="8.8" transform="rotate(149 1562.5 2733.6)"/><ellipse cx="1673.4" cy="2298.4" rx="11.1" ry="10.0" transform="rotate(13 1673.4 2298.4)"/><ellipse cx="1552.4" cy="2662.8" rx="10.9" ry="9.6" transform="rotate(20 1552.4 2662.8)"/><ellipse cx="1625.0" cy="2379.8" rx="10.5" ry="8.2" transform="rotate(62 1625.0 2379.8)"/><ellipse cx="1462.4" cy="2479.4" rx="13.0" ry="9.7" transform="rotate(38 1462.4 2479.4)"/><ellipse cx="1458.0" cy="2146.6" rx="10.8" ry="9.4" transform="rotate(69 1458.0 2146.6)"/><ellipse cx="1120.0" cy="2411.5" rx="13.0" ry="10.5" transform="rotate(27 1120.0 2411.5)"/><ellipse cx="1036.6" cy="2089.1" rx="11.3" ry="8.3" transform="rotate(158 1036.6 2089.1)"/><ellipse cx="1039.1" cy="2354.0" rx="11.7" ry="8.1" transform="rotate(143 1039.1 2354.0)"/><ellipse cx="1042.8" cy="2704.8" rx="11.4" ry="8.0" transform="rotate(145 1042.8 2704.8)"/><ellipse cx="1580.8" cy="2312.8" rx="9.7" ry="8.5" transform="rotate(115 1580.8 2312.8)"/><ellipse cx="1499.5" cy="2089.7" rx="10.1" ry="7.7" transform="rotate(54 1499.5 2089.7)"/><ellipse cx="1352.2" cy="2609.7" rx="11.8" ry="9.4" transform="rotate(43 1352.2 2609.7)"/><ellipse cx="1136.0" cy="2586.0" rx="12.0" ry="8.7" transform="rotate(17 1136.0 2586.0)"/><ellipse cx="1525.7" cy="2423.7" rx="11.4" ry="9.8" transform="rotate(152 1525.7 2423.7)"/><ellipse cx="1653.1" cy="2381.8" rx="10.2" ry="8.8" transform="rotate(131 1653.1 2381.8)"/><ellipse cx="1710.7" cy="2362.4" rx="10.1" ry="7.7" transform="rotate(83 1710.7 2362.4)"/><ellipse cx="1326.9" cy="2246.5" rx="10.3" ry="7.7" transform="rotate(131 1326.9 2246.5)"/><ellipse cx="1570.6" cy="2119.2" rx="12.8" ry="9.4" transform="rotate(122 1570.6 2119.2)"/><ellipse cx="1033.3" cy="2510.2" rx="10.4" ry="9.0" transform="rotate(132 1033.3 2510.2)"/><ellipse cx="1720.7" cy="2571.0" rx="13.4" ry="10.3" transform="rotate(135 1720.7 2571.0)"/><ellipse cx="1080.7" cy="2409.9" rx="10.4" ry="8.9" transform="rotate(151 1080.7 2409.9)"/><ellipse cx="1318.7" cy="2630.4" rx="11.8" ry="11.0" transform="rotate(16 1318.7 2630.4)"/><ellipse cx="1134.4" cy="2229.8" rx="13.4" ry="11.4" transform="rotate(85 1134.4 2229.8)"/><ellipse cx="1017.9" cy="2266.2" rx="10.8" ry="9.0" transform="rotate(94 1017.9 2266.2)"/><ellipse cx="1627.1" cy="2172.0" rx="11.9" ry="8.5" transform="rotate(59 1627.1 2172.0)"/><ellipse cx="1478.7" cy="2177.3" rx="10.6" ry="9.7" transform="rotate(145 1478.7 2177.3)"/><ellipse cx="1027.8" cy="2366.1" rx="10.0" ry="7.6" transform="rotate(132 1027.8 2366.1)"/><ellipse cx="998.2" cy="2664.2" rx="10.5" ry="9.2" transform="rotate(12 998.2 2664.2)"/><ellipse cx="996.2" cy="2228.7" rx="10.5" ry="8.4" transform="rotate(47 996.2 2228.7)"/><ellipse cx="1454.9" cy="2401.5" rx="10.6" ry="8.4" transform="rotate(167 1454.9 2401.5)"/><ellipse cx="1022.5" cy="2342.1" rx="11.5" ry="10.7" transform="rotate(67 1022.5 2342.1)"/><ellipse cx="1234.6" cy="2159.1" rx="12.4" ry="8.6" transform="rotate(97 1234.6 2159.1)"/><ellipse cx="1570.3" cy="2605.2" rx="9.5" ry="7.2" transform="rotate(6 1570.3 2605.2)"/><ellipse cx="1020.3" cy="2526.9" rx="9.6" ry="6.8" transform="rotate(111 1020.3 2526.9)"/><ellipse cx="1114.7" cy="2307.6" rx="13.0" ry="10.7" transform="rotate(14 1114.7 2307.6)"/><ellipse cx="1078.2" cy="2330.1" rx="12.2" ry="10.5" transform="rotate(94 1078.2 2330.1)"/><ellipse cx="1191.5" cy="2246.8" rx="11.0" ry="9.9" transform="rotate(43 1191.5 2246.8)"/><ellipse cx="1545.0" cy="2548.5" rx="12.7" ry="9.9" transform="rotate(129 1545.0 2548.5)"/></g>
<g opacity="0.93" filter="url(#wob)"><ellipse cx="1329" cy="2453" rx="10.4" ry="8.1" fill="#2a1d4c" transform="rotate(42 1329 2453)"/><ellipse cx="1674" cy="2392" rx="8.0" ry="7.2" fill="#4c3f70" transform="rotate(168 1674 2392)"/><ellipse cx="1370" cy="2471" rx="8.0" ry="6.5" fill="#41336b" transform="rotate(15 1370 2471)"/><ellipse cx="1134" cy="2422" rx="8.4" ry="6.3" fill="#514373" transform="rotate(176 1134 2422)"/><ellipse cx="1459" cy="2604" rx="11.3" ry="8.6" fill="#514373" transform="rotate(150 1459 2604)"/><ellipse cx="1590" cy="2540" rx="10.5" ry="7.3" fill="#4c3f70" transform="rotate(83 1590 2540)"/><ellipse cx="1030" cy="2726" rx="11.2" ry="8.1" fill="#2a1d4c" transform="rotate(130 1030 2726)"/><ellipse cx="1703" cy="2514" rx="11.2" ry="9.0" fill="#4c3f70" transform="rotate(156 1703 2514)"/><ellipse cx="1448" cy="2193" rx="7.7" ry="6.3" fill="#3c2e64" transform="rotate(93 1448 2193)"/><ellipse cx="1010" cy="2433" rx="10.9" ry="7.2" fill="#514373" transform="rotate(12 1010 2433)"/><ellipse cx="1042" cy="2214" rx="8.6" ry="7.1" fill="#41336b" transform="rotate(125 1042 2214)"/><ellipse cx="1176" cy="2110" rx="9.9" ry="6.6" fill="#2c1f50" transform="rotate(89 1176 2110)"/><ellipse cx="1338" cy="2376" rx="9.1" ry="6.0" fill="#4a3c70" transform="rotate(163 1338 2376)"/><ellipse cx="1614" cy="2427" rx="8.5" ry="7.5" fill="#4c3f70" transform="rotate(81 1614 2427)"/><ellipse cx="1466" cy="2414" rx="9.7" ry="7.8" fill="#40336a" transform="rotate(93 1466 2414)"/><ellipse cx="1483" cy="2387" rx="10.1" ry="8.9" fill="#3b2e63" transform="rotate(109 1483 2387)"/><ellipse cx="1202" cy="2736" rx="7.6" ry="5.2" fill="#4a3c70" transform="rotate(80 1202 2736)"/><ellipse cx="1726" cy="2635" rx="10.7" ry="7.5" fill="#3c2e64" transform="rotate(100 1726 2635)"/><ellipse cx="1516" cy="2295" rx="9.4" ry="8.4" fill="#3c2e64" transform="rotate(32 1516 2295)"/><ellipse cx="1167" cy="2278" rx="11.0" ry="10.3" fill="#35275c" transform="rotate(82 1167 2278)"/><ellipse cx="1050" cy="2587" rx="10.6" ry="9.2" fill="#4c3f70" transform="rotate(3 1050 2587)"/><ellipse cx="1291" cy="2639" rx="7.6" ry="6.2" fill="#35275c" transform="rotate(130 1291 2639)"/><ellipse cx="1281" cy="2711" rx="9.3" ry="8.7" fill="#41336b" transform="rotate(134 1281 2711)"/><ellipse cx="1618" cy="2091" rx="9.2" ry="6.4" fill="#4a3c70" transform="rotate(70 1618 2091)"/><ellipse cx="1152" cy="2680" rx="8.9" ry="6.5" fill="#433569" transform="rotate(160 1152 2680)"/><ellipse cx="1342" cy="2725" rx="8.1" ry="5.6" fill="#4c3f70" transform="rotate(7 1342 2725)"/><ellipse cx="1289" cy="2138" rx="7.8" ry="6.0" fill="#3b2e63" transform="rotate(88 1289 2138)"/><ellipse cx="1196" cy="2147" rx="8.1" ry="6.6" fill="#4c3f70" transform="rotate(131 1196 2147)"/><ellipse cx="1242" cy="2715" rx="7.5" ry="6.1" fill="#433569" transform="rotate(114 1242 2715)"/><ellipse cx="1552" cy="2167" rx="10.8" ry="8.3" fill="#2a1d4c" transform="rotate(51 1552 2167)"/><ellipse cx="1179" cy="2156" rx="7.8" ry="5.7" fill="#35275c" transform="rotate(124 1179 2156)"/><ellipse cx="1043" cy="2607" rx="9.7" ry="8.0" fill="#35275c" transform="rotate(42 1043 2607)"/><ellipse cx="1129" cy="2453" rx="9.4" ry="6.5" fill="#41336b" transform="rotate(102 1129 2453)"/><ellipse cx="1326" cy="2214" rx="11.3" ry="9.3" fill="#40336a" transform="rotate(48 1326 2214)"/><ellipse cx="1533" cy="2176" rx="11.2" ry="8.4" fill="#4a3c70" transform="rotate(109 1533 2176)"/><ellipse cx="1469" cy="2166" rx="11.0" ry="7.7" fill="#35275c" transform="rotate(143 1469 2166)"/><ellipse cx="1306" cy="2229" rx="11.5" ry="9.7" fill="#2c1f50" transform="rotate(98 1306 2229)"/><ellipse cx="1196" cy="2719" rx="7.6" ry="7.0" fill="#40336a" transform="rotate(19 1196 2719)"/><ellipse cx="1585" cy="2288" rx="9.4" ry="8.5" fill="#3b2e63" transform="rotate(14 1585 2288)"/><ellipse cx="1645" cy="2227" rx="10.7" ry="9.8" fill="#4a3c70" transform="rotate(172 1645 2227)"/><ellipse cx="1721" cy="2229" rx="11.1" ry="10.1" fill="#41336b" transform="rotate(119 1721 2229)"/><ellipse cx="1188" cy="2591" rx="8.4" ry="6.0" fill="#33255a" transform="rotate(65 1188 2591)"/><ellipse cx="1239" cy="2283" rx="7.6" ry="7.2" fill="#33255a" transform="rotate(14 1239 2283)"/><ellipse cx="1053" cy="2149" rx="11.4" ry="10.4" fill="#433569" transform="rotate(56 1053 2149)"/><ellipse cx="1424" cy="2248" rx="9.8" ry="6.9" fill="#33255a" transform="rotate(40 1424 2248)"/><ellipse cx="1438" cy="2331" rx="9.1" ry="7.0" fill="#514373" transform="rotate(48 1438 2331)"/><ellipse cx="1330" cy="2712" rx="8.1" ry="6.7" fill="#4c3f70" transform="rotate(159 1330 2712)"/><ellipse cx="1352" cy="2463" rx="10.0" ry="7.1" fill="#35275c" transform="rotate(72 1352 2463)"/><ellipse cx="1632" cy="2209" rx="7.8" ry="6.0" fill="#33255a" transform="rotate(118 1632 2209)"/><ellipse cx="1112" cy="2679" rx="9.1" ry="6.7" fill="#2a1d4c" transform="rotate(25 1112 2679)"/><ellipse cx="1596" cy="2252" rx="8.2" ry="6.0" fill="#514373" transform="rotate(11 1596 2252)"/><ellipse cx="1138" cy="2569" rx="9.0" ry="8.2" fill="#2c1f50" transform="rotate(42 1138 2569)"/><ellipse cx="1685" cy="2218" rx="8.9" ry="7.9" fill="#3c2e64" transform="rotate(128 1685 2218)"/><ellipse cx="1693" cy="2662" rx="9.8" ry="8.3" fill="#2c1f50" transform="rotate(170 1693 2662)"/><ellipse cx="1440" cy="2364" rx="8.4" ry="5.7" fill="#4a3c70" transform="rotate(31 1440 2364)"/><ellipse cx="1075" cy="2116" rx="11.0" ry="9.6" fill="#514373" transform="rotate(21 1075 2116)"/><ellipse cx="1702" cy="2245" rx="9.9" ry="8.5" fill="#35275c" transform="rotate(113 1702 2245)"/><ellipse cx="1513" cy="2257" rx="10.5" ry="8.9" fill="#4a3c70" transform="rotate(63 1513 2257)"/><ellipse cx="1600" cy="2477" rx="9.0" ry="6.9" fill="#2c1f50" transform="rotate(156 1600 2477)"/><ellipse cx="1213" cy="2205" rx="8.3" ry="5.9" fill="#514373" transform="rotate(30 1213 2205)"/><ellipse cx="1525" cy="2135" rx="10.8" ry="9.4" fill="#4a3c70" transform="rotate(44 1525 2135)"/><ellipse cx="1166" cy="2453" rx="8.6" ry="5.6" fill="#2a1d4c" transform="rotate(29 1166 2453)"/><ellipse cx="1621" cy="2488" rx="8.2" ry="5.5" fill="#514373" transform="rotate(4 1621 2488)"/><ellipse cx="1204" cy="2685" rx="10.1" ry="9.4" fill="#4c3f70" transform="rotate(134 1204 2685)"/><ellipse cx="1148" cy="2102" rx="10.7" ry="7.0" fill="#2a1d4c" transform="rotate(139 1148 2102)"/><ellipse cx="1196" cy="2379" rx="9.3" ry="6.7" fill="#3c2e64" transform="rotate(111 1196 2379)"/><ellipse cx="1268" cy="2461" rx="9.9" ry="7.1" fill="#3c2e64" transform="rotate(134 1268 2461)"/><ellipse cx="1095" cy="2325" rx="8.9" ry="5.9" fill="#4a3c70" transform="rotate(36 1095 2325)"/><ellipse cx="1504" cy="2469" rx="10.4" ry="9.1" fill="#3c2e64" transform="rotate(113 1504 2469)"/><ellipse cx="1101" cy="2114" rx="8.3" ry="6.2" fill="#40336a" transform="rotate(120 1101 2114)"/><ellipse cx="1012" cy="2680" rx="9.8" ry="7.8" fill="#35275c" transform="rotate(139 1012 2680)"/><ellipse cx="1511" cy="2714" rx="9.7" ry="7.0" fill="#35275c" transform="rotate(114 1511 2714)"/><ellipse cx="1015" cy="2503" rx="10.0" ry="7.6" fill="#514373" transform="rotate(174 1015 2503)"/><ellipse cx="1351" cy="2564" rx="8.0" ry="5.5" fill="#2c1f50" transform="rotate(138 1351 2564)"/><ellipse cx="1232" cy="2738" rx="8.6" ry="5.6" fill="#4a3c70" transform="rotate(94 1232 2738)"/><ellipse cx="1656" cy="2568" rx="10.2" ry="8.8" fill="#4a3c70" transform="rotate(14 1656 2568)"/><ellipse cx="1513" cy="2604" rx="8.1" ry="7.3" fill="#3b2e63" transform="rotate(22 1513 2604)"/><ellipse cx="1667" cy="2319" rx="7.8" ry="5.8" fill="#2c1f50" transform="rotate(102 1667 2319)"/><ellipse cx="1499" cy="2674" rx="10.0" ry="7.7" fill="#4c3f70" transform="rotate(129 1499 2674)"/><ellipse cx="1635" cy="2361" rx="11.4" ry="10.1" fill="#2c1f50" transform="rotate(24 1635 2361)"/><ellipse cx="1576" cy="2650" rx="9.8" ry="7.2" fill="#40336a" transform="rotate(179 1576 2650)"/><ellipse cx="1417" cy="2495" rx="9.5" ry="6.2" fill="#35275c" transform="rotate(89 1417 2495)"/><ellipse cx="1443" cy="2143" rx="8.9" ry="6.5" fill="#2c1f50" transform="rotate(83 1443 2143)"/><ellipse cx="1466" cy="2734" rx="11.0" ry="9.5" fill="#2a1d4c" transform="rotate(178 1466 2734)"/><ellipse cx="1283" cy="2567" rx="10.4" ry="7.0" fill="#35275c" transform="rotate(113 1283 2567)"/><ellipse cx="1423" cy="2376" rx="8.1" ry="6.2" fill="#2a1d4c" transform="rotate(35 1423 2376)"/><ellipse cx="1611" cy="2145" rx="7.7" ry="7.1" fill="#35275c" transform="rotate(61 1611 2145)"/><ellipse cx="1547" cy="2110" rx="10.9" ry="7.5" fill="#40336a" transform="rotate(17 1547 2110)"/><ellipse cx="1438" cy="2402" rx="9.9" ry="6.9" fill="#3b2e63" transform="rotate(83 1438 2402)"/><ellipse cx="1167" cy="2543" rx="10.8" ry="9.2" fill="#40336a" transform="rotate(107 1167 2543)"/><ellipse cx="1362" cy="2489" rx="8.0" ry="5.8" fill="#3c2e64" transform="rotate(30 1362 2489)"/><ellipse cx="1671" cy="2257" rx="9.6" ry="7.4" fill="#433569" transform="rotate(85 1671 2257)"/><ellipse cx="1007" cy="2286" rx="9.3" ry="8.7" fill="#2c1f50" transform="rotate(19 1007 2286)"/><ellipse cx="1494" cy="2222" rx="8.0" ry="6.4" fill="#2c1f50" transform="rotate(164 1494 2222)"/><ellipse cx="1650" cy="2303" rx="10.7" ry="7.9" fill="#2c1f50" transform="rotate(111 1650 2303)"/><ellipse cx="1314" cy="2612" rx="8.5" ry="8.0" fill="#433569" transform="rotate(61 1314 2612)"/><ellipse cx="1666" cy="2661" rx="8.3" ry="7.5" fill="#3b2e63" transform="rotate(132 1666 2661)"/><ellipse cx="1610" cy="2640" rx="8.3" ry="6.1" fill="#3b2e63" transform="rotate(8 1610 2640)"/><ellipse cx="1200" cy="2230" rx="8.2" ry="7.3" fill="#4a3c70" transform="rotate(84 1200 2230)"/><ellipse cx="1301" cy="2496" rx="9.6" ry="9.1" fill="#41336b" transform="rotate(156 1301 2496)"/><ellipse cx="1360" cy="2295" rx="8.4" ry="7.2" fill="#433569" transform="rotate(68 1360 2295)"/><ellipse cx="1612" cy="2726" rx="8.5" ry="7.5" fill="#3b2e63" transform="rotate(24 1612 2726)"/><ellipse cx="1329" cy="2139" rx="7.5" ry="6.0" fill="#4a3c70" transform="rotate(36 1329 2139)"/><ellipse cx="1022" cy="2656" rx="9.9" ry="7.0" fill="#2a1d4c" transform="rotate(164 1022 2656)"/><ellipse cx="1029" cy="2549" rx="9.2" ry="6.2" fill="#40336a" transform="rotate(170 1029 2549)"/><ellipse cx="1416" cy="2291" rx="9.1" ry="7.2" fill="#2a1d4c" transform="rotate(144 1416 2291)"/><ellipse cx="1577" cy="2103" rx="10.5" ry="9.0" fill="#433569" transform="rotate(105 1577 2103)"/><ellipse cx="1098" cy="2385" rx="7.6" ry="5.4" fill="#4c3f70" transform="rotate(152 1098 2385)"/><ellipse cx="1017" cy="2628" rx="11.3" ry="10.5" fill="#3b2e63" transform="rotate(142 1017 2628)"/><ellipse cx="1458" cy="2380" rx="8.8" ry="5.8" fill="#41336b" transform="rotate(17 1458 2380)"/><ellipse cx="1459" cy="2515" rx="11.5" ry="7.9" fill="#41336b" transform="rotate(96 1459 2515)"/><ellipse cx="1588" cy="2711" rx="7.6" ry="6.6" fill="#40336a" transform="rotate(118 1588 2711)"/><ellipse cx="1346" cy="2207" rx="7.9" ry="6.7" fill="#40336a" transform="rotate(82 1346 2207)"/><ellipse cx="1007" cy="2397" rx="8.1" ry="7.5" fill="#4a3c70" transform="rotate(76 1007 2397)"/><ellipse cx="1520" cy="2207" rx="7.7" ry="6.5" fill="#4c3f70" transform="rotate(76 1520 2207)"/><ellipse cx="1198" cy="2315" rx="8.9" ry="6.8" fill="#33255a" transform="rotate(142 1198 2315)"/><ellipse cx="1508" cy="2428" rx="9.6" ry="8.5" fill="#4a3c70" transform="rotate(77 1508 2428)"/><ellipse cx="1448" cy="2580" rx="11.2" ry="8.5" fill="#41336b" transform="rotate(52 1448 2580)"/><ellipse cx="1286" cy="2603" rx="7.9" ry="6.7" fill="#433569" transform="rotate(4 1286 2603)"/><ellipse cx="1661" cy="2147" rx="7.6" ry="5.0" fill="#41336b" transform="rotate(113 1661 2147)"/><ellipse cx="1680" cy="2558" rx="8.5" ry="6.3" fill="#35275c" transform="rotate(10 1680 2558)"/><ellipse cx="1414" cy="2660" rx="8.5" ry="7.1" fill="#4c3f70" transform="rotate(77 1414 2660)"/><ellipse cx="1338" cy="2512" rx="9.2" ry="8.6" fill="#41336b" transform="rotate(7 1338 2512)"/><ellipse cx="1596" cy="2506" rx="8.6" ry="6.4" fill="#4a3c70" transform="rotate(51 1596 2506)"/><ellipse cx="1523" cy="2229" rx="11.4" ry="8.6" fill="#4c3f70" transform="rotate(121 1523 2229)"/><ellipse cx="1656" cy="2725" rx="11.1" ry="7.3" fill="#35275c" transform="rotate(14 1656 2725)"/><ellipse cx="1712" cy="2438" rx="10.4" ry="8.7" fill="#4a3c70" transform="rotate(170 1712 2438)"/><ellipse cx="1401" cy="2588" rx="9.2" ry="8.4" fill="#41336b" transform="rotate(178 1401 2588)"/><ellipse cx="1355" cy="2109" rx="10.5" ry="7.8" fill="#514373" transform="rotate(70 1355 2109)"/><ellipse cx="1590" cy="2132" rx="7.8" ry="6.7" fill="#40336a" transform="rotate(25 1590 2132)"/><ellipse cx="1583" cy="2203" rx="9.3" ry="6.7" fill="#40336a" transform="rotate(131 1583 2203)"/><ellipse cx="1244" cy="2601" rx="9.6" ry="6.9" fill="#2a1d4c" transform="rotate(44 1244 2601)"/><ellipse cx="1102" cy="2187" rx="11.2" ry="7.7" fill="#514373" transform="rotate(55 1102 2187)"/><ellipse cx="1376" cy="2559" rx="10.6" ry="8.1" fill="#35275c" transform="rotate(138 1376 2559)"/><ellipse cx="1612" cy="2537" rx="8.5" ry="6.5" fill="#433569" transform="rotate(44 1612 2537)"/><ellipse cx="1689" cy="2410" rx="11.5" ry="10.5" fill="#433569" transform="rotate(108 1689 2410)"/><ellipse cx="1692" cy="2147" rx="9.2" ry="7.0" fill="#4c3f70" transform="rotate(102 1692 2147)"/><ellipse cx="1161" cy="2432" rx="7.5" ry="5.2" fill="#35275c" transform="rotate(86 1161 2432)"/><ellipse cx="1211" cy="2563" rx="7.6" ry="6.2" fill="#3c2e64" transform="rotate(84 1211 2563)"/><ellipse cx="1615" cy="2453" rx="8.4" ry="5.9" fill="#433569" transform="rotate(57 1615 2453)"/><ellipse cx="1227" cy="2338" rx="10.0" ry="7.2" fill="#433569" transform="rotate(153 1227 2338)"/><ellipse cx="1616" cy="2674" rx="8.9" ry="8.5" fill="#4a3c70" transform="rotate(5 1616 2674)"/><ellipse cx="1151" cy="2641" rx="8.8" ry="8.3" fill="#33255a" transform="rotate(167 1151 2641)"/><ellipse cx="1417" cy="2221" rx="10.3" ry="7.2" fill="#433569" transform="rotate(71 1417 2221)"/><ellipse cx="1390" cy="2417" rx="8.1" ry="5.4" fill="#514373" transform="rotate(130 1390 2417)"/><ellipse cx="1441" cy="2109" rx="8.5" ry="7.9" fill="#2a1d4c" transform="rotate(129 1441 2109)"/><ellipse cx="1410" cy="2409" rx="9.6" ry="8.7" fill="#2c1f50" transform="rotate(5 1410 2409)"/><ellipse cx="1503" cy="2134" rx="8.1" ry="6.8" fill="#514373" transform="rotate(108 1503 2134)"/><ellipse cx="1392" cy="2359" rx="11.4" ry="8.6" fill="#35275c" transform="rotate(95 1392 2359)"/><ellipse cx="1698" cy="2688" rx="10.7" ry="9.3" fill="#3b2e63" transform="rotate(112 1698 2688)"/><ellipse cx="1656" cy="2399" rx="10.6" ry="7.4" fill="#40336a" transform="rotate(140 1656 2399)"/><ellipse cx="1231" cy="2215" rx="8.1" ry="7.6" fill="#35275c" transform="rotate(87 1231 2215)"/><ellipse cx="1450" cy="2690" rx="11.3" ry="8.0" fill="#3b2e63" transform="rotate(13 1450 2690)"/><ellipse cx="1094" cy="2595" rx="7.5" ry="6.2" fill="#2a1d4c" transform="rotate(81 1094 2595)"/><ellipse cx="1016" cy="2217" rx="8.2" ry="7.1" fill="#4c3f70" transform="rotate(120 1016 2217)"/><ellipse cx="1234" cy="2321" rx="11.1" ry="8.9" fill="#33255a" transform="rotate(48 1234 2321)"/><ellipse cx="1372" cy="2253" rx="8.7" ry="5.9" fill="#35275c" transform="rotate(10 1372 2253)"/><ellipse cx="1318" cy="2334" rx="9.1" ry="6.1" fill="#2a1d4c" transform="rotate(123 1318 2334)"/><ellipse cx="1301" cy="2433" rx="11.1" ry="7.5" fill="#41336b" transform="rotate(131 1301 2433)"/><ellipse cx="1465" cy="2434" rx="9.2" ry="6.0" fill="#3c2e64" transform="rotate(21 1465 2434)"/><ellipse cx="1624" cy="2242" rx="11.5" ry="7.7" fill="#2c1f50" transform="rotate(132 1624 2242)"/><ellipse cx="1540" cy="2615" rx="10.9" ry="8.0" fill="#41336b" transform="rotate(125 1540 2615)"/><ellipse cx="1229" cy="2688" rx="10.9" ry="9.2" fill="#4c3f70" transform="rotate(105 1229 2688)"/><ellipse cx="1158" cy="2737" rx="11.4" ry="9.7" fill="#40336a" transform="rotate(81 1158 2737)"/><ellipse cx="1647" cy="2178" rx="8.1" ry="6.9" fill="#4c3f70" transform="rotate(82 1647 2178)"/><ellipse cx="1174" cy="2561" rx="10.3" ry="8.7" fill="#41336b" transform="rotate(170 1174 2561)"/><ellipse cx="1606" cy="2364" rx="10.8" ry="9.4" fill="#35275c" transform="rotate(27 1606 2364)"/><ellipse cx="1576" cy="2173" rx="7.6" ry="6.0" fill="#433569" transform="rotate(59 1576 2173)"/><ellipse cx="1293" cy="2534" rx="7.9" ry="5.1" fill="#2a1d4c" transform="rotate(137 1293 2534)"/><ellipse cx="1706" cy="2166" rx="7.6" ry="5.1" fill="#4a3c70" transform="rotate(53 1706 2166)"/><ellipse cx="1368" cy="2582" rx="9.8" ry="9.3" fill="#514373" transform="rotate(131 1368 2582)"/><ellipse cx="1366" cy="2535" rx="9.5" ry="7.9" fill="#2c1f50" transform="rotate(148 1366 2535)"/><ellipse cx="1137" cy="2137" rx="10.8" ry="7.1" fill="#40336a" transform="rotate(7 1137 2137)"/><ellipse cx="1414" cy="2186" rx="8.3" ry="6.4" fill="#40336a" transform="rotate(146 1414 2186)"/><ellipse cx="1722" cy="2691" rx="10.4" ry="6.8" fill="#2c1f50" transform="rotate(161 1722 2691)"/><ellipse cx="1694" cy="2390" rx="8.7" ry="6.6" fill="#35275c" transform="rotate(118 1694 2390)"/><ellipse cx="1557" cy="2302" rx="10.1" ry="8.1" fill="#514373" transform="rotate(111 1557 2302)"/><ellipse cx="1340" cy="2424" rx="9.8" ry="7.5" fill="#4c3f70" transform="rotate(61 1340 2424)"/><ellipse cx="1313" cy="2480" rx="9.8" ry="8.2" fill="#35275c" transform="rotate(155 1313 2480)"/><ellipse cx="1009" cy="2545" rx="9.6" ry="7.3" fill="#514373" transform="rotate(76 1009 2545)"/><ellipse cx="1330" cy="2569" rx="9.2" ry="8.3" fill="#33255a" transform="rotate(10 1330 2569)"/><ellipse cx="1294" cy="2479" rx="10.2" ry="6.7" fill="#33255a" transform="rotate(77 1294 2479)"/><ellipse cx="1367" cy="2727" rx="8.6" ry="5.8" fill="#2c1f50" transform="rotate(172 1367 2727)"/><ellipse cx="1567" cy="2618" rx="8.2" ry="6.0" fill="#4a3c70" transform="rotate(133 1567 2618)"/><ellipse cx="1295" cy="2671" rx="11.5" ry="10.0" fill="#4a3c70" transform="rotate(22 1295 2671)"/><ellipse cx="1641" cy="2541" rx="7.9" ry="5.6" fill="#33255a" transform="rotate(162 1641 2541)"/><ellipse cx="1559" cy="2586" rx="8.3" ry="5.6" fill="#514373" transform="rotate(60 1559 2586)"/><ellipse cx="1007" cy="2321" rx="10.0" ry="7.7" fill="#2a1d4c" transform="rotate(111 1007 2321)"/><ellipse cx="1465" cy="2495" rx="10.3" ry="6.7" fill="#41336b" transform="rotate(16 1465 2495)"/><ellipse cx="1168" cy="2702" rx="8.4" ry="6.8" fill="#33255a" transform="rotate(12 1168 2702)"/><ellipse cx="1485" cy="2310" rx="10.5" ry="9.2" fill="#3c2e64" transform="rotate(81 1485 2310)"/><ellipse cx="1481" cy="2460" rx="9.7" ry="7.9" fill="#2c1f50" transform="rotate(57 1481 2460)"/><ellipse cx="1729" cy="2507" rx="10.9" ry="9.3" fill="#2a1d4c" transform="rotate(176 1729 2507)"/><ellipse cx="1511" cy="2584" rx="9.5" ry="8.4" fill="#3c2e64" transform="rotate(160 1511 2584)"/><ellipse cx="1714" cy="2106" rx="10.7" ry="9.9" fill="#41336b" transform="rotate(30 1714 2106)"/><ellipse cx="1186" cy="2351" rx="7.8" ry="5.2" fill="#3b2e63" transform="rotate(125 1186 2351)"/><ellipse cx="1273" cy="2155" rx="10.1" ry="6.8" fill="#2c1f50" transform="rotate(28 1273 2155)"/><ellipse cx="1182" cy="2677" rx="10.7" ry="9.3" fill="#2a1d4c" transform="rotate(135 1182 2677)"/><ellipse cx="1705" cy="2458" rx="7.5" ry="5.9" fill="#40336a" transform="rotate(142 1705 2458)"/><ellipse cx="1032" cy="2693" rx="10.5" ry="7.7" fill="#2a1d4c" transform="rotate(152 1032 2693)"/><ellipse cx="1116" cy="2396" rx="7.9" ry="6.2" fill="#3c2e64" transform="rotate(161 1116 2396)"/><ellipse cx="1689" cy="2363" rx="9.7" ry="8.1" fill="#4c3f70" transform="rotate(164 1689 2363)"/><ellipse cx="1266" cy="2276" rx="10.3" ry="8.7" fill="#3c2e64" transform="rotate(125 1266 2276)"/><ellipse cx="1215" cy="2100" rx="7.8" ry="6.3" fill="#3c2e64" transform="rotate(40 1215 2100)"/><ellipse cx="1113" cy="2579" rx="10.9" ry="9.8" fill="#40336a" transform="rotate(71 1113 2579)"/><ellipse cx="1053" cy="2677" rx="11.4" ry="9.5" fill="#40336a" transform="rotate(69 1053 2677)"/><ellipse cx="1313" cy="2400" rx="9.6" ry="7.0" fill="#3b2e63" transform="rotate(74 1313 2400)"/><ellipse cx="1381" cy="2697" rx="8.5" ry="6.1" fill="#4c3f70" transform="rotate(23 1381 2697)"/><ellipse cx="1527" cy="2394" rx="8.5" ry="5.8" fill="#2a1d4c" transform="rotate(127 1527 2394)"/><ellipse cx="1714" cy="2619" rx="9.2" ry="6.6" fill="#35275c" transform="rotate(91 1714 2619)"/><ellipse cx="1440" cy="2165" rx="11.2" ry="9.3" fill="#35275c" transform="rotate(123 1440 2165)"/><ellipse cx="1385" cy="2171" rx="9.8" ry="6.4" fill="#41336b" transform="rotate(172 1385 2171)"/><ellipse cx="1322" cy="2523" rx="9.9" ry="6.9" fill="#4c3f70" transform="rotate(29 1322 2523)"/><ellipse cx="1332" cy="2261" rx="10.5" ry="6.8" fill="#4c3f70" transform="rotate(85 1332 2261)"/><ellipse cx="1567" cy="2434" rx="10.3" ry="6.8" fill="#41336b" transform="rotate(28 1567 2434)"/><ellipse cx="1535" cy="2245" rx="10.0" ry="8.3" fill="#33255a" transform="rotate(123 1535 2245)"/><ellipse cx="1082" cy="2669" rx="10.4" ry="9.5" fill="#433569" transform="rotate(113 1082 2669)"/><ellipse cx="1572" cy="2495" rx="9.9" ry="7.2" fill="#35275c" transform="rotate(110 1572 2495)"/><ellipse cx="1549" cy="2214" rx="7.6" ry="7.2" fill="#33255a" transform="rotate(154 1549 2214)"/><ellipse cx="1028" cy="2130" rx="7.9" ry="6.7" fill="#433569" transform="rotate(7 1028 2130)"/><ellipse cx="1394" cy="2138" rx="11.4" ry="8.8" fill="#33255a" transform="rotate(7 1394 2138)"/><ellipse cx="1062" cy="2529" rx="10.9" ry="9.6" fill="#4a3c70" transform="rotate(142 1062 2529)"/><ellipse cx="1271" cy="2401" rx="9.6" ry="8.5" fill="#2a1d4c" transform="rotate(145 1271 2401)"/><ellipse cx="1153" cy="2313" rx="8.6" ry="7.0" fill="#4a3c70" transform="rotate(145 1153 2313)"/><ellipse cx="1543" cy="2634" rx="9.9" ry="7.7" fill="#3b2e63" transform="rotate(68 1543 2634)"/><ellipse cx="1053" cy="2169" rx="11.2" ry="10.2" fill="#3b2e63" transform="rotate(42 1053 2169)"/><ellipse cx="1560" cy="2229" rx="7.8" ry="5.5" fill="#514373" transform="rotate(25 1560 2229)"/><ellipse cx="1309" cy="2258" rx="10.8" ry="7.4" fill="#41336b" transform="rotate(65 1309 2258)"/><ellipse cx="1590" cy="2330" rx="8.9" ry="7.7" fill="#40336a" transform="rotate(49 1590 2330)"/><ellipse cx="1237" cy="2446" rx="9.5" ry="8.7" fill="#41336b" transform="rotate(144 1237 2446)"/><ellipse cx="1544" cy="2687" rx="10.4" ry="7.4" fill="#2a1d4c" transform="rotate(174 1544 2687)"/><ellipse cx="1499" cy="2284" rx="10.3" ry="7.7" fill="#3b2e63" transform="rotate(29 1499 2284)"/><ellipse cx="1565" cy="2140" rx="11.4" ry="10.2" fill="#3b2e63" transform="rotate(58 1565 2140)"/><ellipse cx="1155" cy="2519" rx="10.8" ry="7.1" fill="#4c3f70" transform="rotate(126 1155 2519)"/><ellipse cx="1670" cy="2699" rx="8.6" ry="6.5" fill="#3b2e63" transform="rotate(72 1670 2699)"/><ellipse cx="1666" cy="2374" rx="11.0" ry="7.3" fill="#4a3c70" transform="rotate(58 1666 2374)"/><ellipse cx="1180" cy="2325" rx="8.9" ry="7.6" fill="#4a3c70" transform="rotate(11 1180 2325)"/><ellipse cx="1266" cy="2326" rx="9.1" ry="8.5" fill="#33255a" transform="rotate(116 1266 2326)"/><ellipse cx="1288" cy="2342" rx="8.0" ry="6.1" fill="#41336b" transform="rotate(147 1288 2342)"/><ellipse cx="1642" cy="2273" rx="9.2" ry="6.8" fill="#40336a" transform="rotate(118 1642 2273)"/><ellipse cx="1396" cy="2458" rx="9.4" ry="7.2" fill="#40336a" transform="rotate(25 1396 2458)"/><ellipse cx="1061" cy="2501" rx="9.7" ry="8.2" fill="#433569" transform="rotate(62 1061 2501)"/><ellipse cx="1473" cy="2250" rx="9.6" ry="6.8" fill="#33255a" transform="rotate(52 1473 2250)"/><ellipse cx="1160" cy="2586" rx="8.3" ry="6.3" fill="#41336b" transform="rotate(134 1160 2586)"/><ellipse cx="1287" cy="2310" rx="7.5" ry="6.0" fill="#4c3f70" transform="rotate(76 1287 2310)"/><ellipse cx="1359" cy="2439" rx="10.5" ry="9.5" fill="#514373" transform="rotate(63 1359 2439)"/><ellipse cx="1525" cy="2549" rx="10.2" ry="7.6" fill="#41336b" transform="rotate(120 1525 2549)"/><ellipse cx="1622" cy="2612" rx="11.4" ry="7.8" fill="#433569" transform="rotate(115 1622 2612)"/><ellipse cx="1585" cy="2364" rx="11.0" ry="9.2" fill="#4a3c70" transform="rotate(150 1585 2364)"/><ellipse cx="1306" cy="2186" rx="7.9" ry="5.7" fill="#2a1d4c" transform="rotate(173 1306 2186)"/><ellipse cx="1540" cy="2732" rx="9.5" ry="9.0" fill="#35275c" transform="rotate(58 1540 2732)"/><ellipse cx="1273" cy="2199" rx="9.4" ry="6.6" fill="#41336b" transform="rotate(64 1273 2199)"/><ellipse cx="1148" cy="2366" rx="10.8" ry="7.0" fill="#40336a" transform="rotate(92 1148 2366)"/><ellipse cx="1663" cy="2115" rx="10.4" ry="8.3" fill="#41336b" transform="rotate(25 1663 2115)"/><ellipse cx="1078" cy="2210" rx="10.9" ry="8.7" fill="#35275c" transform="rotate(101 1078 2210)"/><ellipse cx="1134" cy="2273" rx="9.6" ry="8.8" fill="#41336b" transform="rotate(98 1134 2273)"/><ellipse cx="1596" cy="2401" rx="7.9" ry="5.6" fill="#514373" transform="rotate(135 1596 2401)"/><ellipse cx="1399" cy="2710" rx="9.7" ry="6.5" fill="#4c3f70" transform="rotate(134 1399 2710)"/><ellipse cx="1351" cy="2234" rx="9.0" ry="6.7" fill="#2a1d4c" transform="rotate(28 1351 2234)"/><ellipse cx="1520" cy="2483" rx="9.0" ry="6.4" fill="#2a1d4c" transform="rotate(148 1520 2483)"/><ellipse cx="1234" cy="2259" rx="8.6" ry="5.7" fill="#514373" transform="rotate(95 1234 2259)"/><ellipse cx="1634" cy="2425" rx="8.5" ry="7.2" fill="#433569" transform="rotate(82 1634 2425)"/><ellipse cx="1194" cy="2437" rx="8.4" ry="7.5" fill="#41336b" transform="rotate(79 1194 2437)"/><ellipse cx="1625" cy="2287" rx="10.6" ry="8.2" fill="#3c2e64" transform="rotate(87 1625 2287)"/><ellipse cx="1602" cy="2226" rx="7.6" ry="5.1" fill="#4c3f70" transform="rotate(124 1602 2226)"/><ellipse cx="1114" cy="2629" rx="9.2" ry="8.3" fill="#4c3f70" transform="rotate(12 1114 2629)"/><ellipse cx="1521" cy="2324" rx="9.3" ry="8.0" fill="#35275c" transform="rotate(130 1521 2324)"/><ellipse cx="1501" cy="2159" rx="9.8" ry="8.2" fill="#2c1f50" transform="rotate(150 1501 2159)"/><ellipse cx="1287" cy="2390" rx="8.0" ry="5.4" fill="#2a1d4c" transform="rotate(98 1287 2390)"/><ellipse cx="1476" cy="2099" rx="9.6" ry="7.1" fill="#3b2e63" transform="rotate(28 1476 2099)"/><ellipse cx="1274" cy="2550" rx="7.7" ry="6.9" fill="#3c2e64" transform="rotate(176 1274 2550)"/><ellipse cx="1333" cy="2098" rx="8.8" ry="8.1" fill="#33255a" transform="rotate(111 1333 2098)"/><ellipse cx="1150" cy="2490" rx="8.6" ry="7.6" fill="#3c2e64" transform="rotate(28 1150 2490)"/><ellipse cx="1393" cy="2284" rx="9.2" ry="8.1" fill="#41336b" transform="rotate(171 1393 2284)"/><ellipse cx="1245" cy="2345" rx="8.8" ry="7.4" fill="#2a1d4c" transform="rotate(146 1245 2345)"/><ellipse cx="1410" cy="2559" rx="10.8" ry="9.4" fill="#40336a" transform="rotate(120 1410 2559)"/><ellipse cx="1241" cy="2626" rx="7.6" ry="5.6" fill="#4a3c70" transform="rotate(124 1241 2626)"/><ellipse cx="1066" cy="2182" rx="9.1" ry="6.1" fill="#4c3f70" transform="rotate(21 1066 2182)"/><ellipse cx="1372" cy="2510" rx="11.1" ry="9.0" fill="#3b2e63" transform="rotate(15 1372 2510)"/><ellipse cx="1300" cy="2101" rx="11.3" ry="7.4" fill="#35275c" transform="rotate(159 1300 2101)"/><ellipse cx="1481" cy="2485" rx="10.9" ry="8.1" fill="#2c1f50" transform="rotate(125 1481 2485)"/><ellipse cx="1275" cy="2421" rx="9.4" ry="8.4" fill="#41336b" transform="rotate(85 1275 2421)"/><ellipse cx="1559" cy="2675" rx="9.0" ry="6.3" fill="#3c2e64" transform="rotate(90 1559 2675)"/><ellipse cx="1399" cy="2319" rx="8.4" ry="7.7" fill="#2c1f50" transform="rotate(100 1399 2319)"/><ellipse cx="1364" cy="2183" rx="9.4" ry="7.3" fill="#2c1f50" transform="rotate(41 1364 2183)"/><ellipse cx="1689" cy="2497" rx="9.5" ry="8.7" fill="#33255a" transform="rotate(26 1689 2497)"/><ellipse cx="1337" cy="2171" rx="8.5" ry="6.6" fill="#3b2e63" transform="rotate(14 1337 2171)"/><ellipse cx="1659" cy="2443" rx="7.7" ry="5.2" fill="#3b2e63" transform="rotate(158 1659 2443)"/><ellipse cx="1601" cy="2278" rx="9.3" ry="7.3" fill="#3c2e64" transform="rotate(17 1601 2278)"/><ellipse cx="1654" cy="2247" rx="9.0" ry="8.4" fill="#41336b" transform="rotate(49 1654 2247)"/><ellipse cx="1418" cy="2628" rx="9.5" ry="7.1" fill="#433569" transform="rotate(132 1418 2628)"/><ellipse cx="1055" cy="2112" rx="8.4" ry="6.9" fill="#4a3c70" transform="rotate(91 1055 2112)"/><ellipse cx="1130" cy="2730" rx="8.9" ry="7.1" fill="#3b2e63" transform="rotate(78 1130 2730)"/><ellipse cx="1685" cy="2517" rx="8.4" ry="5.8" fill="#3b2e63" transform="rotate(146 1685 2517)"/><ellipse cx="1224" cy="2525" rx="10.4" ry="7.9" fill="#3c2e64" transform="rotate(143 1224 2525)"/><ellipse cx="1538" cy="2338" rx="8.8" ry="7.8" fill="#40336a" transform="rotate(22 1538 2338)"/><ellipse cx="1431" cy="2611" rx="8.5" ry="7.7" fill="#3c2e64" transform="rotate(89 1431 2611)"/><ellipse cx="1191" cy="2459" rx="9.2" ry="8.6" fill="#40336a" transform="rotate(29 1191 2459)"/><ellipse cx="1241" cy="2506" rx="9.7" ry="8.3" fill="#4a3c70" transform="rotate(122 1241 2506)"/><ellipse cx="1699" cy="2479" rx="8.9" ry="7.2" fill="#2a1d4c" transform="rotate(73 1699 2479)"/><ellipse cx="1342" cy="2357" rx="9.7" ry="9.2" fill="#4c3f70" transform="rotate(23 1342 2357)"/><ellipse cx="1454" cy="2537" rx="10.2" ry="7.2" fill="#3b2e63" transform="rotate(151 1454 2537)"/><ellipse cx="1298" cy="2372" rx="11.4" ry="10.3" fill="#2a1d4c" transform="rotate(118 1298 2372)"/><ellipse cx="1315" cy="2676" rx="9.7" ry="9.0" fill="#4a3c70" transform="rotate(57 1315 2676)"/><ellipse cx="1221" cy="2475" rx="10.4" ry="6.8" fill="#3b2e63" transform="rotate(46 1221 2475)"/><ellipse cx="1288" cy="2244" rx="8.0" ry="7.3" fill="#41336b" transform="rotate(161 1288 2244)"/><ellipse cx="1544" cy="2458" rx="9.8" ry="7.7" fill="#514373" transform="rotate(104 1544 2458)"/><ellipse cx="999" cy="2249" rx="10.4" ry="8.5" fill="#41336b" transform="rotate(139 999 2249)"/><ellipse cx="1217" cy="2301" rx="10.4" ry="7.5" fill="#433569" transform="rotate(99 1217 2301)"/><ellipse cx="1594" cy="2348" rx="8.0" ry="7.3" fill="#40336a" transform="rotate(101 1594 2348)"/><ellipse cx="1032" cy="2111" rx="9.6" ry="7.7" fill="#4a3c70" transform="rotate(152 1032 2111)"/><ellipse cx="1363" cy="2695" rx="7.8" ry="6.3" fill="#41336b" transform="rotate(26 1363 2695)"/><ellipse cx="1712" cy="2397" rx="10.1" ry="9.4" fill="#35275c" transform="rotate(142 1712 2397)"/><ellipse cx="1124" cy="2660" rx="11.0" ry="8.5" fill="#33255a" transform="rotate(130 1124 2660)"/><ellipse cx="1461" cy="2215" rx="8.6" ry="8.1" fill="#33255a" transform="rotate(13 1461 2215)"/><ellipse cx="1642" cy="2123" rx="10.5" ry="7.9" fill="#40336a" transform="rotate(158 1642 2123)"/><ellipse cx="1076" cy="2561" rx="10.8" ry="8.3" fill="#3c2e64" transform="rotate(154 1076 2561)"/><ellipse cx="1097" cy="2541" rx="10.8" ry="7.5" fill="#3c2e64" transform="rotate(61 1097 2541)"/><ellipse cx="1057" cy="2235" rx="9.6" ry="6.6" fill="#33255a" transform="rotate(132 1057 2235)"/><ellipse cx="1484" cy="2602" rx="9.4" ry="7.3" fill="#3b2e63" transform="rotate(97 1484 2602)"/><ellipse cx="1271" cy="2519" rx="7.6" ry="7.1" fill="#3c2e64" transform="rotate(165 1271 2519)"/><ellipse cx="1645" cy="2473" rx="10.9" ry="8.7" fill="#3c2e64" transform="rotate(127 1645 2473)"/><ellipse cx="1201" cy="2505" rx="9.5" ry="6.7" fill="#41336b" transform="rotate(18 1201 2505)"/><ellipse cx="1065" cy="2727" rx="8.5" ry="5.9" fill="#2a1d4c" transform="rotate(77 1065 2727)"/><ellipse cx="1320" cy="2433" rx="9.2" ry="6.4" fill="#3c2e64" transform="rotate(94 1320 2433)"/><ellipse cx="1386" cy="2120" rx="10.8" ry="8.9" fill="#41336b" transform="rotate(97 1386 2120)"/><ellipse cx="1437" cy="2275" rx="9.7" ry="6.5" fill="#4c3f70" transform="rotate(31 1437 2275)"/><ellipse cx="1182" cy="2611" rx="8.9" ry="7.2" fill="#35275c" transform="rotate(87 1182 2611)"/><ellipse cx="1399" cy="2212" rx="10.7" ry="9.6" fill="#41336b" transform="rotate(101 1399 2212)"/><ellipse cx="1280" cy="2692" rx="9.4" ry="8.5" fill="#41336b" transform="rotate(88 1280 2692)"/><ellipse cx="1364" cy="2207" rx="10.3" ry="8.9" fill="#33255a" transform="rotate(170 1364 2207)"/><ellipse cx="1368" cy="2638" rx="10.7" ry="9.3" fill="#41336b" transform="rotate(105 1368 2638)"/><ellipse cx="1443" cy="2243" rx="7.6" ry="7.2" fill="#2a1d4c" transform="rotate(141 1443 2243)"/><ellipse cx="1321" cy="2591" rx="9.6" ry="7.9" fill="#41336b" transform="rotate(126 1321 2591)"/><ellipse cx="1171" cy="2407" rx="8.7" ry="7.3" fill="#2c1f50" transform="rotate(159 1171 2407)"/><ellipse cx="1435" cy="2553" rx="10.4" ry="7.1" fill="#433569" transform="rotate(36 1435 2553)"/><ellipse cx="1130" cy="2189" rx="8.3" ry="5.9" fill="#40336a" transform="rotate(23 1130 2189)"/><ellipse cx="1316" cy="2377" rx="8.9" ry="7.0" fill="#40336a" transform="rotate(27 1316 2377)"/><ellipse cx="1414" cy="2442" rx="11.2" ry="8.9" fill="#35275c" transform="rotate(131 1414 2442)"/><ellipse cx="1577" cy="2245" rx="11.1" ry="7.7" fill="#4a3c70" transform="rotate(72 1577 2245)"/><ellipse cx="1228" cy="2493" rx="11.4" ry="8.7" fill="#33255a" transform="rotate(5 1228 2493)"/><ellipse cx="1606" cy="2600" rx="10.8" ry="9.8" fill="#514373" transform="rotate(18 1606 2600)"/><ellipse cx="1157" cy="2719" rx="10.0" ry="7.1" fill="#433569" transform="rotate(60 1157 2719)"/><ellipse cx="1719" cy="2185" rx="8.3" ry="5.8" fill="#514373" transform="rotate(17 1719 2185)"/><ellipse cx="1028" cy="2247" rx="9.6" ry="8.2" fill="#514373" transform="rotate(148 1028 2247)"/><ellipse cx="1286" cy="2284" rx="10.5" ry="8.0" fill="#41336b" transform="rotate(25 1286 2284)"/><ellipse cx="1309" cy="2140" rx="11.1" ry="9.7" fill="#33255a" transform="rotate(120 1309 2140)"/><ellipse cx="1556" cy="2566" rx="10.1" ry="9.2" fill="#4c3f70" transform="rotate(121 1556 2566)"/><ellipse cx="1167" cy="2255" rx="11.1" ry="9.8" fill="#4c3f70" transform="rotate(4 1167 2255)"/><ellipse cx="1402" cy="2247" rx="7.8" ry="7.4" fill="#41336b" transform="rotate(75 1402 2247)"/><ellipse cx="1336" cy="2694" rx="10.0" ry="7.1" fill="#2a1d4c" transform="rotate(105 1336 2694)"/><ellipse cx="1340" cy="2291" rx="8.0" ry="5.7" fill="#4a3c70" transform="rotate(30 1340 2291)"/><ellipse cx="1325" cy="2734" rx="8.3" ry="5.7" fill="#4c3f70" transform="rotate(99 1325 2734)"/><ellipse cx="1495" cy="2649" rx="7.9" ry="7.1" fill="#4c3f70" transform="rotate(120 1495 2649)"/><ellipse cx="1148" cy="2339" rx="7.5" ry="6.8" fill="#2c1f50" transform="rotate(156 1148 2339)"/><ellipse cx="1111" cy="2697" rx="8.7" ry="6.4" fill="#40336a" transform="rotate(56 1111 2697)"/><ellipse cx="1262" cy="2586" rx="8.5" ry="5.9" fill="#33255a" transform="rotate(50 1262 2586)"/><ellipse cx="1527" cy="2678" rx="9.8" ry="9.1" fill="#514373" transform="rotate(1 1527 2678)"/><ellipse cx="1029" cy="2189" rx="10.8" ry="9.3" fill="#33255a" transform="rotate(22 1029 2189)"/><ellipse cx="1227" cy="2365" rx="10.2" ry="6.8" fill="#4a3c70" transform="rotate(75 1227 2365)"/><ellipse cx="1529" cy="2522" rx="11.2" ry="7.9" fill="#33255a" transform="rotate(37 1529 2522)"/><ellipse cx="1519" cy="2353" rx="9.0" ry="6.1" fill="#4c3f70" transform="rotate(147 1519 2353)"/><ellipse cx="1251" cy="2231" rx="7.9" ry="6.5" fill="#2a1d4c" transform="rotate(147 1251 2231)"/><ellipse cx="1459" cy="2457" rx="7.7" ry="6.3" fill="#514373" transform="rotate(157 1459 2457)"/><ellipse cx="1670" cy="2231" rx="10.1" ry="7.8" fill="#2a1d4c" transform="rotate(152 1670 2231)"/><ellipse cx="1502" cy="2522" rx="10.6" ry="9.0" fill="#2a1d4c" transform="rotate(131 1502 2522)"/><ellipse cx="1170" cy="2500" rx="10.6" ry="9.8" fill="#4c3f70" transform="rotate(119 1170 2500)"/><ellipse cx="1362" cy="2272" rx="10.9" ry="8.5" fill="#4c3f70" transform="rotate(50 1362 2272)"/><ellipse cx="1115" cy="2351" rx="9.4" ry="8.8" fill="#433569" transform="rotate(141 1115 2351)"/><ellipse cx="1109" cy="2468" rx="9.6" ry="6.8" fill="#433569" transform="rotate(126 1109 2468)"/><ellipse cx="1511" cy="2449" rx="9.1" ry="7.7" fill="#40336a" transform="rotate(15 1511 2449)"/><ellipse cx="1510" cy="2106" rx="8.8" ry="8.3" fill="#4c3f70" transform="rotate(146 1510 2106)"/><ellipse cx="1252" cy="2668" rx="11.2" ry="8.2" fill="#4a3c70" transform="rotate(82 1252 2668)"/><ellipse cx="1342" cy="2489" rx="8.7" ry="6.5" fill="#3c2e64" transform="rotate(1 1342 2489)"/><ellipse cx="1696" cy="2326" rx="9.3" ry="7.0" fill="#514373" transform="rotate(119 1696 2326)"/><ellipse cx="1420" cy="2701" rx="10.8" ry="9.9" fill="#40336a" transform="rotate(30 1420 2701)"/><ellipse cx="1262" cy="2723" rx="10.5" ry="9.2" fill="#33255a" transform="rotate(157 1262 2723)"/><ellipse cx="1108" cy="2216" rx="11.4" ry="10.1" fill="#4c3f70" transform="rotate(87 1108 2216)"/><ellipse cx="1170" cy="2092" rx="8.8" ry="6.2" fill="#2c1f50" transform="rotate(69 1170 2092)"/><ellipse cx="1601" cy="2194" rx="8.6" ry="6.9" fill="#4c3f70" transform="rotate(62 1601 2194)"/><ellipse cx="1181" cy="2301" rx="9.8" ry="9.0" fill="#40336a" transform="rotate(96 1181 2301)"/><ellipse cx="1091" cy="2132" rx="8.1" ry="6.4" fill="#2c1f50" transform="rotate(108 1091 2132)"/><ellipse cx="1631" cy="2654" rx="7.9" ry="6.8" fill="#35275c" transform="rotate(22 1631 2654)"/><ellipse cx="1369" cy="2606" rx="8.6" ry="6.1" fill="#33255a" transform="rotate(166 1369 2606)"/><ellipse cx="1306" cy="2548" rx="8.0" ry="5.4" fill="#2c1f50" transform="rotate(79 1306 2548)"/><ellipse cx="1454" cy="2629" rx="11.0" ry="7.2" fill="#40336a" transform="rotate(29 1454 2629)"/><ellipse cx="1501" cy="2362" rx="11.1" ry="8.9" fill="#4a3c70" transform="rotate(74 1501 2362)"/><ellipse cx="1460" cy="2348" rx="9.7" ry="6.4" fill="#40336a" transform="rotate(74 1460 2348)"/><ellipse cx="1680" cy="2731" rx="8.7" ry="6.7" fill="#3b2e63" transform="rotate(175 1680 2731)"/><ellipse cx="1240" cy="2108" rx="10.0" ry="7.3" fill="#3b2e63" transform="rotate(130 1240 2108)"/><ellipse cx="1206" cy="2344" rx="9.5" ry="6.8" fill="#433569" transform="rotate(62 1206 2344)"/><ellipse cx="1715" cy="2343" rx="9.5" ry="8.2" fill="#4c3f70" transform="rotate(85 1715 2343)"/><ellipse cx="1127" cy="2160" rx="9.5" ry="6.5" fill="#41336b" transform="rotate(11 1127 2160)"/><ellipse cx="1455" cy="2268" rx="10.8" ry="9.4" fill="#40336a" transform="rotate(163 1455 2268)"/><ellipse cx="1725" cy="2378" rx="9.0" ry="7.8" fill="#41336b" transform="rotate(63 1725 2378)"/><ellipse cx="1608" cy="2560" rx="10.1" ry="6.7" fill="#2a1d4c" transform="rotate(116 1608 2560)"/><ellipse cx="1127" cy="2108" rx="10.6" ry="7.7" fill="#3c2e64" transform="rotate(106 1127 2108)"/><ellipse cx="1225" cy="2424" rx="10.5" ry="7.7" fill="#2c1f50" transform="rotate(153 1225 2424)"/><ellipse cx="1577" cy="2567" rx="9.2" ry="6.5" fill="#3b2e63" transform="rotate(97 1577 2567)"/><ellipse cx="1398" cy="2531" rx="10.9" ry="7.7" fill="#40336a" transform="rotate(26 1398 2531)"/><ellipse cx="1148" cy="2661" rx="8.2" ry="7.3" fill="#433569" transform="rotate(54 1148 2661)"/><ellipse cx="1233" cy="2579" rx="8.3" ry="6.2" fill="#3c2e64" transform="rotate(171 1233 2579)"/><ellipse cx="1199" cy="2529" rx="8.6" ry="6.6" fill="#35275c" transform="rotate(110 1199 2529)"/><ellipse cx="1691" cy="2299" rx="10.6" ry="10.0" fill="#40336a" transform="rotate(150 1691 2299)"/><ellipse cx="1133" cy="2322" rx="8.5" ry="6.7" fill="#514373" transform="rotate(100 1133 2322)"/><ellipse cx="1449" cy="2665" rx="7.7" ry="5.4" fill="#40336a" transform="rotate(175 1449 2665)"/><ellipse cx="1082" cy="2633" rx="7.6" ry="5.4" fill="#33255a" transform="rotate(7 1082 2633)"/><ellipse cx="1503" cy="2384" rx="9.8" ry="8.1" fill="#3c2e64" transform="rotate(67 1503 2384)"/><ellipse cx="1437" cy="2462" rx="9.1" ry="7.3" fill="#3c2e64" transform="rotate(147 1437 2462)"/><ellipse cx="1679" cy="2189" rx="9.6" ry="8.2" fill="#33255a" transform="rotate(67 1679 2189)"/><ellipse cx="1538" cy="2293" rx="7.6" ry="7.1" fill="#514373" transform="rotate(33 1538 2293)"/><ellipse cx="1091" cy="2732" rx="7.8" ry="6.7" fill="#4c3f70" transform="rotate(100 1091 2732)"/><ellipse cx="1684" cy="2628" rx="10.6" ry="8.2" fill="#433569" transform="rotate(166 1684 2628)"/><ellipse cx="1581" cy="2422" rx="10.8" ry="9.8" fill="#3b2e63" transform="rotate(19 1581 2422)"/><ellipse cx="1724" cy="2133" rx="9.8" ry="7.2" fill="#4a3c70" transform="rotate(85 1724 2133)"/><ellipse cx="1660" cy="2607" rx="8.0" ry="7.6" fill="#2a1d4c" transform="rotate(93 1660 2607)"/><ellipse cx="1608" cy="2167" rx="11.3" ry="7.9" fill="#35275c" transform="rotate(8 1608 2167)"/><ellipse cx="1202" cy="2481" rx="11.1" ry="9.7" fill="#33255a" transform="rotate(61 1202 2481)"/><ellipse cx="1084" cy="2700" rx="8.8" ry="8.3" fill="#41336b" transform="rotate(104 1084 2700)"/><ellipse cx="1213" cy="2541" rx="8.6" ry="6.5" fill="#2a1d4c" transform="rotate(61 1213 2541)"/><ellipse cx="1306" cy="2312" rx="8.2" ry="7.5" fill="#4c3f70" transform="rotate(23 1306 2312)"/><ellipse cx="1692" cy="2106" rx="8.3" ry="7.5" fill="#433569" transform="rotate(1 1692 2106)"/><ellipse cx="1441" cy="2719" rx="7.7" ry="6.5" fill="#3c2e64" transform="rotate(147 1441 2719)"/><ellipse cx="1712" cy="2733" rx="7.7" ry="6.2" fill="#33255a" transform="rotate(23 1712 2733)"/><ellipse cx="1473" cy="2545" rx="9.3" ry="7.1" fill="#40336a" transform="rotate(55 1473 2545)"/><ellipse cx="1478" cy="2232" rx="7.7" ry="5.6" fill="#41336b" transform="rotate(43 1478 2232)"/><ellipse cx="1060" cy="2199" rx="9.4" ry="8.0" fill="#3b2e63" transform="rotate(98 1060 2199)"/><ellipse cx="1627" cy="2702" rx="8.1" ry="6.8" fill="#433569" transform="rotate(96 1627 2702)"/><ellipse cx="1255" cy="2438" rx="7.9" ry="5.2" fill="#2a1d4c" transform="rotate(126 1255 2438)"/><ellipse cx="1158" cy="2383" rx="8.0" ry="6.7" fill="#40336a" transform="rotate(12 1158 2383)"/><ellipse cx="1406" cy="2388" rx="9.4" ry="6.7" fill="#40336a" transform="rotate(45 1406 2388)"/><ellipse cx="1620" cy="2191" rx="8.7" ry="6.7" fill="#433569" transform="rotate(45 1620 2191)"/><ellipse cx="1113" cy="2435" rx="10.4" ry="9.4" fill="#33255a" transform="rotate(1 1113 2435)"/><ellipse cx="1020" cy="2162" rx="11.1" ry="8.5" fill="#40336a" transform="rotate(118 1020 2162)"/><ellipse cx="1219" cy="2716" rx="10.5" ry="8.5" fill="#2c1f50" transform="rotate(94 1219 2716)"/><ellipse cx="1468" cy="2639" rx="10.4" ry="7.3" fill="#4c3f70" transform="rotate(61 1468 2639)"/><ellipse cx="1239" cy="2407" rx="7.6" ry="6.8" fill="#2a1d4c" transform="rotate(93 1239 2407)"/><ellipse cx="1476" cy="2665" rx="8.3" ry="5.9" fill="#40336a" transform="rotate(135 1476 2665)"/><ellipse cx="1365" cy="2676" rx="7.6" ry="5.8" fill="#433569" transform="rotate(120 1365 2676)"/><ellipse cx="1268" cy="2369" rx="10.9" ry="10.1" fill="#40336a" transform="rotate(34 1268 2369)"/><ellipse cx="1347" cy="2323" rx="8.0" ry="6.2" fill="#2a1d4c" transform="rotate(133 1347 2323)"/><ellipse cx="1035" cy="2632" rx="9.9" ry="8.4" fill="#2a1d4c" transform="rotate(29 1035 2632)"/><ellipse cx="1546" cy="2406" rx="8.8" ry="7.9" fill="#2c1f50" transform="rotate(160 1546 2406)"/><ellipse cx="1006" cy="2354" rx="10.9" ry="8.2" fill="#514373" transform="rotate(37 1006 2354)"/><ellipse cx="1183" cy="2266" rx="10.4" ry="8.7" fill="#4c3f70" transform="rotate(71 1183 2266)"/><ellipse cx="1606" cy="2303" rx="9.5" ry="8.9" fill="#33255a" transform="rotate(123 1606 2303)"/><ellipse cx="1003" cy="2568" rx="7.8" ry="7.4" fill="#4c3f70" transform="rotate(80 1003 2568)"/><ellipse cx="1318" cy="2167" rx="8.2" ry="5.5" fill="#3b2e63" transform="rotate(84 1318 2167)"/><ellipse cx="1637" cy="2397" rx="10.3" ry="8.9" fill="#3b2e63" transform="rotate(167 1637 2397)"/><ellipse cx="1491" cy="2692" rx="10.5" ry="8.3" fill="#3c2e64" transform="rotate(2 1491 2692)"/><ellipse cx="1431" cy="2427" rx="10.3" ry="8.7" fill="#41336b" transform="rotate(163 1431 2427)"/><ellipse cx="1614" cy="2323" rx="9.9" ry="8.6" fill="#433569" transform="rotate(116 1614 2323)"/><ellipse cx="1715" cy="2303" rx="10.7" ry="9.6" fill="#41336b" transform="rotate(30 1715 2303)"/><ellipse cx="1223" cy="2639" rx="11.0" ry="9.8" fill="#4a3c70" transform="rotate(86 1223 2639)"/><ellipse cx="1242" cy="2189" rx="9.6" ry="8.5" fill="#3b2e63" transform="rotate(70 1242 2189)"/><ellipse cx="1693" cy="2586" rx="7.8" ry="6.4" fill="#2a1d4c" transform="rotate(109 1693 2586)"/><ellipse cx="1587" cy="2154" rx="9.2" ry="7.1" fill="#2c1f50" transform="rotate(40 1587 2154)"/><ellipse cx="1502" cy="2327" rx="8.7" ry="5.7" fill="#2c1f50" transform="rotate(23 1502 2327)"/><ellipse cx="1213" cy="2255" rx="10.1" ry="8.6" fill="#33255a" transform="rotate(79 1213 2255)"/><ellipse cx="1095" cy="2405" rx="10.5" ry="7.2" fill="#4c3f70" transform="rotate(136 1095 2405)"/><ellipse cx="1202" cy="2420" rx="11.3" ry="8.6" fill="#2c1f50" transform="rotate(20 1202 2420)"/><ellipse cx="1444" cy="2443" rx="8.0" ry="6.3" fill="#35275c" transform="rotate(152 1444 2443)"/><ellipse cx="1535" cy="2437" rx="9.6" ry="9.0" fill="#35275c" transform="rotate(140 1535 2437)"/><ellipse cx="1565" cy="2259" rx="9.2" ry="6.8" fill="#2a1d4c" transform="rotate(148 1565 2259)"/><ellipse cx="1479" cy="2137" rx="10.0" ry="7.5" fill="#3b2e63" transform="rotate(126 1479 2137)"/><ellipse cx="1021" cy="2460" rx="8.3" ry="6.1" fill="#33255a" transform="rotate(120 1021 2460)"/><ellipse cx="1354" cy="2142" rx="9.2" ry="7.3" fill="#40336a" transform="rotate(46 1354 2142)"/><ellipse cx="1711" cy="2706" rx="9.0" ry="8.1" fill="#41336b" transform="rotate(132 1711 2706)"/><ellipse cx="1500" cy="2487" rx="7.7" ry="7.2" fill="#514373" transform="rotate(68 1500 2487)"/><ellipse cx="1062" cy="2427" rx="10.6" ry="7.8" fill="#514373" transform="rotate(130 1062 2427)"/><ellipse cx="999" cy="2135" rx="8.7" ry="6.8" fill="#33255a" transform="rotate(47 999 2135)"/><ellipse cx="1010" cy="2589" rx="10.7" ry="8.3" fill="#2a1d4c" transform="rotate(163 1010 2589)"/><ellipse cx="1383" cy="2308" rx="11.3" ry="10.1" fill="#33255a" transform="rotate(9 1383 2308)"/><ellipse cx="1170" cy="2662" rx="8.3" ry="6.3" fill="#4c3f70" transform="rotate(170 1170 2662)"/><ellipse cx="1240" cy="2561" rx="8.6" ry="6.9" fill="#41336b" transform="rotate(147 1240 2561)"/><ellipse cx="1596" cy="2100" rx="8.3" ry="5.4" fill="#433569" transform="rotate(97 1596 2100)"/><ellipse cx="1363" cy="2337" rx="9.9" ry="8.3" fill="#3c2e64" transform="rotate(145 1363 2337)"/><ellipse cx="1529" cy="2705" rx="10.9" ry="9.8" fill="#40336a" transform="rotate(160 1529 2705)"/><ellipse cx="1384" cy="2441" rx="9.7" ry="7.8" fill="#3c2e64" transform="rotate(23 1384 2441)"/><ellipse cx="1214" cy="2604" rx="11.0" ry="9.0" fill="#2c1f50" transform="rotate(62 1214 2604)"/><ellipse cx="1221" cy="2118" rx="8.8" ry="5.7" fill="#3b2e63" transform="rotate(42 1221 2118)"/><ellipse cx="1454" cy="2296" rx="11.1" ry="8.0" fill="#4a3c70" transform="rotate(73 1454 2296)"/><ellipse cx="1718" cy="2278" rx="10.8" ry="8.9" fill="#2c1f50" transform="rotate(27 1718 2278)"/><ellipse cx="1061" cy="2609" rx="10.2" ry="9.2" fill="#40336a" transform="rotate(42 1061 2609)"/><ellipse cx="1170" cy="2627" rx="8.4" ry="7.1" fill="#35275c" transform="rotate(110 1170 2627)"/><ellipse cx="1310" cy="2450" rx="9.5" ry="7.2" fill="#2c1f50" transform="rotate(122 1310 2450)"/><ellipse cx="1668" cy="2534" rx="10.3" ry="7.7" fill="#3b2e63" transform="rotate(134 1668 2534)"/><ellipse cx="1590" cy="2609" rx="11.1" ry="8.1" fill="#514373" transform="rotate(83 1590 2609)"/><ellipse cx="1716" cy="2655" rx="9.5" ry="7.5" fill="#40336a" transform="rotate(129 1716 2655)"/><ellipse cx="1042" cy="2652" rx="11.4" ry="9.2" fill="#514373" transform="rotate(165 1042 2652)"/><ellipse cx="1136" cy="2510" rx="9.0" ry="7.8" fill="#433569" transform="rotate(152 1136 2510)"/><ellipse cx="1664" cy="2279" rx="10.9" ry="8.4" fill="#4c3f70" transform="rotate(93 1664 2279)"/><ellipse cx="1390" cy="2397" rx="10.9" ry="8.3" fill="#35275c" transform="rotate(135 1390 2397)"/><ellipse cx="1144" cy="2467" rx="8.4" ry="6.0" fill="#40336a" transform="rotate(174 1144 2467)"/><ellipse cx="1302" cy="2354" rx="10.5" ry="9.3" fill="#40336a" transform="rotate(62 1302 2354)"/><ellipse cx="1467" cy="2698" rx="10.1" ry="9.3" fill="#41336b" transform="rotate(108 1467 2698)"/><ellipse cx="1394" cy="2736" rx="9.6" ry="8.6" fill="#4c3f70" transform="rotate(24 1394 2736)"/><ellipse cx="1559" cy="2510" rx="8.5" ry="6.5" fill="#3b2e63" transform="rotate(177 1559 2510)"/><ellipse cx="1051" cy="2265" rx="9.5" ry="7.9" fill="#41336b" transform="rotate(71 1051 2265)"/><ellipse cx="1621" cy="2406" rx="8.9" ry="6.0" fill="#41336b" transform="rotate(161 1621 2406)"/><ellipse cx="1221" cy="2234" rx="7.9" ry="5.7" fill="#4c3f70" transform="rotate(127 1221 2234)"/><ellipse cx="1563" cy="2385" rx="9.0" ry="6.1" fill="#4c3f70" transform="rotate(57 1563 2385)"/><ellipse cx="1345" cy="2660" rx="9.1" ry="7.3" fill="#4c3f70" transform="rotate(134 1345 2660)"/><ellipse cx="1489" cy="2570" rx="9.2" ry="6.4" fill="#4a3c70" transform="rotate(21 1489 2570)"/><ellipse cx="1303" cy="2587" rx="9.6" ry="7.6" fill="#433569" transform="rotate(60 1303 2587)"/><ellipse cx="1693" cy="2269" rx="8.1" ry="5.9" fill="#41336b" transform="rotate(35 1693 2269)"/><ellipse cx="1503" cy="2627" rx="10.5" ry="8.2" fill="#35275c" transform="rotate(10 1503 2627)"/><ellipse cx="1107" cy="2292" rx="9.8" ry="6.9" fill="#33255a" transform="rotate(111 1107 2292)"/><ellipse cx="1592" cy="2460" rx="11.5" ry="7.9" fill="#4a3c70" transform="rotate(122 1592 2460)"/><ellipse cx="1109" cy="2715" rx="8.4" ry="7.4" fill="#41336b" transform="rotate(174 1109 2715)"/><ellipse cx="1248" cy="2376" rx="10.3" ry="9.2" fill="#2c1f50" transform="rotate(18 1248 2376)"/><ellipse cx="1437" cy="2649" rx="8.8" ry="7.6" fill="#514373" transform="rotate(92 1437 2649)"/><ellipse cx="1262" cy="2252" rx="8.1" ry="7.1" fill="#433569" transform="rotate(7 1262 2252)"/><ellipse cx="1227" cy="2665" rx="10.0" ry="7.1" fill="#33255a" transform="rotate(152 1227 2665)"/><ellipse cx="1549" cy="2494" rx="11.5" ry="10.0" fill="#2c1f50" transform="rotate(21 1549 2494)"/><ellipse cx="1364" cy="2358" rx="10.3" ry="8.5" fill="#3b2e63" transform="rotate(60 1364 2358)"/><ellipse cx="1388" cy="2601" rx="8.2" ry="7.7" fill="#4c3f70" transform="rotate(97 1388 2601)"/><ellipse cx="1022" cy="2606" rx="9.1" ry="7.0" fill="#35275c" transform="rotate(130 1022 2606)"/><ellipse cx="1009" cy="2187" rx="11.1" ry="8.6" fill="#41336b" transform="rotate(81 1009 2187)"/><ellipse cx="1283" cy="2505" rx="11.2" ry="10.0" fill="#35275c" transform="rotate(5 1283 2505)"/><ellipse cx="1080" cy="2455" rx="9.5" ry="7.9" fill="#41336b" transform="rotate(118 1080 2455)"/><ellipse cx="1556" cy="2474" rx="8.4" ry="7.2" fill="#2a1d4c" transform="rotate(170 1556 2474)"/><ellipse cx="1424" cy="2203" rx="11.2" ry="9.6" fill="#433569" transform="rotate(122 1424 2203)"/><ellipse cx="1245" cy="2465" rx="8.4" ry="6.8" fill="#3b2e63" transform="rotate(96 1245 2465)"/><ellipse cx="1155" cy="2138" rx="7.9" ry="6.7" fill="#2a1d4c" transform="rotate(53 1155 2138)"/><ellipse cx="1667" cy="2208" rx="11.4" ry="9.9" fill="#433569" transform="rotate(24 1667 2208)"/><ellipse cx="1364" cy="2414" rx="11.2" ry="8.6" fill="#33255a" transform="rotate(175 1364 2414)"/><ellipse cx="1340" cy="2637" rx="9.9" ry="8.6" fill="#40336a" transform="rotate(94 1340 2637)"/><ellipse cx="1639" cy="2337" rx="8.7" ry="5.7" fill="#514373" transform="rotate(43 1639 2337)"/><ellipse cx="1207" cy="2280" rx="11.0" ry="9.7" fill="#2a1d4c" transform="rotate(122 1207 2280)"/><ellipse cx="1510" cy="2689" rx="9.4" ry="6.1" fill="#2a1d4c" transform="rotate(110 1510 2689)"/><ellipse cx="1622" cy="2586" rx="9.4" ry="6.4" fill="#4a3c70" transform="rotate(33 1622 2586)"/><ellipse cx="1263" cy="2483" rx="11.0" ry="7.6" fill="#4a3c70" transform="rotate(154 1263 2483)"/><ellipse cx="1000" cy="2092" rx="10.2" ry="8.4" fill="#35275c" transform="rotate(28 1000 2092)"/><ellipse cx="1000" cy="2303" rx="10.6" ry="8.0" fill="#41336b" transform="rotate(89 1000 2303)"/><ellipse cx="1499" cy="2189" rx="9.7" ry="8.4" fill="#433569" transform="rotate(144 1499 2189)"/><ellipse cx="1570" cy="2716" rx="10.9" ry="7.5" fill="#3c2e64" transform="rotate(30 1570 2716)"/><ellipse cx="1301" cy="2210" rx="11.2" ry="9.2" fill="#33255a" transform="rotate(129 1301 2210)"/><ellipse cx="1491" cy="2717" rx="9.3" ry="6.1" fill="#3b2e63" transform="rotate(164 1491 2717)"/><ellipse cx="1081" cy="2506" rx="8.4" ry="5.7" fill="#41336b" transform="rotate(60 1081 2506)"/><ellipse cx="1095" cy="2484" rx="11.2" ry="8.5" fill="#33255a" transform="rotate(166 1095 2484)"/><ellipse cx="1323" cy="2282" rx="11.4" ry="10.7" fill="#4a3c70" transform="rotate(105 1323 2282)"/><ellipse cx="1150" cy="2120" rx="9.8" ry="9.1" fill="#3c2e64" transform="rotate(23 1150 2120)"/><ellipse cx="1085" cy="2153" rx="8.3" ry="5.7" fill="#4c3f70" transform="rotate(16 1085 2153)"/><ellipse cx="1472" cy="2333" rx="11.4" ry="8.0" fill="#2a1d4c" transform="rotate(54 1472 2333)"/><ellipse cx="1256" cy="2639" rx="9.9" ry="6.7" fill="#41336b" transform="rotate(78 1256 2639)"/><ellipse cx="1615" cy="2341" rx="7.9" ry="6.0" fill="#3c2e64" transform="rotate(85 1615 2341)"/><ellipse cx="1103" cy="2504" rx="11.3" ry="10.2" fill="#41336b" transform="rotate(1 1103 2504)"/><ellipse cx="1436" cy="2298" rx="8.2" ry="6.4" fill="#4a3c70" transform="rotate(120 1436 2298)"/><ellipse cx="1406" cy="2154" rx="10.0" ry="7.0" fill="#40336a" transform="rotate(153 1406 2154)"/><ellipse cx="1723" cy="2465" rx="10.6" ry="9.2" fill="#3b2e63" transform="rotate(140 1723 2465)"/><ellipse cx="1344" cy="2594" rx="10.8" ry="8.7" fill="#2a1d4c" transform="rotate(114 1344 2594)"/><ellipse cx="1411" cy="2272" rx="9.7" ry="7.1" fill="#3b2e63" transform="rotate(124 1411 2272)"/><ellipse cx="1379" cy="2223" rx="10.6" ry="9.5" fill="#514373" transform="rotate(82 1379 2223)"/><ellipse cx="1001" cy="2730" rx="10.6" ry="8.8" fill="#3b2e63" transform="rotate(46 1001 2730)"/><ellipse cx="1712" cy="2206" rx="7.6" ry="6.5" fill="#40336a" transform="rotate(4 1712 2206)"/><ellipse cx="1333" cy="2394" rx="8.9" ry="8.1" fill="#33255a" transform="rotate(18 1333 2394)"/><ellipse cx="1499" cy="2551" rx="11.2" ry="7.7" fill="#4a3c70" transform="rotate(74 1499 2551)"/><ellipse cx="1310" cy="2701" rx="11.4" ry="10.2" fill="#514373" transform="rotate(35 1310 2701)"/><ellipse cx="1137" cy="2295" rx="8.4" ry="5.6" fill="#3b2e63" transform="rotate(167 1137 2295)"/><ellipse cx="1220" cy="2383" rx="11.0" ry="9.0" fill="#33255a" transform="rotate(175 1220 2383)"/><ellipse cx="1591" cy="2686" rx="8.7" ry="6.8" fill="#433569" transform="rotate(165 1591 2686)"/><ellipse cx="1036" cy="2276" rx="9.5" ry="8.0" fill="#40336a" transform="rotate(178 1036 2276)"/><ellipse cx="1291" cy="2457" rx="10.7" ry="9.6" fill="#3b2e63" transform="rotate(80 1291 2457)"/><ellipse cx="1196" cy="2124" rx="9.2" ry="6.2" fill="#4c3f70" transform="rotate(73 1196 2124)"/><ellipse cx="1382" cy="2621" rx="9.0" ry="5.9" fill="#33255a" transform="rotate(164 1382 2621)"/><ellipse cx="1436" cy="2679" rx="10.1" ry="6.8" fill="#3b2e63" transform="rotate(116 1436 2679)"/><ellipse cx="1644" cy="2096" rx="7.9" ry="7.0" fill="#4c3f70" transform="rotate(97 1644 2096)"/><ellipse cx="1641" cy="2594" rx="9.1" ry="8.4" fill="#433569" transform="rotate(128 1641 2594)"/><ellipse cx="1681" cy="2171" rx="8.5" ry="7.3" fill="#40336a" transform="rotate(147 1681 2171)"/><ellipse cx="1679" cy="2678" rx="9.8" ry="8.4" fill="#35275c" transform="rotate(118 1679 2678)"/><ellipse cx="1177" cy="2388" rx="8.5" ry="6.8" fill="#4a3c70" transform="rotate(63 1177 2388)"/><ellipse cx="1708" cy="2555" rx="11.1" ry="9.3" fill="#4c3f70" transform="rotate(152 1708 2555)"/><ellipse cx="1466" cy="2186" rx="9.0" ry="7.8" fill="#433569" transform="rotate(47 1466 2186)"/><ellipse cx="1053" cy="2564" rx="10.1" ry="8.4" fill="#35275c" transform="rotate(150 1053 2564)"/><ellipse cx="1178" cy="2238" rx="8.4" ry="6.2" fill="#2c1f50" transform="rotate(48 1178 2238)"/><ellipse cx="1038" cy="2532" rx="9.5" ry="7.6" fill="#3c2e64" transform="rotate(49 1038 2532)"/><ellipse cx="1632" cy="2570" rx="8.0" ry="7.0" fill="#3b2e63" transform="rotate(28 1632 2570)"/><ellipse cx="1721" cy="2593" rx="7.9" ry="5.9" fill="#4c3f70" transform="rotate(146 1721 2593)"/><ellipse cx="1648" cy="2687" rx="8.6" ry="6.1" fill="#35275c" transform="rotate(179 1648 2687)"/><ellipse cx="1065" cy="2467" rx="10.4" ry="9.6" fill="#35275c" transform="rotate(132 1065 2467)"/><ellipse cx="1209" cy="2666" rx="8.1" ry="5.9" fill="#2c1f50" transform="rotate(149 1209 2666)"/><ellipse cx="1429" cy="2131" rx="10.2" ry="9.1" fill="#3b2e63" transform="rotate(121 1429 2131)"/><ellipse cx="1446" cy="2493" rx="9.3" ry="6.7" fill="#2a1d4c" transform="rotate(133 1446 2493)"/><ellipse cx="1021" cy="2485" rx="8.9" ry="6.9" fill="#4a3c70" transform="rotate(159 1021 2485)"/><ellipse cx="1178" cy="2192" rx="8.9" ry="6.6" fill="#3b2e63" transform="rotate(35 1178 2192)"/><ellipse cx="1506" cy="2236" rx="8.5" ry="6.5" fill="#40336a" transform="rotate(69 1506 2236)"/><ellipse cx="1144" cy="2403" rx="10.5" ry="7.6" fill="#2c1f50" transform="rotate(81 1144 2403)"/><ellipse cx="1303" cy="2123" rx="10.6" ry="9.8" fill="#2c1f50" transform="rotate(119 1303 2123)"/><ellipse cx="1432" cy="2507" rx="8.5" ry="7.7" fill="#40336a" transform="rotate(116 1432 2507)"/><ellipse cx="1665" cy="2631" rx="11.4" ry="7.6" fill="#40336a" transform="rotate(134 1665 2631)"/><ellipse cx="1415" cy="2355" rx="8.9" ry="6.0" fill="#433569" transform="rotate(46 1415 2355)"/><ellipse cx="1461" cy="2122" rx="7.8" ry="6.9" fill="#433569" transform="rotate(11 1461 2122)"/><ellipse cx="1210" cy="2582" rx="11.3" ry="7.9" fill="#33255a" transform="rotate(156 1210 2582)"/><ellipse cx="1187" cy="2654" rx="7.8" ry="6.0" fill="#41336b" transform="rotate(85 1187 2654)"/><ellipse cx="1072" cy="2594" rx="8.2" ry="7.2" fill="#41336b" transform="rotate(172 1072 2594)"/><ellipse cx="1338" cy="2537" rx="8.5" ry="6.7" fill="#2c1f50" transform="rotate(110 1338 2537)"/><ellipse cx="1156" cy="2565" rx="8.5" ry="7.2" fill="#433569" transform="rotate(49 1156 2565)"/><ellipse cx="1560" cy="2278" rx="8.0" ry="6.5" fill="#4c3f70" transform="rotate(75 1560 2278)"/><ellipse cx="1134" cy="2708" rx="8.2" ry="7.1" fill="#433569" transform="rotate(19 1134 2708)"/><ellipse cx="1064" cy="2647" rx="9.9" ry="8.6" fill="#514373" transform="rotate(78 1064 2647)"/><ellipse cx="1321" cy="2654" rx="9.7" ry="7.7" fill="#2a1d4c" transform="rotate(104 1321 2654)"/><ellipse cx="1325" cy="2186" rx="8.1" ry="7.3" fill="#3b2e63" transform="rotate(60 1325 2186)"/><ellipse cx="1180" cy="2478" rx="9.9" ry="6.9" fill="#2c1f50" transform="rotate(69 1180 2478)"/><ellipse cx="1085" cy="2234" rx="9.2" ry="6.9" fill="#4c3f70" transform="rotate(119 1085 2234)"/><ellipse cx="1475" cy="2294" rx="11.4" ry="8.8" fill="#35275c" transform="rotate(155 1475 2294)"/><ellipse cx="1402" cy="2479" rx="9.1" ry="6.0" fill="#4a3c70" transform="rotate(123 1402 2479)"/><ellipse cx="1311" cy="2722" rx="9.8" ry="6.5" fill="#35275c" transform="rotate(43 1311 2722)"/><ellipse cx="1265" cy="2303" rx="8.2" ry="6.9" fill="#2c1f50" transform="rotate(20 1265 2303)"/><ellipse cx="1453" cy="2096" rx="8.2" ry="6.7" fill="#3b2e63" transform="rotate(16 1453 2096)"/><ellipse cx="1107" cy="2522" rx="8.3" ry="7.8" fill="#4c3f70" transform="rotate(176 1107 2522)"/><ellipse cx="1112" cy="2139" rx="8.5" ry="8.1" fill="#433569" transform="rotate(14 1112 2139)"/><ellipse cx="1640" cy="2443" rx="10.3" ry="6.7" fill="#2a1d4c" transform="rotate(107 1640 2443)"/><ellipse cx="1686" cy="2440" rx="8.7" ry="7.0" fill="#2c1f50" transform="rotate(37 1686 2440)"/><ellipse cx="1370" cy="2389" rx="10.8" ry="7.7" fill="#2c1f50" transform="rotate(175 1370 2389)"/><ellipse cx="1127" cy="2607" rx="9.9" ry="6.5" fill="#4c3f70" transform="rotate(25 1127 2607)"/><ellipse cx="1535" cy="2584" rx="10.1" ry="8.5" fill="#514373" transform="rotate(155 1535 2584)"/><ellipse cx="1574" cy="2471" rx="10.6" ry="10.0" fill="#4c3f70" transform="rotate(73 1574 2471)"/><ellipse cx="1264" cy="2566" rx="10.4" ry="9.7" fill="#2a1d4c" transform="rotate(97 1264 2566)"/><ellipse cx="1246" cy="2530" rx="10.3" ry="8.2" fill="#2c1f50" transform="rotate(164 1246 2530)"/><ellipse cx="1052" cy="2386" rx="7.8" ry="6.2" fill="#4c3f70" transform="rotate(179 1052 2386)"/><ellipse cx="1567" cy="2319" rx="8.9" ry="6.3" fill="#35275c" transform="rotate(108 1567 2319)"/><ellipse cx="1539" cy="2318" rx="8.7" ry="6.8" fill="#514373" transform="rotate(161 1539 2318)"/><ellipse cx="1529" cy="2272" rx="8.9" ry="6.2" fill="#4a3c70" transform="rotate(108 1529 2272)"/><ellipse cx="1411" cy="2518" rx="8.6" ry="5.6" fill="#33255a" transform="rotate(120 1411 2518)"/><ellipse cx="1179" cy="2734" rx="9.8" ry="8.3" fill="#41336b" transform="rotate(71 1179 2734)"/><ellipse cx="1520" cy="2567" rx="10.8" ry="8.9" fill="#2c1f50" transform="rotate(91 1520 2567)"/><ellipse cx="1629" cy="2737" rx="7.6" ry="6.3" fill="#433569" transform="rotate(30 1629 2737)"/><ellipse cx="1718" cy="2487" rx="7.9" ry="5.9" fill="#35275c" transform="rotate(37 1718 2487)"/><ellipse cx="1699" cy="2606" rx="11.3" ry="8.9" fill="#4c3f70" transform="rotate(74 1699 2606)"/><ellipse cx="1723" cy="2256" rx="7.9" ry="7.2" fill="#433569" transform="rotate(105 1723 2256)"/><ellipse cx="1547" cy="2142" rx="7.8" ry="7.2" fill="#433569" transform="rotate(8 1547 2142)"/><ellipse cx="1643" cy="2711" rx="8.5" ry="6.1" fill="#2a1d4c" transform="rotate(165 1643 2711)"/><ellipse cx="1073" cy="2139" rx="10.1" ry="6.7" fill="#2c1f50" transform="rotate(99 1073 2139)"/><ellipse cx="1664" cy="2091" rx="10.8" ry="8.3" fill="#433569" transform="rotate(39 1664 2091)"/><ellipse cx="1149" cy="2156" rx="11.4" ry="9.7" fill="#40336a" transform="rotate(2 1149 2156)"/><ellipse cx="1507" cy="2404" rx="7.6" ry="5.0" fill="#33255a" transform="rotate(24 1507 2404)"/><ellipse cx="1372" cy="2102" rx="8.5" ry="7.3" fill="#40336a" transform="rotate(69 1372 2102)"/><ellipse cx="1416" cy="2107" rx="8.9" ry="6.0" fill="#35275c" transform="rotate(149 1416 2107)"/><ellipse cx="1100" cy="2267" rx="7.6" ry="5.6" fill="#3b2e63" transform="rotate(136 1100 2267)"/><ellipse cx="1629" cy="2506" rx="10.0" ry="8.6" fill="#4c3f70" transform="rotate(152 1629 2506)"/><ellipse cx="1471" cy="2584" rx="11.2" ry="8.0" fill="#33255a" transform="rotate(114 1471 2584)"/><ellipse cx="1252" cy="2207" rx="9.5" ry="8.5" fill="#35275c" transform="rotate(6 1252 2207)"/><ellipse cx="1076" cy="2542" rx="9.6" ry="6.4" fill="#433569" transform="rotate(135 1076 2542)"/><ellipse cx="1612" cy="2110" rx="8.0" ry="6.9" fill="#514373" transform="rotate(125 1612 2110)"/><ellipse cx="1278" cy="2732" rx="9.0" ry="8.1" fill="#3b2e63" transform="rotate(6 1278 2732)"/><ellipse cx="1413" cy="2681" rx="9.3" ry="6.7" fill="#514373" transform="rotate(80 1413 2681)"/><ellipse cx="1001" cy="2698" rx="8.5" ry="5.6" fill="#41336b" transform="rotate(100 1001 2698)"/><ellipse cx="1477" cy="2370" rx="11.1" ry="9.5" fill="#433569" transform="rotate(46 1477 2370)"/><ellipse cx="1592" cy="2437" rx="9.7" ry="8.3" fill="#35275c" transform="rotate(49 1592 2437)"/><ellipse cx="1087" cy="2429" rx="7.7" ry="5.3" fill="#40336a" transform="rotate(134 1087 2429)"/><ellipse cx="1669" cy="2495" rx="8.6" ry="6.2" fill="#433569" transform="rotate(165 1669 2495)"/><ellipse cx="1562" cy="2696" rx="9.4" ry="7.8" fill="#433569" transform="rotate(31 1562 2696)"/><ellipse cx="1536" cy="2369" rx="9.3" ry="8.6" fill="#4a3c70" transform="rotate(131 1536 2369)"/><ellipse cx="1132" cy="2548" rx="9.9" ry="8.6" fill="#514373" transform="rotate(170 1132 2548)"/><ellipse cx="1137" cy="2626" rx="8.1" ry="7.7" fill="#2a1d4c" transform="rotate(31 1137 2626)"/><ellipse cx="1485" cy="2205" rx="9.8" ry="8.3" fill="#40336a" transform="rotate(60 1485 2205)"/><ellipse cx="1617" cy="2265" rx="8.1" ry="6.7" fill="#35275c" transform="rotate(2 1617 2265)"/><ellipse cx="1318" cy="2107" rx="11.3" ry="8.7" fill="#2c1f50" transform="rotate(26 1318 2107)"/><ellipse cx="1013" cy="2104" rx="11.2" ry="8.4" fill="#33255a" transform="rotate(12 1013 2104)"/><ellipse cx="1729" cy="2724" rx="11.1" ry="8.7" fill="#433569" transform="rotate(51 1729 2724)"/><ellipse cx="1585" cy="2587" rx="7.5" ry="5.6" fill="#40336a" transform="rotate(43 1585 2587)"/><ellipse cx="1088" cy="2613" rx="9.7" ry="7.0" fill="#2c1f50" transform="rotate(158 1088 2613)"/><ellipse cx="1553" cy="2195" rx="8.8" ry="6.8" fill="#40336a" transform="rotate(17 1553 2195)"/><ellipse cx="1484" cy="2521" rx="10.3" ry="7.7" fill="#4a3c70" transform="rotate(83 1484 2521)"/><ellipse cx="1727" cy="2414" rx="9.6" ry="8.5" fill="#2a1d4c" transform="rotate(18 1727 2414)"/><ellipse cx="1673" cy="2587" rx="8.9" ry="6.9" fill="#3b2e63" transform="rotate(118 1673 2587)"/><ellipse cx="999" cy="2169" rx="9.2" ry="6.2" fill="#2c1f50" transform="rotate(67 999 2169)"/><ellipse cx="1696" cy="2540" rx="7.7" ry="6.3" fill="#33255a" transform="rotate(81 1696 2540)"/><ellipse cx="1055" cy="2631" rx="9.4" ry="8.4" fill="#2c1f50" transform="rotate(143 1055 2631)"/><ellipse cx="1638" cy="2623" rx="7.9" ry="7.4" fill="#433569" transform="rotate(87 1638 2623)"/><ellipse cx="1507" cy="2735" rx="10.5" ry="10.0" fill="#2a1d4c" transform="rotate(160 1507 2735)"/><ellipse cx="1457" cy="2315" rx="8.0" ry="5.5" fill="#4a3c70" transform="rotate(129 1457 2315)"/><ellipse cx="1288" cy="2190" rx="8.9" ry="7.5" fill="#3b2e63" transform="rotate(53 1288 2190)"/><ellipse cx="1587" cy="2632" rx="10.6" ry="8.2" fill="#4a3c70" transform="rotate(155 1587 2632)"/><ellipse cx="1551" cy="2350" rx="8.1" ry="6.9" fill="#3b2e63" transform="rotate(57 1551 2350)"/><ellipse cx="1058" cy="2332" rx="8.8" ry="6.0" fill="#3c2e64" transform="rotate(110 1058 2332)"/><ellipse cx="1578" cy="2671" rx="10.9" ry="9.1" fill="#433569" transform="rotate(164 1578 2671)"/><ellipse cx="1250" cy="2738" rx="8.8" ry="7.3" fill="#3b2e63" transform="rotate(43 1250 2738)"/><ellipse cx="1439" cy="2224" rx="8.0" ry="7.1" fill="#3b2e63" transform="rotate(91 1439 2224)"/><ellipse cx="1095" cy="2093" rx="7.5" ry="6.4" fill="#40336a" transform="rotate(112 1095 2093)"/><ellipse cx="1058" cy="2093" rx="11.0" ry="10.0" fill="#433569" transform="rotate(8 1058 2093)"/><ellipse cx="1273" cy="2660" rx="8.9" ry="7.9" fill="#4a3c70" transform="rotate(12 1273 2660)"/><ellipse cx="1006" cy="2473" rx="10.5" ry="7.1" fill="#433569" transform="rotate(153 1006 2473)"/><ellipse cx="1267" cy="2092" rx="8.2" ry="5.5" fill="#2c1f50" transform="rotate(151 1267 2092)"/><ellipse cx="1110" cy="2649" rx="9.7" ry="7.0" fill="#4c3f70" transform="rotate(59 1110 2649)"/><ellipse cx="1255" cy="2167" rx="8.9" ry="7.4" fill="#33255a" transform="rotate(102 1255 2167)"/><ellipse cx="1400" cy="2637" rx="9.2" ry="6.0" fill="#3c2e64" transform="rotate(160 1400 2637)"/><ellipse cx="1488" cy="2416" rx="10.0" ry="9.0" fill="#33255a" transform="rotate(14 1488 2416)"/><ellipse cx="1205" cy="2634" rx="10.6" ry="9.8" fill="#2a1d4c" transform="rotate(26 1205 2634)"/><ellipse cx="1586" cy="2731" rx="9.9" ry="7.6" fill="#3b2e63" transform="rotate(156 1586 2731)"/><ellipse cx="1085" cy="2303" rx="11.0" ry="8.2" fill="#4c3f70" transform="rotate(138 1085 2303)"/><ellipse cx="1528" cy="2659" rx="10.8" ry="7.0" fill="#35275c" transform="rotate(44 1528 2659)"/><ellipse cx="1679" cy="2605" rx="8.2" ry="7.2" fill="#4a3c70" transform="rotate(45 1679 2605)"/><ellipse cx="1604" cy="2700" rx="9.8" ry="7.5" fill="#41336b" transform="rotate(84 1604 2700)"/><ellipse cx="1545" cy="2532" rx="8.1" ry="6.9" fill="#2c1f50" transform="rotate(157 1545 2532)"/><ellipse cx="1515" cy="2646" rx="11.3" ry="7.9" fill="#4c3f70" transform="rotate(150 1515 2646)"/><ellipse cx="1564" cy="2412" rx="8.7" ry="5.7" fill="#4a3c70" transform="rotate(150 1564 2412)"/><ellipse cx="1373" cy="2151" rx="11.3" ry="9.2" fill="#35275c" transform="rotate(170 1373 2151)"/><ellipse cx="1646" cy="2158" rx="11.0" ry="8.1" fill="#35275c" transform="rotate(167 1646 2158)"/><ellipse cx="1427" cy="2316" rx="11.3" ry="10.2" fill="#33255a" transform="rotate(163 1427 2316)"/><ellipse cx="1382" cy="2327" rx="10.9" ry="7.9" fill="#2c1f50" transform="rotate(85 1382 2327)"/><ellipse cx="1253" cy="2698" rx="8.7" ry="7.3" fill="#41336b" transform="rotate(176 1253 2698)"/><ellipse cx="1543" cy="2386" rx="7.5" ry="6.7" fill="#33255a" transform="rotate(54 1543 2386)"/><ellipse cx="1381" cy="2659" rx="8.0" ry="7.0" fill="#41336b" transform="rotate(84 1381 2659)"/><ellipse cx="1154" cy="2177" rx="10.1" ry="7.4" fill="#2c1f50" transform="rotate(110 1154 2177)"/><ellipse cx="1668" cy="2427" rx="9.5" ry="7.4" fill="#2a1d4c" transform="rotate(99 1668 2427)"/><ellipse cx="1164" cy="2354" rx="10.3" ry="6.9" fill="#2c1f50" transform="rotate(79 1164 2354)"/><ellipse cx="1433" cy="2592" rx="9.9" ry="7.2" fill="#2a1d4c" transform="rotate(53 1433 2592)"/><ellipse cx="1420" cy="2539" rx="9.7" ry="8.5" fill="#4a3c70" transform="rotate(107 1420 2539)"/><ellipse cx="1293" cy="2165" rx="10.2" ry="6.9" fill="#40336a" transform="rotate(85 1293 2165)"/><ellipse cx="1675" cy="2132" rx="10.6" ry="8.0" fill="#4c3f70" transform="rotate(168 1675 2132)"/><ellipse cx="1103" cy="2366" rx="10.5" ry="7.9" fill="#33255a" transform="rotate(106 1103 2366)"/><ellipse cx="1192" cy="2547" rx="7.6" ry="5.2" fill="#3c2e64" transform="rotate(63 1192 2547)"/><ellipse cx="1493" cy="2256" rx="10.1" ry="8.5" fill="#3b2e63" transform="rotate(42 1493 2256)"/><ellipse cx="1004" cy="2649" rx="11.2" ry="8.0" fill="#33255a" transform="rotate(53 1004 2649)"/><ellipse cx="1526" cy="2117" rx="11.2" ry="9.3" fill="#433569" transform="rotate(174 1526 2117)"/><ellipse cx="1667" cy="2460" rx="9.0" ry="7.9" fill="#40336a" transform="rotate(77 1667 2460)"/><ellipse cx="1281" cy="2216" rx="9.0" ry="7.0" fill="#3c2e64" transform="rotate(89 1281 2216)"/><ellipse cx="1483" cy="2622" rx="8.1" ry="6.8" fill="#3c2e64" transform="rotate(58 1483 2622)"/><ellipse cx="1410" cy="2727" rx="8.7" ry="6.8" fill="#33255a" transform="rotate(135 1410 2727)"/><ellipse cx="1027" cy="2384" rx="8.1" ry="7.4" fill="#4c3f70" transform="rotate(150 1027 2384)"/><ellipse cx="1212" cy="2169" rx="8.8" ry="8.1" fill="#433569" transform="rotate(121 1212 2169)"/><ellipse cx="1645" cy="2518" rx="10.6" ry="8.3" fill="#41336b" transform="rotate(19 1645 2518)"/><ellipse cx="1570" cy="2537" rx="9.9" ry="7.8" fill="#33255a" transform="rotate(150 1570 2537)"/><ellipse cx="1474" cy="2273" rx="11.1" ry="10.2" fill="#35275c" transform="rotate(113 1474 2273)"/><ellipse cx="1567" cy="2338" rx="8.0" ry="7.3" fill="#4a3c70" transform="rotate(0 1567 2338)"/><ellipse cx="1610" cy="2519" rx="10.3" ry="9.1" fill="#3b2e63" transform="rotate(73 1610 2519)"/><ellipse cx="1596" cy="2380" rx="10.5" ry="7.8" fill="#2c1f50" transform="rotate(162 1596 2380)"/><ellipse cx="1459" cy="2559" rx="10.7" ry="7.2" fill="#41336b" transform="rotate(11 1459 2559)"/><ellipse cx="1708" cy="2671" rx="10.7" ry="7.7" fill="#2c1f50" transform="rotate(44 1708 2671)"/><ellipse cx="1436" cy="2629" rx="9.7" ry="8.5" fill="#2c1f50" transform="rotate(54 1436 2629)"/><ellipse cx="1398" cy="2094" rx="9.4" ry="6.5" fill="#433569" transform="rotate(156 1398 2094)"/><ellipse cx="1273" cy="2619" rx="10.6" ry="8.3" fill="#33255a" transform="rotate(5 1273 2619)"/><ellipse cx="1384" cy="2193" rx="8.7" ry="6.7" fill="#40336a" transform="rotate(40 1384 2193)"/><ellipse cx="1392" cy="2568" rx="7.7" ry="6.6" fill="#4a3c70" transform="rotate(133 1392 2568)"/><ellipse cx="1133" cy="2376" rx="10.7" ry="9.5" fill="#33255a" transform="rotate(136 1133 2376)"/><ellipse cx="1571" cy="2453" rx="8.6" ry="7.1" fill="#2a1d4c" transform="rotate(38 1571 2453)"/><ellipse cx="1041" cy="2473" rx="8.9" ry="6.0" fill="#4c3f70" transform="rotate(17 1041 2473)"/><ellipse cx="1109" cy="2164" rx="9.8" ry="6.6" fill="#4c3f70" transform="rotate(54 1109 2164)"/><ellipse cx="1724" cy="2324" rx="11.5" ry="7.9" fill="#514373" transform="rotate(103 1724 2324)"/><ellipse cx="1085" cy="2352" rx="7.8" ry="5.9" fill="#2a1d4c" transform="rotate(49 1085 2352)"/><ellipse cx="1032" cy="2582" rx="10.4" ry="8.2" fill="#3c2e64" transform="rotate(112 1032 2582)"/><ellipse cx="1195" cy="2097" rx="10.0" ry="8.3" fill="#3c2e64" transform="rotate(129 1195 2097)"/><ellipse cx="1149" cy="2609" rx="10.1" ry="8.4" fill="#4c3f70" transform="rotate(66 1149 2609)"/><ellipse cx="1127" cy="2483" rx="10.9" ry="9.1" fill="#4a3c70" transform="rotate(144 1127 2483)"/><ellipse cx="1016" cy="2710" rx="8.7" ry="7.6" fill="#2a1d4c" transform="rotate(93 1016 2710)"/><ellipse cx="1697" cy="2720" rx="8.9" ry="6.0" fill="#433569" transform="rotate(166 1697 2720)"/><ellipse cx="1655" cy="2355" rx="8.9" ry="6.3" fill="#35275c" transform="rotate(123 1655 2355)"/><ellipse cx="1530" cy="2096" rx="10.3" ry="7.2" fill="#2a1d4c" transform="rotate(125 1530 2096)"/><ellipse cx="1320" cy="2498" rx="10.7" ry="7.9" fill="#3b2e63" transform="rotate(116 1320 2498)"/><ellipse cx="1394" cy="2504" rx="9.1" ry="7.1" fill="#3c2e64" transform="rotate(160 1394 2504)"/><ellipse cx="1687" cy="2466" rx="10.4" ry="8.2" fill="#4a3c70" transform="rotate(102 1687 2466)"/><ellipse cx="1633" cy="2312" rx="10.1" ry="8.0" fill="#41336b" transform="rotate(92 1633 2312)"/><ellipse cx="1003" cy="2376" rx="8.9" ry="7.2" fill="#4a3c70" transform="rotate(67 1003 2376)"/><ellipse cx="1034" cy="2433" rx="8.4" ry="6.5" fill="#2a1d4c" transform="rotate(77 1034 2433)"/><ellipse cx="1012" cy="2415" rx="8.6" ry="5.7" fill="#4c3f70" transform="rotate(40 1012 2415)"/><ellipse cx="1002" cy="2520" rx="9.7" ry="6.7" fill="#33255a" transform="rotate(167 1002 2520)"/><ellipse cx="1492" cy="2438" rx="8.4" ry="6.0" fill="#433569" transform="rotate(61 1492 2438)"/><ellipse cx="1388" cy="2263" rx="8.7" ry="7.7" fill="#4a3c70" transform="rotate(120 1388 2263)"/><ellipse cx="1531" cy="2157" rx="10.9" ry="7.3" fill="#3c2e64" transform="rotate(109 1531 2157)"/><ellipse cx="1621" cy="2125" rx="9.2" ry="6.9" fill="#4c3f70" transform="rotate(105 1621 2125)"/><ellipse cx="1304" cy="2287" rx="9.4" ry="7.5" fill="#4a3c70" transform="rotate(30 1304 2287)"/><ellipse cx="1132" cy="2680" rx="10.4" ry="7.4" fill="#3c2e64" transform="rotate(143 1132 2680)"/><ellipse cx="1603" cy="2580" rx="8.0" ry="5.7" fill="#40336a" transform="rotate(26 1603 2580)"/><ellipse cx="1395" cy="2341" rx="9.8" ry="7.1" fill="#2c1f50" transform="rotate(176 1395 2341)"/><ellipse cx="1722" cy="2156" rx="10.8" ry="7.3" fill="#3c2e64" transform="rotate(75 1722 2156)"/><ellipse cx="1054" cy="2545" rx="8.5" ry="6.0" fill="#35275c" transform="rotate(34 1054 2545)"/><ellipse cx="1031" cy="2305" rx="8.3" ry="5.9" fill="#514373" transform="rotate(115 1031 2305)"/><ellipse cx="1048" cy="2738" rx="7.8" ry="7.2" fill="#41336b" transform="rotate(132 1048 2738)"/><ellipse cx="1181" cy="2135" rx="8.0" ry="7.2" fill="#2c1f50" transform="rotate(53 1181 2135)"/><ellipse cx="1339" cy="2123" rx="10.9" ry="7.7" fill="#4c3f70" transform="rotate(90 1339 2123)"/><ellipse cx="1131" cy="2529" rx="9.3" ry="8.4" fill="#3c2e64" transform="rotate(169 1131 2529)"/><ellipse cx="1527" cy="2504" rx="9.5" ry="9.0" fill="#35275c" transform="rotate(119 1527 2504)"/><ellipse cx="1212" cy="2402" rx="9.4" ry="8.3" fill="#2a1d4c" transform="rotate(16 1212 2402)"/><ellipse cx="1381" cy="2373" rx="9.3" ry="7.9" fill="#41336b" transform="rotate(14 1381 2373)"/><ellipse cx="1459" cy="2234" rx="9.4" ry="6.9" fill="#3b2e63" transform="rotate(71 1459 2234)"/><ellipse cx="1427" cy="2091" rx="7.7" ry="5.9" fill="#33255a" transform="rotate(74 1427 2091)"/><ellipse cx="1288" cy="2264" rx="11.1" ry="7.7" fill="#2a1d4c" transform="rotate(11 1288 2264)"/><ellipse cx="1596" cy="2651" rx="11.4" ry="9.0" fill="#3b2e63" transform="rotate(61 1596 2651)"/><ellipse cx="1061" cy="2696" rx="10.3" ry="9.6" fill="#514373" transform="rotate(115 1061 2696)"/><ellipse cx="1326" cy="2311" rx="7.9" ry="6.7" fill="#4a3c70" transform="rotate(11 1326 2311)"/><ellipse cx="1334" cy="2614" rx="11.0" ry="8.0" fill="#3c2e64" transform="rotate(96 1334 2614)"/><ellipse cx="1559" cy="2731" rx="10.4" ry="7.0" fill="#433569" transform="rotate(149 1559 2731)"/><ellipse cx="1669" cy="2298" rx="9.1" ry="8.2" fill="#3b2e63" transform="rotate(13 1669 2298)"/><ellipse cx="1553" cy="2658" rx="8.9" ry="7.8" fill="#3b2e63" transform="rotate(20 1553 2658)"/><ellipse cx="1624" cy="2383" rx="8.5" ry="6.4" fill="#3b2e63" transform="rotate(62 1624 2383)"/><ellipse cx="1459" cy="2477" rx="11.0" ry="7.9" fill="#2c1f50" transform="rotate(38 1459 2477)"/><ellipse cx="1655" cy="2646" rx="11.1" ry="8.6" fill="#41336b" transform="rotate(115 1655 2646)"/><ellipse cx="1408" cy="2610" rx="8.5" ry="5.8" fill="#4c3f70" transform="rotate(12 1408 2610)"/><ellipse cx="1147" cy="2257" rx="11.0" ry="7.4" fill="#4a3c70" transform="rotate(10 1147 2257)"/><ellipse cx="1678" cy="2341" rx="10.6" ry="7.2" fill="#514373" transform="rotate(15 1678 2341)"/><ellipse cx="1041" cy="2454" rx="8.1" ry="5.7" fill="#2c1f50" transform="rotate(10 1041 2454)"/><ellipse cx="1726" cy="2537" rx="11.0" ry="10.4" fill="#3b2e63" transform="rotate(4 1726 2537)"/><ellipse cx="1462" cy="2145" rx="8.8" ry="7.6" fill="#41336b" transform="rotate(69 1462 2145)"/><ellipse cx="1293" cy="2408" rx="8.4" ry="7.7" fill="#35275c" transform="rotate(105 1293 2408)"/><ellipse cx="1271" cy="2111" rx="9.8" ry="8.4" fill="#35275c" transform="rotate(46 1271 2111)"/><ellipse cx="1365" cy="2128" rx="8.4" ry="6.0" fill="#4c3f70" transform="rotate(40 1365 2128)"/><ellipse cx="1391" cy="2676" rx="10.2" ry="7.6" fill="#2c1f50" transform="rotate(57 1391 2676)"/><ellipse cx="1562" cy="2366" rx="9.1" ry="7.8" fill="#40336a" transform="rotate(153 1562 2366)"/><ellipse cx="1650" cy="2492" rx="8.4" ry="6.9" fill="#2c1f50" transform="rotate(177 1650 2492)"/><ellipse cx="1438" cy="2529" rx="8.9" ry="7.8" fill="#35275c" transform="rotate(54 1438 2529)"/><ellipse cx="1117" cy="2415" rx="11.0" ry="8.7" fill="#2c1f50" transform="rotate(27 1117 2415)"/><ellipse cx="1702" cy="2639" rx="10.1" ry="7.0" fill="#2a1d4c" transform="rotate(37 1702 2639)"/><ellipse cx="1548" cy="2713" rx="7.8" ry="5.8" fill="#33255a" transform="rotate(132 1548 2713)"/><ellipse cx="1325" cy="2551" rx="9.5" ry="7.9" fill="#40336a" transform="rotate(141 1325 2551)"/><ellipse cx="1088" cy="2171" rx="7.6" ry="7.0" fill="#3b2e63" transform="rotate(43 1088 2171)"/><ellipse cx="1002" cy="2204" rx="8.4" ry="5.6" fill="#40336a" transform="rotate(125 1002 2204)"/><ellipse cx="1277" cy="2174" rx="8.3" ry="5.5" fill="#40336a" transform="rotate(34 1277 2174)"/><ellipse cx="1241" cy="2651" rx="7.7" ry="5.5" fill="#2a1d4c" transform="rotate(137 1241 2651)"/><ellipse cx="1039" cy="2092" rx="9.3" ry="6.5" fill="#40336a" transform="rotate(158 1039 2092)"/><ellipse cx="1557" cy="2094" rx="8.0" ry="6.5" fill="#3b2e63" transform="rotate(11 1557 2094)"/><ellipse cx="1632" cy="2144" rx="9.3" ry="6.8" fill="#2a1d4c" transform="rotate(136 1632 2144)"/><ellipse cx="1727" cy="2557" rx="10.3" ry="8.3" fill="#514373" transform="rotate(75 1727 2557)"/><ellipse cx="1043" cy="2356" rx="9.7" ry="6.3" fill="#514373" transform="rotate(143 1043 2356)"/><ellipse cx="1044" cy="2708" rx="9.4" ry="6.2" fill="#2c1f50" transform="rotate(145 1044 2708)"/><ellipse cx="1493" cy="2118" rx="8.9" ry="5.9" fill="#40336a" transform="rotate(62 1493 2118)"/><ellipse cx="1005" cy="2451" rx="10.2" ry="8.5" fill="#40336a" transform="rotate(60 1005 2451)"/><ellipse cx="1584" cy="2311" rx="7.7" ry="6.7" fill="#3b2e63" transform="rotate(115 1584 2311)"/><ellipse cx="1580" cy="2514" rx="7.7" ry="7.1" fill="#3b2e63" transform="rotate(24 1580 2514)"/><ellipse cx="1498" cy="2093" rx="8.1" ry="5.9" fill="#40336a" transform="rotate(54 1498 2093)"/><ellipse cx="1420" cy="2576" rx="8.1" ry="5.5" fill="#514373" transform="rotate(170 1420 2576)"/><ellipse cx="1056" cy="2130" rx="9.9" ry="8.5" fill="#433569" transform="rotate(135 1056 2130)"/><ellipse cx="1352" cy="2614" rx="9.8" ry="7.6" fill="#514373" transform="rotate(43 1352 2614)"/><ellipse cx="1137" cy="2589" rx="10.0" ry="6.9" fill="#40336a" transform="rotate(17 1137 2589)"/><ellipse cx="1490" cy="2342" rx="10.0" ry="7.9" fill="#40336a" transform="rotate(123 1490 2342)"/><ellipse cx="1426" cy="2737" rx="7.7" ry="7.0" fill="#2a1d4c" transform="rotate(56 1426 2737)"/><ellipse cx="1519" cy="2374" rx="11.2" ry="9.6" fill="#4c3f70" transform="rotate(172 1519 2374)"/><ellipse cx="1525" cy="2420" rx="9.4" ry="8.0" fill="#4c3f70" transform="rotate(152 1525 2420)"/><ellipse cx="1649" cy="2382" rx="8.2" ry="7.0" fill="#4a3c70" transform="rotate(131 1649 2382)"/><ellipse cx="1190" cy="2697" rx="11.1" ry="7.2" fill="#2c1f50" transform="rotate(33 1190 2697)"/><ellipse cx="1147" cy="2444" rx="9.5" ry="7.1" fill="#33255a" transform="rotate(150 1147 2444)"/><ellipse cx="1707" cy="2366" rx="8.1" ry="5.9" fill="#40336a" transform="rotate(83 1707 2366)"/><ellipse cx="1002" cy="2612" rx="11.5" ry="10.4" fill="#2a1d4c" transform="rotate(152 1002 2612)"/><ellipse cx="1628" cy="2525" rx="9.4" ry="8.4" fill="#40336a" transform="rotate(24 1628 2525)"/><ellipse cx="1133" cy="2350" rx="9.5" ry="7.4" fill="#2a1d4c" transform="rotate(10 1133 2350)"/><ellipse cx="1328" cy="2243" rx="8.3" ry="5.9" fill="#2a1d4c" transform="rotate(131 1328 2243)"/><ellipse cx="1194" cy="2571" rx="10.7" ry="9.2" fill="#3c2e64" transform="rotate(129 1194 2571)"/><ellipse cx="1209" cy="2450" rx="8.0" ry="6.4" fill="#4c3f70" transform="rotate(61 1209 2450)"/><ellipse cx="1426" cy="2476" rx="10.6" ry="9.6" fill="#33255a" transform="rotate(176 1426 2476)"/><ellipse cx="1699" cy="2425" rx="10.3" ry="7.1" fill="#41336b" transform="rotate(148 1699 2425)"/><ellipse cx="1699" cy="2192" rx="10.3" ry="7.8" fill="#2a1d4c" transform="rotate(170 1699 2192)"/><ellipse cx="1382" cy="2490" rx="10.5" ry="7.1" fill="#4c3f70" transform="rotate(175 1382 2490)"/><ellipse cx="1255" cy="2548" rx="7.5" ry="7.0" fill="#40336a" transform="rotate(155 1255 2548)"/><ellipse cx="1299" cy="2514" rx="8.0" ry="6.4" fill="#3c2e64" transform="rotate(46 1299 2514)"/><ellipse cx="1212" cy="2136" rx="10.9" ry="10.4" fill="#4c3f70" transform="rotate(112 1212 2136)"/><ellipse cx="1034" cy="2674" rx="9.2" ry="7.9" fill="#2a1d4c" transform="rotate(136 1034 2674)"/><ellipse cx="1354" cy="2166" rx="8.8" ry="6.7" fill="#4c3f70" transform="rotate(123 1354 2166)"/><ellipse cx="1727" cy="2092" rx="9.7" ry="8.5" fill="#433569" transform="rotate(173 1727 2092)"/><ellipse cx="1570" cy="2122" rx="10.8" ry="7.6" fill="#2c1f50" transform="rotate(122 1570 2122)"/><ellipse cx="1034" cy="2402" rx="8.0" ry="6.0" fill="#4c3f70" transform="rotate(74 1034 2402)"/><ellipse cx="1033" cy="2513" rx="8.4" ry="7.2" fill="#433569" transform="rotate(132 1033 2513)"/><ellipse cx="1717" cy="2574" rx="11.4" ry="8.5" fill="#3b2e63" transform="rotate(135 1717 2574)"/><ellipse cx="1182" cy="2522" rx="7.9" ry="5.7" fill="#3b2e63" transform="rotate(42 1182 2522)"/><ellipse cx="1519" cy="2188" rx="8.6" ry="7.3" fill="#40336a" transform="rotate(146 1519 2188)"/><ellipse cx="1162" cy="2297" rx="10.5" ry="9.3" fill="#41336b" transform="rotate(136 1162 2297)"/><ellipse cx="1075" cy="2410" rx="8.4" ry="7.1" fill="#35275c" transform="rotate(151 1075 2410)"/><ellipse cx="1232" cy="2542" rx="11.3" ry="10.7" fill="#3c2e64" transform="rotate(8 1232 2542)"/><ellipse cx="1415" cy="2332" rx="8.9" ry="7.7" fill="#3b2e63" transform="rotate(93 1415 2332)"/><ellipse cx="1697" cy="2126" rx="8.6" ry="8.1" fill="#41336b" transform="rotate(159 1697 2126)"/><ellipse cx="1321" cy="2631" rx="9.8" ry="9.2" fill="#3c2e64" transform="rotate(16 1321 2631)"/><ellipse cx="1580" cy="2222" rx="7.8" ry="5.8" fill="#3c2e64" transform="rotate(50 1580 2222)"/><ellipse cx="1323" cy="2358" rx="10.0" ry="8.5" fill="#4c3f70" transform="rotate(163 1323 2358)"/><ellipse cx="1337" cy="2340" rx="8.1" ry="6.4" fill="#3b2e63" transform="rotate(99 1337 2340)"/><ellipse cx="1137" cy="2233" rx="11.4" ry="9.6" fill="#33255a" transform="rotate(85 1137 2233)"/><ellipse cx="1345" cy="2188" rx="10.5" ry="8.8" fill="#33255a" transform="rotate(80 1345 2188)"/><ellipse cx="1334" cy="2471" rx="10.5" ry="9.9" fill="#514373" transform="rotate(57 1334 2471)"/><ellipse cx="1067" cy="2251" rx="10.9" ry="10.1" fill="#40336a" transform="rotate(145 1067 2251)"/><ellipse cx="1356" cy="2376" rx="8.4" ry="6.5" fill="#2a1d4c" transform="rotate(89 1356 2376)"/><ellipse cx="1274" cy="2440" rx="10.9" ry="10.2" fill="#2a1d4c" transform="rotate(4 1274 2440)"/><ellipse cx="1118" cy="2561" rx="10.3" ry="8.4" fill="#35275c" transform="rotate(21 1118 2561)"/><ellipse cx="1099" cy="2565" rx="7.8" ry="5.9" fill="#3c2e64" transform="rotate(103 1099 2565)"/><ellipse cx="1254" cy="2133" rx="10.7" ry="7.2" fill="#3c2e64" transform="rotate(114 1254 2133)"/><ellipse cx="1678" cy="2646" rx="10.4" ry="9.2" fill="#4a3c70" transform="rotate(6 1678 2646)"/><ellipse cx="1524" cy="2625" rx="9.6" ry="7.8" fill="#33255a" transform="rotate(36 1524 2625)"/><ellipse cx="1014" cy="2265" rx="8.8" ry="7.2" fill="#3b2e63" transform="rotate(94 1014 2265)"/><ellipse cx="1311" cy="2571" rx="10.8" ry="7.7" fill="#514373" transform="rotate(13 1311 2571)"/><ellipse cx="1648" cy="2199" rx="11.4" ry="10.4" fill="#433569" transform="rotate(133 1648 2199)"/><ellipse cx="1176" cy="2369" rx="8.6" ry="7.0" fill="#40336a" transform="rotate(174 1176 2369)"/><ellipse cx="1282" cy="2585" rx="9.5" ry="9.0" fill="#2a1d4c" transform="rotate(78 1282 2585)"/><ellipse cx="1704" cy="2223" rx="8.5" ry="7.3" fill="#40336a" transform="rotate(170 1704 2223)"/><ellipse cx="1241" cy="2304" rx="10.5" ry="8.2" fill="#2c1f50" transform="rotate(1 1241 2304)"/><ellipse cx="1696" cy="2344" rx="11.4" ry="9.8" fill="#35275c" transform="rotate(131 1696 2344)"/><ellipse cx="1628" cy="2466" rx="11.2" ry="10.6" fill="#40336a" transform="rotate(121 1628 2466)"/><ellipse cx="1665" cy="2516" rx="8.1" ry="5.7" fill="#514373" transform="rotate(67 1665 2516)"/><ellipse cx="1222" cy="2621" rx="8.7" ry="6.6" fill="#2c1f50" transform="rotate(88 1222 2621)"/><ellipse cx="1629" cy="2169" rx="9.9" ry="6.7" fill="#4a3c70" transform="rotate(59 1629 2169)"/><ellipse cx="1076" cy="2483" rx="10.4" ry="8.0" fill="#3c2e64" transform="rotate(113 1076 2483)"/><ellipse cx="1483" cy="2179" rx="8.6" ry="7.9" fill="#2c1f50" transform="rotate(145 1483 2179)"/><ellipse cx="1267" cy="2351" rx="10.7" ry="8.7" fill="#33255a" transform="rotate(55 1267 2351)"/><ellipse cx="1024" cy="2365" rx="8.0" ry="5.8" fill="#2a1d4c" transform="rotate(132 1024 2365)"/><ellipse cx="1364" cy="2316" rx="11.2" ry="10.6" fill="#41336b" transform="rotate(101 1364 2316)"/><ellipse cx="1485" cy="2503" rx="10.3" ry="8.1" fill="#4c3f70" transform="rotate(106 1485 2503)"/><ellipse cx="1628" cy="2553" rx="9.6" ry="7.7" fill="#3c2e64" transform="rotate(91 1628 2553)"/><ellipse cx="1187" cy="2284" rx="10.5" ry="9.9" fill="#2c1f50" transform="rotate(21 1187 2284)"/><ellipse cx="1031" cy="2229" rx="7.9" ry="6.7" fill="#2c1f50" transform="rotate(12 1031 2229)"/><ellipse cx="1157" cy="2203" rx="11.5" ry="9.6" fill="#3c2e64" transform="rotate(26 1157 2203)"/><ellipse cx="999" cy="2667" rx="8.5" ry="7.4" fill="#3b2e63" transform="rotate(12 999 2667)"/><ellipse cx="1106" cy="2612" rx="10.9" ry="10.2" fill="#40336a" transform="rotate(92 1106 2612)"/><ellipse cx="1584" cy="2270" rx="11.1" ry="8.5" fill="#33255a" transform="rotate(107 1584 2270)"/><ellipse cx="1449" cy="2419" rx="10.1" ry="8.7" fill="#35275c" transform="rotate(136 1449 2419)"/><ellipse cx="1062" cy="2356" rx="7.6" ry="5.6" fill="#3c2e64" transform="rotate(73 1062 2356)"/><ellipse cx="1082" cy="2192" rx="7.7" ry="6.6" fill="#3c2e64" transform="rotate(155 1082 2192)"/><ellipse cx="1070" cy="2391" rx="10.3" ry="7.7" fill="#433569" transform="rotate(78 1070 2391)"/><ellipse cx="1000" cy="2226" rx="8.5" ry="6.6" fill="#33255a" transform="rotate(47 1000 2226)"/><ellipse cx="1085" cy="2577" rx="8.2" ry="7.4" fill="#33255a" transform="rotate(103 1085 2577)"/><ellipse cx="1121" cy="2091" rx="7.5" ry="6.3" fill="#3b2e63" transform="rotate(19 1121 2091)"/><ellipse cx="1351" cy="2402" rx="9.6" ry="6.5" fill="#41336b" transform="rotate(90 1351 2402)"/><ellipse cx="1353" cy="2522" rx="9.5" ry="7.3" fill="#41336b" transform="rotate(111 1353 2522)"/><ellipse cx="1211" cy="2327" rx="7.5" ry="6.6" fill="#3c2e64" transform="rotate(55 1211 2327)"/><ellipse cx="1639" cy="2672" rx="10.6" ry="8.6" fill="#3c2e64" transform="rotate(121 1639 2672)"/><ellipse cx="1393" cy="2549" rx="8.0" ry="5.6" fill="#40336a" transform="rotate(62 1393 2549)"/><ellipse cx="1457" cy="2398" rx="8.6" ry="6.6" fill="#41336b" transform="rotate(167 1457 2398)"/><ellipse cx="1547" cy="2264" rx="7.5" ry="5.3" fill="#41336b" transform="rotate(173 1547 2264)"/><ellipse cx="1252" cy="2394" rx="8.5" ry="6.9" fill="#3c2e64" transform="rotate(160 1252 2394)"/><ellipse cx="1023" cy="2346" rx="9.5" ry="8.9" fill="#4c3f70" transform="rotate(67 1023 2346)"/><ellipse cx="1237" cy="2162" rx="10.4" ry="6.8" fill="#33255a" transform="rotate(97 1237 2162)"/><ellipse cx="1098" cy="2452" rx="9.5" ry="8.2" fill="#41336b" transform="rotate(172 1098 2452)"/><ellipse cx="1572" cy="2601" rx="7.5" ry="5.4" fill="#35275c" transform="rotate(6 1572 2601)"/><ellipse cx="1350" cy="2257" rx="11.0" ry="7.4" fill="#433569" transform="rotate(18 1350 2257)"/><ellipse cx="1055" cy="2409" rx="10.9" ry="8.9" fill="#4a3c70" transform="rotate(148 1055 2409)"/><ellipse cx="1657" cy="2337" rx="8.3" ry="6.9" fill="#41336b" transform="rotate(152 1657 2337)"/><ellipse cx="1115" cy="2332" rx="11.1" ry="7.7" fill="#3c2e64" transform="rotate(176 1115 2332)"/><ellipse cx="1412" cy="2126" rx="10.7" ry="8.6" fill="#2a1d4c" transform="rotate(68 1412 2126)"/><ellipse cx="1181" cy="2424" rx="8.1" ry="5.6" fill="#2a1d4c" transform="rotate(101 1181 2424)"/><ellipse cx="1421" cy="2166" rx="8.9" ry="6.1" fill="#514373" transform="rotate(172 1421 2166)"/><ellipse cx="1663" cy="2169" rx="7.7" ry="6.5" fill="#33255a" transform="rotate(179 1663 2169)"/><ellipse cx="1064" cy="2284" rx="8.6" ry="7.3" fill="#433569" transform="rotate(131 1064 2284)"/><ellipse cx="1110" cy="2737" rx="7.9" ry="5.5" fill="#514373" transform="rotate(122 1110 2737)"/><ellipse cx="1018" cy="2529" rx="7.6" ry="5.0" fill="#33255a" transform="rotate(111 1018 2529)"/><ellipse cx="1015" cy="2144" rx="8.4" ry="6.7" fill="#4a3c70" transform="rotate(74 1015 2144)"/><ellipse cx="1155" cy="2238" rx="10.7" ry="7.2" fill="#3c2e64" transform="rotate(176 1155 2238)"/><ellipse cx="1523" cy="2465" rx="11.4" ry="8.3" fill="#41336b" transform="rotate(143 1523 2465)"/><ellipse cx="1200" cy="2617" rx="8.7" ry="6.7" fill="#35275c" transform="rotate(29 1200 2617)"/><ellipse cx="1118" cy="2310" rx="11.0" ry="8.9" fill="#40336a" transform="rotate(14 1118 2310)"/><ellipse cx="1190" cy="2405" rx="9.8" ry="8.8" fill="#3c2e64" transform="rotate(63 1190 2405)"/><ellipse cx="1301" cy="2654" rx="10.4" ry="8.3" fill="#2c1f50" transform="rotate(174 1301 2654)"/><ellipse cx="1578" cy="2400" rx="11.0" ry="8.7" fill="#514373" transform="rotate(30 1578 2400)"/><ellipse cx="1664" cy="2478" rx="9.9" ry="7.4" fill="#3b2e63" transform="rotate(54 1664 2478)"/><ellipse cx="1078" cy="2335" rx="10.2" ry="8.7" fill="#433569" transform="rotate(94 1078 2335)"/><ellipse cx="1488" cy="2737" rx="8.9" ry="8.3" fill="#3b2e63" transform="rotate(39 1488 2737)"/><ellipse cx="1192" cy="2249" rx="9.0" ry="8.1" fill="#2a1d4c" transform="rotate(43 1192 2249)"/><ellipse cx="1296" cy="2618" rx="8.6" ry="7.0" fill="#40336a" transform="rotate(151 1296 2618)"/><ellipse cx="1270" cy="2231" rx="9.2" ry="7.4" fill="#514373" transform="rotate(83 1270 2231)"/><ellipse cx="1092" cy="2649" rx="7.9" ry="6.7" fill="#33255a" transform="rotate(27 1092 2649)"/><ellipse cx="1351" cy="2709" rx="7.9" ry="6.7" fill="#433569" transform="rotate(99 1351 2709)"/><ellipse cx="1122" cy="2248" rx="9.5" ry="8.5" fill="#3b2e63" transform="rotate(177 1122 2248)"/><ellipse cx="1148" cy="2536" rx="11.1" ry="8.6" fill="#33255a" transform="rotate(99 1148 2536)"/><ellipse cx="1729" cy="2672" rx="8.7" ry="6.7" fill="#35275c" transform="rotate(11 1729 2672)"/><ellipse cx="1204" cy="2362" rx="11.4" ry="8.5" fill="#2a1d4c" transform="rotate(33 1204 2362)"/><ellipse cx="1191" cy="2179" rx="10.0" ry="7.5" fill="#433569" transform="rotate(61 1191 2179)"/><ellipse cx="1085" cy="2525" rx="9.1" ry="8.3" fill="#433569" transform="rotate(147 1085 2525)"/><ellipse cx="1604" cy="2623" rx="8.5" ry="7.2" fill="#40336a" transform="rotate(178 1604 2623)"/><ellipse cx="1551" cy="2425" rx="8.0" ry="5.3" fill="#33255a" transform="rotate(65 1551 2425)"/><ellipse cx="1729" cy="2356" rx="8.5" ry="7.7" fill="#514373" transform="rotate(81 1729 2356)"/><ellipse cx="1033" cy="2150" rx="10.8" ry="7.3" fill="#433569" transform="rotate(116 1033 2150)"/><ellipse cx="1161" cy="2476" rx="9.9" ry="6.7" fill="#2c1f50" transform="rotate(99 1161 2476)"/><ellipse cx="1548" cy="2550" rx="10.7" ry="8.1" fill="#514373" transform="rotate(129 1548 2550)"/></g>
<g fill="#f4f0f6" filter="url(#wob2)"><ellipse cx="1040" cy="2340" rx="9" ry="6" transform="rotate(20 1040 2340)"/><ellipse cx="1052" cy="2398" rx="12" ry="7" transform="rotate(-10 1052 2398)"/><ellipse cx="1036" cy="2455" rx="8" ry="5" transform="rotate(40 1036 2455)"/><ellipse cx="1090" cy="2350" rx="7" ry="5" transform="rotate(0 1090 2350)"/><ellipse cx="1470" cy="2405" rx="12" ry="8" transform="rotate(-30 1470 2405)"/><ellipse cx="1480" cy="2395" rx="6" ry="10" transform="rotate(10 1480 2395)"/><ellipse cx="1120" cy="2330" rx="6" ry="4" transform="rotate(0 1120 2330)"/><ellipse cx="1050" cy="2260" rx="6" ry="4" transform="rotate(30 1050 2260)"/><ellipse cx="1228" cy="2170" rx="7" ry="4" transform="rotate(0 1228 2170)"/><ellipse cx="1380" cy="2635" rx="9" ry="5" transform="rotate(0 1380 2635)"/><ellipse cx="1440" cy="2650" rx="8" ry="4" transform="rotate(20 1440 2650)"/></g>
<g fill="#b83a34" filter="url(#b07)"><ellipse cx="1288" cy="2158" rx="6" ry="4"/><ellipse cx="1282" cy="2168" rx="5" ry="5"/><ellipse cx="1292" cy="2172" rx="5" ry="4"/><ellipse cx="1276" cy="2180" rx="5" ry="5"/><ellipse cx="1285" cy="2184" rx="4" ry="4"/><ellipse cx="1270" cy="2192" rx="4" ry="5"/><ellipse cx="1296" cy="2160" rx="4" ry="3"/></g>
<rect x="1024" y="2116" width="680" height="597" filter="url(#grain)" opacity="0.5"/>
</g>
<line x1="1034.5" y1="2670.1" x2="1513.7" y2="2670.1" stroke="#fff" stroke-width="3"/>
<line x1="1034.5" y1="2668.6" x2="1034.5" y2="2683.1" stroke="#fff" stroke-width="2.6"/>
<text x="1031.5" y="2704" font-size="12" fill="#fff" font-weight="bold">0</text>
<line x1="1130.3" y1="2668.6" x2="1130.3" y2="2683.1" stroke="#fff" stroke-width="2.6"/>
<text x="1121.3" y="2704" font-size="12" fill="#fff" font-weight="bold">50</text>
<line x1="1226.2" y1="2668.6" x2="1226.2" y2="2683.1" stroke="#fff" stroke-width="2.6"/>
<text x="1217.2" y="2704" font-size="12" fill="#fff" font-weight="bold">100</text>
<line x1="1322" y1="2668.6" x2="1322" y2="2683.1" stroke="#fff" stroke-width="2.6"/>
<text x="1313" y="2704" font-size="12" fill="#fff" font-weight="bold">150</text>
<line x1="1417.9" y1="2668.6" x2="1417.9" y2="2683.1" stroke="#fff" stroke-width="2.6"/>
<text x="1408.9" y="2704" font-size="12" fill="#fff" font-weight="bold">200</text>
<line x1="1513.7" y1="2668.6" x2="1513.7" y2="2683.1" stroke="#fff" stroke-width="2.6"/>
<text x="1504.7" y="2704" font-size="12" fill="#fff" font-weight="bold">250 µm</text>
</svg>
</body></html>
